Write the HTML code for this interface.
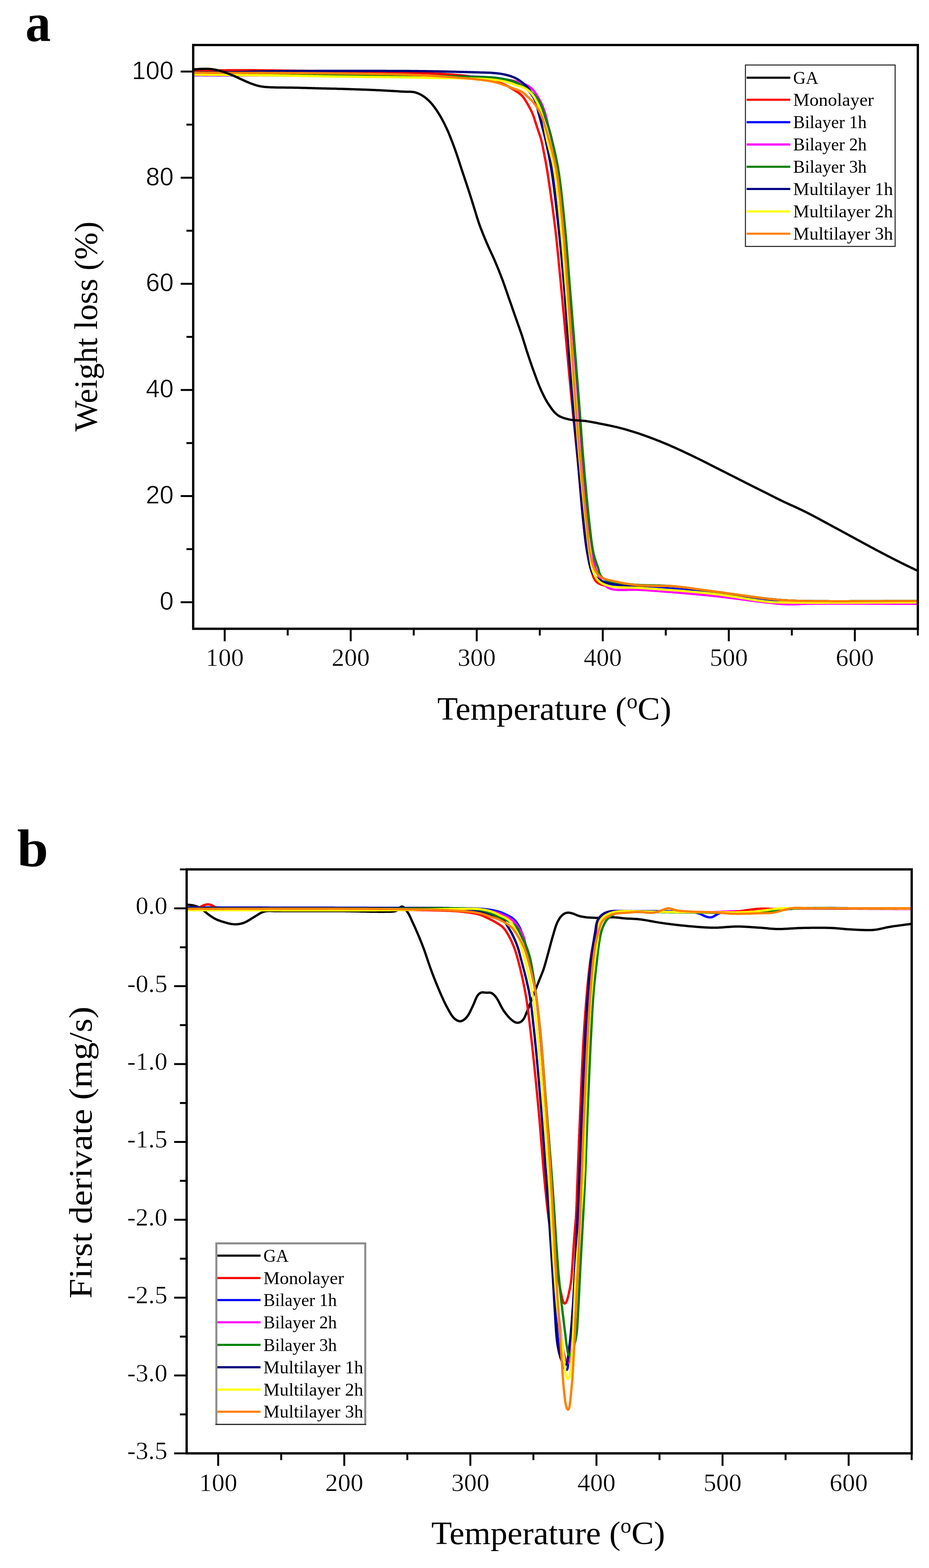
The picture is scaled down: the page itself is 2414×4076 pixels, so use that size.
<!DOCTYPE html>
<html><head><meta charset="utf-8"><title>TGA and DTG curves</title>
<style>
html,body{margin:0;padding:0;background:#fff;}
svg{display:block;}
</style></head>
<body>
<svg width="2414" height="4076" viewBox="0 0 2414 4076">
<rect x="0" y="0" width="2414" height="4076" fill="#fff"/>

<text x="66" y="107" font-family="'Liberation Serif', 'Times New Roman', serif" font-weight="bold" font-size="142" textLength="66" lengthAdjust="spacingAndGlyphs">a</text>
<text x="44.5" y="2252" font-family="'Liberation Serif', 'Times New Roman', serif" font-weight="bold" font-size="138" textLength="81" lengthAdjust="spacingAndGlyphs">b</text>
<defs><clipPath id="ca"><rect x="502.0" y="117.0" width="1883.0" height="1517.5"/></clipPath><clipPath id="cb"><rect x="485.0" y="2260.0" width="1884.0" height="1518.0"/></clipPath></defs>
<g clip-path="url(#ca)">
<path d="M502.0,185.0L505.0,184.9L508.0,184.8L511.0,184.8L514.0,184.7L517.0,184.6L520.0,184.5L523.0,184.4L526.0,184.3L529.0,184.2L532.0,184.1L535.0,184.0L538.0,184.0L541.0,183.9L544.0,183.8L547.0,183.7L550.0,183.6L553.0,183.5L556.0,183.4L559.0,183.3L562.0,183.3L565.0,183.2L568.0,183.1L571.0,183.0L574.0,183.0L577.0,182.9L580.0,182.8L583.0,182.8L586.0,182.7L589.0,182.7L592.0,182.6L595.0,182.6L598.0,182.5L601.0,182.5L604.0,182.5L607.0,182.4L610.0,182.4L613.0,182.4L616.0,182.4L619.0,182.4L622.0,182.4L625.0,182.4L628.0,182.4L631.0,182.4L634.0,182.4L637.0,182.4L640.0,182.4L643.0,182.4L646.0,182.5L649.0,182.5L652.0,182.5L655.0,182.5L658.0,182.6L661.0,182.6L664.0,182.6L667.0,182.7L670.0,182.7L673.0,182.7L676.0,182.7L679.0,182.8L682.0,182.8L685.0,182.8L688.0,182.9L691.0,182.9L694.0,182.9L697.0,183.0L700.0,183.0L703.0,183.0L706.0,183.1L709.0,183.1L712.0,183.1L715.0,183.2L718.0,183.2L721.0,183.2L724.0,183.3L727.0,183.3L730.0,183.3L733.0,183.4L736.0,183.4L739.0,183.5L742.0,183.5L745.0,183.5L748.0,183.6L751.0,183.6L754.0,183.7L757.0,183.7L760.0,183.7L763.0,183.8L766.0,183.8L769.0,183.9L772.0,183.9L775.0,184.0L778.0,184.0L781.0,184.0L784.0,184.1L787.0,184.1L790.0,184.2L793.0,184.2L796.0,184.3L799.0,184.3L802.0,184.4L805.0,184.4L808.0,184.5L811.0,184.5L814.0,184.6L817.0,184.6L820.0,184.7L823.0,184.7L826.0,184.7L829.0,184.8L832.0,184.8L834.9,184.9L837.9,184.9L840.9,185.0L843.9,185.0L846.9,185.1L849.9,185.1L852.9,185.2L855.9,185.2L858.9,185.3L861.9,185.3L864.9,185.4L867.9,185.4L870.9,185.5L873.9,185.5L876.9,185.6L879.9,185.7L882.9,185.7L885.9,185.8L888.9,185.8L891.9,185.9L894.9,185.9L897.9,186.0L900.9,186.0L903.9,186.1L906.9,186.1L909.9,186.2L912.9,186.2L915.9,186.3L918.9,186.3L921.9,186.4L924.9,186.4L927.9,186.5L930.9,186.5L933.9,186.5L936.9,186.6L939.9,186.6L942.9,186.7L945.9,186.7L948.9,186.8L951.9,186.8L954.9,186.9L957.9,186.9L960.9,186.9L963.9,187.0L966.9,187.0L969.9,187.1L972.9,187.1L975.9,187.2L978.9,187.2L981.9,187.3L984.9,187.3L987.9,187.3L990.9,187.4L993.9,187.4L996.9,187.5L999.9,187.5L1002.9,187.6L1005.9,187.6L1008.9,187.7L1011.9,187.7L1014.9,187.8L1017.9,187.8L1020.9,187.9L1023.9,188.0L1026.9,188.0L1029.9,188.1L1032.9,188.1L1035.9,188.2L1038.9,188.3L1041.9,188.3L1044.9,188.4L1047.9,188.4L1050.9,188.5L1053.9,188.6L1056.9,188.7L1059.9,188.7L1062.9,188.8L1065.9,188.9L1068.9,189.0L1071.9,189.1L1074.9,189.1L1077.9,189.2L1080.9,189.3L1083.9,189.4L1086.9,189.5L1089.9,189.6L1092.9,189.7L1095.9,189.8L1098.9,190.0L1101.9,190.1L1104.9,190.2L1107.9,190.3L1110.9,190.4L1113.9,190.6L1116.9,190.7L1119.9,190.8L1122.9,191.0L1125.9,191.1L1128.9,191.2L1131.9,191.4L1134.9,191.5L1137.9,191.7L1140.9,191.8L1143.9,192.0L1146.8,192.1L1149.8,192.3L1152.8,192.5L1155.8,192.6L1158.8,192.8L1161.8,193.0L1164.8,193.2L1167.8,193.4L1170.8,193.6L1173.8,193.8L1176.8,194.0L1179.8,194.2L1182.8,194.5L1185.8,194.7L1188.7,195.0L1191.7,195.2L1194.7,195.5L1197.7,195.8L1200.7,196.1L1203.7,196.4L1206.7,196.7L1209.6,197.0L1212.6,197.4L1215.6,197.7L1218.6,198.1L1221.6,198.5L1224.5,198.9L1227.5,199.3L1230.5,199.8L1233.4,200.2L1236.4,200.7L1239.4,201.2L1242.3,201.7L1245.3,202.2L1248.2,202.7L1251.2,203.2L1254.1,203.8L1257.1,204.3L1260.0,204.9L1263.0,205.5L1265.9,206.1L1268.8,206.7L1271.8,207.3L1274.7,208.0L1277.6,208.7L1280.5,209.4L1283.4,210.2L1286.3,211.0L1289.2,211.8L1292.1,212.7L1294.9,213.6L1297.8,214.6L1300.6,215.6L1303.4,216.6L1306.2,217.7L1309.0,218.9L1311.7,220.1L1314.4,221.3L1317.1,222.7L1319.8,224.1L1322.3,225.6L1324.9,227.1L1327.5,228.7L1330.0,230.3L1332.6,231.9L1335.1,233.4L1337.7,235.0L1340.2,236.6L1342.8,238.2L1345.2,239.9L1347.7,241.6L1350.1,243.3L1352.5,245.2L1354.7,247.2L1356.8,249.4L1358.7,251.6L1360.6,254.0L1362.3,256.4L1364.0,258.9L1365.6,261.4L1367.1,264.0L1368.7,266.6L1370.2,269.2L1371.7,271.8L1373.2,274.4L1374.7,277.0L1376.1,279.6L1377.5,282.3L1378.9,284.9L1380.2,287.6L1381.5,290.3L1382.7,293.1L1383.9,295.8L1385.1,298.6L1386.1,301.4L1387.1,304.2L1388.1,307.1L1389.0,309.9L1389.9,312.8L1390.7,315.7L1391.6,318.5L1392.6,321.4L1393.5,324.2L1394.4,327.1L1395.4,329.9L1396.3,332.8L1397.3,335.6L1398.2,338.5L1399.2,341.3L1400.2,344.1L1401.1,347.0L1402.1,349.8L1403.1,352.7L1404.0,355.5L1404.9,358.4L1405.7,361.3L1406.5,364.2L1407.2,367.1L1407.9,370.0L1408.6,372.9L1409.2,375.8L1409.8,378.8L1410.4,381.7L1411.0,384.7L1411.6,387.6L1412.2,390.5L1412.7,393.5L1413.3,396.4L1413.9,399.4L1414.5,402.3L1415.0,405.3L1415.6,408.2L1416.2,411.2L1416.7,414.1L1417.3,417.1L1417.9,420.0L1418.4,423.0L1418.9,425.9L1419.4,428.9L1419.9,431.8L1420.4,434.8L1420.9,437.7L1421.4,440.7L1421.9,443.7L1422.4,446.6L1422.8,449.6L1423.3,452.6L1423.7,455.5L1424.2,458.5L1424.6,461.4L1425.1,464.4L1425.5,467.4L1426.0,470.3L1426.4,473.3L1426.9,476.3L1427.3,479.3L1427.7,482.2L1428.2,485.2L1428.6,488.2L1429.0,491.1L1429.5,494.1L1429.9,497.1L1430.3,500.0L1430.7,503.0L1431.2,506.0L1431.6,508.9L1432.0,511.9L1432.4,514.9L1432.8,517.9L1433.2,520.8L1433.7,523.8L1434.1,526.8L1434.5,529.7L1434.9,532.7L1435.3,535.7L1435.7,538.7L1436.1,541.6L1436.5,544.6L1436.9,547.6L1437.3,550.6L1437.7,553.5L1438.1,556.5L1438.5,559.5L1438.8,562.5L1439.2,565.4L1439.6,568.4L1440.0,571.4L1440.4,574.4L1440.7,577.3L1441.1,580.3L1441.5,583.3L1441.8,586.3L1442.2,589.2L1442.6,592.2L1442.9,595.2L1443.3,598.2L1443.6,601.2L1444.0,604.1L1444.3,607.1L1444.6,610.1L1445.0,613.1L1445.3,616.1L1445.6,619.0L1446.0,622.0L1446.3,625.0L1446.6,628.0L1446.9,631.0L1447.2,634.0L1447.5,636.9L1447.8,639.9L1448.1,642.9L1448.4,645.9L1448.7,648.9L1449.0,651.9L1449.3,654.9L1449.6,657.8L1449.9,660.8L1450.2,663.8L1450.5,666.8L1450.8,669.8L1451.1,672.8L1451.4,675.8L1451.7,678.7L1451.9,681.7L1452.2,684.7L1452.5,687.7L1452.8,690.7L1453.1,693.7L1453.4,696.7L1453.6,699.6L1453.9,702.6L1454.2,705.6L1454.5,708.6L1454.8,711.6L1455.1,714.6L1455.3,717.6L1455.6,720.6L1455.9,723.5L1456.2,726.5L1456.5,729.5L1456.8,732.5L1457.1,735.5L1457.4,738.5L1457.6,741.5L1457.9,744.4L1458.2,747.4L1458.5,750.4L1458.8,753.4L1459.1,756.4L1459.4,759.4L1459.7,762.4L1459.9,765.3L1460.2,768.3L1460.5,771.3L1460.8,774.3L1461.1,777.3L1461.4,780.3L1461.6,783.3L1461.9,786.3L1462.2,789.2L1462.5,792.2L1462.8,795.2L1463.0,798.2L1463.3,801.2L1463.6,804.2L1463.9,807.2L1464.1,810.2L1464.4,813.1L1464.7,816.1L1465.0,819.1L1465.3,822.1L1465.5,825.1L1465.8,828.1L1466.1,831.1L1466.4,834.0L1466.6,837.0L1466.9,840.0L1467.2,843.0L1467.5,846.0L1467.7,849.0L1468.0,852.0L1468.3,855.0L1468.6,857.9L1468.8,860.9L1469.1,863.9L1469.4,866.9L1469.7,869.9L1469.9,872.9L1470.2,875.9L1470.5,878.9L1470.8,881.8L1471.0,884.8L1471.3,887.8L1471.6,890.8L1471.9,893.8L1472.1,896.8L1472.4,899.8L1472.7,902.8L1473.0,905.7L1473.2,908.7L1473.5,911.7L1473.8,914.7L1474.1,917.7L1474.3,920.7L1474.6,923.7L1474.9,926.7L1475.2,929.6L1475.4,932.6L1475.7,935.6L1476.0,938.6L1476.3,941.6L1476.5,944.6L1476.8,947.6L1477.1,950.6L1477.4,953.5L1477.6,956.5L1477.9,959.5L1478.2,962.5L1478.5,965.5L1478.8,968.5L1479.0,971.5L1479.3,974.5L1479.6,977.4L1479.9,980.4L1480.1,983.4L1480.4,986.4L1480.7,989.4L1481.0,992.4L1481.3,995.4L1481.5,998.3L1481.8,1001.3L1482.1,1004.3L1482.4,1007.3L1482.7,1010.3L1482.9,1013.3L1483.2,1016.3L1483.5,1019.3L1483.8,1022.2L1484.1,1025.2L1484.4,1028.2L1484.7,1031.2L1484.9,1034.2L1485.2,1037.2L1485.5,1040.2L1485.8,1043.1L1486.1,1046.1L1486.4,1049.1L1486.7,1052.1L1487.0,1055.1L1487.3,1058.1L1487.6,1061.1L1487.9,1064.0L1488.2,1067.0L1488.4,1070.0L1488.7,1073.0L1489.0,1076.0L1489.3,1079.0L1489.6,1082.0L1489.9,1084.9L1490.2,1087.9L1490.5,1090.9L1490.8,1093.9L1491.2,1096.9L1491.5,1099.9L1491.8,1102.8L1492.1,1105.8L1492.4,1108.8L1492.7,1111.8L1493.0,1114.8L1493.3,1117.8L1493.6,1120.8L1493.9,1123.7L1494.2,1126.7L1494.5,1129.7L1494.8,1132.7L1495.1,1135.7L1495.4,1138.7L1495.7,1141.6L1496.0,1144.6L1496.3,1147.6L1496.6,1150.6L1496.9,1153.6L1497.2,1156.6L1497.5,1159.6L1497.8,1162.5L1498.1,1165.5L1498.4,1168.5L1498.7,1171.5L1499.0,1174.5L1499.3,1177.5L1499.6,1180.5L1499.9,1183.4L1500.2,1186.4L1500.5,1189.4L1500.8,1192.4L1501.1,1195.4L1501.3,1198.4L1501.6,1201.4L1501.9,1204.3L1502.2,1207.3L1502.5,1210.3L1502.7,1213.3L1503.0,1216.3L1503.3,1219.3L1503.5,1222.3L1503.8,1225.3L1504.1,1228.2L1504.3,1231.2L1504.6,1234.2L1504.9,1237.2L1505.1,1240.2L1505.4,1243.2L1505.6,1246.2L1505.9,1249.2L1506.2,1252.2L1506.4,1255.1L1506.7,1258.1L1506.9,1261.1L1507.2,1264.1L1507.4,1267.1L1507.7,1270.1L1507.9,1273.1L1508.2,1276.1L1508.4,1279.1L1508.7,1282.0L1509.0,1285.0L1509.2,1288.0L1509.5,1291.0L1509.7,1294.0L1510.0,1297.0L1510.2,1300.0L1510.5,1303.0L1510.8,1306.0L1511.0,1308.9L1511.3,1311.9L1511.6,1314.9L1511.8,1317.9L1512.1,1320.9L1512.4,1323.9L1512.7,1326.9L1512.9,1329.9L1513.2,1332.8L1513.5,1335.8L1513.8,1338.8L1514.1,1341.8L1514.4,1344.8L1514.7,1347.8L1515.0,1350.8L1515.3,1353.7L1515.6,1356.7L1516.0,1359.7L1516.3,1362.7L1516.6,1365.7L1517.0,1368.7L1517.3,1371.6L1517.6,1374.6L1518.0,1377.6L1518.3,1380.6L1518.6,1383.6L1519.0,1386.5L1519.3,1389.5L1519.7,1392.5L1520.1,1395.5L1520.4,1398.5L1520.8,1401.4L1521.2,1404.4L1521.5,1407.4L1521.9,1410.4L1522.3,1413.3L1522.7,1416.3L1523.2,1419.3L1523.6,1422.2L1524.1,1425.2L1524.5,1428.2L1525.0,1431.1L1525.5,1434.1L1526.0,1437.0L1526.5,1440.0L1527.1,1443.0L1527.6,1445.9L1528.2,1448.8L1528.7,1451.8L1529.3,1454.7L1530.0,1457.7L1530.6,1460.6L1531.2,1463.5L1531.9,1466.4L1532.6,1469.4L1533.4,1472.3L1534.1,1475.2L1534.9,1478.1L1535.8,1480.9L1536.6,1483.8L1537.5,1486.7L1538.4,1489.5L1539.3,1492.4L1540.3,1495.2L1541.3,1498.1L1542.3,1500.9L1543.6,1503.6L1545.0,1506.2L1546.6,1508.7L1548.5,1511.0L1550.6,1513.1L1552.9,1514.9L1555.5,1516.4L1558.1,1517.8L1560.9,1519.0L1563.7,1520.0L1566.6,1520.9L1569.4,1521.6L1572.4,1522.3L1575.3,1522.8L1578.3,1523.2L1581.3,1523.5L1584.3,1523.7L1587.3,1524.0L1590.3,1524.2L1593.2,1524.4L1596.2,1524.7L1599.2,1524.9L1602.2,1525.2L1605.2,1525.5L1608.2,1525.8L1611.2,1526.1L1614.2,1526.3L1617.1,1526.6L1620.1,1526.8L1623.1,1527.1L1626.1,1527.3L1629.1,1527.5L1632.1,1527.8L1635.1,1528.0L1638.1,1528.2L1641.1,1528.4L1644.1,1528.6L1647.1,1528.8L1650.1,1529.0L1653.1,1529.2L1656.0,1529.4L1659.0,1529.5L1662.0,1529.7L1665.0,1529.8L1668.0,1530.0L1671.0,1530.1L1674.0,1530.2L1677.0,1530.3L1680.0,1530.5L1683.0,1530.6L1686.0,1530.7L1689.0,1530.8L1692.0,1530.9L1695.0,1531.1L1698.0,1531.2L1701.0,1531.3L1704.0,1531.4L1707.0,1531.6L1710.0,1531.7L1713.0,1531.8L1716.0,1532.0L1719.0,1532.1L1722.0,1532.2L1725.0,1532.4L1728.0,1532.6L1731.0,1532.7L1734.0,1532.9L1737.0,1533.1L1740.0,1533.3L1742.9,1533.5L1745.9,1533.7L1748.9,1533.9L1751.9,1534.2L1754.9,1534.4L1757.9,1534.7L1760.9,1534.9L1763.9,1535.2L1766.9,1535.5L1769.8,1535.8L1772.8,1536.0L1775.8,1536.3L1778.8,1536.6L1781.8,1537.0L1784.8,1537.3L1787.8,1537.6L1790.7,1537.9L1793.7,1538.2L1796.7,1538.6L1799.7,1538.9L1802.7,1539.2L1805.6,1539.6L1808.6,1539.9L1811.6,1540.3L1814.6,1540.6L1817.6,1541.0L1820.5,1541.4L1823.5,1541.7L1826.5,1542.1L1829.5,1542.4L1832.5,1542.8L1835.4,1543.2L1838.4,1543.6L1841.4,1543.9L1844.4,1544.3L1847.3,1544.7L1850.3,1545.0L1853.3,1545.4L1856.3,1545.8L1859.2,1546.2L1862.2,1546.6L1865.2,1547.0L1868.2,1547.4L1871.1,1547.8L1874.1,1548.2L1877.1,1548.6L1880.0,1549.0L1883.0,1549.5L1886.0,1549.9L1889.0,1550.3L1891.9,1550.7L1894.9,1551.2L1897.9,1551.6L1900.8,1552.0L1903.8,1552.5L1906.8,1552.9L1909.7,1553.3L1912.7,1553.8L1915.7,1554.2L1918.6,1554.6L1921.6,1555.0L1924.6,1555.5L1927.6,1555.9L1930.5,1556.3L1933.5,1556.7L1936.5,1557.2L1939.4,1557.6L1942.4,1558.0L1945.4,1558.4L1948.4,1558.8L1951.3,1559.2L1954.3,1559.6L1957.3,1560.0L1960.2,1560.4L1963.2,1560.8L1966.2,1561.2L1969.2,1561.5L1972.1,1561.9L1975.1,1562.3L1978.1,1562.7L1981.1,1563.1L1984.1,1563.4L1987.0,1563.7L1990.0,1564.1L1993.0,1564.4L1996.0,1564.6L1999.0,1564.9L2002.0,1565.1L2005.0,1565.4L2008.0,1565.6L2010.9,1565.8L2013.9,1565.9L2016.9,1566.1L2019.9,1566.2L2022.9,1566.3L2025.9,1566.4L2028.9,1566.5L2031.9,1566.6L2034.9,1566.7L2037.9,1566.7L2040.9,1566.8L2043.9,1566.9L2046.9,1566.9L2049.9,1567.0L2052.9,1567.1L2055.9,1567.1L2058.9,1567.1L2061.9,1567.2L2064.9,1567.2L2067.9,1567.3L2070.9,1567.3L2073.9,1567.3L2076.9,1567.3L2079.9,1567.4L2082.9,1567.4L2085.9,1567.4L2088.9,1567.4L2091.9,1567.4L2094.9,1567.5L2097.9,1567.5L2100.9,1567.5L2103.9,1567.5L2106.9,1567.5L2109.9,1567.5L2112.9,1567.5L2115.9,1567.5L2118.9,1567.5L2121.9,1567.5L2124.9,1567.5L2127.9,1567.5L2130.9,1567.5L2133.9,1567.6L2136.9,1567.6L2139.9,1567.6L2142.9,1567.6L2145.9,1567.6L2148.9,1567.5L2151.9,1567.5L2154.9,1567.5L2157.9,1567.5L2160.9,1567.5L2163.9,1567.5L2166.9,1567.5L2169.9,1567.5L2172.9,1567.5L2175.9,1567.5L2178.9,1567.5L2181.9,1567.5L2184.9,1567.5L2187.9,1567.5L2190.9,1567.5L2193.9,1567.5L2196.9,1567.5L2199.9,1567.5L2202.9,1567.5L2205.9,1567.4L2208.9,1567.4L2211.9,1567.4L2214.9,1567.4L2217.9,1567.4L2220.9,1567.4L2223.9,1567.4L2226.9,1567.4L2229.9,1567.4L2232.9,1567.4L2235.9,1567.4L2238.9,1567.3L2241.9,1567.3L2244.9,1567.3L2247.9,1567.3L2250.9,1567.3L2253.9,1567.3L2256.9,1567.3L2259.9,1567.3L2262.9,1567.3L2265.9,1567.3L2268.9,1567.3L2271.9,1567.2L2274.9,1567.2L2277.9,1567.2L2280.9,1567.2L2283.9,1567.2L2286.9,1567.2L2289.9,1567.2L2292.9,1567.2L2295.9,1567.2L2298.9,1567.2L2301.9,1567.1L2304.9,1567.1L2307.9,1567.1L2310.9,1567.1L2313.9,1567.1L2316.9,1567.1L2319.9,1567.1L2322.9,1567.1L2325.9,1567.1L2328.9,1567.1L2331.9,1567.1L2334.9,1567.1L2337.9,1567.1L2340.9,1567.0L2343.9,1567.0L2346.9,1567.0L2349.9,1567.0L2352.9,1567.0L2355.9,1567.0L2358.9,1567.0L2361.9,1567.0L2364.9,1567.0L2367.9,1567.0L2370.9,1567.0L2373.9,1567.0L2376.9,1567.0L2379.9,1567.0L2382.9,1567.0L2383.9,1567.0" fill="none" stroke="#FF0000" stroke-width="6" stroke-linejoin="round" stroke-linecap="butt"/>
<path d="M502.0,195.5L505.0,195.5L508.0,195.5L511.0,195.5L514.0,195.6L517.0,195.6L520.0,195.6L523.0,195.6L526.0,195.6L529.0,195.7L532.0,195.7L535.0,195.7L538.0,195.7L541.0,195.7L544.0,195.7L547.0,195.8L550.0,195.8L553.0,195.8L556.0,195.8L559.0,195.8L562.0,195.8L565.0,195.9L568.0,195.9L571.0,195.9L574.0,195.9L577.0,195.9L580.0,195.9L583.0,195.9L586.0,195.9L589.0,196.0L592.0,196.0L595.0,196.0L598.0,196.0L601.0,196.0L604.0,196.0L607.0,196.0L610.0,196.0L613.0,196.0L616.0,196.0L619.0,196.1L622.0,196.1L625.0,196.1L628.0,196.1L631.0,196.1L634.0,196.1L637.0,196.1L640.0,196.1L643.0,196.1L646.0,196.1L649.0,196.1L652.0,196.1L655.0,196.1L658.0,196.1L661.0,196.1L664.0,196.1L667.0,196.1L670.0,196.1L673.0,196.1L676.0,196.1L679.0,196.1L682.0,196.1L685.0,196.2L688.0,196.2L691.0,196.2L694.0,196.2L697.0,196.2L700.0,196.2L703.0,196.2L706.0,196.2L709.0,196.2L712.0,196.2L715.0,196.2L718.0,196.2L721.0,196.2L724.0,196.2L727.0,196.2L730.0,196.2L733.0,196.2L736.0,196.2L739.0,196.2L742.0,196.2L745.0,196.2L748.0,196.2L751.0,196.2L754.0,196.2L757.0,196.2L760.0,196.2L763.0,196.2L766.0,196.2L769.0,196.2L772.0,196.2L775.0,196.2L778.0,196.2L781.0,196.3L784.0,196.3L787.0,196.3L790.0,196.3L793.0,196.3L796.0,196.3L799.0,196.3L802.0,196.3L805.0,196.3L808.0,196.3L811.0,196.3L814.0,196.3L817.0,196.3L820.0,196.3L823.0,196.3L826.0,196.3L829.0,196.3L832.0,196.3L835.0,196.4L838.0,196.4L841.0,196.4L844.0,196.4L847.0,196.4L850.0,196.4L853.0,196.4L856.0,196.4L859.0,196.4L862.0,196.4L865.0,196.4L868.0,196.5L871.0,196.5L874.0,196.5L877.0,196.5L880.0,196.5L883.0,196.5L886.0,196.5L889.0,196.5L892.0,196.6L895.0,196.6L898.0,196.6L901.0,196.6L904.0,196.6L907.0,196.6L910.0,196.6L913.0,196.7L916.0,196.7L919.0,196.7L922.0,196.7L925.0,196.7L928.0,196.7L931.0,196.7L934.0,196.8L937.0,196.8L940.0,196.8L943.0,196.8L946.0,196.8L949.0,196.8L952.0,196.9L955.0,196.9L958.0,196.9L961.0,196.9L964.0,196.9L967.0,196.9L970.0,197.0L973.0,197.0L976.0,197.0L979.0,197.0L982.0,197.0L985.0,197.1L988.0,197.1L991.0,197.1L994.0,197.1L997.0,197.1L1000.0,197.2L1003.0,197.2L1006.0,197.2L1009.0,197.2L1012.0,197.2L1015.0,197.3L1018.0,197.3L1021.0,197.3L1024.0,197.3L1027.0,197.4L1030.0,197.4L1033.0,197.4L1036.0,197.4L1039.0,197.5L1042.0,197.5L1045.0,197.5L1048.0,197.5L1051.0,197.6L1054.0,197.6L1057.0,197.6L1060.0,197.6L1063.0,197.7L1066.0,197.7L1069.0,197.7L1072.0,197.7L1075.0,197.8L1078.0,197.8L1081.0,197.8L1084.0,197.8L1087.0,197.9L1090.0,197.9L1093.0,197.9L1096.0,198.0L1099.0,198.0L1102.0,198.0L1105.0,198.0L1108.0,198.1L1111.0,198.1L1114.0,198.1L1117.0,198.1L1120.0,198.2L1123.0,198.2L1126.0,198.2L1129.0,198.2L1132.0,198.2L1135.0,198.3L1138.0,198.3L1141.0,198.3L1144.0,198.3L1147.0,198.3L1150.0,198.4L1153.0,198.4L1156.0,198.4L1159.0,198.4L1162.0,198.4L1165.0,198.4L1168.0,198.5L1171.0,198.5L1174.0,198.5L1177.0,198.5L1180.0,198.6L1183.0,198.6L1186.0,198.6L1189.0,198.6L1192.0,198.7L1195.0,198.7L1198.0,198.7L1201.0,198.8L1204.0,198.8L1207.0,198.8L1210.0,198.9L1213.0,198.9L1216.0,199.0L1219.0,199.1L1222.0,199.1L1225.0,199.2L1228.0,199.3L1231.0,199.3L1234.0,199.4L1237.0,199.5L1240.0,199.6L1243.0,199.7L1246.0,199.8L1249.0,200.0L1252.0,200.1L1255.0,200.2L1258.0,200.4L1261.0,200.5L1264.0,200.7L1267.0,200.8L1269.9,201.0L1272.9,201.2L1275.9,201.4L1278.9,201.6L1281.9,201.8L1284.9,202.1L1287.9,202.4L1290.9,202.7L1293.8,203.1L1296.8,203.5L1299.8,204.0L1302.7,204.5L1305.7,205.0L1308.6,205.5L1311.6,206.1L1314.5,206.7L1317.5,207.4L1320.4,208.0L1323.3,208.8L1326.2,209.5L1329.1,210.4L1331.9,211.2L1334.8,212.2L1337.6,213.2L1340.4,214.2L1343.2,215.4L1345.9,216.6L1348.6,217.9L1351.3,219.3L1353.9,220.7L1356.5,222.2L1359.0,223.8L1361.5,225.5L1363.9,227.3L1366.3,229.2L1368.5,231.1L1370.7,233.2L1372.8,235.4L1374.8,237.6L1376.7,239.9L1378.6,242.2L1380.4,244.6L1382.1,247.1L1383.8,249.5L1385.4,252.1L1387.0,254.6L1388.4,257.3L1389.9,259.9L1391.2,262.6L1392.5,265.3L1393.8,268.0L1395.0,270.7L1396.1,273.5L1397.2,276.3L1398.2,279.1L1399.2,282.0L1400.2,284.8L1401.2,287.6L1402.1,290.5L1403.0,293.3L1403.9,296.2L1404.8,299.1L1405.6,301.9L1406.4,304.8L1407.2,307.7L1408.0,310.6L1408.8,313.5L1409.6,316.4L1410.4,319.3L1411.1,322.2L1411.9,325.1L1412.7,328.0L1413.4,330.9L1414.2,333.8L1414.9,336.7L1415.6,339.6L1416.3,342.6L1417.0,345.5L1417.6,348.4L1418.3,351.3L1418.9,354.3L1419.5,357.2L1420.1,360.2L1420.7,363.1L1421.3,366.0L1421.8,369.0L1422.4,371.9L1423.0,374.9L1423.5,377.8L1424.1,380.8L1424.6,383.7L1425.2,386.7L1425.7,389.6L1426.2,392.6L1426.8,395.5L1427.3,398.5L1427.8,401.4L1428.3,404.4L1428.8,407.4L1429.3,410.3L1429.8,413.3L1430.3,416.2L1430.8,419.2L1431.2,422.2L1431.7,425.1L1432.2,428.1L1432.6,431.1L1433.1,434.0L1433.5,437.0L1434.0,440.0L1434.4,442.9L1434.9,445.9L1435.3,448.9L1435.7,451.8L1436.1,454.8L1436.5,457.8L1436.9,460.7L1437.3,463.7L1437.7,466.7L1438.1,469.7L1438.5,472.6L1438.9,475.6L1439.3,478.6L1439.7,481.6L1440.0,484.5L1440.4,487.5L1440.8,490.5L1441.1,493.5L1441.5,496.5L1441.9,499.4L1442.2,502.4L1442.6,505.4L1442.9,508.4L1443.3,511.3L1443.6,514.3L1444.0,517.3L1444.3,520.3L1444.7,523.3L1445.0,526.2L1445.3,529.2L1445.7,532.2L1446.0,535.2L1446.4,538.2L1446.7,541.2L1447.0,544.1L1447.4,547.1L1447.7,550.1L1448.0,553.1L1448.3,556.1L1448.7,559.0L1449.0,562.0L1449.3,565.0L1449.6,568.0L1450.0,571.0L1450.3,574.0L1450.6,576.9L1450.9,579.9L1451.2,582.9L1451.6,585.9L1451.9,588.9L1452.2,591.9L1452.5,594.8L1452.8,597.8L1453.1,600.8L1453.4,603.8L1453.8,606.8L1454.1,609.8L1454.4,612.7L1454.7,615.7L1455.0,618.7L1455.3,621.7L1455.6,624.7L1455.9,627.7L1456.2,630.7L1456.5,633.6L1456.7,636.6L1457.0,639.6L1457.3,642.6L1457.6,645.6L1457.9,648.6L1458.2,651.6L1458.5,654.5L1458.7,657.5L1459.0,660.5L1459.3,663.5L1459.6,666.5L1459.8,669.5L1460.1,672.5L1460.4,675.5L1460.6,678.4L1460.9,681.4L1461.2,684.4L1461.4,687.4L1461.7,690.4L1462.0,693.4L1462.2,696.4L1462.5,699.4L1462.8,702.3L1463.0,705.3L1463.3,708.3L1463.5,711.3L1463.8,714.3L1464.1,717.3L1464.3,720.3L1464.6,723.3L1464.8,726.3L1465.1,729.2L1465.3,732.2L1465.6,735.2L1465.8,738.2L1466.1,741.2L1466.4,744.2L1466.6,747.2L1466.9,750.2L1467.1,753.2L1467.3,756.2L1467.6,759.1L1467.8,762.1L1468.1,765.1L1468.3,768.1L1468.6,771.1L1468.8,774.1L1469.0,777.1L1469.3,780.1L1469.5,783.1L1469.7,786.1L1470.0,789.0L1470.2,792.0L1470.4,795.0L1470.7,798.0L1470.9,801.0L1471.1,804.0L1471.4,807.0L1471.6,810.0L1471.8,813.0L1472.0,816.0L1472.3,819.0L1472.5,822.0L1472.7,824.9L1473.0,827.9L1473.2,830.9L1473.4,833.9L1473.6,836.9L1473.9,839.9L1474.1,842.9L1474.3,845.9L1474.5,848.9L1474.8,851.9L1475.0,854.9L1475.2,857.9L1475.4,860.8L1475.6,863.8L1475.9,866.8L1476.1,869.8L1476.3,872.8L1476.5,875.8L1476.8,878.8L1477.0,881.8L1477.2,884.8L1477.4,887.8L1477.6,890.8L1477.9,893.8L1478.1,896.7L1478.3,899.7L1478.5,902.7L1478.7,905.7L1479.0,908.7L1479.2,911.7L1479.4,914.7L1479.6,917.7L1479.9,920.7L1480.1,923.7L1480.3,926.7L1480.5,929.7L1480.7,932.6L1481.0,935.6L1481.2,938.6L1481.4,941.6L1481.6,944.6L1481.9,947.6L1482.1,950.6L1482.3,953.6L1482.5,956.6L1482.8,959.6L1483.0,962.6L1483.2,965.6L1483.4,968.5L1483.7,971.5L1483.9,974.5L1484.1,977.5L1484.3,980.5L1484.6,983.5L1484.8,986.5L1485.0,989.5L1485.2,992.5L1485.5,995.5L1485.7,998.5L1485.9,1001.4L1486.2,1004.4L1486.4,1007.4L1486.6,1010.4L1486.9,1013.4L1487.1,1016.4L1487.3,1019.4L1487.6,1022.4L1487.8,1025.4L1488.1,1028.4L1488.3,1031.4L1488.5,1034.3L1488.8,1037.3L1489.0,1040.3L1489.3,1043.3L1489.5,1046.3L1489.8,1049.3L1490.0,1052.3L1490.3,1055.3L1490.5,1058.3L1490.8,1061.3L1491.0,1064.2L1491.3,1067.2L1491.5,1070.2L1491.8,1073.2L1492.0,1076.2L1492.3,1079.2L1492.5,1082.2L1492.8,1085.2L1493.0,1088.2L1493.3,1091.1L1493.6,1094.1L1493.8,1097.1L1494.1,1100.1L1494.3,1103.1L1494.6,1106.1L1494.9,1109.1L1495.1,1112.1L1495.4,1115.1L1495.6,1118.0L1495.9,1121.0L1496.2,1124.0L1496.4,1127.0L1496.7,1130.0L1497.0,1133.0L1497.2,1136.0L1497.5,1139.0L1497.8,1142.0L1498.0,1144.9L1498.3,1147.9L1498.6,1150.9L1498.8,1153.9L1499.1,1156.9L1499.4,1159.9L1499.6,1162.9L1499.9,1165.9L1500.2,1168.8L1500.4,1171.8L1500.7,1174.8L1501.0,1177.8L1501.3,1180.8L1501.5,1183.8L1501.8,1186.8L1502.1,1189.8L1502.3,1192.7L1502.6,1195.7L1502.9,1198.7L1503.2,1201.7L1503.4,1204.7L1503.7,1207.7L1504.0,1210.7L1504.2,1213.7L1504.5,1216.6L1504.8,1219.6L1505.0,1222.6L1505.3,1225.6L1505.6,1228.6L1505.8,1231.6L1506.1,1234.6L1506.4,1237.6L1506.6,1240.6L1506.9,1243.5L1507.2,1246.5L1507.4,1249.5L1507.7,1252.5L1508.0,1255.5L1508.2,1258.5L1508.5,1261.5L1508.8,1264.5L1509.1,1267.4L1509.3,1270.4L1509.6,1273.4L1509.9,1276.4L1510.1,1279.4L1510.4,1282.4L1510.7,1285.4L1511.0,1288.4L1511.2,1291.3L1511.5,1294.3L1511.8,1297.3L1512.1,1300.3L1512.3,1303.3L1512.6,1306.3L1512.9,1309.3L1513.2,1312.3L1513.5,1315.2L1513.8,1318.2L1514.0,1321.2L1514.3,1324.2L1514.6,1327.2L1514.9,1330.2L1515.2,1333.2L1515.5,1336.1L1515.8,1339.1L1516.1,1342.1L1516.4,1345.1L1516.7,1348.1L1517.0,1351.1L1517.4,1354.0L1517.7,1357.0L1518.0,1360.0L1518.3,1363.0L1518.6,1366.0L1519.0,1369.0L1519.3,1371.9L1519.6,1374.9L1519.9,1377.9L1520.2,1380.9L1520.5,1383.9L1520.8,1386.9L1521.2,1389.8L1521.5,1392.8L1521.8,1395.8L1522.1,1398.8L1522.5,1401.8L1522.8,1404.8L1523.2,1407.7L1523.5,1410.7L1523.9,1413.7L1524.3,1416.7L1524.7,1419.6L1525.1,1422.6L1525.6,1425.6L1526.0,1428.5L1526.5,1431.5L1527.0,1434.5L1527.5,1437.4L1528.1,1440.4L1528.6,1443.3L1529.2,1446.3L1529.7,1449.2L1530.2,1452.2L1530.8,1455.1L1531.3,1458.1L1531.9,1461.0L1532.5,1463.9L1533.2,1466.9L1533.8,1469.8L1534.6,1472.7L1535.4,1475.6L1536.3,1478.5L1537.2,1481.3L1538.3,1484.1L1539.5,1486.8L1540.9,1489.5L1542.4,1492.1L1543.9,1494.6L1545.7,1497.1L1547.5,1499.4L1549.4,1501.7L1551.5,1503.9L1553.7,1505.9L1556.0,1507.8L1558.4,1509.6L1561.0,1511.2L1563.6,1512.6L1566.3,1513.9L1569.1,1515.0L1571.9,1515.9L1574.8,1516.7L1577.7,1517.4L1580.6,1518.0L1583.6,1518.6L1586.5,1519.1L1589.5,1519.5L1592.5,1519.9L1595.4,1520.4L1598.4,1520.8L1601.4,1521.2L1604.4,1521.5L1607.4,1521.8L1610.3,1522.1L1613.3,1522.3L1616.3,1522.5L1619.3,1522.6L1622.3,1522.8L1625.3,1522.9L1628.3,1523.0L1631.3,1523.1L1634.3,1523.2L1637.3,1523.3L1640.3,1523.4L1643.3,1523.6L1646.3,1523.8L1649.3,1524.0L1652.3,1524.2L1655.3,1524.4L1658.3,1524.6L1661.3,1524.8L1664.3,1525.0L1667.2,1525.2L1670.2,1525.4L1673.2,1525.6L1676.2,1525.8L1679.2,1526.0L1682.2,1526.2L1685.2,1526.5L1688.2,1526.7L1691.2,1526.9L1694.2,1527.1L1697.2,1527.3L1700.2,1527.5L1703.2,1527.7L1706.1,1527.9L1709.1,1528.2L1712.1,1528.4L1715.1,1528.6L1718.1,1528.8L1721.1,1529.0L1724.1,1529.2L1727.1,1529.5L1730.1,1529.7L1733.1,1529.9L1736.1,1530.1L1739.1,1530.4L1742.1,1530.6L1745.0,1530.8L1748.0,1531.0L1751.0,1531.3L1754.0,1531.5L1757.0,1531.7L1760.0,1532.0L1763.0,1532.2L1766.0,1532.4L1769.0,1532.7L1772.0,1532.9L1775.0,1533.2L1777.9,1533.4L1780.9,1533.6L1783.9,1533.9L1786.9,1534.1L1789.9,1534.4L1792.9,1534.6L1795.9,1534.9L1798.9,1535.2L1801.9,1535.4L1804.8,1535.7L1807.8,1535.9L1810.8,1536.2L1813.8,1536.5L1816.8,1536.7L1819.8,1537.0L1822.8,1537.3L1825.8,1537.6L1828.7,1537.9L1831.7,1538.1L1834.7,1538.4L1837.7,1538.7L1840.7,1539.0L1843.7,1539.3L1846.7,1539.7L1849.6,1540.0L1852.6,1540.3L1855.6,1540.6L1858.6,1541.0L1861.6,1541.3L1864.5,1541.6L1867.5,1542.0L1870.5,1542.4L1873.5,1542.7L1876.5,1543.1L1879.4,1543.5L1882.4,1543.9L1885.4,1544.3L1888.4,1544.7L1891.3,1545.0L1894.3,1545.4L1897.3,1545.9L1900.2,1546.3L1903.2,1546.7L1906.2,1547.1L1909.2,1547.5L1912.1,1547.9L1915.1,1548.3L1918.1,1548.8L1921.0,1549.2L1924.0,1549.6L1927.0,1550.0L1930.0,1550.5L1932.9,1550.9L1935.9,1551.3L1938.9,1551.8L1941.8,1552.2L1944.8,1552.6L1947.8,1553.1L1950.7,1553.5L1953.7,1553.9L1956.7,1554.3L1959.6,1554.8L1962.6,1555.2L1965.6,1555.6L1968.6,1556.0L1971.5,1556.4L1974.5,1556.8L1977.5,1557.2L1980.4,1557.6L1983.4,1558.0L1986.4,1558.4L1989.4,1558.8L1992.4,1559.1L1995.3,1559.5L1998.3,1559.8L2001.3,1560.1L2004.3,1560.4L2007.3,1560.8L2010.2,1561.0L2013.2,1561.3L2016.2,1561.6L2019.2,1561.9L2022.2,1562.2L2025.2,1562.4L2028.2,1562.6L2031.2,1562.9L2034.2,1563.1L2037.2,1563.3L2040.1,1563.5L2043.1,1563.6L2046.1,1563.8L2049.1,1563.9L2052.1,1564.1L2055.1,1564.2L2058.1,1564.3L2061.1,1564.4L2064.1,1564.5L2067.1,1564.6L2070.1,1564.7L2073.1,1564.7L2076.1,1564.8L2079.1,1564.8L2082.1,1564.8L2085.1,1564.9L2088.1,1564.9L2091.1,1564.9L2094.1,1564.9L2097.1,1565.0L2100.1,1565.0L2103.1,1565.0L2106.1,1565.1L2109.1,1565.1L2112.1,1565.1L2115.1,1565.1L2118.1,1565.1L2121.1,1565.1L2124.1,1565.2L2127.1,1565.2L2130.1,1565.2L2133.1,1565.2L2136.1,1565.2L2139.1,1565.2L2142.1,1565.2L2145.1,1565.2L2148.1,1565.2L2151.1,1565.2L2154.1,1565.2L2157.1,1565.2L2160.1,1565.2L2163.1,1565.2L2166.1,1565.2L2169.1,1565.2L2172.1,1565.2L2175.1,1565.2L2178.1,1565.2L2181.1,1565.2L2184.1,1565.2L2187.1,1565.2L2190.1,1565.2L2193.1,1565.2L2196.1,1565.2L2199.1,1565.2L2202.1,1565.2L2205.1,1565.2L2208.1,1565.2L2211.1,1565.2L2214.1,1565.2L2217.1,1565.2L2220.1,1565.2L2223.1,1565.2L2226.1,1565.2L2229.1,1565.2L2232.1,1565.2L2235.1,1565.2L2238.1,1565.2L2241.1,1565.2L2244.1,1565.2L2247.1,1565.2L2250.1,1565.2L2253.1,1565.2L2256.1,1565.2L2259.1,1565.2L2262.1,1565.2L2265.1,1565.2L2268.1,1565.1L2271.1,1565.1L2274.1,1565.1L2277.1,1565.1L2280.1,1565.1L2283.1,1565.1L2286.1,1565.1L2289.1,1565.1L2292.1,1565.1L2295.1,1565.1L2298.1,1565.1L2301.1,1565.1L2304.1,1565.1L2307.1,1565.1L2310.1,1565.1L2313.1,1565.1L2316.1,1565.1L2319.1,1565.1L2322.1,1565.1L2325.1,1565.1L2328.1,1565.0L2331.1,1565.0L2334.1,1565.0L2337.1,1565.0L2340.1,1565.0L2343.1,1565.0L2346.1,1565.0L2349.1,1565.0L2352.1,1565.0L2355.1,1565.0L2358.1,1565.0L2361.1,1565.0L2364.1,1565.0L2367.1,1565.0L2370.1,1565.0L2373.1,1565.0L2376.1,1565.0L2379.1,1565.0L2382.1,1565.0L2383.1,1565.0" fill="none" stroke="#0000FF" stroke-width="6" stroke-linejoin="round" stroke-linecap="butt"/>
<path d="M502.0,195.0L505.0,195.0L508.0,195.0L511.0,195.0L514.0,195.1L517.0,195.1L520.0,195.1L523.0,195.1L526.0,195.1L529.0,195.1L532.0,195.2L535.0,195.2L538.0,195.2L541.0,195.2L544.0,195.2L547.0,195.2L550.0,195.2L553.0,195.3L556.0,195.3L559.0,195.3L562.0,195.3L565.0,195.3L568.0,195.3L571.0,195.3L574.0,195.4L577.0,195.4L580.0,195.4L583.0,195.4L586.0,195.4L589.0,195.4L592.0,195.5L595.0,195.5L598.0,195.5L601.0,195.5L604.0,195.5L607.0,195.5L610.0,195.5L613.0,195.6L616.0,195.6L619.0,195.6L622.0,195.6L625.0,195.6L628.0,195.6L631.0,195.6L634.0,195.7L637.0,195.7L640.0,195.7L643.0,195.7L646.0,195.7L649.0,195.7L652.0,195.7L655.0,195.8L658.0,195.8L661.0,195.8L664.0,195.8L667.0,195.8L670.0,195.8L673.0,195.8L676.0,195.9L679.0,195.9L682.0,195.9L685.0,195.9L688.0,195.9L691.0,195.9L694.0,195.9L697.0,196.0L700.0,196.0L703.0,196.0L706.0,196.0L709.0,196.0L712.0,196.0L715.0,196.0L718.0,196.1L721.0,196.1L724.0,196.1L727.0,196.1L730.0,196.1L733.0,196.1L736.0,196.1L739.0,196.2L742.0,196.2L745.0,196.2L748.0,196.2L751.0,196.2L754.0,196.2L757.0,196.3L760.0,196.3L763.0,196.3L766.0,196.3L769.0,196.3L772.0,196.3L775.0,196.4L778.0,196.4L781.0,196.4L784.0,196.4L787.0,196.4L790.0,196.4L793.0,196.5L796.0,196.5L799.0,196.5L802.0,196.5L805.0,196.5L808.0,196.5L811.0,196.6L814.0,196.6L817.0,196.6L820.0,196.6L823.0,196.6L826.0,196.6L829.0,196.7L832.0,196.7L835.0,196.7L838.0,196.7L841.0,196.7L844.0,196.8L847.0,196.8L850.0,196.8L853.0,196.8L856.0,196.8L859.0,196.9L862.0,196.9L865.0,196.9L868.0,196.9L871.0,196.9L874.0,197.0L877.0,197.0L880.0,197.0L883.0,197.0L886.0,197.0L889.0,197.1L892.0,197.1L895.0,197.1L898.0,197.1L901.0,197.1L904.0,197.2L907.0,197.2L910.0,197.2L913.0,197.2L916.0,197.2L919.0,197.3L922.0,197.3L925.0,197.3L928.0,197.3L931.0,197.3L934.0,197.3L937.0,197.4L940.0,197.4L943.0,197.4L946.0,197.4L949.0,197.4L952.0,197.5L955.0,197.5L958.0,197.5L961.0,197.5L964.0,197.5L967.0,197.6L970.0,197.6L973.0,197.6L976.0,197.6L979.0,197.6L982.0,197.7L985.0,197.7L988.0,197.7L991.0,197.7L994.0,197.7L997.0,197.8L1000.0,197.8L1003.0,197.8L1006.0,197.8L1009.0,197.9L1012.0,197.9L1015.0,197.9L1018.0,197.9L1021.0,198.0L1024.0,198.0L1027.0,198.0L1030.0,198.0L1033.0,198.1L1036.0,198.1L1039.0,198.1L1042.0,198.2L1045.0,198.2L1048.0,198.2L1051.0,198.3L1054.0,198.3L1057.0,198.3L1060.0,198.4L1063.0,198.4L1066.0,198.5L1069.0,198.5L1072.0,198.5L1075.0,198.6L1078.0,198.6L1081.0,198.7L1084.0,198.7L1087.0,198.8L1090.0,198.8L1093.0,198.9L1096.0,198.9L1099.0,199.0L1102.0,199.0L1105.0,199.1L1108.0,199.1L1111.0,199.2L1114.0,199.2L1117.0,199.3L1120.0,199.3L1123.0,199.4L1126.0,199.4L1129.0,199.5L1132.0,199.5L1135.0,199.6L1138.0,199.6L1141.0,199.7L1144.0,199.7L1147.0,199.8L1150.0,199.8L1153.0,199.9L1156.0,199.9L1159.0,200.0L1162.0,200.0L1165.0,200.1L1168.0,200.1L1171.0,200.2L1174.0,200.2L1177.0,200.3L1180.0,200.4L1183.0,200.4L1186.0,200.5L1189.0,200.5L1192.0,200.6L1195.0,200.7L1198.0,200.7L1201.0,200.8L1204.0,200.9L1207.0,200.9L1210.0,201.0L1213.0,201.1L1216.0,201.2L1219.0,201.2L1222.0,201.3L1225.0,201.4L1228.0,201.5L1231.0,201.6L1234.0,201.7L1237.0,201.8L1240.0,201.9L1242.9,202.0L1245.9,202.2L1248.9,202.3L1251.9,202.4L1254.9,202.5L1257.9,202.7L1260.9,202.8L1263.9,203.0L1266.9,203.2L1269.9,203.3L1272.9,203.5L1275.9,203.7L1278.9,203.9L1281.9,204.1L1284.9,204.4L1287.9,204.6L1290.9,204.8L1293.9,205.1L1296.8,205.3L1299.8,205.6L1302.8,205.9L1305.8,206.2L1308.8,206.5L1311.8,206.8L1314.8,207.1L1317.7,207.5L1320.7,207.9L1323.7,208.3L1326.6,208.8L1329.6,209.3L1332.5,209.8L1335.5,210.4L1338.4,211.0L1341.3,211.7L1344.3,212.4L1347.2,213.2L1350.0,214.0L1352.9,214.9L1355.7,215.9L1358.6,216.9L1361.3,218.0L1364.1,219.1L1366.8,220.4L1369.5,221.8L1372.1,223.2L1374.6,224.8L1377.1,226.6L1379.4,228.4L1381.6,230.4L1383.7,232.5L1385.8,234.8L1387.7,237.1L1389.5,239.5L1391.2,241.9L1392.9,244.4L1394.6,246.9L1396.1,249.4L1397.7,252.0L1399.2,254.6L1400.7,257.2L1402.1,259.8L1403.5,262.5L1404.9,265.1L1406.2,267.8L1407.5,270.5L1408.8,273.3L1409.9,276.0L1411.0,278.8L1412.1,281.6L1413.1,284.5L1414.0,287.3L1415.0,290.1L1415.9,293.0L1416.8,295.9L1417.6,298.8L1418.4,301.6L1419.2,304.5L1419.9,307.5L1420.6,310.4L1421.3,313.3L1422.0,316.2L1422.6,319.1L1423.3,322.1L1424.0,325.0L1424.7,327.9L1425.5,330.8L1426.3,333.7L1427.1,336.6L1427.9,339.5L1428.7,342.4L1429.5,345.2L1430.4,348.1L1431.2,351.0L1431.9,353.9L1432.7,356.8L1433.4,359.7L1434.1,362.6L1434.8,365.6L1435.5,368.5L1436.2,371.4L1436.9,374.3L1437.6,377.2L1438.2,380.2L1438.9,383.1L1439.6,386.0L1440.2,388.9L1440.9,391.9L1441.5,394.8L1442.1,397.7L1442.7,400.7L1443.3,403.6L1443.9,406.6L1444.5,409.5L1445.1,412.4L1445.7,415.4L1446.2,418.3L1446.8,421.3L1447.3,424.2L1447.8,427.2L1448.4,430.1L1448.9,433.1L1449.4,436.1L1449.8,439.0L1450.3,442.0L1450.8,445.0L1451.2,447.9L1451.6,450.9L1452.1,453.9L1452.5,456.8L1452.9,459.8L1453.3,462.8L1453.7,465.7L1454.1,468.7L1454.5,471.7L1454.9,474.7L1455.2,477.6L1455.6,480.6L1456.0,483.6L1456.3,486.6L1456.7,489.6L1457.0,492.5L1457.4,495.5L1457.7,498.5L1458.0,501.5L1458.4,504.5L1458.7,507.4L1459.0,510.4L1459.3,513.4L1459.7,516.4L1460.0,519.4L1460.3,522.4L1460.6,525.3L1460.9,528.3L1461.2,531.3L1461.5,534.3L1461.8,537.3L1462.1,540.3L1462.4,543.2L1462.7,546.2L1463.0,549.2L1463.3,552.2L1463.6,555.2L1463.9,558.2L1464.2,561.2L1464.5,564.1L1464.8,567.1L1465.1,570.1L1465.4,573.1L1465.7,576.1L1465.9,579.1L1466.2,582.1L1466.5,585.0L1466.8,588.0L1467.1,591.0L1467.4,594.0L1467.7,597.0L1467.9,600.0L1468.2,603.0L1468.5,606.0L1468.8,608.9L1469.0,611.9L1469.3,614.9L1469.5,617.9L1469.8,620.9L1470.1,623.9L1470.3,626.9L1470.6,629.9L1470.8,632.9L1471.0,635.8L1471.3,638.8L1471.5,641.8L1471.8,644.8L1472.0,647.8L1472.2,650.8L1472.5,653.8L1472.7,656.8L1472.9,659.8L1473.1,662.8L1473.4,665.8L1473.6,668.7L1473.8,671.7L1474.0,674.7L1474.3,677.7L1474.5,680.7L1474.7,683.7L1474.9,686.7L1475.2,689.7L1475.4,692.7L1475.6,695.7L1475.8,698.7L1476.1,701.7L1476.3,704.6L1476.5,707.6L1476.7,710.6L1477.0,713.6L1477.2,716.6L1477.4,719.6L1477.6,722.6L1477.9,725.6L1478.1,728.6L1478.3,731.6L1478.6,734.6L1478.8,737.6L1479.0,740.5L1479.3,743.5L1479.5,746.5L1479.8,749.5L1480.0,752.5L1480.2,755.5L1480.5,758.5L1480.7,761.5L1480.9,764.5L1481.2,767.5L1481.4,770.4L1481.6,773.4L1481.9,776.4L1482.1,779.4L1482.4,782.4L1482.6,785.4L1482.8,788.4L1483.1,791.4L1483.3,794.4L1483.5,797.4L1483.8,800.4L1484.0,803.3L1484.2,806.3L1484.5,809.3L1484.7,812.3L1485.0,815.3L1485.2,818.3L1485.4,821.3L1485.7,824.3L1485.9,827.3L1486.1,830.3L1486.4,833.3L1486.6,836.2L1486.8,839.2L1487.1,842.2L1487.3,845.2L1487.5,848.2L1487.8,851.2L1488.0,854.2L1488.2,857.2L1488.5,860.2L1488.7,863.2L1489.0,866.2L1489.2,869.1L1489.4,872.1L1489.7,875.1L1489.9,878.1L1490.1,881.1L1490.4,884.1L1490.6,887.1L1490.8,890.1L1491.1,893.1L1491.3,896.1L1491.5,899.1L1491.8,902.0L1492.0,905.0L1492.2,908.0L1492.5,911.0L1492.7,914.0L1492.9,917.0L1493.2,920.0L1493.4,923.0L1493.6,926.0L1493.9,929.0L1494.1,932.0L1494.3,934.9L1494.6,937.9L1494.8,940.9L1495.1,943.9L1495.3,946.9L1495.5,949.9L1495.8,952.9L1496.0,955.9L1496.2,958.9L1496.5,961.9L1496.7,964.9L1496.9,967.8L1497.2,970.8L1497.4,973.8L1497.6,976.8L1497.8,979.8L1498.1,982.8L1498.3,985.8L1498.5,988.8L1498.8,991.8L1499.0,994.8L1499.2,997.8L1499.5,1000.7L1499.7,1003.7L1499.9,1006.7L1500.2,1009.7L1500.4,1012.7L1500.6,1015.7L1500.9,1018.7L1501.1,1021.7L1501.3,1024.7L1501.6,1027.7L1501.8,1030.7L1502.0,1033.6L1502.2,1036.6L1502.5,1039.6L1502.7,1042.6L1502.9,1045.6L1503.2,1048.6L1503.4,1051.6L1503.6,1054.6L1503.8,1057.6L1504.0,1060.6L1504.3,1063.6L1504.5,1066.6L1504.7,1069.5L1504.9,1072.5L1505.1,1075.5L1505.4,1078.5L1505.6,1081.5L1505.8,1084.5L1506.0,1087.5L1506.2,1090.5L1506.4,1093.5L1506.7,1096.5L1506.9,1099.5L1507.1,1102.5L1507.3,1105.5L1507.5,1108.4L1507.7,1111.4L1507.9,1114.4L1508.1,1117.4L1508.4,1120.4L1508.6,1123.4L1508.8,1126.4L1509.0,1129.4L1509.2,1132.4L1509.4,1135.4L1509.7,1138.4L1509.9,1141.4L1510.1,1144.3L1510.3,1147.3L1510.5,1150.3L1510.8,1153.3L1511.0,1156.3L1511.2,1159.3L1511.4,1162.3L1511.7,1165.3L1511.9,1168.3L1512.1,1171.3L1512.4,1174.3L1512.6,1177.3L1512.9,1180.2L1513.1,1183.2L1513.3,1186.2L1513.6,1189.2L1513.8,1192.2L1514.1,1195.2L1514.3,1198.2L1514.6,1201.2L1514.9,1204.2L1515.1,1207.1L1515.4,1210.1L1515.6,1213.1L1515.9,1216.1L1516.2,1219.1L1516.4,1222.1L1516.7,1225.1L1516.9,1228.1L1517.2,1231.1L1517.5,1234.0L1517.7,1237.0L1518.0,1240.0L1518.3,1243.0L1518.6,1246.0L1518.8,1249.0L1519.1,1252.0L1519.4,1255.0L1519.6,1257.9L1519.9,1260.9L1520.2,1263.9L1520.5,1266.9L1520.8,1269.9L1521.0,1272.9L1521.3,1275.9L1521.6,1278.9L1521.9,1281.8L1522.2,1284.8L1522.4,1287.8L1522.7,1290.8L1523.0,1293.8L1523.3,1296.8L1523.6,1299.8L1523.9,1302.7L1524.2,1305.7L1524.5,1308.7L1524.8,1311.7L1525.1,1314.7L1525.4,1317.7L1525.7,1320.7L1526.0,1323.6L1526.3,1326.6L1526.6,1329.6L1527.0,1332.6L1527.3,1335.6L1527.6,1338.6L1527.9,1341.5L1528.2,1344.5L1528.6,1347.5L1528.9,1350.5L1529.2,1353.5L1529.6,1356.4L1529.9,1359.4L1530.3,1362.4L1530.6,1365.4L1531.0,1368.4L1531.4,1371.3L1531.7,1374.3L1532.1,1377.3L1532.5,1380.3L1532.9,1383.2L1533.3,1386.2L1533.6,1389.2L1534.0,1392.2L1534.4,1395.1L1534.8,1398.1L1535.3,1401.1L1535.7,1404.1L1536.1,1407.0L1536.5,1410.0L1536.9,1413.0L1537.4,1415.9L1537.8,1418.9L1538.2,1421.9L1538.7,1424.8L1539.1,1427.8L1539.6,1430.8L1540.0,1433.7L1540.5,1436.7L1540.9,1439.7L1541.4,1442.6L1541.8,1445.6L1542.2,1448.6L1542.6,1451.5L1543.1,1454.5L1543.5,1457.5L1543.9,1460.5L1544.4,1463.4L1544.8,1466.4L1545.4,1469.3L1546.0,1472.3L1546.7,1475.2L1547.5,1478.1L1548.4,1480.9L1549.4,1483.8L1550.4,1486.6L1551.5,1489.4L1552.8,1492.1L1554.1,1494.8L1555.5,1497.4L1557.0,1500.0L1558.5,1502.6L1560.1,1505.1L1561.7,1507.7L1563.4,1510.2L1565.0,1512.7L1566.7,1515.1L1568.5,1517.5L1570.5,1519.8L1572.5,1522.0L1574.7,1524.0L1577.1,1525.8L1579.6,1527.4L1582.2,1528.8L1585.0,1529.9L1587.8,1530.8L1590.7,1531.6L1593.7,1532.2L1596.6,1532.6L1599.6,1533.0L1602.6,1533.2L1605.6,1533.4L1608.6,1533.5L1611.6,1533.6L1614.6,1533.6L1617.6,1533.6L1620.6,1533.6L1623.6,1533.5L1626.6,1533.5L1629.6,1533.4L1632.6,1533.3L1635.6,1533.3L1638.6,1533.2L1641.6,1533.1L1644.6,1533.1L1647.6,1533.1L1650.6,1533.0L1653.6,1533.1L1656.6,1533.1L1659.6,1533.2L1662.6,1533.2L1665.6,1533.4L1668.6,1533.5L1671.5,1533.7L1674.5,1533.9L1677.5,1534.1L1680.5,1534.3L1683.5,1534.6L1686.5,1534.8L1689.5,1535.0L1692.5,1535.2L1695.5,1535.4L1698.5,1535.6L1701.5,1535.9L1704.5,1536.1L1707.5,1536.3L1710.4,1536.5L1713.4,1536.8L1716.4,1537.0L1719.4,1537.2L1722.4,1537.5L1725.4,1537.7L1728.4,1537.9L1731.4,1538.2L1734.4,1538.4L1737.4,1538.6L1740.4,1538.9L1743.3,1539.1L1746.3,1539.3L1749.3,1539.6L1752.3,1539.8L1755.3,1540.1L1758.3,1540.3L1761.3,1540.6L1764.3,1540.8L1767.3,1541.1L1770.3,1541.3L1773.2,1541.6L1776.2,1541.8L1779.2,1542.1L1782.2,1542.3L1785.2,1542.6L1788.2,1542.9L1791.2,1543.1L1794.2,1543.4L1797.2,1543.7L1800.1,1543.9L1803.1,1544.2L1806.1,1544.5L1809.1,1544.7L1812.1,1545.0L1815.1,1545.3L1818.1,1545.6L1821.1,1545.9L1824.0,1546.1L1827.0,1546.4L1830.0,1546.7L1833.0,1547.0L1836.0,1547.3L1839.0,1547.6L1842.0,1547.9L1844.9,1548.2L1847.9,1548.5L1850.9,1548.8L1853.9,1549.1L1856.9,1549.4L1859.9,1549.8L1862.8,1550.1L1865.8,1550.4L1868.8,1550.7L1871.8,1551.1L1874.8,1551.4L1877.7,1551.8L1880.7,1552.1L1883.7,1552.5L1886.7,1552.9L1889.7,1553.2L1892.6,1553.6L1895.6,1554.0L1898.6,1554.3L1901.6,1554.7L1904.5,1555.1L1907.5,1555.5L1910.5,1555.8L1913.5,1556.2L1916.4,1556.6L1919.4,1557.0L1922.4,1557.4L1925.4,1557.8L1928.3,1558.1L1931.3,1558.5L1934.3,1558.9L1937.3,1559.3L1940.2,1559.7L1943.2,1560.1L1946.2,1560.5L1949.2,1560.8L1952.1,1561.2L1955.1,1561.6L1958.1,1562.0L1961.1,1562.4L1964.0,1562.8L1967.0,1563.1L1970.0,1563.5L1973.0,1563.9L1976.0,1564.2L1978.9,1564.6L1981.9,1565.0L1984.9,1565.3L1987.9,1565.7L1990.9,1566.0L1993.8,1566.3L1996.8,1566.7L1999.8,1567.0L2002.8,1567.3L2005.8,1567.6L2008.7,1567.9L2011.7,1568.2L2014.7,1568.5L2017.7,1568.8L2020.7,1569.1L2023.7,1569.4L2026.7,1569.7L2029.6,1569.9L2032.6,1570.2L2035.6,1570.4L2038.6,1570.6L2041.6,1570.8L2044.6,1570.9L2047.6,1571.0L2050.6,1571.1L2053.6,1571.1L2056.6,1571.1L2059.6,1571.1L2062.6,1571.0L2065.6,1570.9L2068.6,1570.8L2071.6,1570.6L2074.6,1570.5L2077.6,1570.3L2080.6,1570.2L2083.6,1570.0L2086.6,1569.9L2089.6,1569.8L2092.6,1569.7L2095.6,1569.6L2098.6,1569.5L2101.6,1569.5L2104.6,1569.4L2107.6,1569.4L2110.6,1569.4L2113.6,1569.3L2116.6,1569.3L2119.6,1569.3L2122.6,1569.3L2125.6,1569.2L2128.6,1569.2L2131.6,1569.2L2134.6,1569.2L2137.6,1569.2L2140.6,1569.2L2143.6,1569.2L2146.6,1569.1L2149.6,1569.1L2152.6,1569.1L2155.6,1569.1L2158.6,1569.1L2161.6,1569.1L2164.6,1569.1L2167.6,1569.1L2170.6,1569.1L2173.6,1569.1L2176.6,1569.1L2179.6,1569.1L2182.6,1569.1L2185.6,1569.1L2188.6,1569.1L2191.6,1569.1L2194.6,1569.1L2197.6,1569.1L2200.6,1569.1L2203.6,1569.1L2206.6,1569.1L2209.6,1569.1L2212.6,1569.1L2215.6,1569.1L2218.6,1569.1L2221.6,1569.2L2224.6,1569.2L2227.6,1569.2L2230.6,1569.2L2233.6,1569.2L2236.6,1569.2L2239.6,1569.2L2242.6,1569.2L2245.6,1569.2L2248.6,1569.2L2251.6,1569.2L2254.6,1569.2L2257.6,1569.2L2260.6,1569.2L2263.6,1569.3L2266.6,1569.3L2269.6,1569.3L2272.6,1569.3L2275.6,1569.3L2278.6,1569.3L2281.6,1569.3L2284.6,1569.3L2287.6,1569.3L2290.6,1569.3L2293.6,1569.3L2296.6,1569.3L2299.6,1569.4L2302.6,1569.4L2305.6,1569.4L2308.6,1569.4L2311.6,1569.4L2314.6,1569.4L2317.6,1569.4L2320.6,1569.4L2323.6,1569.4L2326.6,1569.4L2329.6,1569.4L2332.6,1569.4L2335.6,1569.4L2338.6,1569.4L2341.6,1569.5L2344.6,1569.5L2347.6,1569.5L2350.6,1569.5L2353.6,1569.5L2356.6,1569.5L2359.6,1569.5L2362.6,1569.5L2365.6,1569.5L2368.6,1569.5L2371.6,1569.5L2374.6,1569.5L2377.6,1569.5L2380.6,1569.5L2383.6,1569.5" fill="none" stroke="#FF00FF" stroke-width="6" stroke-linejoin="round" stroke-linecap="butt"/>
<path d="M502.0,188.0L505.0,188.0L508.0,188.0L511.0,188.0L514.0,188.0L517.0,187.9L520.0,187.9L523.0,187.9L526.0,187.9L529.0,187.9L532.0,187.9L535.0,187.9L538.0,187.9L541.0,187.9L544.0,187.9L547.0,187.9L550.0,187.9L553.0,187.9L556.0,187.8L559.0,187.8L562.0,187.8L565.0,187.8L568.0,187.8L571.0,187.8L574.0,187.8L577.0,187.7L580.0,187.7L583.0,187.7L586.0,187.7L589.0,187.6L592.0,187.6L595.0,187.6L598.0,187.5L601.0,187.5L604.0,187.4L607.0,187.4L610.0,187.3L613.0,187.3L616.0,187.2L619.0,187.2L622.0,187.1L625.0,187.0L628.0,187.0L631.0,186.9L634.0,186.8L637.0,186.7L640.0,186.7L643.0,186.6L646.0,186.5L649.0,186.4L652.0,186.4L655.0,186.3L658.0,186.2L661.0,186.1L664.0,186.1L667.0,186.0L670.0,185.9L673.0,185.8L676.0,185.8L679.0,185.7L682.0,185.6L685.0,185.5L688.0,185.5L691.0,185.4L694.0,185.4L697.0,185.3L700.0,185.2L703.0,185.2L706.0,185.1L709.0,185.1L712.0,185.0L715.0,185.0L718.0,185.0L721.0,184.9L724.0,184.9L727.0,184.9L730.0,184.8L733.0,184.8L736.0,184.8L739.0,184.7L742.0,184.7L745.0,184.7L748.0,184.7L751.0,184.6L754.0,184.6L757.0,184.6L760.0,184.6L763.0,184.6L766.0,184.5L769.0,184.5L772.0,184.5L775.0,184.5L778.0,184.5L781.0,184.5L784.0,184.5L787.0,184.4L790.0,184.4L793.0,184.4L796.0,184.4L799.0,184.4L802.0,184.4L805.0,184.4L808.0,184.4L811.0,184.4L814.0,184.4L817.0,184.4L820.0,184.4L823.0,184.3L826.0,184.3L829.0,184.3L832.0,184.3L835.0,184.3L838.0,184.3L841.0,184.3L844.0,184.3L847.0,184.3L850.0,184.3L853.0,184.3L856.0,184.3L859.0,184.3L862.0,184.3L865.0,184.3L868.0,184.3L871.0,184.3L874.0,184.3L877.0,184.3L880.0,184.3L883.0,184.3L886.0,184.3L889.0,184.3L892.0,184.3L895.0,184.3L898.0,184.3L901.0,184.3L904.0,184.3L907.0,184.3L910.0,184.3L913.0,184.3L916.0,184.3L919.0,184.3L922.0,184.3L925.0,184.3L928.0,184.3L931.0,184.3L934.0,184.3L937.0,184.3L940.0,184.3L943.0,184.3L946.0,184.3L949.0,184.3L952.0,184.3L955.0,184.3L958.0,184.3L961.0,184.3L964.0,184.3L967.0,184.3L970.0,184.3L973.0,184.3L976.0,184.3L979.0,184.3L982.0,184.3L985.0,184.3L988.0,184.3L991.0,184.3L994.0,184.3L997.0,184.3L1000.0,184.3L1003.0,184.3L1006.0,184.4L1009.0,184.4L1012.0,184.4L1015.0,184.4L1018.0,184.4L1021.0,184.4L1024.0,184.4L1027.0,184.4L1030.0,184.4L1033.0,184.4L1036.0,184.5L1039.0,184.5L1042.0,184.5L1045.0,184.5L1048.0,184.5L1051.0,184.5L1054.0,184.6L1057.0,184.6L1060.0,184.6L1063.0,184.6L1066.0,184.7L1069.0,184.7L1072.0,184.7L1075.0,184.7L1078.0,184.8L1081.0,184.8L1084.0,184.8L1087.0,184.8L1090.0,184.9L1093.0,184.9L1096.0,185.0L1099.0,185.0L1102.0,185.0L1105.0,185.1L1108.0,185.1L1111.0,185.2L1114.0,185.2L1117.0,185.2L1120.0,185.3L1123.0,185.3L1126.0,185.4L1129.0,185.4L1132.0,185.5L1135.0,185.6L1138.0,185.6L1141.0,185.7L1144.0,185.7L1147.0,185.8L1150.0,185.8L1153.0,185.9L1156.0,186.0L1159.0,186.0L1162.0,186.1L1165.0,186.2L1168.0,186.2L1171.0,186.3L1174.0,186.4L1177.0,186.4L1180.0,186.5L1182.9,186.6L1185.9,186.7L1188.9,186.7L1191.9,186.8L1194.9,186.9L1197.9,186.9L1200.9,187.0L1203.9,187.1L1206.9,187.2L1209.9,187.3L1212.9,187.3L1215.9,187.4L1218.9,187.5L1221.9,187.6L1224.9,187.7L1227.9,187.7L1230.9,187.8L1233.9,187.9L1236.9,188.0L1239.9,188.1L1242.9,188.2L1245.9,188.3L1248.9,188.4L1251.9,188.5L1254.9,188.5L1257.9,188.6L1260.9,188.7L1263.9,188.8L1266.9,188.9L1269.9,189.0L1272.9,189.1L1275.9,189.3L1278.9,189.5L1281.9,189.8L1284.9,190.0L1287.9,190.3L1290.9,190.6L1293.8,190.9L1296.8,191.2L1299.8,191.6L1302.8,192.1L1305.7,192.6L1308.7,193.1L1311.6,193.8L1314.5,194.5L1317.4,195.2L1320.3,196.0L1323.2,196.8L1326.1,197.7L1328.9,198.6L1331.7,199.7L1334.5,200.8L1337.2,202.0L1339.9,203.3L1342.6,204.7L1345.2,206.2L1347.8,207.7L1350.3,209.4L1352.7,211.1L1355.2,212.8L1357.6,214.6L1359.9,216.5L1362.2,218.4L1364.4,220.4L1366.6,222.5L1368.7,224.6L1370.7,226.9L1372.6,229.2L1374.5,231.5L1376.3,233.9L1378.0,236.4L1379.6,238.9L1381.2,241.4L1382.8,244.0L1384.2,246.6L1385.6,249.3L1386.9,252.0L1388.1,254.7L1389.2,257.5L1390.3,260.3L1391.3,263.1L1392.3,266.0L1393.2,268.8L1394.0,271.7L1394.8,274.6L1395.5,277.5L1396.2,280.4L1396.9,283.4L1397.6,286.3L1398.3,289.2L1399.0,292.1L1399.8,295.0L1400.6,297.9L1401.4,300.8L1402.1,303.7L1402.9,306.6L1403.7,309.5L1404.5,312.4L1405.3,315.3L1406.0,318.2L1406.8,321.1L1407.6,324.0L1408.3,326.9L1409.1,329.8L1409.9,332.7L1410.6,335.6L1411.4,338.5L1412.1,341.4L1412.9,344.3L1413.7,347.2L1414.4,350.1L1415.1,353.0L1415.8,355.9L1416.5,358.8L1417.2,361.8L1417.9,364.7L1418.5,367.6L1419.2,370.6L1419.8,373.5L1420.4,376.4L1421.1,379.3L1421.7,382.3L1422.3,385.2L1422.9,388.1L1423.6,391.1L1424.2,394.0L1424.8,397.0L1425.4,399.9L1426.0,402.8L1426.5,405.8L1427.1,408.7L1427.7,411.7L1428.2,414.6L1428.8,417.6L1429.3,420.5L1429.9,423.5L1430.4,426.4L1430.9,429.4L1431.4,432.3L1431.9,435.3L1432.4,438.3L1432.9,441.2L1433.4,444.2L1433.8,447.1L1434.3,450.1L1434.7,453.1L1435.1,456.0L1435.6,459.0L1436.0,462.0L1436.4,465.0L1436.8,467.9L1437.2,470.9L1437.6,473.9L1438.0,476.8L1438.4,479.8L1438.8,482.8L1439.2,485.8L1439.6,488.7L1440.0,491.7L1440.3,494.7L1440.7,497.7L1441.1,500.7L1441.4,503.6L1441.8,506.6L1442.2,509.6L1442.5,512.6L1442.9,515.5L1443.2,518.5L1443.6,521.5L1443.9,524.5L1444.3,527.5L1444.6,530.4L1444.9,533.4L1445.3,536.4L1445.6,539.4L1446.0,542.4L1446.3,545.3L1446.6,548.3L1447.0,551.3L1447.3,554.3L1447.6,557.3L1448.0,560.3L1448.3,563.2L1448.6,566.2L1448.9,569.2L1449.3,572.2L1449.6,575.2L1449.9,578.2L1450.2,581.1L1450.6,584.1L1450.9,587.1L1451.2,590.1L1451.5,593.1L1451.9,596.0L1452.2,599.0L1452.5,602.0L1452.8,605.0L1453.1,608.0L1453.4,611.0L1453.7,613.9L1454.0,616.9L1454.4,619.9L1454.7,622.9L1455.0,625.9L1455.3,628.9L1455.6,631.9L1455.9,634.8L1456.1,637.8L1456.4,640.8L1456.7,643.8L1457.0,646.8L1457.3,649.8L1457.6,652.8L1457.9,655.7L1458.2,658.7L1458.4,661.7L1458.7,664.7L1459.0,667.7L1459.3,670.7L1459.5,673.7L1459.8,676.7L1460.1,679.6L1460.3,682.6L1460.6,685.6L1460.9,688.6L1461.1,691.6L1461.4,694.6L1461.7,697.6L1461.9,700.6L1462.2,703.5L1462.5,706.5L1462.7,709.5L1463.0,712.5L1463.2,715.5L1463.5,718.5L1463.7,721.5L1464.0,724.5L1464.2,727.5L1464.5,730.4L1464.7,733.4L1465.0,736.4L1465.2,739.4L1465.5,742.4L1465.7,745.4L1466.0,748.4L1466.2,751.4L1466.5,754.4L1466.7,757.4L1467.0,760.3L1467.2,763.3L1467.4,766.3L1467.7,769.3L1467.9,772.3L1468.1,775.3L1468.4,778.3L1468.6,781.3L1468.8,784.3L1469.0,787.3L1469.3,790.3L1469.5,793.3L1469.7,796.2L1469.9,799.2L1470.2,802.2L1470.4,805.2L1470.6,808.2L1470.8,811.2L1471.0,814.2L1471.3,817.2L1471.5,820.2L1471.7,823.2L1471.9,826.2L1472.1,829.2L1472.3,832.1L1472.6,835.1L1472.8,838.1L1473.0,841.1L1473.2,844.1L1473.4,847.1L1473.6,850.1L1473.8,853.1L1474.1,856.1L1474.3,859.1L1474.5,862.1L1474.7,865.1L1474.9,868.1L1475.1,871.0L1475.3,874.0L1475.5,877.0L1475.8,880.0L1476.0,883.0L1476.2,886.0L1476.4,889.0L1476.6,892.0L1476.8,895.0L1477.0,898.0L1477.2,901.0L1477.4,904.0L1477.7,907.0L1477.9,910.0L1478.1,912.9L1478.3,915.9L1478.5,918.9L1478.7,921.9L1478.9,924.9L1479.1,927.9L1479.3,930.9L1479.6,933.9L1479.8,936.9L1480.0,939.9L1480.2,942.9L1480.4,945.9L1480.6,948.9L1480.8,951.8L1481.1,954.8L1481.3,957.8L1481.5,960.8L1481.7,963.8L1481.9,966.8L1482.1,969.8L1482.4,972.8L1482.6,975.8L1482.8,978.8L1483.0,981.8L1483.2,984.8L1483.5,987.7L1483.7,990.7L1483.9,993.7L1484.1,996.7L1484.3,999.7L1484.6,1002.7L1484.8,1005.7L1485.0,1008.7L1485.3,1011.7L1485.5,1014.7L1485.7,1017.7L1486.0,1020.7L1486.2,1023.6L1486.4,1026.6L1486.7,1029.6L1486.9,1032.6L1487.1,1035.6L1487.4,1038.6L1487.6,1041.6L1487.9,1044.6L1488.1,1047.6L1488.4,1050.6L1488.6,1053.5L1488.9,1056.5L1489.1,1059.5L1489.4,1062.5L1489.6,1065.5L1489.9,1068.5L1490.2,1071.5L1490.4,1074.5L1490.7,1077.5L1490.9,1080.4L1491.2,1083.4L1491.5,1086.4L1491.7,1089.4L1492.0,1092.4L1492.3,1095.4L1492.5,1098.4L1492.8,1101.4L1493.1,1104.4L1493.3,1107.3L1493.6,1110.3L1493.9,1113.3L1494.2,1116.3L1494.4,1119.3L1494.7,1122.3L1495.0,1125.3L1495.3,1128.3L1495.5,1131.2L1495.8,1134.2L1496.1,1137.2L1496.4,1140.2L1496.7,1143.2L1496.9,1146.2L1497.2,1149.2L1497.5,1152.1L1497.8,1155.1L1498.1,1158.1L1498.3,1161.1L1498.6,1164.1L1498.9,1167.1L1499.2,1170.1L1499.4,1173.1L1499.7,1176.0L1500.0,1179.0L1500.3,1182.0L1500.5,1185.0L1500.8,1188.0L1501.1,1191.0L1501.4,1194.0L1501.6,1197.0L1501.9,1199.9L1502.2,1202.9L1502.4,1205.9L1502.7,1208.9L1503.0,1211.9L1503.2,1214.9L1503.5,1217.9L1503.7,1220.9L1504.0,1223.9L1504.3,1226.8L1504.5,1229.8L1504.8,1232.8L1505.0,1235.8L1505.3,1238.8L1505.5,1241.8L1505.8,1244.8L1506.0,1247.8L1506.3,1250.8L1506.5,1253.7L1506.8,1256.7L1507.1,1259.7L1507.3,1262.7L1507.6,1265.7L1507.8,1268.7L1508.1,1271.7L1508.3,1274.7L1508.6,1277.7L1508.8,1280.6L1509.1,1283.6L1509.4,1286.6L1509.6,1289.6L1509.9,1292.6L1510.1,1295.6L1510.4,1298.6L1510.7,1301.6L1510.9,1304.6L1511.2,1307.5L1511.5,1310.5L1511.7,1313.5L1512.0,1316.5L1512.3,1319.5L1512.5,1322.5L1512.8,1325.5L1513.1,1328.5L1513.4,1331.4L1513.7,1334.4L1514.0,1337.4L1514.3,1340.4L1514.6,1343.4L1514.9,1346.4L1515.2,1349.4L1515.5,1352.3L1515.8,1355.3L1516.1,1358.3L1516.4,1361.3L1516.8,1364.3L1517.1,1367.3L1517.4,1370.2L1517.7,1373.2L1518.1,1376.2L1518.4,1379.2L1518.7,1382.2L1519.0,1385.1L1519.4,1388.1L1519.7,1391.1L1520.0,1394.1L1520.4,1397.1L1520.7,1400.1L1521.1,1403.0L1521.4,1406.0L1521.8,1409.0L1522.2,1412.0L1522.6,1414.9L1523.0,1417.9L1523.5,1420.9L1523.9,1423.8L1524.4,1426.8L1524.9,1429.8L1525.4,1432.7L1525.9,1435.7L1526.4,1438.6L1527.0,1441.6L1527.6,1444.5L1528.1,1447.5L1528.7,1450.4L1529.2,1453.4L1529.8,1456.3L1530.3,1459.3L1530.9,1462.2L1531.6,1465.1L1532.2,1468.1L1532.9,1471.0L1533.7,1473.9L1534.5,1476.7L1535.5,1479.6L1536.5,1482.4L1537.7,1485.2L1539.0,1487.8L1540.5,1490.4L1542.1,1493.0L1543.9,1495.4L1545.8,1497.7L1547.8,1499.8L1550.0,1501.9L1552.3,1503.8L1554.7,1505.6L1557.2,1507.2L1559.8,1508.7L1562.5,1510.0L1565.2,1511.2L1568.1,1512.2L1570.9,1513.0L1573.8,1513.8L1576.8,1514.4L1579.7,1515.0L1582.7,1515.6L1585.6,1516.2L1588.5,1516.7L1591.5,1517.3L1594.4,1517.9L1597.4,1518.5L1600.3,1519.0L1603.3,1519.5L1606.3,1519.9L1609.2,1520.3L1612.2,1520.6L1615.2,1520.9L1618.2,1521.1L1621.2,1521.3L1624.2,1521.4L1627.2,1521.5L1630.2,1521.6L1633.2,1521.7L1636.2,1521.7L1639.2,1521.8L1642.2,1521.8L1645.2,1521.9L1648.2,1522.0L1651.2,1522.0L1654.2,1522.1L1657.2,1522.2L1660.2,1522.2L1663.2,1522.3L1666.2,1522.4L1669.2,1522.4L1672.2,1522.5L1675.2,1522.5L1678.2,1522.6L1681.2,1522.6L1684.2,1522.6L1687.2,1522.7L1690.2,1522.7L1693.2,1522.8L1696.2,1522.9L1699.2,1522.9L1702.2,1523.0L1705.2,1523.0L1708.2,1523.1L1711.2,1523.2L1714.2,1523.3L1717.2,1523.4L1720.2,1523.5L1723.2,1523.6L1726.2,1523.7L1729.2,1523.8L1732.1,1523.9L1735.1,1524.1L1738.1,1524.3L1741.1,1524.4L1744.1,1524.6L1747.1,1524.8L1750.1,1525.0L1753.1,1525.3L1756.1,1525.5L1759.1,1525.8L1762.1,1526.0L1765.1,1526.3L1768.0,1526.6L1771.0,1526.9L1774.0,1527.2L1777.0,1527.6L1780.0,1527.9L1783.0,1528.2L1785.9,1528.6L1788.9,1529.0L1791.9,1529.3L1794.9,1529.7L1797.8,1530.1L1800.8,1530.5L1803.8,1530.9L1806.8,1531.3L1809.7,1531.6L1812.7,1532.0L1815.7,1532.4L1818.7,1532.8L1821.6,1533.3L1824.6,1533.7L1827.6,1534.1L1830.6,1534.5L1833.5,1534.8L1836.5,1535.2L1839.5,1535.6L1842.4,1536.0L1845.4,1536.4L1848.4,1536.8L1851.4,1537.2L1854.3,1537.6L1857.3,1537.9L1860.3,1538.3L1863.3,1538.7L1866.2,1539.1L1869.2,1539.5L1872.2,1539.9L1875.2,1540.3L1878.1,1540.7L1881.1,1541.1L1884.1,1541.5L1887.1,1542.0L1890.0,1542.4L1893.0,1542.8L1896.0,1543.2L1898.9,1543.6L1901.9,1544.0L1904.9,1544.4L1907.9,1544.8L1910.8,1545.3L1913.8,1545.7L1916.8,1546.1L1919.7,1546.5L1922.7,1546.9L1925.7,1547.3L1928.7,1547.7L1931.6,1548.2L1934.6,1548.6L1937.6,1549.0L1940.5,1549.4L1943.5,1549.8L1946.5,1550.2L1949.5,1550.6L1952.4,1551.0L1955.4,1551.4L1958.4,1551.8L1961.3,1552.2L1964.3,1552.6L1967.3,1553.0L1970.3,1553.4L1973.2,1553.8L1976.2,1554.2L1979.2,1554.5L1982.2,1554.9L1985.2,1555.3L1988.1,1555.6L1991.1,1556.0L1994.1,1556.3L1997.1,1556.7L2000.1,1557.0L2003.0,1557.3L2006.0,1557.6L2009.0,1557.9L2012.0,1558.2L2015.0,1558.5L2018.0,1558.8L2021.0,1559.0L2023.9,1559.3L2026.9,1559.5L2029.9,1559.7L2032.9,1559.9L2035.9,1560.2L2038.9,1560.3L2041.9,1560.5L2044.9,1560.7L2047.9,1560.9L2050.9,1561.0L2053.9,1561.2L2056.9,1561.3L2059.9,1561.5L2062.9,1561.6L2065.9,1561.7L2068.9,1561.8L2071.9,1561.9L2074.9,1562.0L2077.9,1562.1L2080.9,1562.2L2083.9,1562.2L2086.9,1562.3L2089.9,1562.3L2092.9,1562.4L2095.9,1562.4L2098.9,1562.5L2101.9,1562.5L2104.9,1562.6L2107.9,1562.6L2110.9,1562.6L2113.9,1562.7L2116.9,1562.7L2119.9,1562.7L2122.9,1562.7L2125.9,1562.7L2128.9,1562.8L2131.9,1562.8L2134.9,1562.8L2137.9,1562.8L2140.9,1562.8L2143.9,1562.8L2146.9,1562.8L2149.9,1562.8L2152.9,1562.8L2155.9,1562.9L2158.9,1562.9L2161.9,1562.9L2164.9,1562.9L2167.9,1562.9L2170.9,1562.9L2173.9,1562.9L2176.9,1562.9L2179.9,1562.9L2182.9,1562.9L2185.9,1562.9L2188.9,1562.9L2191.9,1562.9L2194.9,1562.9L2197.9,1562.9L2200.9,1562.9L2203.9,1562.9L2206.9,1562.9L2209.9,1562.8L2212.9,1562.8L2215.9,1562.8L2218.9,1562.8L2221.9,1562.8L2224.9,1562.8L2227.9,1562.8L2230.9,1562.8L2233.9,1562.8L2236.9,1562.8L2239.9,1562.8L2242.9,1562.8L2245.9,1562.8L2248.9,1562.8L2251.9,1562.8L2254.9,1562.8L2257.9,1562.7L2260.9,1562.7L2263.9,1562.7L2266.9,1562.7L2269.9,1562.7L2272.9,1562.7L2275.9,1562.7L2278.9,1562.7L2281.9,1562.7L2284.9,1562.7L2287.9,1562.7L2290.9,1562.7L2293.9,1562.7L2296.9,1562.6L2299.9,1562.6L2302.9,1562.6L2305.9,1562.6L2308.9,1562.6L2311.9,1562.6L2314.9,1562.6L2317.9,1562.6L2320.9,1562.6L2323.9,1562.6L2326.9,1562.6L2329.9,1562.6L2332.9,1562.6L2335.9,1562.6L2338.9,1562.5L2341.9,1562.5L2344.9,1562.5L2347.9,1562.5L2350.9,1562.5L2353.9,1562.5L2356.9,1562.5L2359.9,1562.5L2362.9,1562.5L2365.9,1562.5L2368.9,1562.5L2371.9,1562.5L2374.9,1562.5L2377.9,1562.5L2380.9,1562.5L2383.9,1562.5" fill="none" stroke="#000080" stroke-width="6" stroke-linejoin="round" stroke-linecap="butt"/>
<path d="M502.0,192.0L505.0,192.0L508.0,192.0L511.0,192.1L514.0,192.1L517.0,192.1L520.0,192.1L523.0,192.2L526.0,192.2L529.0,192.2L532.0,192.2L535.0,192.3L538.0,192.3L541.0,192.3L544.0,192.3L547.0,192.4L550.0,192.4L553.0,192.4L556.0,192.4L559.0,192.4L562.0,192.5L565.0,192.5L568.0,192.5L571.0,192.5L574.0,192.6L577.0,192.6L580.0,192.6L583.0,192.6L586.0,192.7L589.0,192.7L592.0,192.7L595.0,192.7L598.0,192.8L601.0,192.8L604.0,192.8L607.0,192.8L610.0,192.8L613.0,192.9L616.0,192.9L619.0,192.9L622.0,192.9L625.0,193.0L628.0,193.0L631.0,193.0L634.0,193.0L637.0,193.1L640.0,193.1L643.0,193.1L646.0,193.1L649.0,193.1L652.0,193.2L655.0,193.2L658.0,193.2L661.0,193.2L664.0,193.3L667.0,193.3L670.0,193.3L673.0,193.3L676.0,193.4L679.0,193.4L682.0,193.4L685.0,193.4L688.0,193.5L691.0,193.5L694.0,193.5L697.0,193.5L700.0,193.5L703.0,193.6L706.0,193.6L709.0,193.6L712.0,193.6L715.0,193.7L718.0,193.7L721.0,193.7L724.0,193.7L727.0,193.8L730.0,193.8L733.0,193.8L736.0,193.8L739.0,193.9L742.0,193.9L745.0,193.9L748.0,193.9L751.0,193.9L754.0,194.0L757.0,194.0L760.0,194.0L763.0,194.0L766.0,194.1L769.0,194.1L772.0,194.1L775.0,194.1L778.0,194.2L781.0,194.2L784.0,194.2L787.0,194.2L790.0,194.3L793.0,194.3L796.0,194.3L799.0,194.3L802.0,194.4L805.0,194.4L808.0,194.4L811.0,194.4L814.0,194.5L817.0,194.5L820.0,194.5L823.0,194.5L826.0,194.6L829.0,194.6L832.0,194.6L835.0,194.6L838.0,194.6L841.0,194.7L844.0,194.7L847.0,194.7L850.0,194.7L853.0,194.8L856.0,194.8L859.0,194.8L862.0,194.8L865.0,194.9L868.0,194.9L871.0,194.9L874.0,194.9L877.0,195.0L880.0,195.0L883.0,195.0L886.0,195.1L889.0,195.1L892.0,195.1L895.0,195.1L898.0,195.1L901.0,195.2L904.0,195.2L907.0,195.2L910.0,195.2L913.0,195.3L916.0,195.3L919.0,195.3L922.0,195.3L925.0,195.4L928.0,195.4L931.0,195.4L934.0,195.4L937.0,195.4L940.0,195.5L943.0,195.5L946.0,195.5L949.0,195.5L952.0,195.5L955.0,195.6L958.0,195.6L961.0,195.6L964.0,195.6L967.0,195.6L970.0,195.7L973.0,195.7L976.0,195.7L979.0,195.7L982.0,195.8L985.0,195.8L988.0,195.8L991.0,195.8L994.0,195.8L997.0,195.9L1000.0,195.9L1003.0,195.9L1006.0,195.9L1009.0,196.0L1012.0,196.0L1015.0,196.0L1018.0,196.0L1021.0,196.1L1024.0,196.1L1027.0,196.1L1030.0,196.1L1033.0,196.2L1036.0,196.2L1039.0,196.2L1042.0,196.3L1045.0,196.3L1048.0,196.3L1051.0,196.4L1054.0,196.4L1057.0,196.4L1060.0,196.5L1063.0,196.5L1066.0,196.5L1069.0,196.6L1072.0,196.6L1075.0,196.6L1078.0,196.7L1081.0,196.7L1084.0,196.8L1087.0,196.8L1090.0,196.8L1093.0,196.9L1096.0,196.9L1099.0,197.0L1102.0,197.0L1105.0,197.1L1108.0,197.1L1111.0,197.2L1114.0,197.2L1117.0,197.3L1120.0,197.3L1123.0,197.4L1126.0,197.5L1129.0,197.5L1132.0,197.6L1135.0,197.6L1138.0,197.7L1141.0,197.8L1144.0,197.8L1147.0,197.9L1150.0,197.9L1153.0,198.0L1156.0,198.1L1159.0,198.1L1162.0,198.2L1165.0,198.3L1168.0,198.3L1171.0,198.4L1174.0,198.5L1177.0,198.5L1180.0,198.6L1183.0,198.7L1186.0,198.7L1189.0,198.8L1192.0,198.9L1195.0,199.0L1198.0,199.0L1201.0,199.1L1204.0,199.2L1207.0,199.3L1210.0,199.3L1213.0,199.4L1216.0,199.5L1218.9,199.6L1221.9,199.7L1224.9,199.7L1227.9,199.8L1230.9,199.9L1233.9,200.0L1236.9,200.1L1239.9,200.2L1242.9,200.3L1245.9,200.4L1248.9,200.5L1251.9,200.6L1254.9,200.6L1257.9,200.7L1260.9,200.8L1263.9,200.8L1266.9,200.9L1269.9,201.1L1272.9,201.2L1275.9,201.4L1278.9,201.7L1281.9,202.0L1284.9,202.3L1287.8,202.7L1290.8,203.0L1293.8,203.4L1296.8,203.8L1299.8,204.2L1302.7,204.6L1305.7,205.1L1308.6,205.6L1311.6,206.1L1314.6,206.6L1317.5,207.2L1320.4,207.8L1323.3,208.5L1326.2,209.3L1329.1,210.1L1332.0,211.0L1334.8,212.1L1337.6,213.2L1340.3,214.3L1343.1,215.6L1345.8,216.9L1348.4,218.3L1351.0,219.7L1353.7,221.2L1356.2,222.7L1358.8,224.3L1361.3,225.9L1363.9,227.5L1366.3,229.2L1368.8,230.9L1371.2,232.7L1373.6,234.6L1375.9,236.4L1378.2,238.3L1380.5,240.3L1382.8,242.2L1385.0,244.2L1387.2,246.3L1389.4,248.4L1391.4,250.5L1393.4,252.8L1395.3,255.1L1397.1,257.5L1398.7,260.0L1400.2,262.6L1401.7,265.2L1403.0,267.9L1404.3,270.6L1405.5,273.4L1406.7,276.1L1407.9,278.9L1409.0,281.7L1410.1,284.5L1411.1,287.3L1412.0,290.1L1413.0,293.0L1413.9,295.8L1414.8,298.7L1415.7,301.6L1416.6,304.4L1417.5,307.3L1418.5,310.1L1419.5,312.9L1420.5,315.8L1421.4,318.6L1422.4,321.5L1423.3,324.3L1424.2,327.2L1425.1,330.0L1425.9,332.9L1426.8,335.8L1427.6,338.7L1428.4,341.6L1429.1,344.5L1429.9,347.4L1430.6,350.3L1431.3,353.2L1432.1,356.1L1432.8,359.0L1433.5,362.0L1434.2,364.9L1434.9,367.8L1435.6,370.7L1436.3,373.6L1437.0,376.5L1437.8,379.4L1438.5,382.4L1439.2,385.3L1439.9,388.2L1440.5,391.1L1441.2,394.0L1441.9,397.0L1442.6,399.9L1443.2,402.8L1443.9,405.7L1444.5,408.7L1445.2,411.6L1445.8,414.5L1446.4,417.5L1447.0,420.4L1447.6,423.4L1448.1,426.3L1448.7,429.2L1449.2,432.2L1449.8,435.1L1450.3,438.1L1450.8,441.1L1451.2,444.0L1451.7,447.0L1452.2,450.0L1452.6,452.9L1453.1,455.9L1453.5,458.9L1453.9,461.8L1454.3,464.8L1454.7,467.8L1455.1,470.7L1455.5,473.7L1455.9,476.7L1456.3,479.7L1456.7,482.6L1457.0,485.6L1457.4,488.6L1457.8,491.6L1458.1,494.6L1458.5,497.5L1458.8,500.5L1459.1,503.5L1459.5,506.5L1459.8,509.5L1460.1,512.4L1460.5,515.4L1460.8,518.4L1461.1,521.4L1461.4,524.4L1461.7,527.4L1462.0,530.3L1462.3,533.3L1462.7,536.3L1463.0,539.3L1463.3,542.3L1463.6,545.3L1463.9,548.2L1464.2,551.2L1464.5,554.2L1464.8,557.2L1465.1,560.2L1465.4,563.2L1465.7,566.2L1465.9,569.1L1466.2,572.1L1466.5,575.1L1466.8,578.1L1467.1,581.1L1467.4,584.1L1467.7,587.1L1468.0,590.0L1468.3,593.0L1468.6,596.0L1468.9,599.0L1469.2,602.0L1469.4,605.0L1469.7,608.0L1470.0,610.9L1470.3,613.9L1470.5,616.9L1470.8,619.9L1471.0,622.9L1471.3,625.9L1471.6,628.9L1471.8,631.9L1472.1,634.9L1472.3,637.8L1472.6,640.8L1472.8,643.8L1473.0,646.8L1473.3,649.8L1473.5,652.8L1473.8,655.8L1474.0,658.8L1474.2,661.8L1474.5,664.8L1474.7,667.8L1474.9,670.7L1475.2,673.7L1475.4,676.7L1475.6,679.7L1475.8,682.7L1476.1,685.7L1476.3,688.7L1476.5,691.7L1476.8,694.7L1477.0,697.7L1477.2,700.7L1477.4,703.6L1477.7,706.6L1477.9,709.6L1478.1,712.6L1478.4,715.6L1478.6,718.6L1478.8,721.6L1479.1,724.6L1479.3,727.6L1479.5,730.6L1479.8,733.6L1480.0,736.5L1480.3,739.5L1480.5,742.5L1480.7,745.5L1481.0,748.5L1481.2,751.5L1481.5,754.5L1481.7,757.5L1482.0,760.5L1482.2,763.5L1482.4,766.5L1482.7,769.4L1482.9,772.4L1483.2,775.4L1483.4,778.4L1483.6,781.4L1483.9,784.4L1484.1,787.4L1484.4,790.4L1484.6,793.4L1484.8,796.4L1485.1,799.3L1485.3,802.3L1485.6,805.3L1485.8,808.3L1486.0,811.3L1486.3,814.3L1486.5,817.3L1486.8,820.3L1487.0,823.3L1487.2,826.3L1487.5,829.2L1487.7,832.2L1488.0,835.2L1488.2,838.2L1488.4,841.2L1488.7,844.2L1488.9,847.2L1489.2,850.2L1489.4,853.2L1489.6,856.2L1489.9,859.2L1490.1,862.1L1490.4,865.1L1490.6,868.1L1490.8,871.1L1491.1,874.1L1491.3,877.1L1491.6,880.1L1491.8,883.1L1492.0,886.1L1492.3,889.1L1492.5,892.0L1492.8,895.0L1493.0,898.0L1493.2,901.0L1493.5,904.0L1493.7,907.0L1493.9,910.0L1494.2,913.0L1494.4,916.0L1494.7,919.0L1494.9,922.0L1495.1,924.9L1495.4,927.9L1495.6,930.9L1495.8,933.9L1496.1,936.9L1496.3,939.9L1496.6,942.9L1496.8,945.9L1497.0,948.9L1497.3,951.9L1497.5,954.8L1497.7,957.8L1498.0,960.8L1498.2,963.8L1498.5,966.8L1498.7,969.8L1498.9,972.8L1499.2,975.8L1499.4,978.8L1499.6,981.8L1499.9,984.8L1500.1,987.7L1500.3,990.7L1500.6,993.7L1500.8,996.7L1501.1,999.7L1501.3,1002.7L1501.5,1005.7L1501.8,1008.7L1502.0,1011.7L1502.2,1014.7L1502.5,1017.7L1502.7,1020.6L1502.9,1023.6L1503.2,1026.6L1503.4,1029.6L1503.6,1032.6L1503.9,1035.6L1504.1,1038.6L1504.3,1041.6L1504.6,1044.6L1504.8,1047.6L1505.0,1050.6L1505.2,1053.5L1505.5,1056.5L1505.7,1059.5L1505.9,1062.5L1506.1,1065.5L1506.4,1068.5L1506.6,1071.5L1506.8,1074.5L1507.0,1077.5L1507.2,1080.5L1507.5,1083.5L1507.7,1086.5L1507.9,1089.4L1508.1,1092.4L1508.3,1095.4L1508.6,1098.4L1508.8,1101.4L1509.0,1104.4L1509.2,1107.4L1509.4,1110.4L1509.6,1113.4L1509.9,1116.4L1510.1,1119.4L1510.3,1122.4L1510.5,1125.4L1510.7,1128.3L1510.9,1131.3L1511.2,1134.3L1511.4,1137.3L1511.6,1140.3L1511.8,1143.3L1512.0,1146.3L1512.3,1149.3L1512.5,1152.3L1512.7,1155.3L1512.9,1158.3L1513.2,1161.3L1513.4,1164.2L1513.6,1167.2L1513.9,1170.2L1514.1,1173.2L1514.3,1176.2L1514.6,1179.2L1514.8,1182.2L1515.1,1185.2L1515.3,1188.2L1515.6,1191.2L1515.8,1194.1L1516.1,1197.1L1516.3,1200.1L1516.6,1203.1L1516.8,1206.1L1517.1,1209.1L1517.3,1212.1L1517.6,1215.1L1517.8,1218.1L1518.1,1221.1L1518.4,1224.0L1518.6,1227.0L1518.9,1230.0L1519.1,1233.0L1519.4,1236.0L1519.7,1239.0L1519.9,1242.0L1520.2,1245.0L1520.5,1247.9L1520.7,1250.9L1521.0,1253.9L1521.3,1256.9L1521.5,1259.9L1521.8,1262.9L1522.1,1265.9L1522.3,1268.9L1522.6,1271.9L1522.9,1274.8L1523.2,1277.8L1523.4,1280.8L1523.7,1283.8L1524.0,1286.8L1524.3,1289.8L1524.5,1292.8L1524.8,1295.7L1525.1,1298.7L1525.4,1301.7L1525.7,1304.7L1526.0,1307.7L1526.3,1310.7L1526.6,1313.7L1526.9,1316.7L1527.2,1319.6L1527.5,1322.6L1527.8,1325.6L1528.1,1328.6L1528.4,1331.6L1528.7,1334.6L1529.0,1337.5L1529.3,1340.5L1529.7,1343.5L1530.0,1346.5L1530.3,1349.5L1530.6,1352.5L1531.0,1355.4L1531.3,1358.4L1531.7,1361.4L1532.0,1364.4L1532.3,1367.4L1532.7,1370.3L1533.0,1373.3L1533.4,1376.3L1533.7,1379.3L1534.0,1382.3L1534.4,1385.2L1534.7,1388.2L1535.1,1391.2L1535.4,1394.2L1535.8,1397.2L1536.1,1400.1L1536.5,1403.1L1536.9,1406.1L1537.3,1409.1L1537.7,1412.0L1538.1,1415.0L1538.6,1418.0L1539.0,1420.9L1539.5,1423.9L1540.0,1426.9L1540.5,1429.8L1541.1,1432.8L1541.7,1435.7L1542.3,1438.6L1543.0,1441.5L1543.7,1444.5L1544.5,1447.3L1545.3,1450.2L1546.2,1453.1L1547.1,1456.0L1548.1,1458.8L1549.1,1461.6L1550.0,1464.5L1551.0,1467.3L1552.0,1470.1L1553.0,1473.0L1554.0,1475.8L1554.9,1478.7L1555.7,1481.5L1556.4,1484.5L1557.1,1487.4L1557.9,1490.2L1558.9,1493.0L1560.3,1495.6L1562.0,1498.0L1564.0,1500.2L1566.2,1502.2L1568.6,1504.0L1571.1,1505.7L1573.7,1507.1L1576.4,1508.4L1579.1,1509.5L1582.0,1510.4L1584.9,1511.2L1587.8,1511.8L1590.8,1512.4L1593.7,1512.9L1596.7,1513.4L1599.6,1513.9L1602.6,1514.4L1605.5,1514.9L1608.5,1515.4L1611.5,1515.8L1614.4,1516.2L1617.4,1516.6L1620.4,1517.0L1623.4,1517.4L1626.3,1517.7L1629.3,1518.1L1632.3,1518.4L1635.3,1518.7L1638.3,1519.0L1641.3,1519.2L1644.3,1519.5L1647.2,1519.8L1650.2,1520.0L1653.2,1520.2L1656.2,1520.4L1659.2,1520.6L1662.2,1520.7L1665.2,1520.9L1668.2,1521.0L1671.2,1521.1L1674.2,1521.2L1677.2,1521.3L1680.2,1521.4L1683.2,1521.4L1686.2,1521.5L1689.2,1521.6L1692.2,1521.6L1695.2,1521.7L1698.2,1521.8L1701.2,1521.8L1704.2,1521.9L1707.2,1522.0L1710.2,1522.1L1713.2,1522.1L1716.2,1522.2L1719.2,1522.3L1722.2,1522.4L1725.2,1522.5L1728.2,1522.7L1731.2,1522.8L1734.2,1523.0L1737.2,1523.1L1740.2,1523.3L1743.2,1523.5L1746.2,1523.7L1749.1,1523.9L1752.1,1524.2L1755.1,1524.5L1758.1,1524.8L1761.1,1525.1L1764.1,1525.4L1767.1,1525.7L1770.0,1526.0L1773.0,1526.4L1776.0,1526.7L1779.0,1527.1L1781.9,1527.5L1784.9,1527.9L1787.9,1528.3L1790.9,1528.7L1793.8,1529.1L1796.8,1529.5L1799.8,1529.9L1802.8,1530.3L1805.7,1530.7L1808.7,1531.2L1811.7,1531.6L1814.6,1532.0L1817.6,1532.5L1820.6,1532.9L1823.5,1533.3L1826.5,1533.7L1829.5,1534.2L1832.5,1534.6L1835.4,1535.0L1838.4,1535.4L1841.4,1535.8L1844.3,1536.2L1847.3,1536.6L1850.3,1537.0L1853.3,1537.4L1856.2,1537.8L1859.2,1538.2L1862.2,1538.6L1865.2,1539.0L1868.1,1539.4L1871.1,1539.8L1874.1,1540.3L1877.0,1540.7L1880.0,1541.1L1883.0,1541.5L1886.0,1541.9L1888.9,1542.3L1891.9,1542.7L1894.9,1543.1L1897.8,1543.5L1900.8,1544.0L1903.8,1544.4L1906.8,1544.8L1909.7,1545.2L1912.7,1545.6L1915.7,1546.0L1918.6,1546.4L1921.6,1546.9L1924.6,1547.3L1927.6,1547.7L1930.5,1548.1L1933.5,1548.5L1936.5,1548.9L1939.4,1549.3L1942.4,1549.7L1945.4,1550.1L1948.4,1550.5L1951.3,1550.9L1954.3,1551.3L1957.3,1551.7L1960.3,1552.1L1963.2,1552.5L1966.2,1552.9L1969.2,1553.3L1972.2,1553.7L1975.1,1554.0L1978.1,1554.4L1981.1,1554.8L1984.1,1555.2L1987.0,1555.5L1990.0,1555.9L1993.0,1556.2L1996.0,1556.6L1999.0,1556.9L2001.9,1557.2L2004.9,1557.5L2007.9,1557.8L2010.9,1558.1L2013.9,1558.4L2016.9,1558.7L2019.9,1558.9L2022.8,1559.2L2025.8,1559.4L2028.8,1559.7L2031.8,1559.9L2034.8,1560.1L2037.8,1560.3L2040.8,1560.5L2043.8,1560.6L2046.8,1560.8L2049.8,1561.0L2052.8,1561.1L2055.8,1561.3L2058.8,1561.4L2061.8,1561.6L2064.8,1561.7L2067.8,1561.8L2070.8,1561.9L2073.8,1562.0L2076.8,1562.1L2079.8,1562.1L2082.8,1562.2L2085.8,1562.3L2088.8,1562.3L2091.8,1562.4L2094.8,1562.4L2097.8,1562.5L2100.8,1562.5L2103.8,1562.5L2106.8,1562.6L2109.8,1562.6L2112.8,1562.6L2115.8,1562.7L2118.8,1562.7L2121.8,1562.7L2124.8,1562.7L2127.8,1562.8L2130.8,1562.8L2133.8,1562.8L2136.8,1562.8L2139.8,1562.8L2142.8,1562.8L2145.8,1562.8L2148.8,1562.8L2151.8,1562.8L2154.8,1562.9L2157.8,1562.9L2160.8,1562.9L2163.8,1562.9L2166.8,1562.9L2169.8,1562.9L2172.8,1562.9L2175.8,1562.9L2178.8,1562.9L2181.8,1562.9L2184.8,1562.9L2187.8,1562.9L2190.8,1562.9L2193.8,1562.9L2196.8,1562.9L2199.8,1562.9L2202.8,1562.9L2205.8,1562.9L2208.8,1562.8L2211.8,1562.8L2214.8,1562.8L2217.8,1562.8L2220.8,1562.8L2223.8,1562.8L2226.8,1562.8L2229.8,1562.8L2232.8,1562.8L2235.8,1562.8L2238.8,1562.8L2241.8,1562.8L2244.8,1562.8L2247.8,1562.8L2250.8,1562.8L2253.8,1562.8L2256.8,1562.7L2259.8,1562.7L2262.8,1562.7L2265.8,1562.7L2268.8,1562.7L2271.8,1562.7L2274.8,1562.7L2277.8,1562.7L2280.8,1562.7L2283.8,1562.7L2286.8,1562.7L2289.8,1562.7L2292.8,1562.7L2295.8,1562.6L2298.8,1562.6L2301.8,1562.6L2304.8,1562.6L2307.8,1562.6L2310.8,1562.6L2313.8,1562.6L2316.8,1562.6L2319.8,1562.6L2322.8,1562.6L2325.8,1562.6L2328.8,1562.6L2331.8,1562.6L2334.8,1562.6L2337.8,1562.6L2340.8,1562.5L2343.8,1562.5L2346.8,1562.5L2349.8,1562.5L2352.8,1562.5L2355.8,1562.5L2358.8,1562.5L2361.8,1562.5L2364.8,1562.5L2367.8,1562.5L2370.8,1562.5L2373.8,1562.5L2376.8,1562.5L2379.8,1562.5L2382.8,1562.5L2383.8,1562.5" fill="none" stroke="#008000" stroke-width="6" stroke-linejoin="round" stroke-linecap="butt"/>
<path d="M502.0,194.0L505.0,194.0L508.0,194.1L511.0,194.1L514.0,194.1L517.0,194.1L520.0,194.2L523.0,194.2L526.0,194.2L529.0,194.3L532.0,194.3L535.0,194.3L538.0,194.3L541.0,194.4L544.0,194.4L547.0,194.4L550.0,194.5L553.0,194.5L556.0,194.5L559.0,194.5L562.0,194.6L565.0,194.6L568.0,194.6L571.0,194.6L574.0,194.7L577.0,194.7L580.0,194.7L583.0,194.8L586.0,194.8L589.0,194.8L592.0,194.8L595.0,194.9L598.0,194.9L601.0,194.9L604.0,194.9L607.0,195.0L610.0,195.0L613.0,195.0L616.0,195.1L619.0,195.1L622.0,195.1L625.0,195.2L628.0,195.2L631.0,195.2L634.0,195.2L637.0,195.3L640.0,195.3L643.0,195.3L646.0,195.4L649.0,195.4L652.0,195.4L655.0,195.5L658.0,195.5L661.0,195.5L664.0,195.6L667.0,195.6L670.0,195.6L673.0,195.7L676.0,195.7L679.0,195.7L682.0,195.8L685.0,195.8L688.0,195.8L691.0,195.9L694.0,195.9L697.0,196.0L700.0,196.0L703.0,196.0L706.0,196.1L709.0,196.1L712.0,196.2L715.0,196.2L718.0,196.3L721.0,196.3L724.0,196.3L727.0,196.4L730.0,196.4L733.0,196.5L736.0,196.5L739.0,196.6L742.0,196.6L745.0,196.7L748.0,196.7L751.0,196.8L754.0,196.8L757.0,196.9L760.0,196.9L763.0,197.0L766.0,197.0L769.0,197.1L772.0,197.1L775.0,197.2L778.0,197.2L781.0,197.3L784.0,197.4L787.0,197.4L790.0,197.5L793.0,197.5L796.0,197.6L799.0,197.6L802.0,197.7L805.0,197.7L808.0,197.8L811.0,197.8L814.0,197.9L817.0,197.9L820.0,198.0L823.0,198.1L826.0,198.1L829.0,198.2L832.0,198.2L835.0,198.3L838.0,198.3L841.0,198.4L844.0,198.4L847.0,198.5L850.0,198.5L853.0,198.6L856.0,198.6L859.0,198.7L862.0,198.7L865.0,198.8L868.0,198.8L871.0,198.9L874.0,198.9L877.0,199.0L880.0,199.0L883.0,199.0L886.0,199.1L889.0,199.1L892.0,199.2L895.0,199.2L898.0,199.3L901.0,199.3L904.0,199.3L907.0,199.4L910.0,199.4L913.0,199.5L916.0,199.5L919.0,199.5L922.0,199.6L925.0,199.6L928.0,199.6L931.0,199.7L934.0,199.7L937.0,199.7L940.0,199.8L943.0,199.8L946.0,199.9L949.0,199.9L952.0,199.9L955.0,200.0L958.0,200.0L961.0,200.0L964.0,200.1L967.0,200.1L970.0,200.1L973.0,200.2L976.0,200.2L979.0,200.2L982.0,200.3L985.0,200.3L988.0,200.3L991.0,200.4L994.0,200.4L997.0,200.4L1000.0,200.5L1003.0,200.5L1006.0,200.5L1009.0,200.6L1012.0,200.6L1015.0,200.7L1018.0,200.7L1021.0,200.7L1024.0,200.8L1027.0,200.8L1030.0,200.8L1033.0,200.9L1036.0,200.9L1039.0,201.0L1042.0,201.0L1045.0,201.1L1048.0,201.1L1051.0,201.1L1054.0,201.2L1057.0,201.2L1060.0,201.3L1062.9,201.3L1065.9,201.4L1068.9,201.4L1071.9,201.5L1074.9,201.5L1077.9,201.6L1080.9,201.6L1083.9,201.7L1086.9,201.7L1089.9,201.8L1092.9,201.9L1095.9,201.9L1098.9,202.0L1101.9,202.0L1104.9,202.1L1107.9,202.2L1110.9,202.2L1113.9,202.3L1116.9,202.3L1119.9,202.4L1122.9,202.4L1125.9,202.5L1128.9,202.5L1131.9,202.5L1134.9,202.6L1137.9,202.6L1140.9,202.7L1143.9,202.7L1146.9,202.8L1149.9,202.8L1152.9,202.8L1155.9,202.9L1158.9,202.9L1161.9,203.0L1164.9,203.0L1167.9,203.0L1170.9,203.1L1173.9,203.1L1176.9,203.2L1179.9,203.2L1182.9,203.3L1185.9,203.3L1188.9,203.4L1191.9,203.4L1194.9,203.5L1197.9,203.5L1200.9,203.6L1203.9,203.6L1206.9,203.7L1209.9,203.8L1212.9,203.8L1215.9,203.9L1218.9,204.0L1221.9,204.0L1224.9,204.1L1227.9,204.2L1230.9,204.3L1233.9,204.4L1236.9,204.5L1239.9,204.6L1242.9,204.7L1245.9,204.8L1248.9,205.0L1251.9,205.1L1254.9,205.2L1257.9,205.4L1260.9,205.6L1263.9,205.7L1266.9,205.9L1269.9,206.2L1272.9,206.4L1275.9,206.6L1278.8,206.9L1281.8,207.2L1284.8,207.5L1287.8,207.9L1290.8,208.3L1293.7,208.7L1296.7,209.1L1299.7,209.6L1302.6,210.1L1305.6,210.7L1308.5,211.3L1311.4,211.9L1314.4,212.6L1317.3,213.3L1320.2,214.1L1323.0,215.0L1325.9,215.9L1328.7,216.8L1331.5,217.9L1334.4,218.9L1337.2,219.9L1340.0,220.9L1342.9,221.8L1345.8,222.6L1348.6,223.5L1351.5,224.3L1354.3,225.3L1357.1,226.4L1359.9,227.6L1362.5,228.9L1365.2,230.4L1367.8,231.9L1370.3,233.5L1372.7,235.3L1375.0,237.2L1377.3,239.1L1379.4,241.2L1381.4,243.4L1383.4,245.7L1385.2,248.1L1386.9,250.6L1388.4,253.1L1389.9,255.7L1391.3,258.4L1392.7,261.0L1394.2,263.7L1395.6,266.3L1396.9,269.0L1398.2,271.7L1399.5,274.4L1400.7,277.2L1401.8,279.9L1402.9,282.7L1403.9,285.5L1404.9,288.4L1405.9,291.2L1406.8,294.1L1407.7,296.9L1408.5,299.8L1409.3,302.7L1410.1,305.6L1410.8,308.5L1411.5,311.4L1412.2,314.4L1412.8,317.3L1413.3,320.3L1413.9,323.2L1414.4,326.2L1415.0,329.1L1415.5,332.1L1416.0,335.0L1416.6,338.0L1417.1,340.9L1417.6,343.9L1418.2,346.8L1418.7,349.8L1419.3,352.7L1419.9,355.7L1420.5,358.6L1421.2,361.5L1421.8,364.4L1422.5,367.4L1423.2,370.3L1423.9,373.2L1424.7,376.1L1425.4,379.0L1426.2,381.9L1426.9,384.8L1427.7,387.7L1428.5,390.6L1429.2,393.5L1430.0,396.4L1430.8,399.3L1431.5,402.2L1432.2,405.1L1433.0,408.0L1433.7,410.9L1434.4,413.9L1435.1,416.8L1435.8,419.7L1436.4,422.6L1437.1,425.6L1437.7,428.5L1438.3,431.4L1438.8,434.4L1439.4,437.3L1439.9,440.3L1440.4,443.2L1440.9,446.2L1441.4,449.2L1441.9,452.1L1442.3,455.1L1442.8,458.1L1443.2,461.0L1443.6,464.0L1444.1,467.0L1444.5,469.9L1444.9,472.9L1445.2,475.9L1445.6,478.9L1446.0,481.8L1446.4,484.8L1446.7,487.8L1447.1,490.8L1447.4,493.8L1447.8,496.7L1448.1,499.7L1448.4,502.7L1448.8,505.7L1449.1,508.7L1449.4,511.6L1449.7,514.6L1450.0,517.6L1450.3,520.6L1450.6,523.6L1451.0,526.6L1451.3,529.6L1451.6,532.5L1451.9,535.5L1452.2,538.5L1452.4,541.5L1452.7,544.5L1453.0,547.5L1453.3,550.4L1453.6,553.4L1453.9,556.4L1454.2,559.4L1454.5,562.4L1454.8,565.4L1455.1,568.4L1455.4,571.3L1455.6,574.3L1455.9,577.3L1456.2,580.3L1456.5,583.3L1456.8,586.3L1457.1,589.3L1457.4,592.2L1457.7,595.2L1458.0,598.2L1458.3,601.2L1458.6,604.2L1458.9,607.2L1459.2,610.2L1459.4,613.2L1459.7,616.1L1460.0,619.1L1460.3,622.1L1460.6,625.1L1460.8,628.1L1461.1,631.1L1461.4,634.1L1461.6,637.1L1461.9,640.0L1462.1,643.0L1462.4,646.0L1462.7,649.0L1462.9,652.0L1463.2,655.0L1463.4,658.0L1463.7,661.0L1463.9,664.0L1464.2,666.9L1464.4,669.9L1464.7,672.9L1464.9,675.9L1465.1,678.9L1465.4,681.9L1465.6,684.9L1465.9,687.9L1466.1,690.9L1466.4,693.9L1466.6,696.8L1466.8,699.8L1467.1,702.8L1467.3,705.8L1467.6,708.8L1467.8,711.8L1468.0,714.8L1468.3,717.8L1468.5,720.8L1468.8,723.8L1469.0,726.7L1469.3,729.7L1469.5,732.7L1469.7,735.7L1470.0,738.7L1470.2,741.7L1470.5,744.7L1470.7,747.7L1471.0,750.7L1471.2,753.7L1471.5,756.6L1471.7,759.6L1471.9,762.6L1472.2,765.6L1472.4,768.6L1472.7,771.6L1472.9,774.6L1473.1,777.6L1473.4,780.6L1473.6,783.6L1473.8,786.6L1474.1,789.5L1474.3,792.5L1474.5,795.5L1474.8,798.5L1475.0,801.5L1475.2,804.5L1475.5,807.5L1475.7,810.5L1476.0,813.5L1476.2,816.5L1476.4,819.5L1476.7,822.4L1476.9,825.4L1477.1,828.4L1477.3,831.4L1477.6,834.4L1477.8,837.4L1478.0,840.4L1478.3,843.4L1478.5,846.4L1478.7,849.4L1479.0,852.4L1479.2,855.3L1479.4,858.3L1479.7,861.3L1479.9,864.3L1480.1,867.3L1480.4,870.3L1480.6,873.3L1480.8,876.3L1481.0,879.3L1481.3,882.3L1481.5,885.3L1481.7,888.2L1482.0,891.2L1482.2,894.2L1482.4,897.2L1482.7,900.2L1482.9,903.2L1483.1,906.2L1483.3,909.2L1483.6,912.2L1483.8,915.2L1484.0,918.2L1484.3,921.1L1484.5,924.1L1484.7,927.1L1485.0,930.1L1485.2,933.1L1485.4,936.1L1485.6,939.1L1485.9,942.1L1486.1,945.1L1486.3,948.1L1486.6,951.1L1486.8,954.1L1487.0,957.0L1487.3,960.0L1487.5,963.0L1487.7,966.0L1488.0,969.0L1488.2,972.0L1488.4,975.0L1488.6,978.0L1488.9,981.0L1489.1,984.0L1489.3,987.0L1489.6,989.9L1489.8,992.9L1490.0,995.9L1490.3,998.9L1490.5,1001.9L1490.7,1004.9L1491.0,1007.9L1491.2,1010.9L1491.4,1013.9L1491.7,1016.9L1491.9,1019.9L1492.1,1022.8L1492.4,1025.8L1492.6,1028.8L1492.9,1031.8L1493.1,1034.8L1493.3,1037.8L1493.6,1040.8L1493.8,1043.8L1494.0,1046.8L1494.3,1049.8L1494.5,1052.8L1494.7,1055.7L1495.0,1058.7L1495.2,1061.7L1495.5,1064.7L1495.7,1067.7L1495.9,1070.7L1496.2,1073.7L1496.4,1076.7L1496.6,1079.7L1496.9,1082.7L1497.1,1085.7L1497.3,1088.6L1497.6,1091.6L1497.8,1094.6L1498.0,1097.6L1498.3,1100.6L1498.5,1103.6L1498.7,1106.6L1499.0,1109.6L1499.2,1112.6L1499.4,1115.6L1499.7,1118.5L1499.9,1121.5L1500.1,1124.5L1500.4,1127.5L1500.6,1130.5L1500.9,1133.5L1501.1,1136.5L1501.3,1139.5L1501.6,1142.5L1501.8,1145.5L1502.1,1148.5L1502.3,1151.4L1502.6,1154.4L1502.8,1157.4L1503.1,1160.4L1503.3,1163.4L1503.6,1166.4L1503.8,1169.4L1504.1,1172.4L1504.3,1175.4L1504.6,1178.3L1504.8,1181.3L1505.1,1184.3L1505.4,1187.3L1505.6,1190.3L1505.9,1193.3L1506.2,1196.3L1506.4,1199.3L1506.7,1202.3L1507.0,1205.2L1507.3,1208.2L1507.5,1211.2L1507.8,1214.2L1508.1,1217.2L1508.4,1220.2L1508.6,1223.2L1508.9,1226.2L1509.2,1229.1L1509.5,1232.1L1509.8,1235.1L1510.1,1238.1L1510.3,1241.1L1510.6,1244.1L1510.9,1247.1L1511.2,1250.0L1511.5,1253.0L1511.8,1256.0L1512.1,1259.0L1512.4,1262.0L1512.7,1265.0L1513.0,1268.0L1513.3,1270.9L1513.6,1273.9L1513.8,1276.9L1514.1,1279.9L1514.4,1282.9L1514.7,1285.9L1515.0,1288.9L1515.3,1291.8L1515.7,1294.8L1516.0,1297.8L1516.3,1300.8L1516.6,1303.8L1516.9,1306.8L1517.2,1309.7L1517.5,1312.7L1517.8,1315.7L1518.1,1318.7L1518.4,1321.7L1518.7,1324.7L1519.0,1327.6L1519.4,1330.6L1519.7,1333.6L1520.0,1336.6L1520.3,1339.6L1520.6,1342.6L1520.9,1345.5L1521.3,1348.5L1521.6,1351.5L1521.9,1354.5L1522.2,1357.5L1522.5,1360.5L1522.9,1363.4L1523.2,1366.4L1523.5,1369.4L1523.8,1372.4L1524.2,1375.4L1524.5,1378.4L1524.8,1381.3L1525.1,1384.3L1525.4,1387.3L1525.8,1390.3L1526.1,1393.3L1526.4,1396.3L1526.7,1399.2L1527.1,1402.2L1527.4,1405.2L1527.7,1408.2L1528.1,1411.2L1528.5,1414.1L1528.8,1417.1L1529.2,1420.1L1529.6,1423.1L1530.0,1426.0L1530.4,1429.0L1530.8,1432.0L1531.2,1435.0L1531.7,1437.9L1532.1,1440.9L1532.6,1443.8L1533.0,1446.8L1533.5,1449.8L1533.9,1452.7L1534.4,1455.7L1534.9,1458.7L1535.4,1461.6L1535.9,1464.6L1536.4,1467.5L1537.0,1470.5L1537.7,1473.4L1538.4,1476.3L1539.2,1479.2L1540.1,1482.1L1541.0,1484.9L1542.1,1487.7L1543.2,1490.5L1544.3,1493.3L1545.6,1496.0L1546.9,1498.7L1548.4,1501.3L1550.0,1503.8L1551.8,1506.2L1553.8,1508.4L1555.9,1510.5L1558.2,1512.5L1560.6,1514.2L1563.1,1515.8L1565.7,1517.3L1568.4,1518.6L1571.2,1519.7L1574.0,1520.8L1576.8,1521.7L1579.7,1522.6L1582.6,1523.3L1585.5,1524.0L1588.4,1524.6L1591.4,1525.1L1594.4,1525.5L1597.4,1525.8L1600.3,1526.1L1603.3,1526.3L1606.3,1526.5L1609.3,1526.7L1612.3,1526.8L1615.3,1526.9L1618.3,1527.0L1621.3,1527.1L1624.3,1527.2L1627.3,1527.3L1630.3,1527.3L1633.3,1527.4L1636.3,1527.5L1639.3,1527.5L1642.3,1527.6L1645.3,1527.7L1648.3,1527.8L1651.3,1527.9L1654.3,1528.0L1657.3,1528.1L1660.3,1528.2L1663.3,1528.4L1666.3,1528.6L1669.3,1528.8L1672.3,1529.0L1675.3,1529.2L1678.3,1529.4L1681.2,1529.6L1684.2,1529.8L1687.2,1530.0L1690.2,1530.2L1693.2,1530.4L1696.2,1530.6L1699.2,1530.9L1702.2,1531.1L1705.2,1531.3L1708.2,1531.5L1711.2,1531.7L1714.2,1531.9L1717.2,1532.1L1720.2,1532.3L1723.1,1532.5L1726.1,1532.7L1729.1,1533.0L1732.1,1533.2L1735.1,1533.4L1738.1,1533.6L1741.1,1533.8L1744.1,1534.0L1747.1,1534.3L1750.1,1534.5L1753.1,1534.7L1756.1,1534.9L1759.1,1535.1L1762.0,1535.4L1765.0,1535.6L1768.0,1535.8L1771.0,1536.1L1774.0,1536.3L1777.0,1536.5L1780.0,1536.8L1783.0,1537.0L1786.0,1537.3L1789.0,1537.5L1791.9,1537.8L1794.9,1538.0L1797.9,1538.3L1800.9,1538.5L1803.9,1538.8L1806.9,1539.0L1809.9,1539.3L1812.9,1539.6L1815.9,1539.9L1818.8,1540.1L1821.8,1540.4L1824.8,1540.7L1827.8,1541.0L1830.8,1541.3L1833.8,1541.6L1836.8,1541.9L1839.7,1542.2L1842.7,1542.5L1845.7,1542.8L1848.7,1543.2L1851.7,1543.5L1854.7,1543.8L1857.6,1544.2L1860.6,1544.6L1863.6,1544.9L1866.6,1545.3L1869.5,1545.7L1872.5,1546.1L1875.5,1546.5L1878.4,1546.9L1881.4,1547.4L1884.4,1547.8L1887.4,1548.2L1890.3,1548.7L1893.3,1549.1L1896.3,1549.5L1899.2,1550.0L1902.2,1550.5L1905.2,1550.9L1908.1,1551.4L1911.1,1551.8L1914.0,1552.3L1917.0,1552.8L1920.0,1553.2L1922.9,1553.7L1925.9,1554.2L1928.9,1554.7L1931.8,1555.1L1934.8,1555.6L1937.7,1556.1L1940.7,1556.6L1943.7,1557.0L1946.6,1557.5L1949.6,1558.0L1952.6,1558.4L1955.5,1558.9L1958.5,1559.3L1961.5,1559.8L1964.4,1560.2L1967.4,1560.7L1970.4,1561.1L1973.3,1561.5L1976.3,1561.9L1979.3,1562.3L1982.3,1562.7L1985.2,1563.1L1988.2,1563.5L1991.2,1563.8L1994.2,1564.1L1997.2,1564.4L2000.1,1564.7L2003.1,1564.9L2006.1,1565.2L2009.1,1565.4L2012.1,1565.6L2015.1,1565.7L2018.1,1565.9L2021.1,1566.0L2024.1,1566.0L2027.1,1566.1L2030.1,1566.1L2033.1,1566.1L2036.1,1566.2L2039.1,1566.2L2042.1,1566.2L2045.1,1566.2L2048.1,1566.3L2051.1,1566.3L2054.1,1566.4L2057.1,1566.4L2060.1,1566.4L2063.1,1566.5L2066.1,1566.5L2069.1,1566.5L2072.1,1566.5L2075.1,1566.6L2078.1,1566.6L2081.1,1566.6L2084.1,1566.6L2087.1,1566.6L2090.1,1566.6L2093.1,1566.6L2096.1,1566.6L2099.1,1566.7L2102.1,1566.7L2105.1,1566.7L2108.1,1566.7L2111.1,1566.7L2114.1,1566.7L2117.1,1566.7L2120.1,1566.7L2123.1,1566.7L2126.1,1566.7L2129.1,1566.7L2132.1,1566.7L2135.1,1566.7L2138.1,1566.7L2141.1,1566.7L2144.1,1566.7L2147.1,1566.7L2150.1,1566.7L2153.1,1566.7L2156.1,1566.7L2159.1,1566.6L2162.1,1566.6L2165.1,1566.6L2168.1,1566.6L2171.1,1566.6L2174.1,1566.6L2177.1,1566.6L2180.1,1566.6L2183.1,1566.6L2186.1,1566.6L2189.1,1566.6L2192.1,1566.6L2195.1,1566.6L2198.1,1566.6L2201.1,1566.5L2204.1,1566.5L2207.1,1566.5L2210.1,1566.5L2213.1,1566.5L2216.1,1566.5L2219.1,1566.5L2222.1,1566.5L2225.1,1566.5L2228.1,1566.5L2231.1,1566.4L2234.1,1566.4L2237.1,1566.4L2240.1,1566.4L2243.1,1566.4L2246.1,1566.4L2249.1,1566.4L2252.1,1566.4L2255.1,1566.4L2258.1,1566.3L2261.1,1566.3L2264.1,1566.3L2267.1,1566.3L2270.1,1566.3L2273.1,1566.3L2276.1,1566.3L2279.1,1566.3L2282.1,1566.3L2285.1,1566.3L2288.1,1566.2L2291.1,1566.2L2294.1,1566.2L2297.1,1566.2L2300.1,1566.2L2303.1,1566.2L2306.1,1566.2L2309.1,1566.2L2312.1,1566.2L2315.1,1566.2L2318.1,1566.1L2321.1,1566.1L2324.1,1566.1L2327.1,1566.1L2330.1,1566.1L2333.1,1566.1L2336.1,1566.1L2339.1,1566.1L2342.1,1566.1L2345.1,1566.1L2348.1,1566.1L2351.1,1566.1L2354.1,1566.0L2357.1,1566.0L2360.1,1566.0L2363.1,1566.0L2366.1,1566.0L2369.1,1566.0L2372.1,1566.0L2375.1,1566.0L2378.1,1566.0L2381.1,1566.0L2383.1,1566.0" fill="none" stroke="#FFFF00" stroke-width="6" stroke-linejoin="round" stroke-linecap="butt"/>
<path d="M502.0,189.0L505.0,189.0L508.0,189.0L511.0,189.0L514.0,189.1L517.0,189.1L520.0,189.1L523.0,189.1L526.0,189.1L529.0,189.1L532.0,189.1L535.0,189.2L538.0,189.2L541.0,189.2L544.0,189.2L547.0,189.2L550.0,189.2L553.0,189.2L556.0,189.2L559.0,189.2L562.0,189.3L565.0,189.3L568.0,189.3L571.0,189.3L574.0,189.3L577.0,189.3L580.0,189.3L583.0,189.3L586.0,189.3L589.0,189.3L592.0,189.4L595.0,189.4L598.0,189.4L601.0,189.4L604.0,189.4L607.0,189.4L610.0,189.4L613.0,189.4L616.0,189.4L619.0,189.4L622.0,189.4L625.0,189.5L628.0,189.5L631.0,189.5L634.0,189.5L637.0,189.5L640.0,189.5L643.0,189.5L646.0,189.5L649.0,189.5L652.0,189.5L655.0,189.5L658.0,189.6L661.0,189.6L664.0,189.6L667.0,189.6L670.0,189.6L673.0,189.6L676.0,189.6L679.0,189.6L682.0,189.6L685.0,189.6L688.0,189.6L691.0,189.7L694.0,189.7L697.0,189.7L700.0,189.7L703.0,189.7L706.0,189.7L709.0,189.7L712.0,189.7L715.0,189.7L718.0,189.8L721.0,189.8L724.0,189.8L727.0,189.8L730.0,189.8L733.0,189.8L736.0,189.8L739.0,189.8L742.0,189.9L745.0,189.9L748.0,189.9L751.0,189.9L754.0,189.9L757.0,189.9L760.0,189.9L763.0,190.0L766.0,190.0L769.0,190.0L772.0,190.0L775.0,190.0L778.0,190.0L781.0,190.1L784.0,190.1L787.0,190.1L790.0,190.1L793.0,190.1L796.0,190.2L799.0,190.2L802.0,190.2L805.0,190.2L808.0,190.2L811.0,190.3L814.0,190.3L817.0,190.3L820.0,190.3L823.0,190.4L826.0,190.4L829.0,190.4L832.0,190.4L835.0,190.5L838.0,190.5L841.0,190.5L844.0,190.6L847.0,190.6L850.0,190.6L853.0,190.7L856.0,190.7L859.0,190.7L862.0,190.8L865.0,190.8L868.0,190.8L871.0,190.9L874.0,190.9L877.0,191.0L880.0,191.0L883.0,191.0L886.0,191.1L889.0,191.1L892.0,191.2L895.0,191.2L898.0,191.2L901.0,191.3L904.0,191.3L907.0,191.4L910.0,191.4L913.0,191.4L916.0,191.5L919.0,191.5L922.0,191.6L925.0,191.6L928.0,191.6L931.0,191.7L934.0,191.7L937.0,191.8L940.0,191.8L943.0,191.8L946.0,191.9L949.0,191.9L952.0,192.0L955.0,192.0L958.0,192.1L961.0,192.1L964.0,192.1L967.0,192.2L970.0,192.2L973.0,192.3L976.0,192.3L979.0,192.4L982.0,192.4L985.0,192.5L988.0,192.5L991.0,192.6L994.0,192.7L997.0,192.7L1000.0,192.8L1003.0,192.8L1006.0,192.9L1009.0,192.9L1012.0,193.0L1015.0,193.1L1018.0,193.1L1021.0,193.2L1024.0,193.3L1027.0,193.4L1030.0,193.4L1033.0,193.5L1036.0,193.6L1039.0,193.7L1042.0,193.8L1045.0,193.9L1048.0,193.9L1051.0,194.0L1054.0,194.1L1057.0,194.2L1060.0,194.3L1063.0,194.4L1066.0,194.5L1069.0,194.7L1072.0,194.8L1074.9,194.9L1077.9,195.0L1080.9,195.1L1083.9,195.3L1086.9,195.4L1089.9,195.5L1092.9,195.7L1095.9,195.8L1098.9,195.9L1101.9,196.1L1104.9,196.3L1107.9,196.4L1110.9,196.6L1113.9,196.7L1116.9,196.9L1119.9,197.1L1122.9,197.2L1125.9,197.4L1128.9,197.6L1131.9,197.8L1134.9,197.9L1137.9,198.1L1140.9,198.3L1143.9,198.5L1146.8,198.7L1149.8,198.9L1152.8,199.1L1155.8,199.3L1158.8,199.5L1161.8,199.7L1164.8,199.9L1167.8,200.1L1170.8,200.3L1173.8,200.5L1176.8,200.8L1179.8,201.0L1182.8,201.2L1185.7,201.4L1188.7,201.7L1191.7,201.9L1194.7,202.2L1197.7,202.4L1200.7,202.7L1203.7,202.9L1206.7,203.2L1209.7,203.4L1212.7,203.7L1215.6,204.0L1218.6,204.2L1221.6,204.5L1224.6,204.8L1227.6,205.1L1230.6,205.4L1233.6,205.7L1236.5,206.0L1239.5,206.4L1242.5,206.7L1245.5,207.1L1248.5,207.4L1251.4,207.8L1254.4,208.2L1257.4,208.6L1260.4,209.0L1263.3,209.4L1266.3,209.8L1269.3,210.3L1272.2,210.8L1275.2,211.3L1278.1,211.9L1281.1,212.5L1284.0,213.2L1286.9,213.9L1289.8,214.6L1292.7,215.4L1295.6,216.2L1298.5,217.1L1301.3,218.0L1304.2,218.9L1307.0,219.9L1309.8,220.9L1312.6,221.9L1315.5,223.0L1318.3,224.0L1321.1,225.1L1323.9,226.1L1326.7,227.2L1329.5,228.3L1332.3,229.3L1335.1,230.3L1338.0,231.3L1340.8,232.3L1343.6,233.3L1346.4,234.3L1349.2,235.5L1351.9,236.7L1354.6,238.1L1357.2,239.6L1359.6,241.3L1362.0,243.1L1364.3,245.0L1366.5,247.1L1368.7,249.1L1370.9,251.2L1373.1,253.2L1375.3,255.3L1377.4,257.4L1379.5,259.5L1381.6,261.6L1383.6,263.8L1385.6,266.1L1387.6,268.4L1389.4,270.7L1391.3,273.1L1393.0,275.5L1394.7,278.0L1396.3,280.5L1397.9,283.1L1399.4,285.7L1400.8,288.3L1402.2,291.0L1403.5,293.7L1404.8,296.4L1406.1,299.1L1407.3,301.9L1408.4,304.6L1409.6,307.4L1410.6,310.2L1411.6,313.0L1412.6,315.9L1413.5,318.7L1414.4,321.6L1415.3,324.4L1416.2,327.3L1417.1,330.2L1418.0,333.0L1418.8,335.9L1419.7,338.8L1420.6,341.7L1421.4,344.5L1422.2,347.4L1423.0,350.3L1423.8,353.2L1424.6,356.1L1425.4,359.0L1426.2,361.9L1427.0,364.8L1427.8,367.7L1428.6,370.6L1429.4,373.5L1430.2,376.4L1430.9,379.3L1431.7,382.2L1432.5,385.0L1433.3,387.9L1434.0,390.8L1434.8,393.7L1435.6,396.7L1436.3,399.6L1437.0,402.5L1437.8,405.4L1438.5,408.3L1439.2,411.2L1439.8,414.1L1440.5,417.1L1441.2,420.0L1441.8,422.9L1442.4,425.9L1443.0,428.8L1443.6,431.7L1444.2,434.7L1444.8,437.6L1445.3,440.6L1445.8,443.5L1446.3,446.5L1446.8,449.4L1447.3,452.4L1447.7,455.4L1448.2,458.3L1448.6,461.3L1449.1,464.3L1449.5,467.2L1449.9,470.2L1450.3,473.2L1450.7,476.2L1451.1,479.1L1451.4,482.1L1451.8,485.1L1452.2,488.1L1452.5,491.1L1452.9,494.0L1453.2,497.0L1453.6,500.0L1453.9,503.0L1454.2,506.0L1454.6,508.9L1454.9,511.9L1455.2,514.9L1455.5,517.9L1455.8,520.9L1456.2,523.9L1456.5,526.8L1456.8,529.8L1457.1,532.8L1457.4,535.8L1457.7,538.8L1458.0,541.8L1458.2,544.7L1458.5,547.7L1458.8,550.7L1459.1,553.7L1459.4,556.7L1459.7,559.7L1460.0,562.7L1460.3,565.7L1460.6,568.6L1460.8,571.6L1461.1,574.6L1461.4,577.6L1461.7,580.6L1462.0,583.6L1462.3,586.6L1462.6,589.5L1462.8,592.5L1463.1,595.5L1463.4,598.5L1463.7,601.5L1464.0,604.5L1464.2,607.5L1464.5,610.5L1464.8,613.4L1465.0,616.4L1465.3,619.4L1465.5,622.4L1465.8,625.4L1466.0,628.4L1466.3,631.4L1466.5,634.4L1466.8,637.4L1467.0,640.3L1467.2,643.3L1467.5,646.3L1467.7,649.3L1467.9,652.3L1468.2,655.3L1468.4,658.3L1468.6,661.3L1468.8,664.3L1469.0,667.3L1469.3,670.3L1469.5,673.3L1469.7,676.2L1469.9,679.2L1470.1,682.2L1470.4,685.2L1470.6,688.2L1470.8,691.2L1471.0,694.2L1471.2,697.2L1471.4,700.2L1471.6,703.2L1471.8,706.2L1472.1,709.2L1472.3,712.2L1472.5,715.1L1472.7,718.1L1472.9,721.1L1473.1,724.1L1473.4,727.1L1473.6,730.1L1473.8,733.1L1474.0,736.1L1474.2,739.1L1474.5,742.1L1474.7,745.1L1474.9,748.1L1475.1,751.0L1475.3,754.0L1475.5,757.0L1475.8,760.0L1476.0,763.0L1476.2,766.0L1476.4,769.0L1476.6,772.0L1476.8,775.0L1477.0,778.0L1477.2,781.0L1477.4,784.0L1477.7,787.0L1477.9,790.0L1478.1,792.9L1478.3,795.9L1478.5,798.9L1478.7,801.9L1478.9,804.9L1479.1,807.9L1479.3,810.9L1479.5,813.9L1479.7,816.9L1479.9,819.9L1480.1,822.9L1480.3,825.9L1480.5,828.9L1480.7,831.9L1480.9,834.8L1481.2,837.8L1481.4,840.8L1481.6,843.8L1481.8,846.8L1482.0,849.8L1482.2,852.8L1482.4,855.8L1482.6,858.8L1482.8,861.8L1483.0,864.8L1483.2,867.8L1483.4,870.8L1483.6,873.8L1483.8,876.8L1484.0,879.7L1484.2,882.7L1484.4,885.7L1484.6,888.7L1484.8,891.7L1485.0,894.7L1485.2,897.7L1485.4,900.7L1485.6,903.7L1485.8,906.7L1486.0,909.7L1486.2,912.7L1486.4,915.7L1486.6,918.7L1486.8,921.6L1487.0,924.6L1487.2,927.6L1487.4,930.6L1487.6,933.6L1487.9,936.6L1488.1,939.6L1488.3,942.6L1488.5,945.6L1488.7,948.6L1488.9,951.6L1489.1,954.6L1489.3,957.6L1489.5,960.6L1489.7,963.5L1489.9,966.5L1490.1,969.5L1490.3,972.5L1490.5,975.5L1490.7,978.5L1491.0,981.5L1491.2,984.5L1491.4,987.5L1491.6,990.5L1491.8,993.5L1492.0,996.5L1492.2,999.5L1492.4,1002.5L1492.7,1005.4L1492.9,1008.4L1493.1,1011.4L1493.3,1014.4L1493.5,1017.4L1493.7,1020.4L1494.0,1023.4L1494.2,1026.4L1494.4,1029.4L1494.6,1032.4L1494.9,1035.4L1495.1,1038.4L1495.3,1041.3L1495.5,1044.3L1495.8,1047.3L1496.0,1050.3L1496.2,1053.3L1496.4,1056.3L1496.7,1059.3L1496.9,1062.3L1497.1,1065.3L1497.4,1068.3L1497.6,1071.3L1497.8,1074.3L1498.0,1077.2L1498.3,1080.2L1498.5,1083.2L1498.7,1086.2L1499.0,1089.2L1499.2,1092.2L1499.5,1095.2L1499.7,1098.2L1499.9,1101.2L1500.2,1104.2L1500.4,1107.2L1500.6,1110.1L1500.9,1113.1L1501.1,1116.1L1501.4,1119.1L1501.6,1122.1L1501.8,1125.1L1502.1,1128.1L1502.3,1131.1L1502.6,1134.1L1502.8,1137.1L1503.1,1140.0L1503.3,1143.0L1503.6,1146.0L1503.8,1149.0L1504.1,1152.0L1504.3,1155.0L1504.6,1158.0L1504.8,1161.0L1505.1,1164.0L1505.4,1166.9L1505.6,1169.9L1505.9,1172.9L1506.1,1175.9L1506.4,1178.9L1506.7,1181.9L1506.9,1184.9L1507.2,1187.9L1507.5,1190.9L1507.7,1193.8L1508.0,1196.8L1508.3,1199.8L1508.6,1202.8L1508.8,1205.8L1509.1,1208.8L1509.4,1211.8L1509.7,1214.8L1509.9,1217.7L1510.2,1220.7L1510.5,1223.7L1510.8,1226.7L1511.1,1229.7L1511.3,1232.7L1511.6,1235.7L1511.9,1238.6L1512.2,1241.6L1512.5,1244.6L1512.8,1247.6L1513.1,1250.6L1513.4,1253.6L1513.6,1256.6L1513.9,1259.5L1514.2,1262.5L1514.5,1265.5L1514.8,1268.5L1515.1,1271.5L1515.4,1274.5L1515.7,1277.5L1516.0,1280.4L1516.3,1283.4L1516.6,1286.4L1516.9,1289.4L1517.2,1292.4L1517.5,1295.4L1517.8,1298.4L1518.1,1301.3L1518.4,1304.3L1518.7,1307.3L1519.0,1310.3L1519.3,1313.3L1519.7,1316.3L1520.0,1319.2L1520.3,1322.2L1520.6,1325.2L1520.9,1328.2L1521.2,1331.2L1521.5,1334.2L1521.8,1337.1L1522.2,1340.1L1522.5,1343.1L1522.8,1346.1L1523.1,1349.1L1523.4,1352.1L1523.8,1355.0L1524.1,1358.0L1524.4,1361.0L1524.7,1364.0L1525.0,1367.0L1525.3,1370.0L1525.7,1372.9L1526.0,1375.9L1526.3,1378.9L1526.5,1381.9L1526.8,1384.9L1527.1,1387.9L1527.4,1390.9L1527.7,1393.8L1528.0,1396.8L1528.3,1399.8L1528.6,1402.8L1529.0,1405.8L1529.3,1408.8L1529.6,1411.7L1530.0,1414.7L1530.3,1417.7L1530.7,1420.7L1531.1,1423.6L1531.5,1426.6L1532.0,1429.6L1532.5,1432.5L1533.0,1435.5L1533.5,1438.4L1534.1,1441.4L1534.7,1444.3L1535.3,1447.3L1535.9,1450.2L1536.5,1453.2L1537.2,1456.1L1537.8,1459.0L1538.6,1461.9L1539.4,1464.8L1540.2,1467.7L1541.2,1470.5L1542.2,1473.3L1543.3,1476.1L1544.5,1478.8L1545.9,1481.5L1547.3,1484.1L1548.9,1486.7L1550.5,1489.2L1552.3,1491.6L1554.3,1493.9L1556.4,1496.0L1558.6,1498.0L1561.0,1499.7L1563.5,1501.3L1566.2,1502.7L1568.9,1503.9L1571.7,1504.9L1574.6,1505.8L1577.5,1506.6L1580.4,1507.4L1583.3,1508.1L1586.2,1508.7L1589.2,1509.4L1592.1,1510.0L1595.0,1510.7L1597.9,1511.4L1600.9,1512.0L1603.8,1512.7L1606.7,1513.3L1609.6,1514.0L1612.6,1514.6L1615.5,1515.1L1618.5,1515.7L1621.4,1516.2L1624.4,1516.8L1627.3,1517.3L1630.3,1517.8L1633.3,1518.2L1636.2,1518.7L1639.2,1519.1L1642.2,1519.5L1645.1,1519.9L1648.1,1520.3L1651.1,1520.6L1654.1,1520.9L1657.1,1521.2L1660.1,1521.4L1663.1,1521.6L1666.0,1521.8L1669.0,1522.0L1672.0,1522.1L1675.0,1522.2L1678.0,1522.3L1681.0,1522.4L1684.0,1522.5L1687.0,1522.6L1690.0,1522.7L1693.0,1522.8L1696.0,1522.9L1699.0,1523.0L1702.0,1523.0L1705.0,1523.1L1708.0,1523.2L1711.0,1523.2L1714.0,1523.2L1717.0,1523.2L1720.0,1523.2L1723.0,1523.2L1726.0,1523.2L1729.0,1523.2L1732.0,1523.3L1735.0,1523.3L1738.0,1523.4L1741.0,1523.5L1744.0,1523.7L1747.0,1523.8L1750.0,1524.0L1753.0,1524.3L1756.0,1524.5L1759.0,1524.8L1762.0,1525.1L1764.9,1525.4L1767.9,1525.7L1770.9,1526.0L1773.9,1526.4L1776.9,1526.7L1779.8,1527.1L1782.8,1527.4L1785.8,1527.8L1788.8,1528.2L1791.7,1528.6L1794.7,1529.0L1797.7,1529.4L1800.7,1529.8L1803.6,1530.2L1806.6,1530.6L1809.6,1531.0L1812.6,1531.5L1815.5,1531.9L1818.5,1532.3L1821.5,1532.7L1824.4,1533.1L1827.4,1533.5L1830.4,1533.9L1833.3,1534.4L1836.3,1534.8L1839.3,1535.2L1842.3,1535.6L1845.2,1536.0L1848.2,1536.4L1851.2,1536.8L1854.2,1537.2L1857.1,1537.5L1860.1,1538.0L1863.1,1538.4L1866.1,1538.8L1869.0,1539.2L1872.0,1539.6L1875.0,1540.0L1877.9,1540.4L1880.9,1540.8L1883.9,1541.2L1886.9,1541.7L1889.8,1542.1L1892.8,1542.5L1895.8,1542.9L1898.7,1543.3L1901.7,1543.8L1904.7,1544.2L1907.6,1544.6L1910.6,1545.0L1913.6,1545.5L1916.6,1545.9L1919.5,1546.3L1922.5,1546.7L1925.5,1547.1L1928.4,1547.6L1931.4,1548.0L1934.4,1548.4L1937.3,1548.8L1940.3,1549.2L1943.3,1549.7L1946.3,1550.1L1949.2,1550.5L1952.2,1550.9L1955.2,1551.3L1958.1,1551.7L1961.1,1552.1L1964.1,1552.5L1967.1,1552.9L1970.0,1553.3L1973.0,1553.7L1976.0,1554.1L1979.0,1554.5L1981.9,1554.9L1984.9,1555.2L1987.9,1555.6L1990.9,1556.0L1993.9,1556.3L1996.8,1556.6L1999.8,1557.0L2002.8,1557.3L2005.8,1557.6L2008.8,1557.9L2011.8,1558.2L2014.7,1558.5L2017.7,1558.8L2020.7,1559.0L2023.7,1559.3L2026.7,1559.5L2029.7,1559.7L2032.7,1559.9L2035.7,1560.1L2038.7,1560.3L2041.7,1560.5L2044.7,1560.7L2047.6,1560.9L2050.6,1561.0L2053.6,1561.2L2056.6,1561.3L2059.6,1561.5L2062.6,1561.6L2065.6,1561.7L2068.6,1561.8L2071.6,1561.9L2074.6,1562.0L2077.6,1562.1L2080.6,1562.2L2083.6,1562.2L2086.6,1562.3L2089.6,1562.3L2092.6,1562.4L2095.6,1562.4L2098.6,1562.5L2101.6,1562.5L2104.6,1562.6L2107.6,1562.6L2110.6,1562.6L2113.6,1562.7L2116.6,1562.7L2119.6,1562.7L2122.6,1562.7L2125.6,1562.7L2128.6,1562.8L2131.6,1562.8L2134.6,1562.8L2137.6,1562.8L2140.6,1562.8L2143.6,1562.8L2146.6,1562.8L2149.6,1562.8L2152.6,1562.8L2155.6,1562.9L2158.6,1562.9L2161.6,1562.9L2164.6,1562.9L2167.6,1562.9L2170.6,1562.9L2173.6,1562.9L2176.6,1562.9L2179.6,1562.9L2182.6,1562.9L2185.6,1562.9L2188.6,1562.9L2191.6,1562.9L2194.6,1562.9L2197.6,1562.9L2200.6,1562.9L2203.6,1562.9L2206.6,1562.9L2209.6,1562.8L2212.6,1562.8L2215.6,1562.8L2218.6,1562.8L2221.6,1562.8L2224.6,1562.8L2227.6,1562.8L2230.6,1562.8L2233.6,1562.8L2236.6,1562.8L2239.6,1562.8L2242.6,1562.8L2245.6,1562.8L2248.6,1562.8L2251.6,1562.8L2254.6,1562.8L2257.6,1562.7L2260.6,1562.7L2263.6,1562.7L2266.6,1562.7L2269.6,1562.7L2272.6,1562.7L2275.6,1562.7L2278.6,1562.7L2281.6,1562.7L2284.6,1562.7L2287.6,1562.7L2290.6,1562.7L2293.6,1562.7L2296.6,1562.6L2299.6,1562.6L2302.6,1562.6L2305.6,1562.6L2308.6,1562.6L2311.6,1562.6L2314.6,1562.6L2317.6,1562.6L2320.6,1562.6L2323.6,1562.6L2326.6,1562.6L2329.6,1562.6L2332.6,1562.6L2335.6,1562.6L2338.6,1562.5L2341.6,1562.5L2344.6,1562.5L2347.6,1562.5L2350.6,1562.5L2353.6,1562.5L2356.6,1562.5L2359.6,1562.5L2362.6,1562.5L2365.6,1562.5L2368.6,1562.5L2371.6,1562.5L2374.6,1562.5L2377.6,1562.5L2380.6,1562.5L2383.6,1562.5" fill="none" stroke="#FF8000" stroke-width="6" stroke-linejoin="round" stroke-linecap="butt"/>
<path d="M502.0,180.5L505.0,180.3L508.0,180.1L511.0,179.9L514.0,179.7L517.0,179.5L520.0,179.3L523.0,179.2L526.0,179.1L529.0,179.0L532.0,178.9L535.0,178.9L538.0,179.0L540.9,179.1L543.9,179.2L546.9,179.4L549.9,179.7L552.9,180.1L555.9,180.6L558.8,181.1L561.7,181.7L564.7,182.4L567.6,183.2L570.5,183.9L573.4,184.7L576.2,185.6L579.1,186.4L582.0,187.3L584.8,188.3L587.6,189.3L590.5,190.3L593.3,191.4L596.1,192.4L598.8,193.6L601.6,194.7L604.4,195.9L607.1,197.1L609.9,198.3L612.6,199.5L615.3,200.8L618.1,202.0L620.8,203.3L623.5,204.5L626.2,205.8L629.0,207.0L631.7,208.2L634.4,209.5L637.2,210.7L639.9,211.9L642.7,213.2L645.4,214.3L648.2,215.5L651.0,216.6L653.8,217.6L656.6,218.6L659.4,219.6L662.3,220.6L665.1,221.5L668.0,222.4L670.9,223.1L673.8,223.8L676.8,224.4L679.7,224.9L682.7,225.3L685.7,225.7L688.7,226.0L691.6,226.2L694.6,226.4L697.6,226.6L700.6,226.7L703.6,226.9L706.6,227.0L709.6,227.1L712.6,227.2L715.6,227.3L718.6,227.4L721.6,227.4L724.6,227.5L727.6,227.5L730.6,227.6L733.6,227.6L736.6,227.6L739.6,227.6L742.6,227.7L745.6,227.7L748.6,227.7L751.6,227.7L754.6,227.8L757.6,227.8L760.6,227.8L763.6,227.9L766.6,227.9L769.6,228.0L772.6,228.1L775.6,228.1L778.6,228.2L781.6,228.3L784.6,228.4L787.6,228.5L790.6,228.6L793.6,228.6L796.6,228.7L799.6,228.8L802.6,228.9L805.6,229.0L808.6,229.1L811.6,229.2L814.6,229.3L817.6,229.3L820.6,229.4L823.6,229.5L826.6,229.6L829.6,229.7L832.6,229.7L835.6,229.8L838.6,229.9L841.6,229.9L844.6,230.0L847.6,230.1L850.6,230.2L853.6,230.2L856.6,230.3L859.6,230.4L862.6,230.4L865.6,230.5L868.6,230.6L871.6,230.6L874.6,230.7L877.6,230.8L880.6,230.9L883.6,231.0L886.6,231.0L889.6,231.1L892.6,231.2L895.6,231.3L898.6,231.4L901.6,231.5L904.6,231.6L907.6,231.7L910.6,231.8L913.6,231.9L916.6,232.0L919.6,232.1L922.6,232.2L925.6,232.3L928.6,232.4L931.6,232.5L934.6,232.6L937.5,232.7L940.5,232.8L943.5,232.9L946.5,233.0L949.5,233.1L952.5,233.2L955.5,233.3L958.5,233.5L961.5,233.6L964.5,233.7L967.5,233.8L970.5,234.0L973.5,234.1L976.5,234.2L979.5,234.4L982.5,234.5L985.5,234.6L988.5,234.8L991.5,234.9L994.5,235.1L997.5,235.2L1000.5,235.4L1003.5,235.6L1006.5,235.7L1009.5,235.9L1012.5,236.1L1015.5,236.3L1018.5,236.4L1021.5,236.6L1024.4,236.8L1027.4,237.0L1030.4,237.1L1033.4,237.3L1036.4,237.5L1039.4,237.7L1042.4,237.9L1045.4,238.0L1048.4,238.2L1051.4,238.3L1054.4,238.4L1057.4,238.5L1060.4,238.5L1063.4,238.5L1066.4,238.6L1069.4,238.7L1072.4,239.0L1075.3,239.4L1078.3,240.0L1081.1,240.8L1084.0,241.8L1086.8,242.9L1089.5,244.1L1092.2,245.5L1094.8,246.9L1097.4,248.4L1099.9,250.0L1102.4,251.7L1104.8,253.5L1107.2,255.3L1109.4,257.3L1111.7,259.3L1113.9,261.3L1116.0,263.4L1118.1,265.6L1120.1,267.8L1122.1,270.1L1124.0,272.3L1125.9,274.7L1127.7,277.1L1129.5,279.5L1131.2,281.9L1133.0,284.4L1134.6,286.9L1136.3,289.4L1137.9,291.9L1139.5,294.4L1141.1,297.0L1142.6,299.5L1144.2,302.1L1145.7,304.7L1147.1,307.3L1148.6,310.0L1150.0,312.6L1151.4,315.3L1152.8,317.9L1154.2,320.6L1155.5,323.3L1156.8,326.0L1158.1,328.7L1159.4,331.4L1160.7,334.1L1161.9,336.8L1163.2,339.6L1164.4,342.3L1165.6,345.1L1166.7,347.8L1167.9,350.6L1169.0,353.4L1170.1,356.2L1171.2,358.9L1172.3,361.7L1173.4,364.5L1174.5,367.3L1175.6,370.1L1176.6,372.9L1177.7,375.7L1178.7,378.6L1179.8,381.4L1180.8,384.2L1181.8,387.0L1182.8,389.8L1183.8,392.7L1184.8,395.5L1185.8,398.3L1186.8,401.2L1187.7,404.0L1188.7,406.9L1189.6,409.7L1190.6,412.6L1191.5,415.4L1192.4,418.3L1193.4,421.1L1194.3,424.0L1195.2,426.8L1196.1,429.7L1197.1,432.5L1198.0,435.4L1198.9,438.2L1199.8,441.1L1200.8,443.9L1201.7,446.8L1202.7,449.6L1203.6,452.5L1204.6,455.3L1205.5,458.2L1206.5,461.0L1207.4,463.9L1208.4,466.7L1209.3,469.5L1210.3,472.4L1211.2,475.2L1212.2,478.1L1213.1,480.9L1214.1,483.8L1215.0,486.6L1216.0,489.5L1216.9,492.3L1217.8,495.2L1218.8,498.0L1219.7,500.9L1220.6,503.7L1221.5,506.6L1222.4,509.5L1223.3,512.3L1224.2,515.2L1225.1,518.0L1226.0,520.9L1226.9,523.8L1227.8,526.6L1228.7,529.5L1229.6,532.4L1230.4,535.2L1231.3,538.1L1232.2,541.0L1233.1,543.8L1234.0,546.7L1234.9,549.6L1235.7,552.4L1236.6,555.3L1237.5,558.2L1238.4,561.0L1239.2,563.9L1240.1,566.8L1241.1,569.6L1242.0,572.5L1242.9,575.3L1243.9,578.2L1244.8,581.0L1245.8,583.9L1246.9,586.7L1247.9,589.5L1248.9,592.3L1250.0,595.1L1251.1,597.9L1252.2,600.7L1253.3,603.5L1254.4,606.3L1255.5,609.1L1256.6,611.8L1257.8,614.6L1258.9,617.4L1260.0,620.2L1261.2,622.9L1262.4,625.7L1263.5,628.5L1264.7,631.2L1265.9,634.0L1267.1,636.7L1268.3,639.5L1269.5,642.2L1270.8,644.9L1272.0,647.7L1273.3,650.4L1274.5,653.1L1275.8,655.8L1277.0,658.6L1278.3,661.3L1279.6,664.0L1280.8,666.7L1282.0,669.5L1283.3,672.2L1284.5,675.0L1285.7,677.7L1286.9,680.5L1288.0,683.2L1289.2,686.0L1290.3,688.8L1291.5,691.5L1292.6,694.3L1293.8,697.1L1294.9,699.9L1296.0,702.7L1297.1,705.4L1298.2,708.2L1299.3,711.0L1300.4,713.8L1301.5,716.6L1302.6,719.4L1303.6,722.2L1304.7,725.0L1305.8,727.8L1306.8,730.6L1307.8,733.5L1308.8,736.3L1309.9,739.1L1310.9,741.9L1311.9,744.8L1312.8,747.6L1313.8,750.4L1314.8,753.3L1315.8,756.1L1316.8,758.9L1317.7,761.8L1318.7,764.6L1319.7,767.5L1320.7,770.3L1321.6,773.1L1322.6,776.0L1323.6,778.8L1324.6,781.6L1325.6,784.5L1326.6,787.3L1327.6,790.1L1328.6,793.0L1329.5,795.8L1330.5,798.6L1331.5,801.5L1332.5,804.3L1333.5,807.1L1334.5,810.0L1335.5,812.8L1336.5,815.6L1337.4,818.5L1338.4,821.3L1339.4,824.1L1340.4,826.9L1341.4,829.8L1342.4,832.6L1343.4,835.4L1344.4,838.3L1345.4,841.1L1346.4,843.9L1347.4,846.7L1348.5,849.6L1349.5,852.4L1350.4,855.2L1351.4,858.0L1352.4,860.9L1353.4,863.7L1354.4,866.6L1355.3,869.4L1356.3,872.2L1357.2,875.1L1358.1,878.0L1359.0,880.8L1359.9,883.7L1360.8,886.5L1361.7,889.4L1362.6,892.3L1363.5,895.1L1364.4,898.0L1365.3,900.9L1366.1,903.7L1367.0,906.6L1367.9,909.5L1368.8,912.3L1369.8,915.2L1370.7,918.0L1371.6,920.9L1372.6,923.7L1373.5,926.6L1374.5,929.4L1375.4,932.3L1376.4,935.1L1377.3,937.9L1378.3,940.8L1379.3,943.6L1380.3,946.5L1381.2,949.3L1382.2,952.1L1383.2,955.0L1384.2,957.8L1385.3,960.6L1386.3,963.4L1387.3,966.2L1388.3,969.1L1389.4,971.9L1390.4,974.7L1391.4,977.5L1392.5,980.3L1393.5,983.1L1394.5,986.0L1395.6,988.8L1396.7,991.6L1397.7,994.4L1398.8,997.2L1399.9,1000.0L1401.1,1002.7L1402.2,1005.5L1403.4,1008.3L1404.6,1011.0L1405.8,1013.8L1407.0,1016.5L1408.3,1019.2L1409.6,1021.9L1410.9,1024.6L1412.2,1027.3L1413.5,1030.0L1414.9,1032.7L1416.3,1035.3L1417.7,1038.0L1419.2,1040.6L1420.7,1043.2L1422.2,1045.8L1423.8,1048.3L1425.5,1050.8L1427.1,1053.3L1428.8,1055.8L1430.5,1058.3L1432.2,1060.7L1434.0,1063.2L1435.8,1065.6L1437.6,1067.9L1439.6,1070.2L1441.6,1072.4L1443.7,1074.5L1445.9,1076.5L1448.3,1078.4L1450.7,1080.1L1453.2,1081.7L1455.9,1083.1L1458.6,1084.3L1461.4,1085.4L1464.2,1086.4L1467.1,1087.3L1470.0,1088.2L1472.9,1088.9L1475.8,1089.6L1478.7,1090.3L1481.6,1090.9L1484.6,1091.4L1487.6,1091.8L1490.5,1092.1L1493.5,1092.4L1496.5,1092.6L1499.5,1092.8L1502.5,1093.0L1505.5,1093.1L1508.5,1093.3L1511.5,1093.5L1514.5,1093.7L1517.5,1094.0L1520.5,1094.3L1523.4,1094.7L1526.4,1095.1L1529.4,1095.6L1532.3,1096.1L1535.3,1096.6L1538.2,1097.1L1541.2,1097.7L1544.1,1098.2L1547.1,1098.8L1550.0,1099.4L1553.0,1100.0L1555.9,1100.6L1558.8,1101.2L1561.8,1101.8L1564.7,1102.4L1567.7,1102.9L1570.6,1103.5L1573.5,1104.1L1576.5,1104.7L1579.4,1105.3L1582.4,1105.9L1585.3,1106.5L1588.2,1107.1L1591.2,1107.8L1594.1,1108.4L1597.0,1109.1L1599.9,1109.7L1602.9,1110.4L1605.8,1111.1L1608.7,1111.9L1611.6,1112.6L1614.5,1113.4L1617.4,1114.1L1620.3,1114.9L1623.2,1115.7L1626.1,1116.5L1629.0,1117.4L1631.8,1118.2L1634.7,1119.1L1637.6,1119.9L1640.5,1120.8L1643.3,1121.7L1646.2,1122.6L1649.0,1123.5L1651.9,1124.4L1654.8,1125.3L1657.6,1126.2L1660.5,1127.2L1663.3,1128.2L1666.1,1129.1L1669.0,1130.1L1671.8,1131.1L1674.6,1132.1L1677.5,1133.1L1680.3,1134.1L1683.1,1135.1L1685.9,1136.2L1688.7,1137.2L1691.5,1138.3L1694.4,1139.3L1697.2,1140.4L1700.0,1141.5L1702.8,1142.5L1705.6,1143.6L1708.3,1144.7L1711.1,1145.8L1713.9,1146.9L1716.7,1148.0L1719.5,1149.2L1722.3,1150.3L1725.0,1151.5L1727.8,1152.6L1730.6,1153.8L1733.3,1154.9L1736.1,1156.1L1738.9,1157.3L1741.6,1158.5L1744.4,1159.7L1747.1,1160.9L1749.8,1162.1L1752.6,1163.3L1755.3,1164.6L1758.0,1165.8L1760.8,1167.1L1763.5,1168.3L1766.2,1169.6L1769.0,1170.8L1771.7,1172.1L1774.4,1173.3L1777.1,1174.6L1779.8,1175.9L1782.6,1177.2L1785.3,1178.4L1788.0,1179.7L1790.7,1181.0L1793.4,1182.3L1796.1,1183.6L1798.8,1184.9L1801.5,1186.2L1804.2,1187.5L1806.9,1188.8L1809.6,1190.1L1812.3,1191.4L1815.0,1192.7L1817.7,1194.1L1820.4,1195.4L1823.1,1196.7L1825.8,1198.1L1828.4,1199.4L1831.1,1200.8L1833.8,1202.1L1836.5,1203.5L1839.1,1204.8L1841.8,1206.2L1844.5,1207.6L1847.2,1208.9L1849.8,1210.3L1852.5,1211.7L1855.2,1213.0L1857.8,1214.4L1860.5,1215.7L1863.2,1217.1L1865.9,1218.5L1868.5,1219.8L1871.2,1221.2L1873.9,1222.5L1876.6,1223.9L1879.3,1225.2L1881.9,1226.6L1884.6,1227.9L1887.3,1229.3L1890.0,1230.6L1892.6,1232.0L1895.3,1233.4L1898.0,1234.7L1900.7,1236.1L1903.3,1237.4L1906.0,1238.8L1908.7,1240.1L1911.4,1241.5L1914.0,1242.8L1916.7,1244.2L1919.4,1245.6L1922.1,1246.9L1924.7,1248.3L1927.4,1249.6L1930.1,1251.0L1932.8,1252.4L1935.4,1253.7L1938.1,1255.1L1940.8,1256.4L1943.5,1257.8L1946.2,1259.1L1948.8,1260.5L1951.5,1261.8L1954.2,1263.2L1956.9,1264.5L1959.6,1265.9L1962.2,1267.2L1964.9,1268.5L1967.6,1269.9L1970.3,1271.2L1973.0,1272.6L1975.7,1273.9L1978.4,1275.2L1981.0,1276.6L1983.7,1277.9L1986.4,1279.3L1989.1,1280.6L1991.8,1281.9L1994.4,1283.3L1997.1,1284.6L1999.8,1286.0L2002.5,1287.4L2005.2,1288.7L2007.8,1290.1L2010.5,1291.4L2013.2,1292.8L2015.9,1294.1L2018.5,1295.5L2021.2,1296.8L2023.9,1298.1L2026.6,1299.5L2029.3,1300.8L2032.0,1302.1L2034.7,1303.4L2037.4,1304.7L2040.1,1305.9L2042.9,1307.2L2045.6,1308.4L2048.3,1309.7L2051.1,1310.9L2053.8,1312.2L2056.5,1313.4L2059.3,1314.6L2062.0,1315.9L2064.7,1317.1L2067.4,1318.4L2070.2,1319.6L2072.9,1320.9L2075.6,1322.2L2078.3,1323.5L2081.0,1324.7L2083.7,1326.0L2086.4,1327.3L2089.1,1328.7L2091.8,1330.0L2094.5,1331.3L2097.2,1332.7L2099.9,1334.0L2102.5,1335.4L2105.2,1336.8L2107.8,1338.2L2110.5,1339.6L2113.2,1341.0L2115.8,1342.4L2118.5,1343.8L2121.1,1345.2L2123.7,1346.6L2126.4,1348.0L2129.0,1349.4L2131.7,1350.9L2134.3,1352.3L2137.0,1353.7L2139.6,1355.1L2142.2,1356.6L2144.9,1358.0L2147.5,1359.4L2150.1,1360.9L2152.8,1362.3L2155.4,1363.7L2158.1,1365.1L2160.7,1366.6L2163.3,1368.0L2166.0,1369.4L2168.6,1370.8L2171.3,1372.3L2173.9,1373.7L2176.5,1375.1L2179.2,1376.6L2181.8,1378.0L2184.4,1379.4L2187.1,1380.9L2189.7,1382.3L2192.3,1383.7L2195.0,1385.2L2197.6,1386.6L2200.2,1388.0L2202.9,1389.5L2205.5,1390.9L2208.1,1392.4L2210.8,1393.8L2213.4,1395.2L2216.1,1396.7L2218.7,1398.1L2221.3,1399.5L2224.0,1400.9L2226.6,1402.4L2229.2,1403.8L2231.9,1405.2L2234.5,1406.7L2237.1,1408.1L2239.8,1409.5L2242.4,1411.0L2245.1,1412.4L2247.7,1413.8L2250.3,1415.3L2253.0,1416.7L2255.6,1418.1L2258.2,1419.5L2260.9,1421.0L2263.5,1422.4L2266.2,1423.8L2268.8,1425.2L2271.5,1426.6L2274.1,1428.1L2276.7,1429.5L2279.4,1430.9L2282.1,1432.3L2284.7,1433.7L2287.4,1435.1L2290.0,1436.5L2292.7,1437.9L2295.3,1439.3L2298.0,1440.6L2300.6,1442.0L2303.3,1443.4L2306.0,1444.8L2308.6,1446.2L2311.3,1447.6L2314.0,1448.9L2316.6,1450.3L2319.3,1451.7L2322.0,1453.0L2324.6,1454.4L2327.3,1455.8L2330.0,1457.1L2332.7,1458.5L2335.3,1459.8L2338.0,1461.2L2340.7,1462.5L2343.4,1463.9L2346.1,1465.2L2348.8,1466.5L2351.5,1467.9L2354.1,1469.2L2356.8,1470.5L2359.5,1471.8L2362.3,1473.1L2365.0,1474.4L2367.7,1475.7L2370.4,1477.0L2373.1,1478.3L2375.8,1479.6L2378.5,1480.9L2381.2,1482.2L2383.9,1483.5L2385.7,1484.4" fill="none" stroke="#000000" stroke-width="6" stroke-linejoin="round" stroke-linecap="butt"/>
</g>
<rect x="502.0" y="117.0" width="1883.0" height="1517.5" fill="none" stroke="#000" stroke-width="6"/>
<path d="M583.9,1634.5v32.5M747.6,1634.5v17.5M911.3,1634.5v32.5M1075.1,1634.5v17.5M1238.8,1634.5v32.5M1402.6,1634.5v17.5M1566.3,1634.5v32.5M1730.0,1634.5v17.5M1893.8,1634.5v32.5M2057.5,1634.5v17.5M2221.3,1634.5v32.5M2385.0,1634.5v17.5M502.0,1565.5h-32.5M502.0,1427.6h-17.5M502.0,1289.6h-32.5M502.0,1151.7h-17.5M502.0,1013.7h-32.5M502.0,875.8h-17.5M502.0,737.8h-32.5M502.0,599.8h-17.5M502.0,461.9h-32.5M502.0,323.9h-17.5M502.0,186.0h-32.5" stroke="#000" stroke-width="5" fill="none"/>
<text x="583.9" y="1731" font-family="'Liberation Serif', 'Times New Roman', serif" font-size="66" text-anchor="middle" stroke="#fff" stroke-width="0.6">100</text>
<text x="911.3" y="1731" font-family="'Liberation Serif', 'Times New Roman', serif" font-size="66" text-anchor="middle" stroke="#fff" stroke-width="0.6">200</text>
<text x="1238.8" y="1731" font-family="'Liberation Serif', 'Times New Roman', serif" font-size="66" text-anchor="middle" stroke="#fff" stroke-width="0.6">300</text>
<text x="1566.3" y="1731" font-family="'Liberation Serif', 'Times New Roman', serif" font-size="66" text-anchor="middle" stroke="#fff" stroke-width="0.6">400</text>
<text x="1893.8" y="1731" font-family="'Liberation Serif', 'Times New Roman', serif" font-size="66" text-anchor="middle" stroke="#fff" stroke-width="0.6">500</text>
<text x="2221.3" y="1731" font-family="'Liberation Serif', 'Times New Roman', serif" font-size="66" text-anchor="middle" stroke="#fff" stroke-width="0.6">600</text>
<text x="451" y="1585.1" font-family="'Liberation Sans', Arial, sans-serif" font-size="67" text-anchor="end" stroke="#fff" stroke-width="0.8" textLength="36.1" lengthAdjust="spacingAndGlyphs">0</text>
<text x="451" y="1309.2" font-family="'Liberation Sans', Arial, sans-serif" font-size="67" text-anchor="end" stroke="#fff" stroke-width="0.8" textLength="72.1" lengthAdjust="spacingAndGlyphs">20</text>
<text x="451" y="1033.3" font-family="'Liberation Sans', Arial, sans-serif" font-size="67" text-anchor="end" stroke="#fff" stroke-width="0.8" textLength="72.1" lengthAdjust="spacingAndGlyphs">40</text>
<text x="451" y="757.4" font-family="'Liberation Sans', Arial, sans-serif" font-size="67" text-anchor="end" stroke="#fff" stroke-width="0.8" textLength="72.1" lengthAdjust="spacingAndGlyphs">60</text>
<text x="451" y="481.5" font-family="'Liberation Sans', Arial, sans-serif" font-size="67" text-anchor="end" stroke="#fff" stroke-width="0.8" textLength="72.1" lengthAdjust="spacingAndGlyphs">80</text>
<text x="451" y="205.6" font-family="'Liberation Sans', Arial, sans-serif" font-size="67" text-anchor="end" stroke="#fff" stroke-width="0.8" textLength="108.2" lengthAdjust="spacingAndGlyphs">100</text>
<text x="1440.3" y="1870.7" font-family="'Liberation Serif', 'Times New Roman', serif" font-size="85" text-anchor="middle" textLength="608" lengthAdjust="spacingAndGlyphs">Temperature (<tspan font-size="55" dy="-30">o</tspan><tspan dy="30">C)</tspan></text>
<text transform="translate(251.5,848.7) rotate(-90)" x="0" y="0" font-family="'Liberation Serif', 'Times New Roman', serif" font-size="85" text-anchor="middle" textLength="546" lengthAdjust="spacingAndGlyphs">Weight loss (%)</text>
<rect x="1937.0" y="169.0" width="389.0" height="471.6" fill="#fff" stroke="#1e1e1e" stroke-width="2.6"/><path d="M1940.0,202.0H2053.5" stroke="#000000" stroke-width="5.6"/><text x="2061.0" y="217.5" font-family="'Liberation Serif', 'Times New Roman', serif" font-size="46" textLength="65.5" lengthAdjust="spacingAndGlyphs">GA</text><path d="M1940.0,259.3H2053.5" stroke="#FF0000" stroke-width="5.6"/><text x="2061.0" y="274.8" font-family="'Liberation Serif', 'Times New Roman', serif" font-size="46" textLength="209.5" lengthAdjust="spacingAndGlyphs">Monolayer</text><path d="M1940.0,317.6H2053.5" stroke="#0000FF" stroke-width="5.6"/><text x="2061.0" y="333.1" font-family="'Liberation Serif', 'Times New Roman', serif" font-size="46" textLength="191.0" lengthAdjust="spacingAndGlyphs">Bilayer 1h</text><path d="M1940.0,375.6H2053.5" stroke="#FF00FF" stroke-width="5.6"/><text x="2061.0" y="391.1" font-family="'Liberation Serif', 'Times New Roman', serif" font-size="46" textLength="191.0" lengthAdjust="spacingAndGlyphs">Bilayer 2h</text><path d="M1940.0,433.5H2053.5" stroke="#008000" stroke-width="5.6"/><text x="2061.0" y="449.0" font-family="'Liberation Serif', 'Times New Roman', serif" font-size="46" textLength="191.0" lengthAdjust="spacingAndGlyphs">Bilayer 3h</text><path d="M1940.0,491.2H2053.5" stroke="#000080" stroke-width="5.6"/><text x="2061.0" y="506.7" font-family="'Liberation Serif', 'Times New Roman', serif" font-size="46" textLength="259.5" lengthAdjust="spacingAndGlyphs">Multilayer 1h</text><path d="M1940.0,549.8H2053.5" stroke="#FFFF00" stroke-width="5.6"/><text x="2061.0" y="565.3" font-family="'Liberation Serif', 'Times New Roman', serif" font-size="46" textLength="259.5" lengthAdjust="spacingAndGlyphs">Multilayer 2h</text><path d="M1940.0,607.5H2053.5" stroke="#FF8000" stroke-width="5.6"/><text x="2061.0" y="623.0" font-family="'Liberation Serif', 'Times New Roman', serif" font-size="46" textLength="259.5" lengthAdjust="spacingAndGlyphs">Multilayer 3h</text>
<g clip-path="url(#cb)">
<path d="M485.0,2352.0L488.0,2352.1L491.0,2352.2L494.0,2352.4L497.0,2352.7L499.9,2353.2L502.8,2353.8L505.7,2354.5L508.6,2355.4L511.4,2356.4L514.2,2357.5L516.9,2358.8L519.6,2360.1L522.2,2361.7L524.6,2363.4L527.0,2365.2L529.3,2367.1L531.6,2369.0L533.9,2371.0L536.2,2372.9L538.5,2374.8L540.9,2376.6L543.3,2378.4L545.7,2380.1L548.2,2381.8L550.7,2383.5L553.2,2385.1L555.8,2386.6L558.4,2388.1L561.1,2389.4L563.8,2390.7L566.6,2391.9L569.4,2392.9L572.2,2394.0L575.1,2394.9L577.9,2395.8L580.8,2396.7L583.7,2397.5L586.5,2398.4L589.4,2399.2L592.3,2400.0L595.2,2400.7L598.2,2401.3L601.1,2401.9L604.1,2402.3L607.0,2402.6L610.0,2402.8L613.0,2402.8L616.0,2402.6L619.0,2402.3L622.0,2401.9L624.9,2401.3L627.8,2400.6L630.7,2399.8L633.5,2398.8L636.3,2397.7L639.0,2396.5L641.7,2395.1L644.3,2393.6L646.9,2392.1L649.4,2390.5L652.0,2388.9L654.5,2387.3L657.0,2385.7L659.6,2384.1L662.2,2382.6L664.7,2381.0L667.3,2379.5L669.8,2377.9L672.4,2376.3L674.9,2374.7L677.5,2373.3L680.2,2371.9L683.0,2370.8L685.8,2369.8L688.7,2369.1L691.6,2368.6L694.6,2368.3L697.6,2368.1L700.6,2368.1L703.6,2368.1L706.6,2368.2L709.6,2368.3L712.6,2368.4L715.6,2368.4L718.6,2368.5L721.6,2368.5L724.6,2368.5L727.6,2368.4L730.6,2368.4L733.6,2368.4L736.6,2368.4L739.6,2368.4L742.6,2368.4L745.6,2368.5L748.6,2368.5L751.6,2368.5L754.6,2368.5L757.6,2368.5L760.6,2368.5L763.6,2368.5L766.6,2368.5L769.6,2368.5L772.6,2368.5L775.6,2368.5L778.6,2368.5L781.6,2368.5L784.6,2368.5L787.6,2368.5L790.6,2368.5L793.6,2368.5L796.6,2368.4L799.6,2368.4L802.6,2368.4L805.6,2368.4L808.6,2368.4L811.6,2368.4L814.6,2368.4L817.6,2368.4L820.6,2368.4L823.6,2368.4L826.6,2368.4L829.6,2368.4L832.6,2368.4L835.6,2368.4L838.6,2368.4L841.6,2368.4L844.6,2368.4L847.6,2368.4L850.6,2368.4L853.6,2368.4L856.6,2368.4L859.6,2368.4L862.6,2368.4L865.6,2368.4L868.6,2368.4L871.6,2368.4L874.6,2368.5L877.6,2368.5L880.6,2368.5L883.6,2368.5L886.6,2368.5L889.6,2368.5L892.6,2368.6L895.6,2368.6L898.6,2368.7L901.6,2368.7L904.6,2368.7L907.6,2368.8L910.6,2368.8L913.6,2368.9L916.6,2369.0L919.6,2369.0L922.6,2369.1L925.6,2369.1L928.6,2369.2L931.6,2369.3L934.6,2369.3L937.6,2369.4L940.6,2369.5L943.6,2369.5L946.6,2369.6L949.6,2369.6L952.6,2369.7L955.6,2369.8L958.6,2369.8L961.6,2369.9L964.6,2369.9L967.6,2370.0L970.6,2370.0L973.6,2370.1L976.6,2370.1L979.6,2370.1L982.6,2370.2L985.6,2370.2L988.6,2370.2L991.6,2370.2L994.6,2370.2L997.6,2370.2L1000.6,2370.1L1003.6,2370.1L1006.6,2370.0L1009.6,2370.0L1012.6,2369.9L1015.6,2369.9L1018.6,2369.8L1021.6,2369.6L1024.5,2369.2L1027.4,2368.5L1030.0,2367.4L1032.5,2365.8L1034.7,2363.8L1036.7,2361.7L1038.8,2359.6L1041.1,2357.8L1043.4,2356.7L1045.9,2356.7L1048.1,2357.8L1050.1,2359.7L1052.0,2361.9L1053.9,2364.3L1055.7,2366.7L1057.5,2369.1L1059.2,2371.5L1060.9,2374.0L1062.4,2376.6L1063.8,2379.2L1065.1,2381.9L1066.4,2384.6L1067.6,2387.4L1068.8,2390.1L1070.1,2392.9L1071.3,2395.6L1072.6,2398.3L1073.8,2401.0L1075.1,2403.8L1076.3,2406.5L1077.6,2409.2L1078.8,2411.9L1080.0,2414.7L1081.2,2417.4L1082.4,2420.2L1083.6,2422.9L1084.8,2425.7L1086.0,2428.5L1087.1,2431.2L1088.3,2434.0L1089.5,2436.8L1090.6,2439.5L1091.8,2442.3L1092.9,2445.1L1094.0,2447.9L1095.1,2450.6L1096.2,2453.4L1097.3,2456.2L1098.4,2459.0L1099.5,2461.8L1100.5,2464.6L1101.6,2467.4L1102.6,2470.3L1103.6,2473.1L1104.6,2475.9L1105.6,2478.8L1106.5,2481.6L1107.5,2484.4L1108.4,2487.3L1109.4,2490.1L1110.4,2493.0L1111.3,2495.8L1112.3,2498.7L1113.2,2501.5L1114.2,2504.3L1115.2,2507.2L1116.2,2510.0L1117.1,2512.9L1118.1,2515.7L1119.2,2518.5L1120.2,2521.3L1121.2,2524.1L1122.3,2526.9L1123.3,2529.8L1124.4,2532.6L1125.5,2535.4L1126.5,2538.2L1127.6,2541.0L1128.7,2543.8L1129.8,2546.5L1130.9,2549.3L1132.0,2552.1L1133.1,2554.9L1134.3,2557.7L1135.4,2560.5L1136.5,2563.2L1137.7,2566.0L1138.8,2568.8L1140.0,2571.6L1141.2,2574.3L1142.3,2577.1L1143.5,2579.8L1144.7,2582.6L1145.9,2585.3L1147.1,2588.1L1148.3,2590.8L1149.6,2593.6L1150.8,2596.3L1152.1,2599.0L1153.3,2601.7L1154.6,2604.4L1155.9,2607.1L1157.3,2609.8L1158.6,2612.5L1160.0,2615.2L1161.4,2617.8L1162.8,2620.4L1164.3,2623.1L1165.7,2625.7L1167.1,2628.4L1168.6,2631.0L1170.1,2633.6L1171.6,2636.1L1173.3,2638.7L1175.0,2641.1L1176.9,2643.5L1178.8,2645.7L1181.0,2647.8L1183.3,2649.7L1185.7,2651.4L1188.3,2652.9L1191.0,2654.0L1193.8,2654.7L1196.7,2654.7L1199.5,2654.1L1202.2,2653.0L1204.7,2651.5L1207.1,2649.7L1209.3,2647.7L1211.4,2645.6L1213.4,2643.3L1215.2,2640.9L1216.8,2638.5L1218.4,2635.9L1219.8,2633.3L1221.2,2630.6L1222.5,2627.9L1223.8,2625.2L1225.1,2622.5L1226.4,2619.8L1227.7,2617.1L1228.9,2614.3L1230.2,2611.6L1231.4,2608.9L1232.5,2606.1L1233.6,2603.3L1234.7,2600.5L1235.9,2597.7L1237.1,2595.0L1238.4,2592.3L1239.8,2589.7L1241.5,2587.2L1243.4,2584.9L1245.5,2582.9L1247.9,2581.3L1250.5,2580.1L1253.3,2579.6L1256.2,2579.7L1259.1,2580.1L1262.1,2580.4L1265.0,2580.5L1268.0,2580.4L1270.9,2580.2L1273.8,2580.4L1276.6,2581.2L1279.1,2582.5L1281.5,2584.3L1283.8,2586.2L1285.8,2588.4L1287.8,2590.7L1289.6,2593.0L1291.3,2595.5L1292.8,2598.1L1294.3,2600.7L1295.7,2603.3L1297.1,2606.0L1298.5,2608.6L1299.8,2611.3L1301.2,2614.0L1302.6,2616.7L1304.0,2619.3L1305.5,2621.9L1307.0,2624.5L1308.6,2627.0L1310.3,2629.5L1312.1,2631.9L1313.9,2634.3L1315.8,2636.6L1317.7,2639.0L1319.6,2641.3L1321.6,2643.5L1323.6,2645.7L1325.7,2647.8L1327.9,2649.9L1330.2,2651.8L1332.6,2653.7L1335.0,2655.4L1337.6,2656.8L1340.3,2658.0L1343.1,2658.6L1346.0,2658.7L1348.8,2658.1L1351.5,2657.1L1354.1,2655.6L1356.4,2653.8L1358.5,2651.7L1360.3,2649.4L1361.9,2646.9L1363.3,2644.2L1364.5,2641.5L1365.7,2638.7L1366.8,2635.9L1367.9,2633.2L1369.1,2630.4L1370.3,2627.6L1371.4,2624.9L1372.6,2622.1L1373.7,2619.3L1374.8,2616.5L1375.9,2613.7L1377.0,2610.9L1378.1,2608.1L1379.1,2605.3L1380.2,2602.5L1381.3,2599.7L1382.3,2596.9L1383.4,2594.1L1384.5,2591.3L1385.6,2588.5L1386.7,2585.7L1387.7,2582.9L1388.8,2580.1L1389.9,2577.3L1391.0,2574.5L1392.0,2571.7L1393.1,2568.9L1394.2,2566.1L1395.2,2563.3L1396.3,2560.5L1397.4,2557.7L1398.5,2554.9L1399.6,2552.1L1400.7,2549.3L1401.8,2546.6L1402.9,2543.8L1404.1,2541.0L1405.2,2538.2L1406.4,2535.5L1407.5,2532.7L1408.6,2529.9L1409.7,2527.1L1410.7,2524.3L1411.8,2521.5L1412.7,2518.6L1413.7,2515.8L1414.6,2512.9L1415.4,2510.0L1416.3,2507.2L1417.1,2504.3L1417.9,2501.4L1418.7,2498.5L1419.5,2495.6L1420.3,2492.7L1421.1,2489.8L1421.9,2486.9L1422.7,2484.0L1423.5,2481.1L1424.3,2478.3L1425.1,2475.4L1425.8,2472.5L1426.6,2469.6L1427.4,2466.7L1428.2,2463.8L1428.9,2460.9L1429.7,2458.0L1430.5,2455.1L1431.2,2452.2L1432.0,2449.3L1432.8,2446.4L1433.6,2443.5L1434.4,2440.6L1435.2,2437.7L1436.1,2434.8L1436.9,2432.0L1437.8,2429.1L1438.6,2426.2L1439.4,2423.3L1440.3,2420.4L1441.1,2417.6L1442.0,2414.7L1442.9,2411.8L1443.8,2409.0L1444.8,2406.1L1445.9,2403.3L1447.0,2400.6L1448.2,2397.8L1449.5,2395.1L1450.9,2392.5L1452.4,2389.9L1454.0,2387.3L1455.7,2384.9L1457.6,2382.5L1459.6,2380.3L1461.7,2378.3L1464.1,2376.5L1466.6,2375.0L1469.3,2373.7L1472.1,2372.9L1475.1,2372.5L1478.0,2372.5L1481.0,2372.9L1483.9,2373.5L1486.8,2374.3L1489.6,2375.2L1492.4,2376.2L1495.2,2377.4L1497.9,2378.6L1500.7,2379.7L1503.5,2380.6L1506.4,2381.5L1509.3,2382.2L1512.3,2382.8L1515.2,2383.3L1518.2,2383.8L1521.2,2384.2L1524.1,2384.6L1527.1,2384.9L1530.1,2385.1L1533.1,2385.3L1536.1,2385.5L1539.1,2385.6L1542.1,2385.8L1545.1,2385.8L1548.1,2385.9L1551.1,2385.9L1554.1,2386.0L1557.1,2386.0L1560.1,2386.0L1563.1,2385.9L1566.1,2385.8L1569.1,2385.6L1572.1,2385.5L1575.1,2385.3L1578.1,2385.1L1581.0,2384.9L1584.0,2384.7L1587.0,2384.6L1590.0,2384.5L1593.0,2384.5L1596.0,2384.6L1599.0,2384.8L1602.0,2385.0L1605.0,2385.3L1608.0,2385.6L1611.0,2386.0L1613.9,2386.3L1616.9,2386.7L1619.9,2387.0L1622.9,2387.3L1625.9,2387.5L1628.9,2387.7L1631.9,2387.9L1634.9,2388.0L1637.9,2388.1L1640.9,2388.2L1643.9,2388.4L1646.9,2388.5L1649.8,2388.7L1652.8,2388.9L1655.8,2389.1L1658.8,2389.4L1661.8,2389.7L1664.8,2390.1L1667.7,2390.5L1670.7,2391.0L1673.7,2391.4L1676.6,2391.9L1679.6,2392.4L1682.6,2392.9L1685.5,2393.4L1688.5,2394.0L1691.4,2394.5L1694.4,2395.0L1697.3,2395.5L1700.3,2396.1L1703.2,2396.6L1706.2,2397.1L1709.1,2397.6L1712.1,2398.1L1715.1,2398.6L1718.0,2399.0L1721.0,2399.4L1724.0,2399.9L1726.9,2400.3L1729.9,2400.7L1732.9,2401.1L1735.9,2401.5L1738.8,2401.9L1741.8,2402.3L1744.8,2402.7L1747.8,2403.0L1750.7,2403.4L1753.7,2403.8L1756.7,2404.1L1759.7,2404.4L1762.7,2404.8L1765.6,2405.1L1768.6,2405.4L1771.6,2405.7L1774.6,2406.0L1777.6,2406.3L1780.6,2406.6L1783.5,2406.9L1786.5,2407.2L1789.5,2407.5L1792.5,2407.7L1795.5,2408.0L1798.5,2408.3L1801.5,2408.6L1804.5,2408.8L1807.5,2409.1L1810.4,2409.3L1813.4,2409.6L1816.4,2409.8L1819.4,2410.0L1822.4,2410.2L1825.4,2410.4L1828.4,2410.6L1831.4,2410.8L1834.4,2411.0L1837.4,2411.1L1840.4,2411.2L1843.4,2411.3L1846.4,2411.4L1849.4,2411.5L1852.4,2411.6L1855.4,2411.6L1858.4,2411.6L1861.4,2411.5L1864.4,2411.4L1867.4,2411.3L1870.4,2411.1L1873.4,2410.9L1876.3,2410.7L1879.3,2410.5L1882.3,2410.3L1885.3,2410.1L1888.3,2409.8L1891.3,2409.6L1894.3,2409.4L1897.3,2409.2L1900.3,2409.0L1903.3,2408.8L1906.3,2408.7L1909.3,2408.6L1912.3,2408.6L1915.3,2408.5L1918.3,2408.5L1921.3,2408.6L1924.3,2408.6L1927.3,2408.7L1930.3,2408.8L1933.3,2409.0L1936.3,2409.1L1939.3,2409.3L1942.3,2409.4L1945.2,2409.6L1948.2,2409.8L1951.2,2410.0L1954.2,2410.2L1957.2,2410.4L1960.2,2410.6L1963.2,2410.8L1966.2,2411.0L1969.2,2411.2L1972.2,2411.4L1975.2,2411.6L1978.2,2411.8L1981.2,2412.0L1984.2,2412.3L1987.1,2412.6L1990.1,2412.8L1993.1,2413.1L1996.1,2413.4L1999.1,2413.7L2002.1,2414.0L2005.1,2414.2L2008.1,2414.4L2011.1,2414.6L2014.0,2414.8L2017.0,2414.9L2020.0,2415.0L2023.0,2415.0L2026.0,2415.0L2029.0,2414.9L2032.0,2414.9L2035.0,2414.8L2038.0,2414.6L2041.0,2414.5L2044.0,2414.3L2047.0,2414.2L2050.0,2414.0L2053.0,2413.8L2056.0,2413.6L2059.0,2413.4L2062.0,2413.2L2065.0,2413.1L2068.0,2412.9L2071.0,2412.7L2074.0,2412.6L2077.0,2412.5L2080.0,2412.4L2083.0,2412.3L2086.0,2412.2L2089.0,2412.1L2092.0,2412.1L2095.0,2412.0L2098.0,2412.0L2101.0,2411.9L2104.0,2411.9L2107.0,2411.8L2110.0,2411.8L2113.0,2411.8L2116.0,2411.7L2119.0,2411.7L2122.0,2411.7L2125.0,2411.7L2128.0,2411.7L2131.0,2411.7L2134.0,2411.7L2137.0,2411.7L2140.0,2411.8L2143.0,2411.8L2146.0,2411.8L2149.0,2411.9L2152.0,2412.0L2155.0,2412.1L2158.0,2412.2L2161.0,2412.3L2164.0,2412.4L2166.9,2412.6L2169.9,2412.8L2172.9,2413.0L2175.9,2413.3L2178.9,2413.5L2181.9,2413.8L2184.9,2414.1L2187.9,2414.3L2190.9,2414.6L2193.8,2414.9L2196.8,2415.1L2199.8,2415.4L2202.8,2415.6L2205.8,2415.8L2208.8,2416.0L2211.8,2416.1L2214.8,2416.3L2217.8,2416.4L2220.8,2416.6L2223.8,2416.7L2226.8,2416.9L2229.8,2417.0L2232.8,2417.2L2235.8,2417.3L2238.8,2417.4L2241.8,2417.6L2244.8,2417.6L2247.8,2417.7L2250.8,2417.8L2253.8,2417.8L2256.8,2417.8L2259.8,2417.8L2262.8,2417.7L2265.8,2417.6L2268.8,2417.4L2271.7,2417.1L2274.7,2416.8L2277.7,2416.4L2280.7,2416.0L2283.6,2415.4L2286.5,2414.8L2289.5,2414.1L2292.4,2413.5L2295.3,2412.8L2298.2,2412.1L2301.2,2411.4L2304.1,2410.8L2307.0,2410.2L2310.0,2409.7L2312.9,2409.2L2315.9,2408.7L2318.9,2408.3L2321.8,2407.8L2324.8,2407.4L2327.8,2407.0L2330.8,2406.6L2333.7,2406.2L2336.7,2405.8L2339.7,2405.4L2342.6,2405.0L2345.6,2404.6L2348.6,2404.2L2351.6,2403.8L2354.5,2403.4L2357.5,2403.0L2360.5,2402.7L2363.5,2402.3L2366.4,2401.8L2368.4,2401.6" fill="none" stroke="#000000" stroke-width="6" stroke-linejoin="round" stroke-linecap="butt"/>
<path d="M485.0,2359.0L488.0,2359.0L491.0,2359.0L494.0,2359.0L497.0,2359.0L500.0,2359.0L503.0,2359.0L506.0,2359.0L509.0,2359.0L512.0,2359.1L515.0,2359.1L518.0,2359.1L521.0,2359.1L524.0,2359.1L527.0,2359.1L530.0,2359.1L533.0,2359.1L536.0,2359.1L539.0,2359.1L542.0,2359.1L545.0,2359.1L548.0,2359.1L551.0,2359.1L554.0,2359.1L557.0,2359.1L560.0,2359.1L563.0,2359.1L566.0,2359.1L569.0,2359.1L572.0,2359.2L575.0,2359.2L578.0,2359.2L581.0,2359.2L584.0,2359.2L587.0,2359.2L590.0,2359.2L593.0,2359.2L596.0,2359.2L599.0,2359.2L602.0,2359.2L605.0,2359.2L608.0,2359.2L611.0,2359.2L614.0,2359.2L617.0,2359.2L620.0,2359.2L623.0,2359.2L626.0,2359.2L629.0,2359.2L632.0,2359.2L635.0,2359.3L638.0,2359.3L641.0,2359.3L644.0,2359.3L647.0,2359.3L650.0,2359.3L653.0,2359.3L656.0,2359.3L659.0,2359.3L662.0,2359.3L665.0,2359.3L668.0,2359.3L671.0,2359.3L674.0,2359.3L677.0,2359.3L680.0,2359.3L683.0,2359.3L686.0,2359.3L689.0,2359.3L692.0,2359.3L695.0,2359.3L698.0,2359.3L701.0,2359.4L704.0,2359.4L707.0,2359.4L710.0,2359.4L713.0,2359.4L716.0,2359.4L719.0,2359.4L722.0,2359.4L725.0,2359.4L728.0,2359.4L731.0,2359.4L734.0,2359.4L737.0,2359.4L740.0,2359.4L743.0,2359.4L746.0,2359.4L749.0,2359.4L752.0,2359.4L755.0,2359.4L758.0,2359.4L761.0,2359.4L764.0,2359.5L767.0,2359.5L770.0,2359.5L773.0,2359.5L776.0,2359.5L779.0,2359.5L782.0,2359.5L785.0,2359.5L788.0,2359.5L791.0,2359.5L794.0,2359.5L797.0,2359.5L800.0,2359.5L803.0,2359.5L806.0,2359.5L809.0,2359.5L812.0,2359.5L815.0,2359.5L818.0,2359.5L821.0,2359.6L824.0,2359.6L827.0,2359.6L830.0,2359.6L833.0,2359.6L836.0,2359.6L839.0,2359.6L842.0,2359.6L845.0,2359.6L848.0,2359.6L851.0,2359.6L854.0,2359.6L857.0,2359.6L860.0,2359.6L863.0,2359.6L866.0,2359.6L869.0,2359.6L872.0,2359.7L875.0,2359.7L878.0,2359.7L881.0,2359.7L884.0,2359.7L887.0,2359.7L890.0,2359.7L893.0,2359.7L896.0,2359.7L899.0,2359.7L902.0,2359.7L905.0,2359.7L908.0,2359.7L911.0,2359.7L914.0,2359.7L917.0,2359.8L920.0,2359.8L923.0,2359.8L926.0,2359.8L929.0,2359.8L932.0,2359.8L935.0,2359.8L938.0,2359.8L941.0,2359.8L944.0,2359.8L947.0,2359.8L950.0,2359.8L953.0,2359.8L956.0,2359.9L959.0,2359.9L962.0,2359.9L965.0,2359.9L968.0,2359.9L971.0,2359.9L974.0,2359.9L977.0,2359.9L980.0,2359.9L983.0,2359.9L986.0,2360.0L989.0,2360.0L992.0,2360.0L995.0,2360.0L998.0,2360.0L1001.0,2360.0L1004.0,2360.0L1007.0,2360.0L1010.0,2360.0L1013.0,2360.0L1016.0,2360.1L1019.0,2360.1L1022.0,2360.1L1025.0,2360.1L1028.0,2360.1L1031.0,2360.1L1034.0,2360.1L1037.0,2360.1L1040.0,2360.2L1043.0,2360.2L1046.0,2360.2L1049.0,2360.2L1052.0,2360.2L1055.0,2360.2L1058.0,2360.2L1061.0,2360.2L1064.0,2360.3L1067.0,2360.3L1070.0,2360.3L1073.0,2360.3L1076.0,2360.3L1079.0,2360.3L1082.0,2360.3L1085.0,2360.3L1088.0,2360.4L1091.0,2360.4L1094.0,2360.4L1097.0,2360.4L1100.0,2360.4L1103.0,2360.4L1106.0,2360.5L1109.0,2360.5L1112.0,2360.5L1115.0,2360.5L1118.0,2360.5L1121.0,2360.5L1124.0,2360.6L1127.0,2360.6L1130.0,2360.6L1133.0,2360.6L1136.0,2360.6L1139.0,2360.7L1142.0,2360.7L1145.0,2360.7L1148.0,2360.7L1151.0,2360.7L1154.0,2360.8L1157.0,2360.8L1160.0,2360.8L1163.0,2360.8L1166.0,2360.9L1169.0,2360.9L1172.0,2360.9L1175.0,2360.9L1178.0,2361.0L1181.0,2361.0L1184.0,2361.0L1187.0,2361.1L1190.0,2361.1L1193.0,2361.1L1196.0,2361.1L1199.0,2361.1L1202.0,2361.1L1205.0,2361.1L1208.0,2361.2L1211.0,2361.2L1214.0,2361.2L1217.0,2361.2L1220.0,2361.2L1223.0,2361.3L1226.0,2361.3L1229.0,2361.4L1232.0,2361.5L1235.0,2361.6L1238.0,2361.7L1241.0,2361.8L1244.0,2362.0L1247.0,2362.2L1250.0,2362.4L1253.0,2362.6L1255.9,2362.9L1258.9,2363.1L1261.9,2363.4L1264.9,2363.8L1267.9,2364.1L1270.8,2364.6L1273.8,2365.0L1276.8,2365.5L1279.7,2366.0L1282.7,2366.6L1285.6,2367.2L1288.5,2367.8L1291.5,2368.5L1294.3,2369.3L1297.2,2370.2L1300.1,2371.1L1302.9,2372.1L1305.7,2373.2L1308.4,2374.4L1311.2,2375.6L1313.9,2376.9L1316.6,2378.2L1319.2,2379.6L1321.9,2381.0L1324.5,2382.4L1327.2,2383.9L1329.7,2385.4L1332.2,2387.1L1334.5,2389.0L1336.7,2391.0L1338.8,2393.2L1340.7,2395.5L1342.5,2397.9L1344.2,2400.3L1345.8,2402.9L1347.3,2405.4L1348.8,2408.0L1350.2,2410.7L1351.5,2413.4L1352.7,2416.1L1353.8,2418.9L1354.8,2421.7L1355.8,2424.6L1356.8,2427.4L1357.8,2430.2L1358.7,2433.1L1359.6,2436.0L1360.5,2438.8L1361.3,2441.7L1362.2,2444.6L1363.1,2447.4L1364.0,2450.3L1364.9,2453.2L1365.8,2456.0L1366.7,2458.9L1367.6,2461.7L1368.6,2464.6L1369.6,2467.4L1370.6,2470.2L1371.7,2473.0L1372.7,2475.9L1373.6,2478.7L1374.6,2481.5L1375.4,2484.4L1376.2,2487.3L1377.0,2490.2L1377.7,2493.1L1378.4,2496.0L1379.0,2499.0L1379.6,2501.9L1380.2,2504.9L1380.8,2507.8L1381.4,2510.7L1381.9,2513.7L1382.4,2516.6L1382.9,2519.6L1383.4,2522.6L1383.9,2525.5L1384.4,2528.5L1384.9,2531.4L1385.4,2534.4L1385.8,2537.4L1386.3,2540.3L1386.7,2543.3L1387.2,2546.3L1387.6,2549.2L1388.1,2552.2L1388.5,2555.2L1388.9,2558.1L1389.4,2561.1L1389.8,2564.1L1390.2,2567.1L1390.6,2570.0L1391.0,2573.0L1391.4,2576.0L1391.9,2578.9L1392.3,2581.9L1392.7,2584.9L1393.1,2587.9L1393.5,2590.8L1393.8,2593.8L1394.2,2596.8L1394.6,2599.8L1395.0,2602.7L1395.3,2605.7L1395.7,2608.7L1396.0,2611.7L1396.4,2614.6L1396.7,2617.6L1397.1,2620.6L1397.4,2623.6L1397.7,2626.6L1398.0,2629.6L1398.4,2632.5L1398.7,2635.5L1399.0,2638.5L1399.3,2641.5L1399.6,2644.5L1399.9,2647.5L1400.2,2650.4L1400.5,2653.4L1400.8,2656.4L1401.1,2659.4L1401.3,2662.4L1401.6,2665.4L1401.9,2668.4L1402.2,2671.3L1402.5,2674.3L1402.8,2677.3L1403.0,2680.3L1403.3,2683.3L1403.6,2686.3L1403.8,2689.3L1404.1,2692.3L1404.4,2695.2L1404.6,2698.2L1404.9,2701.2L1405.2,2704.2L1405.4,2707.2L1405.7,2710.2L1405.9,2713.2L1406.2,2716.2L1406.5,2719.2L1406.7,2722.1L1407.0,2725.1L1407.2,2728.1L1407.5,2731.1L1407.7,2734.1L1407.9,2737.1L1408.2,2740.1L1408.4,2743.1L1408.7,2746.1L1408.9,2749.1L1409.1,2752.1L1409.4,2755.0L1409.6,2758.0L1409.8,2761.0L1410.1,2764.0L1410.3,2767.0L1410.5,2770.0L1410.8,2773.0L1411.0,2776.0L1411.2,2779.0L1411.4,2782.0L1411.7,2785.0L1411.9,2787.9L1412.1,2790.9L1412.3,2793.9L1412.5,2796.9L1412.8,2799.9L1413.0,2802.9L1413.2,2805.9L1413.4,2808.9L1413.6,2811.9L1413.8,2814.9L1414.0,2817.9L1414.2,2820.9L1414.4,2823.9L1414.7,2826.8L1414.9,2829.8L1415.1,2832.8L1415.3,2835.8L1415.5,2838.8L1415.6,2841.8L1415.8,2844.8L1416.0,2847.8L1416.2,2850.8L1416.4,2853.8L1416.6,2856.8L1416.8,2859.8L1417.0,2862.8L1417.2,2865.8L1417.3,2868.8L1417.5,2871.8L1417.7,2874.8L1417.9,2877.7L1418.0,2880.7L1418.2,2883.7L1418.4,2886.7L1418.5,2889.7L1418.7,2892.7L1418.9,2895.7L1419.0,2898.7L1419.2,2901.7L1419.3,2904.7L1419.5,2907.7L1419.6,2910.7L1419.7,2913.7L1419.9,2916.7L1420.0,2919.7L1420.1,2922.7L1420.3,2925.7L1420.4,2928.7L1420.5,2931.7L1420.7,2934.7L1420.8,2937.7L1420.9,2940.7L1421.0,2943.7L1421.1,2946.7L1421.3,2949.7L1421.4,2952.7L1421.5,2955.7L1421.6,2958.7L1421.7,2961.7L1421.8,2964.7L1421.9,2967.7L1422.0,2970.7L1422.1,2973.6L1422.2,2976.6L1422.4,2979.6L1422.5,2982.6L1422.6,2985.6L1422.7,2988.6L1422.8,2991.6L1422.9,2994.6L1423.0,2997.6L1423.1,3000.6L1423.2,3003.6L1423.3,3006.6L1423.4,3009.6L1423.5,3012.6L1423.6,3015.6L1423.7,3018.6L1423.8,3021.6L1423.9,3024.6L1424.0,3027.6L1424.1,3030.6L1424.2,3033.6L1424.3,3036.6L1424.4,3039.6L1424.5,3042.6L1424.6,3045.6L1424.8,3048.6L1424.9,3051.6L1425.0,3054.6L1425.1,3057.6L1425.2,3060.6L1425.3,3063.6L1425.4,3066.6L1425.6,3069.6L1425.7,3072.6L1425.8,3075.6L1425.9,3078.6L1426.1,3081.6L1426.2,3084.6L1426.3,3087.6L1426.4,3090.6L1426.6,3093.6L1426.7,3096.6L1426.8,3099.6L1426.9,3102.6L1427.1,3105.6L1427.2,3108.6L1427.3,3111.6L1427.4,3114.5L1427.6,3117.5L1427.7,3120.5L1427.8,3123.5L1427.9,3126.5L1428.0,3129.5L1428.2,3132.5L1428.3,3135.5L1428.4,3138.5L1428.5,3141.5L1428.7,3144.5L1428.8,3147.5L1428.9,3150.5L1429.0,3153.5L1429.1,3156.5L1429.3,3159.5L1429.4,3162.5L1429.5,3165.5L1429.6,3168.5L1429.8,3171.5L1429.9,3174.5L1430.0,3177.5L1430.1,3180.5L1430.3,3183.5L1430.4,3186.5L1430.5,3189.5L1430.6,3192.5L1430.8,3195.5L1430.9,3198.5L1431.0,3201.5L1431.1,3204.5L1431.3,3207.5L1431.4,3210.5L1431.5,3213.5L1431.7,3216.5L1431.8,3219.5L1431.9,3222.5L1432.1,3225.5L1432.2,3228.4L1432.4,3231.4L1432.5,3234.4L1432.6,3237.4L1432.8,3240.4L1432.9,3243.4L1433.1,3246.4L1433.2,3249.4L1433.4,3252.4L1433.5,3255.4L1433.7,3258.4L1433.8,3261.4L1434.0,3264.4L1434.1,3267.4L1434.3,3270.4L1434.4,3273.4L1434.6,3276.4L1434.8,3279.4L1434.9,3282.4L1435.1,3285.4L1435.3,3288.4L1435.5,3291.4L1435.6,3294.4L1435.8,3297.4L1436.0,3300.3L1436.2,3303.3L1436.4,3306.3L1436.6,3309.3L1436.8,3312.3L1437.1,3315.3L1437.3,3318.3L1437.5,3321.3L1437.7,3324.3L1438.0,3327.3L1438.2,3330.3L1438.5,3333.3L1438.7,3336.2L1439.0,3339.2L1439.3,3342.2L1439.5,3345.2L1439.8,3348.2L1440.1,3351.2L1440.3,3354.2L1440.6,3357.2L1440.9,3360.1L1441.1,3363.1L1441.4,3366.1L1441.7,3369.1L1442.0,3372.1L1442.2,3375.1L1442.5,3378.1L1442.8,3381.1L1443.0,3384.1L1443.3,3387.0L1443.5,3390.0L1443.8,3393.0L1444.0,3396.0L1444.2,3399.0L1444.4,3402.0L1444.7,3405.0L1444.9,3408.0L1445.1,3411.0L1445.3,3414.0L1445.4,3417.0L1445.6,3420.0L1445.8,3422.9L1446.0,3425.9L1446.2,3428.9L1446.4,3431.9L1446.5,3434.9L1446.7,3437.9L1446.9,3440.9L1447.1,3443.9L1447.3,3446.9L1447.4,3449.9L1447.6,3452.9L1447.8,3455.9L1448.0,3458.9L1448.3,3461.9L1448.5,3464.9L1448.7,3467.9L1449.0,3470.8L1449.2,3473.8L1449.5,3476.8L1449.8,3479.8L1450.1,3482.8L1450.4,3485.8L1450.7,3488.8L1451.1,3491.7L1451.5,3494.7L1451.9,3497.7L1452.3,3500.6L1452.8,3503.6L1453.2,3506.6L1453.7,3509.5L1454.2,3512.5L1454.7,3515.5L1455.2,3518.4L1455.8,3521.4L1456.3,3524.3L1456.9,3527.2L1457.6,3530.2L1458.3,3533.1L1459.0,3536.0L1459.7,3538.9L1460.6,3541.8L1461.4,3544.7L1462.4,3547.5L1463.4,3550.3L1464.6,3553.1L1465.9,3555.7L1467.5,3558.2L1469.3,3560.2L1471.2,3561.2L1472.9,3560.8L1474.1,3559.0L1474.9,3556.5L1475.4,3553.6L1475.7,3550.6L1476.1,3547.6L1476.4,3544.6L1476.8,3541.7L1477.2,3538.7L1477.7,3535.7L1478.1,3532.8L1478.6,3529.8L1479.0,3526.8L1479.5,3523.9L1479.9,3520.9L1480.3,3517.9L1480.7,3514.9L1481.1,3512.0L1481.4,3509.0L1481.8,3506.0L1482.1,3503.0L1482.4,3500.0L1482.7,3497.1L1483.0,3494.1L1483.2,3491.1L1483.5,3488.1L1483.7,3485.1L1483.9,3482.1L1484.2,3479.1L1484.4,3476.1L1484.6,3473.1L1484.8,3470.1L1485.0,3467.1L1485.2,3464.2L1485.4,3461.2L1485.7,3458.2L1485.9,3455.2L1486.1,3452.2L1486.3,3449.2L1486.5,3446.2L1486.8,3443.2L1487.0,3440.2L1487.2,3437.2L1487.5,3434.2L1487.7,3431.3L1488.0,3428.3L1488.2,3425.3L1488.5,3422.3L1488.8,3419.3L1489.0,3416.3L1489.3,3413.3L1489.5,3410.3L1489.8,3407.3L1490.0,3404.4L1490.3,3401.4L1490.6,3398.4L1490.8,3395.4L1491.0,3392.4L1491.3,3389.4L1491.5,3386.4L1491.7,3383.4L1492.0,3380.4L1492.2,3377.4L1492.4,3374.4L1492.6,3371.5L1492.8,3368.5L1493.0,3365.5L1493.2,3362.5L1493.5,3359.5L1493.7,3356.5L1493.9,3353.5L1494.1,3350.5L1494.3,3347.5L1494.4,3344.5L1494.6,3341.5L1494.8,3338.5L1495.0,3335.5L1495.2,3332.5L1495.4,3329.5L1495.5,3326.5L1495.7,3323.6L1495.9,3320.6L1496.1,3317.6L1496.2,3314.6L1496.4,3311.6L1496.5,3308.6L1496.7,3305.6L1496.9,3302.6L1497.0,3299.6L1497.2,3296.6L1497.3,3293.6L1497.5,3290.6L1497.6,3287.6L1497.8,3284.6L1497.9,3281.6L1498.0,3278.6L1498.2,3275.6L1498.3,3272.6L1498.5,3269.6L1498.6,3266.6L1498.7,3263.6L1498.8,3260.6L1499.0,3257.6L1499.1,3254.6L1499.2,3251.6L1499.4,3248.6L1499.5,3245.6L1499.6,3242.6L1499.7,3239.7L1499.9,3236.7L1500.0,3233.7L1500.1,3230.7L1500.2,3227.7L1500.4,3224.7L1500.5,3221.7L1500.6,3218.7L1500.7,3215.7L1500.8,3212.7L1501.0,3209.7L1501.1,3206.7L1501.2,3203.7L1501.3,3200.7L1501.4,3197.7L1501.5,3194.7L1501.7,3191.7L1501.8,3188.7L1501.9,3185.7L1502.0,3182.7L1502.1,3179.7L1502.2,3176.7L1502.4,3173.7L1502.5,3170.7L1502.6,3167.7L1502.7,3164.7L1502.8,3161.7L1502.9,3158.7L1503.0,3155.7L1503.2,3152.7L1503.3,3149.7L1503.4,3146.7L1503.5,3143.7L1503.6,3140.7L1503.7,3137.7L1503.9,3134.7L1504.0,3131.7L1504.1,3128.7L1504.2,3125.7L1504.3,3122.7L1504.4,3119.7L1504.5,3116.7L1504.7,3113.7L1504.8,3110.7L1504.9,3107.8L1505.0,3104.8L1505.1,3101.8L1505.3,3098.8L1505.4,3095.8L1505.5,3092.8L1505.6,3089.8L1505.7,3086.8L1505.8,3083.8L1506.0,3080.8L1506.1,3077.8L1506.2,3074.8L1506.3,3071.8L1506.5,3068.8L1506.6,3065.8L1506.7,3062.8L1506.8,3059.8L1506.9,3056.8L1507.0,3053.8L1507.2,3050.8L1507.3,3047.8L1507.4,3044.8L1507.5,3041.8L1507.6,3038.8L1507.8,3035.8L1507.9,3032.8L1508.0,3029.8L1508.1,3026.8L1508.2,3023.8L1508.4,3020.8L1508.5,3017.8L1508.6,3014.8L1508.7,3011.8L1508.8,3008.8L1508.9,3005.8L1509.1,3002.8L1509.2,2999.8L1509.3,2996.8L1509.4,2993.8L1509.5,2990.8L1509.6,2987.8L1509.8,2984.8L1509.9,2981.8L1510.0,2978.9L1510.1,2975.9L1510.2,2972.9L1510.3,2969.9L1510.5,2966.9L1510.6,2963.9L1510.7,2960.9L1510.8,2957.9L1510.9,2954.9L1511.1,2951.9L1511.2,2948.9L1511.3,2945.9L1511.4,2942.9L1511.5,2939.9L1511.7,2936.9L1511.8,2933.9L1511.9,2930.9L1512.0,2927.9L1512.1,2924.9L1512.3,2921.9L1512.4,2918.9L1512.5,2915.9L1512.6,2912.9L1512.8,2909.9L1512.9,2906.9L1513.0,2903.9L1513.1,2900.9L1513.2,2897.9L1513.4,2894.9L1513.5,2891.9L1513.6,2888.9L1513.7,2885.9L1513.9,2882.9L1514.0,2879.9L1514.1,2876.9L1514.3,2873.9L1514.4,2870.9L1514.5,2867.9L1514.6,2864.9L1514.8,2861.9L1514.9,2859.0L1515.0,2856.0L1515.1,2853.0L1515.3,2850.0L1515.4,2847.0L1515.5,2844.0L1515.6,2841.0L1515.8,2838.0L1515.9,2835.0L1516.0,2832.0L1516.1,2829.0L1516.3,2826.0L1516.4,2823.0L1516.5,2820.0L1516.6,2817.0L1516.8,2814.0L1516.9,2811.0L1517.0,2808.0L1517.1,2805.0L1517.3,2802.0L1517.4,2799.0L1517.5,2796.0L1517.6,2793.0L1517.8,2790.0L1517.9,2787.0L1518.0,2784.0L1518.1,2781.0L1518.3,2778.0L1518.4,2775.0L1518.5,2772.0L1518.7,2769.0L1518.8,2766.0L1518.9,2763.0L1519.1,2760.0L1519.2,2757.0L1519.3,2754.0L1519.5,2751.0L1519.6,2748.1L1519.7,2745.1L1519.9,2742.1L1520.0,2739.1L1520.1,2736.1L1520.3,2733.1L1520.4,2730.1L1520.6,2727.1L1520.7,2724.1L1520.9,2721.1L1521.0,2718.1L1521.1,2715.1L1521.3,2712.1L1521.4,2709.1L1521.6,2706.1L1521.7,2703.1L1521.9,2700.1L1522.1,2697.1L1522.2,2694.1L1522.4,2691.1L1522.5,2688.1L1522.7,2685.1L1522.9,2682.1L1523.1,2679.1L1523.2,2676.1L1523.4,2673.1L1523.6,2670.2L1523.8,2667.2L1523.9,2664.2L1524.1,2661.2L1524.3,2658.2L1524.5,2655.2L1524.7,2652.2L1524.9,2649.2L1525.1,2646.2L1525.3,2643.2L1525.5,2640.2L1525.7,2637.2L1525.9,2634.2L1526.1,2631.2L1526.3,2628.2L1526.6,2625.3L1526.8,2622.3L1527.0,2619.3L1527.2,2616.3L1527.4,2613.3L1527.7,2610.3L1527.9,2607.3L1528.1,2604.3L1528.3,2601.3L1528.6,2598.3L1528.8,2595.3L1529.0,2592.3L1529.3,2589.4L1529.5,2586.4L1529.7,2583.4L1530.0,2580.4L1530.2,2577.4L1530.4,2574.4L1530.7,2571.4L1530.9,2568.4L1531.1,2565.4L1531.4,2562.4L1531.6,2559.4L1531.8,2556.5L1532.0,2553.5L1532.3,2550.5L1532.5,2547.5L1532.7,2544.5L1533.0,2541.5L1533.2,2538.5L1533.5,2535.5L1533.7,2532.5L1534.0,2529.5L1534.2,2526.6L1534.5,2523.6L1534.8,2520.6L1535.1,2517.6L1535.4,2514.6L1535.7,2511.6L1536.0,2508.6L1536.3,2505.7L1536.7,2502.7L1537.1,2499.7L1537.4,2496.7L1537.8,2493.8L1538.2,2490.8L1538.7,2487.8L1539.1,2484.8L1539.6,2481.9L1540.1,2478.9L1540.5,2476.0L1541.0,2473.0L1541.5,2470.0L1542.0,2467.1L1542.6,2464.1L1543.1,2461.2L1543.6,2458.2L1544.1,2455.3L1544.6,2452.3L1545.1,2449.3L1545.6,2446.4L1546.0,2443.4L1546.5,2440.5L1546.9,2437.5L1547.4,2434.5L1547.8,2431.6L1548.3,2428.6L1548.8,2425.6L1549.3,2422.7L1549.8,2419.7L1550.4,2416.8L1551.1,2413.9L1551.8,2411.0L1552.6,2408.1L1553.5,2405.2L1554.4,2402.3L1555.4,2399.5L1556.5,2396.7L1557.8,2394.1L1559.3,2391.5L1561.0,2389.0L1562.8,2386.6L1564.8,2384.4L1567.0,2382.3L1569.2,2380.4L1571.6,2378.5L1574.0,2376.8L1576.6,2375.3L1579.2,2373.9L1581.9,2372.6L1584.7,2371.6L1587.6,2370.7L1590.5,2370.1L1593.5,2369.6L1596.4,2369.3L1599.4,2369.1L1602.4,2369.1L1605.4,2369.0L1608.4,2369.0L1611.4,2369.0L1614.4,2368.9L1617.4,2368.9L1620.4,2368.8L1623.4,2368.8L1626.4,2368.8L1629.4,2368.7L1632.4,2368.7L1635.4,2368.7L1638.4,2368.6L1641.4,2368.6L1644.4,2368.6L1647.4,2368.6L1650.4,2368.6L1653.4,2368.5L1656.4,2368.5L1659.4,2368.5L1662.4,2368.5L1665.4,2368.5L1668.4,2368.5L1671.4,2368.5L1674.4,2368.5L1677.4,2368.5L1680.4,2368.4L1683.4,2368.4L1686.4,2368.4L1689.4,2368.4L1692.4,2368.4L1695.4,2368.5L1698.4,2368.5L1701.4,2368.5L1704.4,2368.5L1707.4,2368.5L1710.4,2368.5L1713.4,2368.5L1716.4,2368.5L1719.4,2368.5L1722.4,2368.6L1725.4,2368.6L1728.4,2368.6L1731.4,2368.7L1734.4,2368.7L1737.4,2368.7L1740.4,2368.8L1743.4,2368.8L1746.4,2368.8L1749.4,2368.9L1752.4,2368.9L1755.4,2369.0L1758.4,2369.1L1761.4,2369.1L1764.4,2369.2L1767.4,2369.3L1770.4,2369.4L1773.4,2369.5L1776.4,2369.6L1779.4,2369.7L1782.4,2369.8L1785.4,2370.0L1788.4,2370.1L1791.4,2370.3L1794.4,2370.5L1797.4,2370.8L1800.4,2371.1L1803.3,2371.5L1806.3,2372.0L1809.2,2372.6L1812.1,2373.3L1815.0,2374.2L1817.8,2375.2L1820.6,2376.3L1823.3,2377.6L1826.0,2378.9L1828.7,2380.2L1831.4,2381.4L1834.2,2382.5L1837.0,2383.4L1839.9,2384.1L1842.9,2384.6L1845.8,2384.7L1848.7,2384.4L1851.5,2383.6L1854.2,2382.4L1856.8,2380.9L1859.3,2379.3L1861.9,2377.8L1864.5,2376.4L1867.2,2375.0L1870.0,2373.8L1872.8,2372.9L1875.7,2372.2L1878.6,2371.8L1881.6,2371.6L1884.6,2371.7L1887.6,2371.8L1890.6,2372.0L1893.6,2372.2L1896.5,2372.4L1899.5,2372.5L1902.5,2372.5L1905.5,2372.6L1908.5,2372.6L1911.5,2372.6L1914.5,2372.7L1917.5,2372.7L1920.5,2372.7L1923.5,2372.8L1926.5,2372.8L1929.5,2372.8L1932.5,2372.8L1935.5,2372.8L1938.5,2372.8L1941.5,2372.9L1944.5,2372.9L1947.5,2372.8L1950.5,2372.8L1953.5,2372.8L1956.5,2372.8L1959.5,2372.7L1962.5,2372.7L1965.5,2372.6L1968.5,2372.5L1971.5,2372.4L1974.5,2372.3L1977.5,2372.1L1980.5,2371.9L1983.5,2371.7L1986.5,2371.5L1989.5,2371.2L1992.5,2370.9L1995.5,2370.6L1998.4,2370.3L2001.4,2369.9L2004.4,2369.5L2007.4,2369.1L2010.3,2368.7L2013.3,2368.3L2016.3,2367.9L2019.3,2367.5L2022.2,2367.1L2025.2,2366.6L2028.2,2366.2L2031.1,2365.8L2034.1,2365.4L2037.1,2364.9L2040.0,2364.4L2043.0,2364.0L2046.0,2363.5L2048.9,2363.1L2051.9,2362.7L2054.9,2362.4L2057.9,2362.2L2060.9,2362.0L2063.9,2361.8L2066.9,2361.6L2069.9,2361.5L2072.9,2361.4L2075.9,2361.3L2078.9,2361.2L2081.9,2361.1L2084.9,2361.0L2087.9,2361.0L2090.9,2360.9L2093.9,2360.9L2096.9,2360.8L2099.9,2360.8L2102.9,2360.7L2105.9,2360.7L2108.9,2360.7L2111.9,2360.7L2114.9,2360.6L2117.9,2360.6L2120.9,2360.6L2123.9,2360.6L2126.9,2360.6L2129.9,2360.6L2132.9,2360.6L2135.9,2360.6L2138.9,2360.6L2141.9,2360.6L2144.9,2360.6L2147.9,2360.6L2150.9,2360.6L2153.9,2360.6L2156.9,2360.6L2159.9,2360.6L2162.9,2360.6L2165.9,2360.6L2168.9,2360.6L2171.9,2360.6L2174.9,2360.7L2177.9,2360.7L2180.8,2360.7L2183.8,2360.7L2186.8,2360.7L2189.8,2360.8L2192.8,2360.8L2195.8,2360.8L2198.8,2360.8L2201.8,2360.8L2204.8,2360.9L2207.8,2360.9L2210.8,2360.9L2213.8,2360.9L2216.8,2361.0L2219.8,2361.0L2222.8,2361.0L2225.8,2361.0L2228.8,2361.1L2231.8,2361.1L2234.8,2361.1L2237.8,2361.1L2240.8,2361.2L2243.8,2361.2L2246.8,2361.2L2249.8,2361.2L2252.8,2361.3L2255.8,2361.3L2258.8,2361.3L2261.8,2361.3L2264.8,2361.4L2267.8,2361.4L2270.8,2361.4L2273.8,2361.5L2276.8,2361.5L2279.8,2361.5L2282.8,2361.5L2285.8,2361.6L2288.8,2361.6L2291.8,2361.6L2294.8,2361.6L2297.8,2361.7L2300.8,2361.7L2303.8,2361.7L2306.8,2361.7L2309.8,2361.7L2312.8,2361.8L2315.8,2361.8L2318.8,2361.8L2321.8,2361.8L2324.8,2361.8L2327.8,2361.9L2330.8,2361.9L2333.8,2361.9L2336.8,2361.9L2339.8,2361.9L2342.8,2361.9L2345.8,2362.0L2348.8,2362.0L2351.8,2362.0L2354.8,2362.0L2357.8,2362.0L2360.8,2362.0L2363.8,2362.0L2366.8,2362.0L2368.8,2362.0" fill="none" stroke="#0000FF" stroke-width="6" stroke-linejoin="round" stroke-linecap="butt"/>
<path d="M485.0,2363.0L488.0,2363.0L491.0,2363.0L494.0,2363.0L497.0,2363.0L500.0,2363.0L503.0,2363.0L506.0,2363.0L509.0,2363.0L512.0,2363.0L515.0,2363.0L518.0,2363.0L521.0,2363.0L524.0,2363.0L527.0,2363.0L530.0,2363.0L533.0,2363.0L536.0,2363.0L539.0,2363.0L542.0,2363.0L545.0,2363.0L548.0,2363.0L551.0,2363.0L554.0,2363.0L557.0,2363.0L560.0,2363.0L563.0,2363.0L566.0,2363.0L569.0,2363.0L572.0,2363.0L575.0,2363.0L578.0,2363.0L581.0,2363.0L584.0,2363.0L587.0,2363.0L590.0,2363.0L593.0,2363.0L596.0,2363.0L599.0,2363.0L602.0,2363.0L605.0,2363.0L608.0,2363.0L611.0,2363.0L614.0,2363.0L617.0,2363.0L620.0,2363.0L623.0,2363.0L626.0,2362.9L629.0,2362.9L632.0,2362.9L635.0,2362.9L638.0,2362.9L641.0,2362.9L644.0,2362.9L647.0,2362.9L650.0,2362.9L653.0,2362.9L656.0,2362.9L659.0,2362.9L662.0,2362.9L665.0,2362.9L668.0,2362.9L671.0,2362.9L674.0,2362.9L677.0,2362.9L680.0,2362.9L683.0,2362.9L686.0,2362.9L689.0,2362.9L692.0,2362.9L695.0,2362.9L698.0,2362.9L701.0,2362.9L704.0,2362.9L707.0,2362.9L710.0,2362.9L713.0,2362.9L716.0,2362.9L719.0,2362.9L722.0,2362.9L725.0,2362.9L728.0,2362.9L731.0,2362.9L734.0,2362.9L737.0,2362.9L740.0,2362.9L743.0,2362.9L746.0,2362.9L749.0,2362.9L752.0,2362.9L755.0,2362.9L758.0,2362.9L761.0,2362.9L764.0,2362.9L767.0,2362.9L770.0,2362.9L773.0,2362.9L776.0,2362.9L779.0,2362.9L782.0,2362.9L785.0,2362.9L788.0,2362.9L791.0,2362.9L794.0,2362.9L797.0,2362.9L800.0,2362.9L803.0,2362.9L806.0,2362.9L809.0,2362.9L812.0,2362.9L815.0,2362.9L818.0,2362.9L821.0,2362.9L824.0,2362.9L827.0,2362.9L830.0,2362.9L833.0,2362.9L836.0,2362.9L839.0,2362.9L842.0,2362.9L845.0,2362.9L848.0,2362.9L851.0,2362.9L854.0,2362.9L857.0,2362.9L860.0,2362.9L863.0,2362.9L866.0,2362.9L869.0,2362.9L872.0,2362.9L875.0,2362.9L878.0,2362.9L881.0,2362.9L884.0,2362.9L887.0,2362.9L890.0,2362.9L893.0,2362.9L896.0,2362.9L899.0,2362.9L902.0,2362.9L905.0,2362.9L908.0,2362.9L911.0,2362.9L914.0,2362.9L917.0,2362.9L920.0,2362.9L923.0,2362.9L926.0,2362.9L929.0,2362.9L932.0,2362.9L935.0,2362.9L938.0,2362.9L941.0,2362.9L944.0,2362.9L947.0,2362.9L950.0,2362.9L953.0,2362.9L956.0,2362.9L959.0,2362.9L962.0,2362.9L965.0,2362.9L968.0,2362.9L971.0,2362.9L974.0,2362.9L977.0,2363.0L980.0,2363.0L983.0,2363.0L986.0,2363.0L989.0,2363.0L992.0,2363.0L995.0,2363.0L998.0,2363.0L1001.0,2363.0L1004.0,2363.0L1007.0,2363.0L1010.0,2363.0L1013.0,2363.0L1016.0,2363.0L1019.0,2363.0L1022.0,2363.0L1025.0,2363.0L1028.0,2363.0L1031.0,2363.0L1034.0,2363.1L1037.0,2363.1L1040.0,2363.1L1043.0,2363.1L1046.0,2363.1L1049.0,2363.1L1052.0,2363.1L1055.0,2363.1L1058.0,2363.1L1061.0,2363.1L1064.0,2363.1L1067.0,2363.1L1070.0,2363.1L1073.0,2363.1L1076.0,2363.1L1079.0,2363.1L1082.0,2363.1L1085.0,2363.1L1088.0,2363.1L1091.0,2363.1L1094.0,2363.1L1097.0,2363.1L1100.0,2363.1L1103.0,2363.1L1106.0,2363.1L1109.0,2363.1L1112.0,2363.1L1115.0,2363.1L1118.0,2363.1L1121.0,2363.1L1124.0,2363.1L1127.0,2363.1L1130.0,2363.1L1133.0,2363.1L1136.0,2363.2L1139.0,2363.2L1142.0,2363.2L1145.0,2363.2L1148.0,2363.2L1151.0,2363.2L1154.0,2363.3L1157.0,2363.3L1160.0,2363.3L1163.0,2363.4L1166.0,2363.4L1169.0,2363.4L1172.0,2363.5L1175.0,2363.5L1178.0,2363.5L1181.0,2363.6L1184.0,2363.6L1187.0,2363.7L1190.0,2363.8L1193.0,2363.8L1196.0,2363.9L1199.0,2364.0L1202.0,2364.1L1205.0,2364.1L1208.0,2364.2L1211.0,2364.3L1214.0,2364.4L1217.0,2364.5L1220.0,2364.6L1223.0,2364.7L1226.0,2364.8L1229.0,2364.9L1232.0,2365.0L1235.0,2365.2L1238.0,2365.3L1241.0,2365.5L1244.0,2365.7L1247.0,2365.9L1249.9,2366.1L1252.9,2366.3L1255.9,2366.6L1258.9,2366.9L1261.9,2367.2L1264.9,2367.6L1267.8,2367.9L1270.8,2368.3L1273.8,2368.7L1276.8,2369.2L1279.7,2369.7L1282.7,2370.3L1285.6,2370.9L1288.5,2371.7L1291.4,2372.5L1294.2,2373.4L1297.0,2374.4L1299.8,2375.5L1302.6,2376.7L1305.3,2377.9L1308.1,2379.1L1310.8,2380.3L1313.6,2381.6L1316.3,2382.8L1319.0,2384.0L1321.7,2385.4L1324.3,2386.8L1326.9,2388.4L1329.3,2390.2L1331.6,2392.1L1333.7,2394.1L1335.8,2396.3L1337.8,2398.5L1339.7,2400.9L1341.5,2403.2L1343.4,2405.6L1345.1,2408.0L1346.9,2410.4L1348.6,2412.9L1350.3,2415.4L1352.0,2417.9L1353.6,2420.4L1355.1,2423.0L1356.5,2425.6L1357.8,2428.3L1359.0,2431.1L1360.1,2433.9L1361.0,2436.7L1361.8,2439.6L1362.6,2442.5L1363.3,2445.4L1364.0,2448.3L1364.7,2451.2L1365.4,2454.2L1366.2,2457.1L1367.1,2459.9L1368.0,2462.8L1368.9,2465.6L1369.9,2468.5L1371.0,2471.3L1372.0,2474.1L1373.0,2476.9L1374.0,2479.8L1374.9,2482.6L1375.7,2485.5L1376.5,2488.4L1377.3,2491.3L1378.0,2494.2L1378.6,2497.1L1379.3,2500.1L1379.9,2503.0L1380.4,2505.9L1381.0,2508.9L1381.6,2511.8L1382.1,2514.8L1382.6,2517.7L1383.1,2520.7L1383.6,2523.7L1384.1,2526.6L1384.6,2529.6L1385.1,2532.5L1385.5,2535.5L1386.0,2538.5L1386.5,2541.4L1386.9,2544.4L1387.4,2547.4L1387.8,2550.3L1388.2,2553.3L1388.7,2556.3L1389.1,2559.2L1389.5,2562.2L1389.9,2565.2L1390.3,2568.1L1390.8,2571.1L1391.2,2574.1L1391.6,2577.1L1392.0,2580.0L1392.4,2583.0L1392.8,2586.0L1393.2,2589.0L1393.6,2591.9L1394.0,2594.9L1394.4,2597.9L1394.7,2600.9L1395.1,2603.8L1395.4,2606.8L1395.8,2609.8L1396.1,2612.8L1396.5,2615.8L1396.8,2618.7L1397.2,2621.7L1397.5,2624.7L1397.8,2627.7L1398.1,2630.7L1398.4,2633.6L1398.7,2636.6L1399.1,2639.6L1399.4,2642.6L1399.7,2645.6L1400.0,2648.6L1400.3,2651.6L1400.5,2654.5L1400.8,2657.5L1401.1,2660.5L1401.4,2663.5L1401.7,2666.5L1402.0,2669.5L1402.3,2672.5L1402.6,2675.4L1402.8,2678.4L1403.1,2681.4L1403.4,2684.4L1403.7,2687.4L1404.0,2690.4L1404.2,2693.4L1404.5,2696.4L1404.8,2699.3L1405.1,2702.3L1405.3,2705.3L1405.6,2708.3L1405.9,2711.3L1406.1,2714.3L1406.4,2717.3L1406.7,2720.3L1406.9,2723.2L1407.2,2726.2L1407.4,2729.2L1407.7,2732.2L1407.9,2735.2L1408.2,2738.2L1408.4,2741.2L1408.7,2744.2L1408.9,2747.2L1409.2,2750.1L1409.4,2753.1L1409.7,2756.1L1409.9,2759.1L1410.2,2762.1L1410.4,2765.1L1410.7,2768.1L1410.9,2771.1L1411.1,2774.1L1411.4,2777.1L1411.6,2780.1L1411.9,2783.0L1412.1,2786.0L1412.3,2789.0L1412.6,2792.0L1412.8,2795.0L1413.0,2798.0L1413.3,2801.0L1413.5,2804.0L1413.7,2807.0L1414.0,2810.0L1414.2,2813.0L1414.4,2815.9L1414.6,2818.9L1414.9,2821.9L1415.1,2824.9L1415.3,2827.9L1415.5,2830.9L1415.7,2833.9L1416.0,2836.9L1416.2,2839.9L1416.4,2842.9L1416.6,2845.9L1416.8,2848.9L1417.0,2851.8L1417.3,2854.8L1417.5,2857.8L1417.7,2860.8L1417.9,2863.8L1418.1,2866.8L1418.3,2869.8L1418.5,2872.8L1418.7,2875.8L1418.9,2878.8L1419.1,2881.8L1419.3,2884.8L1419.5,2887.8L1419.7,2890.8L1419.9,2893.7L1420.1,2896.7L1420.3,2899.7L1420.5,2902.7L1420.7,2905.7L1420.8,2908.7L1421.0,2911.7L1421.2,2914.7L1421.4,2917.7L1421.5,2920.7L1421.7,2923.7L1421.9,2926.7L1422.1,2929.7L1422.2,2932.7L1422.4,2935.7L1422.6,2938.7L1422.7,2941.7L1422.9,2944.7L1423.1,2947.7L1423.2,2950.7L1423.4,2953.6L1423.5,2956.6L1423.7,2959.6L1423.9,2962.6L1424.0,2965.6L1424.2,2968.6L1424.3,2971.6L1424.5,2974.6L1424.6,2977.6L1424.8,2980.6L1424.9,2983.6L1425.1,2986.6L1425.2,2989.6L1425.4,2992.6L1425.6,2995.6L1425.7,2998.6L1425.9,3001.6L1426.0,3004.6L1426.2,3007.6L1426.3,3010.6L1426.5,3013.6L1426.6,3016.6L1426.8,3019.6L1426.9,3022.6L1427.1,3025.6L1427.2,3028.5L1427.4,3031.5L1427.5,3034.5L1427.7,3037.5L1427.9,3040.5L1428.0,3043.5L1428.2,3046.5L1428.3,3049.5L1428.5,3052.5L1428.6,3055.5L1428.8,3058.5L1429.0,3061.5L1429.1,3064.5L1429.3,3067.5L1429.5,3070.5L1429.6,3073.5L1429.8,3076.5L1430.0,3079.5L1430.1,3082.5L1430.3,3085.5L1430.5,3088.5L1430.7,3091.5L1430.8,3094.5L1431.0,3097.4L1431.2,3100.4L1431.3,3103.4L1431.5,3106.4L1431.7,3109.4L1431.8,3112.4L1432.0,3115.4L1432.2,3118.4L1432.4,3121.4L1432.5,3124.4L1432.7,3127.4L1432.9,3130.4L1433.0,3133.4L1433.2,3136.4L1433.4,3139.4L1433.5,3142.4L1433.7,3145.4L1433.9,3148.4L1434.0,3151.4L1434.2,3154.4L1434.4,3157.3L1434.6,3160.3L1434.7,3163.3L1434.9,3166.3L1435.1,3169.3L1435.2,3172.3L1435.4,3175.3L1435.6,3178.3L1435.8,3181.3L1435.9,3184.3L1436.1,3187.3L1436.3,3190.3L1436.5,3193.3L1436.6,3196.3L1436.8,3199.3L1437.0,3202.3L1437.2,3205.3L1437.3,3208.3L1437.5,3211.3L1437.7,3214.3L1437.9,3217.2L1438.0,3220.2L1438.2,3223.2L1438.4,3226.2L1438.6,3229.2L1438.7,3232.2L1438.9,3235.2L1439.1,3238.2L1439.3,3241.2L1439.5,3244.2L1439.6,3247.2L1439.8,3250.2L1440.0,3253.2L1440.2,3256.2L1440.4,3259.2L1440.6,3262.2L1440.8,3265.2L1440.9,3268.2L1441.1,3271.2L1441.3,3274.1L1441.5,3277.1L1441.7,3280.1L1441.9,3283.1L1442.1,3286.1L1442.3,3289.1L1442.5,3292.1L1442.7,3295.1L1442.9,3298.1L1443.1,3301.1L1443.3,3304.1L1443.5,3307.1L1443.7,3310.1L1443.9,3313.1L1444.1,3316.1L1444.3,3319.0L1444.5,3322.0L1444.7,3325.0L1444.9,3328.0L1445.1,3331.0L1445.3,3334.0L1445.5,3337.0L1445.7,3340.0L1445.9,3343.0L1446.1,3346.0L1446.3,3349.0L1446.5,3352.0L1446.7,3355.0L1446.9,3358.0L1447.1,3361.0L1447.3,3363.9L1447.5,3366.9L1447.8,3369.9L1448.0,3372.9L1448.2,3375.9L1448.4,3378.9L1448.7,3381.9L1448.9,3384.9L1449.1,3387.9L1449.4,3390.9L1449.6,3393.9L1449.9,3396.8L1450.1,3399.8L1450.4,3402.8L1450.7,3405.8L1450.9,3408.8L1451.2,3411.8L1451.5,3414.8L1451.8,3417.8L1452.1,3420.7L1452.4,3423.7L1452.7,3426.7L1453.0,3429.7L1453.3,3432.7L1453.6,3435.7L1453.9,3438.6L1454.2,3441.6L1454.6,3444.6L1454.9,3447.6L1455.2,3450.6L1455.6,3453.6L1455.9,3456.5L1456.3,3459.5L1456.6,3462.5L1457.0,3465.5L1457.4,3468.4L1457.8,3471.4L1458.1,3474.4L1458.5,3477.4L1459.0,3480.3L1459.4,3483.3L1459.8,3486.3L1460.3,3489.2L1460.7,3492.2L1461.2,3495.2L1461.7,3498.1L1462.2,3501.1L1462.7,3504.0L1463.2,3507.0L1463.8,3510.0L1464.3,3512.9L1464.9,3515.9L1465.4,3518.8L1466.1,3521.7L1466.8,3524.6L1467.5,3527.5L1468.4,3530.4L1469.4,3533.2L1470.6,3536.0L1472.0,3538.6L1473.5,3540.9L1475.2,3542.4L1476.9,3542.6L1478.2,3541.2L1479.2,3538.9L1479.9,3536.1L1480.4,3533.1L1481.0,3530.2L1481.5,3527.2L1482.1,3524.3L1482.6,3521.3L1483.0,3518.4L1483.5,3515.4L1483.9,3512.4L1484.3,3509.4L1484.7,3506.5L1485.0,3503.5L1485.3,3500.5L1485.6,3497.5L1485.8,3494.5L1486.0,3491.5L1486.2,3488.5L1486.4,3485.5L1486.5,3482.5L1486.6,3479.5L1486.7,3476.6L1486.9,3473.6L1487.0,3470.6L1487.1,3467.6L1487.3,3464.6L1487.4,3461.6L1487.6,3458.6L1487.8,3455.6L1488.0,3452.6L1488.1,3449.6L1488.3,3446.6L1488.5,3443.6L1488.7,3440.6L1488.9,3437.6L1489.1,3434.6L1489.3,3431.6L1489.5,3428.6L1489.7,3425.6L1489.9,3422.6L1490.1,3419.7L1490.3,3416.7L1490.5,3413.7L1490.7,3410.7L1490.9,3407.7L1491.2,3404.7L1491.4,3401.7L1491.6,3398.7L1491.8,3395.7L1492.0,3392.7L1492.3,3389.7L1492.5,3386.7L1492.7,3383.7L1492.9,3380.8L1493.2,3377.8L1493.4,3374.8L1493.7,3371.8L1493.9,3368.8L1494.2,3365.8L1494.5,3362.8L1494.8,3359.8L1495.1,3356.8L1495.3,3353.9L1495.6,3350.9L1495.9,3347.9L1496.2,3344.9L1496.5,3341.9L1496.8,3338.9L1497.1,3335.9L1497.4,3333.0L1497.6,3330.0L1497.9,3327.0L1498.2,3324.0L1498.4,3321.0L1498.7,3318.0L1498.9,3315.0L1499.1,3312.0L1499.4,3309.0L1499.6,3306.1L1499.8,3303.1L1500.0,3300.1L1500.2,3297.1L1500.4,3294.1L1500.6,3291.1L1500.7,3288.1L1500.9,3285.1L1501.1,3282.1L1501.3,3279.1L1501.4,3276.1L1501.6,3273.1L1501.8,3270.1L1501.9,3267.1L1502.1,3264.1L1502.2,3261.1L1502.4,3258.1L1502.5,3255.1L1502.7,3252.1L1502.8,3249.1L1503.0,3246.2L1503.1,3243.2L1503.3,3240.2L1503.4,3237.2L1503.5,3234.2L1503.7,3231.2L1503.8,3228.2L1504.0,3225.2L1504.1,3222.2L1504.2,3219.2L1504.4,3216.2L1504.5,3213.2L1504.6,3210.2L1504.8,3207.2L1504.9,3204.2L1505.0,3201.2L1505.1,3198.2L1505.3,3195.2L1505.4,3192.2L1505.5,3189.2L1505.6,3186.2L1505.8,3183.2L1505.9,3180.2L1506.0,3177.2L1506.1,3174.2L1506.3,3171.2L1506.4,3168.2L1506.5,3165.2L1506.6,3162.2L1506.8,3159.2L1506.9,3156.2L1507.0,3153.2L1507.1,3150.2L1507.2,3147.2L1507.4,3144.2L1507.5,3141.2L1507.6,3138.2L1507.7,3135.3L1507.8,3132.3L1508.0,3129.3L1508.1,3126.3L1508.2,3123.3L1508.3,3120.3L1508.5,3117.3L1508.6,3114.3L1508.7,3111.3L1508.8,3108.3L1508.9,3105.3L1509.1,3102.3L1509.2,3099.3L1509.3,3096.3L1509.4,3093.3L1509.6,3090.3L1509.7,3087.3L1509.8,3084.3L1509.9,3081.3L1510.1,3078.3L1510.2,3075.3L1510.3,3072.3L1510.5,3069.3L1510.6,3066.3L1510.7,3063.3L1510.8,3060.3L1511.0,3057.3L1511.1,3054.3L1511.2,3051.3L1511.3,3048.3L1511.4,3045.3L1511.6,3042.3L1511.7,3039.3L1511.8,3036.3L1511.9,3033.3L1512.0,3030.3L1512.2,3027.3L1512.3,3024.3L1512.4,3021.3L1512.5,3018.4L1512.6,3015.4L1512.8,3012.4L1512.9,3009.4L1513.0,3006.4L1513.1,3003.4L1513.2,3000.4L1513.3,2997.4L1513.5,2994.4L1513.6,2991.4L1513.7,2988.4L1513.8,2985.4L1513.9,2982.4L1514.0,2979.4L1514.1,2976.4L1514.3,2973.4L1514.4,2970.4L1514.5,2967.4L1514.6,2964.4L1514.7,2961.4L1514.8,2958.4L1515.0,2955.4L1515.1,2952.4L1515.2,2949.4L1515.3,2946.4L1515.4,2943.4L1515.5,2940.4L1515.7,2937.4L1515.8,2934.4L1515.9,2931.4L1516.0,2928.4L1516.1,2925.4L1516.3,2922.4L1516.4,2919.4L1516.5,2916.4L1516.6,2913.4L1516.7,2910.4L1516.9,2907.4L1517.0,2904.4L1517.1,2901.4L1517.2,2898.4L1517.4,2895.4L1517.5,2892.4L1517.6,2889.5L1517.7,2886.5L1517.9,2883.5L1518.0,2880.5L1518.1,2877.5L1518.2,2874.5L1518.4,2871.5L1518.5,2868.5L1518.6,2865.5L1518.7,2862.5L1518.9,2859.5L1519.0,2856.5L1519.1,2853.5L1519.2,2850.5L1519.3,2847.5L1519.5,2844.5L1519.6,2841.5L1519.7,2838.5L1519.8,2835.5L1519.9,2832.5L1520.1,2829.5L1520.2,2826.5L1520.3,2823.5L1520.4,2820.5L1520.5,2817.5L1520.6,2814.5L1520.8,2811.5L1520.9,2808.5L1521.0,2805.5L1521.1,2802.5L1521.2,2799.5L1521.4,2796.5L1521.5,2793.5L1521.6,2790.5L1521.7,2787.5L1521.9,2784.5L1522.0,2781.5L1522.1,2778.5L1522.2,2775.5L1522.4,2772.5L1522.5,2769.5L1522.6,2766.6L1522.7,2763.6L1522.9,2760.6L1523.0,2757.6L1523.1,2754.6L1523.3,2751.6L1523.4,2748.6L1523.5,2745.6L1523.7,2742.6L1523.8,2739.6L1524.0,2736.6L1524.1,2733.6L1524.2,2730.6L1524.4,2727.6L1524.5,2724.6L1524.7,2721.6L1524.8,2718.6L1525.0,2715.6L1525.2,2712.6L1525.3,2709.6L1525.5,2706.6L1525.6,2703.6L1525.8,2700.6L1526.0,2697.6L1526.1,2694.6L1526.3,2691.6L1526.5,2688.6L1526.7,2685.7L1526.8,2682.7L1527.0,2679.7L1527.2,2676.7L1527.4,2673.7L1527.6,2670.7L1527.8,2667.7L1528.0,2664.7L1528.1,2661.7L1528.3,2658.7L1528.5,2655.7L1528.7,2652.7L1528.9,2649.7L1529.1,2646.7L1529.3,2643.7L1529.5,2640.7L1529.7,2637.8L1529.9,2634.8L1530.1,2631.8L1530.3,2628.8L1530.5,2625.8L1530.7,2622.8L1530.9,2619.8L1531.1,2616.8L1531.3,2613.8L1531.5,2610.8L1531.7,2607.8L1531.9,2604.8L1532.2,2601.8L1532.4,2598.8L1532.6,2595.9L1532.8,2592.9L1533.0,2589.9L1533.2,2586.9L1533.5,2583.9L1533.7,2580.9L1533.9,2577.9L1534.1,2574.9L1534.4,2571.9L1534.6,2568.9L1534.8,2565.9L1535.1,2562.9L1535.3,2560.0L1535.6,2557.0L1535.8,2554.0L1536.1,2551.0L1536.3,2548.0L1536.6,2545.0L1536.8,2542.0L1537.1,2539.0L1537.4,2536.0L1537.6,2533.1L1537.9,2530.1L1538.2,2527.1L1538.5,2524.1L1538.8,2521.1L1539.0,2518.1L1539.3,2515.1L1539.7,2512.2L1540.0,2509.2L1540.3,2506.2L1540.6,2503.2L1541.0,2500.2L1541.3,2497.2L1541.7,2494.3L1542.1,2491.3L1542.5,2488.3L1542.9,2485.4L1543.4,2482.4L1543.8,2479.4L1544.3,2476.5L1544.8,2473.5L1545.3,2470.5L1545.8,2467.6L1546.3,2464.6L1546.9,2461.7L1547.4,2458.7L1547.9,2455.8L1548.5,2452.8L1549.0,2449.9L1549.5,2446.9L1550.1,2444.0L1550.6,2441.0L1551.1,2438.1L1551.6,2435.1L1552.1,2432.1L1552.7,2429.2L1553.3,2426.3L1553.9,2423.3L1554.6,2420.4L1555.4,2417.5L1556.1,2414.6L1557.0,2411.7L1557.8,2408.9L1558.8,2406.0L1559.7,2403.2L1560.8,2400.4L1562.0,2397.6L1563.4,2395.0L1565.0,2392.4L1566.7,2390.0L1568.6,2387.7L1570.7,2385.6L1572.9,2383.5L1575.2,2381.6L1577.6,2379.8L1580.0,2378.1L1582.6,2376.5L1585.2,2375.0L1587.9,2373.7L1590.6,2372.6L1593.5,2371.6L1596.3,2370.9L1599.3,2370.5L1602.3,2370.2L1605.3,2370.1L1608.3,2370.0L1611.3,2370.0L1614.3,2370.0L1617.3,2370.0L1620.3,2369.9L1623.3,2369.9L1626.3,2369.8L1629.3,2369.8L1632.3,2369.8L1635.3,2369.8L1638.3,2369.8L1641.3,2369.8L1644.3,2369.8L1647.3,2369.8L1650.3,2369.8L1653.3,2369.8L1656.3,2369.8L1659.3,2369.8L1662.3,2369.8L1665.3,2369.8L1668.3,2369.9L1671.3,2369.9L1674.3,2369.9L1677.3,2369.9L1680.3,2369.9L1683.3,2369.9L1686.3,2369.9L1689.3,2370.0L1692.3,2370.0L1695.3,2370.0L1698.3,2370.0L1701.3,2370.0L1704.3,2370.0L1707.3,2370.0L1710.3,2370.1L1713.3,2370.1L1716.3,2370.1L1719.3,2370.1L1722.3,2370.2L1725.3,2370.2L1728.3,2370.2L1731.3,2370.2L1734.3,2370.3L1737.3,2370.3L1740.3,2370.3L1743.3,2370.4L1746.3,2370.4L1749.3,2370.5L1752.3,2370.5L1755.3,2370.5L1758.3,2370.6L1761.3,2370.6L1764.3,2370.6L1767.3,2370.7L1770.3,2370.7L1773.3,2370.7L1776.3,2370.8L1779.3,2370.8L1782.3,2370.8L1785.3,2370.9L1788.3,2370.9L1791.3,2370.9L1794.3,2371.0L1797.3,2371.0L1800.3,2371.0L1803.3,2371.0L1806.3,2371.1L1809.3,2371.1L1812.3,2371.1L1815.3,2371.1L1818.3,2371.1L1821.3,2371.1L1824.3,2371.1L1827.3,2371.1L1830.3,2371.1L1833.3,2371.1L1836.3,2371.1L1839.3,2371.1L1842.3,2371.1L1845.3,2371.1L1848.3,2371.0L1851.2,2371.0L1854.2,2370.9L1857.2,2370.8L1860.2,2370.7L1863.2,2370.6L1866.2,2370.5L1869.2,2370.4L1872.2,2370.3L1875.2,2370.1L1878.2,2370.0L1881.2,2369.8L1884.2,2369.7L1887.2,2369.5L1890.2,2369.4L1893.2,2369.2L1896.2,2369.1L1899.2,2369.0L1902.2,2369.0L1905.2,2368.9L1908.2,2368.9L1911.2,2368.8L1914.2,2368.8L1917.2,2368.8L1920.2,2368.8L1923.2,2368.8L1926.2,2368.8L1929.2,2368.8L1932.2,2368.8L1935.2,2368.7L1938.2,2368.7L1941.2,2368.7L1944.2,2368.6L1947.2,2368.6L1950.2,2368.5L1953.2,2368.4L1956.2,2368.2L1959.2,2368.0L1962.2,2367.8L1965.2,2367.5L1968.1,2367.1L1971.1,2366.7L1974.1,2366.2L1977.0,2365.7L1980.0,2365.3L1983.0,2364.8L1985.9,2364.4L1988.9,2364.0L1991.9,2363.7L1994.9,2363.4L1997.9,2363.2L2000.9,2363.0L2003.9,2362.8L2006.8,2362.6L2009.8,2362.5L2012.8,2362.4L2015.8,2362.3L2018.8,2362.2L2021.8,2362.1L2024.8,2362.0L2027.8,2361.9L2030.8,2361.9L2033.8,2361.8L2036.8,2361.7L2039.8,2361.7L2042.8,2361.6L2045.8,2361.6L2048.8,2361.6L2051.8,2361.5L2054.8,2361.5L2057.8,2361.5L2060.8,2361.4L2063.8,2361.4L2066.8,2361.4L2069.8,2361.4L2072.8,2361.4L2075.8,2361.4L2078.8,2361.3L2081.8,2361.3L2084.8,2361.3L2087.8,2361.3L2090.8,2361.3L2093.8,2361.3L2096.8,2361.3L2099.8,2361.3L2102.8,2361.3L2105.8,2361.3L2108.8,2361.3L2111.8,2361.3L2114.8,2361.3L2117.8,2361.4L2120.8,2361.4L2123.8,2361.4L2126.8,2361.4L2129.8,2361.4L2132.8,2361.4L2135.8,2361.4L2138.8,2361.4L2141.8,2361.5L2144.8,2361.5L2147.8,2361.5L2150.8,2361.5L2153.8,2361.5L2156.8,2361.5L2159.8,2361.6L2162.8,2361.6L2165.8,2361.6L2168.8,2361.6L2171.8,2361.7L2174.8,2361.7L2177.8,2361.7L2180.8,2361.7L2183.8,2361.7L2186.8,2361.8L2189.8,2361.8L2192.8,2361.8L2195.8,2361.8L2198.8,2361.9L2201.8,2361.9L2204.8,2361.9L2207.8,2361.9L2210.8,2362.0L2213.8,2362.0L2216.8,2362.0L2219.8,2362.0L2222.8,2362.1L2225.8,2362.1L2228.8,2362.1L2231.8,2362.2L2234.8,2362.2L2237.8,2362.2L2240.8,2362.2L2243.8,2362.3L2246.8,2362.3L2249.8,2362.3L2252.8,2362.3L2255.8,2362.4L2258.8,2362.4L2261.8,2362.4L2264.8,2362.4L2267.8,2362.5L2270.8,2362.5L2273.8,2362.5L2276.8,2362.5L2279.8,2362.6L2282.8,2362.6L2285.8,2362.6L2288.8,2362.6L2291.8,2362.7L2294.8,2362.7L2297.8,2362.7L2300.8,2362.7L2303.8,2362.7L2306.8,2362.8L2309.8,2362.8L2312.8,2362.8L2315.8,2362.8L2318.8,2362.8L2321.8,2362.9L2324.8,2362.9L2327.8,2362.9L2330.8,2362.9L2333.8,2362.9L2336.8,2362.9L2339.8,2362.9L2342.8,2362.9L2345.8,2363.0L2348.8,2363.0L2351.8,2363.0L2354.8,2363.0L2357.8,2363.0L2360.8,2363.0L2363.8,2363.0L2366.8,2363.0L2368.8,2363.0" fill="none" stroke="#FF00FF" stroke-width="6" stroke-linejoin="round" stroke-linecap="butt"/>
<path d="M485.0,2362.0L488.0,2362.1L491.0,2362.2L494.0,2362.4L497.0,2362.5L500.0,2362.6L503.0,2362.7L506.0,2362.6L508.9,2362.3L511.8,2361.6L514.6,2360.7L517.3,2359.4L519.9,2358.0L522.5,2356.5L525.2,2355.1L527.9,2353.9L530.7,2352.8L533.5,2351.9L536.4,2351.3L539.4,2350.9L542.3,2351.0L545.2,2351.5L548.1,2352.3L550.9,2353.3L553.5,2354.7L556.0,2356.3L558.4,2358.0L560.9,2359.7L563.5,2361.0L566.3,2362.1L569.1,2362.8L572.1,2363.4L575.0,2363.8L578.0,2364.1L581.0,2364.4L584.0,2364.6L587.0,2364.7L590.0,2364.8L593.0,2364.9L596.0,2364.9L599.0,2364.9L602.0,2364.9L605.0,2364.9L608.0,2364.9L611.0,2364.9L614.0,2364.8L617.0,2364.8L620.0,2364.7L623.0,2364.6L626.0,2364.5L629.0,2364.5L632.0,2364.4L635.0,2364.3L638.0,2364.2L641.0,2364.1L644.0,2364.0L647.0,2363.9L650.0,2363.8L653.0,2363.7L656.0,2363.6L659.0,2363.6L662.0,2363.5L665.0,2363.4L668.0,2363.3L671.0,2363.3L674.0,2363.2L677.0,2363.2L680.0,2363.1L683.0,2363.1L686.0,2363.0L689.0,2363.0L692.0,2363.0L695.0,2363.0L698.0,2363.0L701.0,2363.0L704.0,2363.0L707.0,2363.0L710.0,2363.1L713.0,2363.1L716.0,2363.1L719.0,2363.1L722.0,2363.1L725.0,2363.2L728.0,2363.2L731.0,2363.2L734.0,2363.2L737.0,2363.2L740.0,2363.3L743.0,2363.3L746.0,2363.3L749.0,2363.3L752.0,2363.3L755.0,2363.4L758.0,2363.4L761.0,2363.4L764.0,2363.4L767.0,2363.4L770.0,2363.4L773.0,2363.5L776.0,2363.5L779.0,2363.5L782.0,2363.5L785.0,2363.5L788.0,2363.5L791.0,2363.6L794.0,2363.6L797.0,2363.6L800.0,2363.6L803.0,2363.6L806.0,2363.6L809.0,2363.7L812.0,2363.7L815.0,2363.7L818.0,2363.7L821.0,2363.7L824.0,2363.8L827.0,2363.8L830.0,2363.8L833.0,2363.8L836.0,2363.8L839.0,2363.8L842.0,2363.9L845.0,2363.9L848.0,2363.9L851.0,2363.9L854.0,2363.9L857.0,2363.9L860.0,2364.0L863.0,2364.0L866.0,2364.0L869.0,2364.0L872.0,2364.0L875.0,2364.1L878.0,2364.1L881.0,2364.1L884.0,2364.1L887.0,2364.1L890.0,2364.2L893.0,2364.2L896.0,2364.2L899.0,2364.2L902.0,2364.2L905.0,2364.3L908.0,2364.3L911.0,2364.3L914.0,2364.3L917.0,2364.3L920.0,2364.4L923.0,2364.4L926.0,2364.4L929.0,2364.4L932.0,2364.4L935.0,2364.5L938.0,2364.5L941.0,2364.5L944.0,2364.5L947.0,2364.5L950.0,2364.6L953.0,2364.6L956.0,2364.6L959.0,2364.6L962.0,2364.7L965.0,2364.7L968.0,2364.7L971.0,2364.7L974.0,2364.8L977.0,2364.8L980.0,2364.8L983.0,2364.8L986.0,2364.9L989.0,2364.9L992.0,2364.9L995.0,2365.0L998.0,2365.0L1001.0,2365.0L1004.0,2365.0L1007.0,2365.1L1010.0,2365.1L1013.0,2365.1L1016.0,2365.1L1019.0,2365.2L1022.0,2365.2L1025.0,2365.2L1028.0,2365.3L1031.0,2365.3L1034.0,2365.3L1037.0,2365.3L1040.0,2365.3L1043.0,2365.4L1046.0,2365.4L1049.0,2365.4L1052.0,2365.4L1055.0,2365.5L1058.0,2365.5L1061.0,2365.5L1064.0,2365.5L1067.0,2365.6L1070.0,2365.6L1073.0,2365.6L1076.0,2365.6L1079.0,2365.7L1082.0,2365.7L1085.0,2365.7L1088.0,2365.8L1091.0,2365.8L1094.0,2365.8L1097.0,2365.9L1100.0,2365.9L1103.0,2365.9L1106.0,2366.0L1109.0,2366.0L1112.0,2366.1L1115.0,2366.1L1118.0,2366.2L1121.0,2366.2L1124.0,2366.3L1127.0,2366.4L1130.0,2366.4L1133.0,2366.5L1136.0,2366.6L1139.0,2366.7L1142.0,2366.7L1145.0,2366.8L1147.9,2366.9L1150.9,2367.0L1153.9,2367.1L1156.9,2367.3L1159.9,2367.4L1162.9,2367.5L1165.9,2367.6L1168.9,2367.7L1171.9,2367.9L1174.9,2368.0L1177.9,2368.2L1180.9,2368.4L1183.9,2368.6L1186.9,2368.8L1189.9,2369.0L1192.9,2369.3L1195.9,2369.6L1198.9,2369.9L1201.8,2370.2L1204.8,2370.5L1207.8,2370.9L1210.8,2371.2L1213.8,2371.6L1216.7,2371.9L1219.7,2372.3L1222.7,2372.8L1225.6,2373.2L1228.6,2373.7L1231.6,2374.2L1234.5,2374.8L1237.4,2375.4L1240.3,2376.1L1243.2,2376.9L1246.1,2377.7L1249.0,2378.7L1251.8,2379.7L1254.6,2380.8L1257.3,2382.0L1260.1,2383.2L1262.8,2384.5L1265.5,2385.8L1268.2,2387.1L1270.9,2388.4L1273.5,2389.8L1276.2,2391.1L1278.9,2392.5L1281.5,2393.9L1284.2,2395.4L1286.8,2396.8L1289.4,2398.3L1291.9,2399.9L1294.5,2401.4L1297.1,2403.0L1299.6,2404.7L1302.0,2406.4L1304.3,2408.3L1306.5,2410.3L1308.6,2412.5L1310.5,2414.8L1312.3,2417.1L1314.1,2419.6L1315.7,2422.1L1317.3,2424.6L1318.9,2427.2L1320.4,2429.8L1321.9,2432.4L1323.3,2435.0L1324.7,2437.7L1326.1,2440.3L1327.4,2443.0L1328.7,2445.7L1329.9,2448.5L1331.1,2451.2L1332.3,2454.0L1333.5,2456.7L1334.6,2459.5L1335.7,2462.3L1336.7,2465.1L1337.8,2467.9L1338.8,2470.8L1339.7,2473.6L1340.6,2476.5L1341.5,2479.3L1342.4,2482.2L1343.2,2485.1L1344.0,2488.0L1344.8,2490.9L1345.6,2493.8L1346.4,2496.7L1347.1,2499.6L1347.9,2502.5L1348.6,2505.4L1349.4,2508.3L1350.1,2511.2L1350.8,2514.1L1351.5,2517.0L1352.2,2519.9L1352.9,2522.9L1353.6,2525.8L1354.3,2528.7L1355.0,2531.6L1355.6,2534.5L1356.3,2537.5L1356.9,2540.4L1357.6,2543.3L1358.2,2546.3L1358.9,2549.2L1359.5,2552.1L1360.1,2555.1L1360.7,2558.0L1361.3,2560.9L1361.9,2563.9L1362.5,2566.8L1363.1,2569.8L1363.6,2572.7L1364.2,2575.7L1364.7,2578.6L1365.3,2581.6L1365.8,2584.5L1366.3,2587.5L1366.8,2590.4L1367.3,2593.4L1367.8,2596.4L1368.2,2599.3L1368.7,2602.3L1369.1,2605.2L1369.6,2608.2L1370.0,2611.2L1370.4,2614.2L1370.8,2617.1L1371.2,2620.1L1371.6,2623.1L1372.0,2626.0L1372.4,2629.0L1372.8,2632.0L1373.1,2635.0L1373.5,2638.0L1373.9,2640.9L1374.2,2643.9L1374.6,2646.9L1374.9,2649.9L1375.3,2652.8L1375.7,2655.8L1376.0,2658.8L1376.4,2661.8L1376.7,2664.8L1377.1,2667.7L1377.4,2670.7L1377.8,2673.7L1378.1,2676.7L1378.5,2679.7L1378.8,2682.6L1379.2,2685.6L1379.5,2688.6L1379.9,2691.6L1380.2,2694.6L1380.5,2697.5L1380.9,2700.5L1381.2,2703.5L1381.5,2706.5L1381.9,2709.5L1382.2,2712.4L1382.5,2715.4L1382.9,2718.4L1383.2,2721.4L1383.5,2724.4L1383.8,2727.4L1384.1,2730.3L1384.5,2733.3L1384.8,2736.3L1385.1,2739.3L1385.4,2742.3L1385.7,2745.3L1386.0,2748.2L1386.3,2751.2L1386.7,2754.2L1387.0,2757.2L1387.3,2760.2L1387.6,2763.2L1387.9,2766.1L1388.2,2769.1L1388.5,2772.1L1388.8,2775.1L1389.1,2778.1L1389.4,2781.1L1389.7,2784.1L1390.0,2787.0L1390.3,2790.0L1390.6,2793.0L1390.9,2796.0L1391.2,2799.0L1391.5,2802.0L1391.8,2805.0L1392.1,2807.9L1392.4,2810.9L1392.7,2813.9L1393.0,2816.9L1393.3,2819.9L1393.5,2822.9L1393.8,2825.9L1394.1,2828.8L1394.4,2831.8L1394.7,2834.8L1395.0,2837.8L1395.3,2840.8L1395.6,2843.8L1395.9,2846.8L1396.1,2849.7L1396.4,2852.7L1396.7,2855.7L1397.0,2858.7L1397.3,2861.7L1397.6,2864.7L1397.8,2867.7L1398.1,2870.6L1398.4,2873.6L1398.7,2876.6L1399.0,2879.6L1399.2,2882.6L1399.5,2885.6L1399.8,2888.6L1400.1,2891.6L1400.3,2894.5L1400.6,2897.5L1400.9,2900.5L1401.1,2903.5L1401.4,2906.5L1401.7,2909.5L1401.9,2912.5L1402.2,2915.5L1402.4,2918.5L1402.7,2921.4L1402.9,2924.4L1403.2,2927.4L1403.4,2930.4L1403.7,2933.4L1403.9,2936.4L1404.2,2939.4L1404.4,2942.4L1404.7,2945.4L1404.9,2948.3L1405.2,2951.3L1405.4,2954.3L1405.6,2957.3L1405.9,2960.3L1406.1,2963.3L1406.4,2966.3L1406.6,2969.3L1406.9,2972.3L1407.1,2975.3L1407.3,2978.3L1407.6,2981.2L1407.8,2984.2L1408.1,2987.2L1408.3,2990.2L1408.5,2993.2L1408.8,2996.2L1409.0,2999.2L1409.3,3002.2L1409.5,3005.2L1409.8,3008.2L1410.0,3011.1L1410.2,3014.1L1410.5,3017.1L1410.7,3020.1L1411.0,3023.1L1411.2,3026.1L1411.5,3029.1L1411.7,3032.1L1412.0,3035.1L1412.2,3038.1L1412.5,3041.0L1412.7,3044.0L1413.0,3047.0L1413.2,3050.0L1413.5,3053.0L1413.8,3056.0L1414.0,3059.0L1414.3,3062.0L1414.6,3064.9L1414.9,3067.9L1415.1,3070.9L1415.4,3073.9L1415.7,3076.9L1416.0,3079.9L1416.3,3082.9L1416.6,3085.9L1416.9,3088.8L1417.2,3091.8L1417.5,3094.8L1417.8,3097.8L1418.1,3100.8L1418.4,3103.8L1418.7,3106.7L1419.0,3109.7L1419.3,3112.7L1419.6,3115.7L1419.9,3118.7L1420.3,3121.7L1420.6,3124.6L1420.9,3127.6L1421.2,3130.6L1421.6,3133.6L1421.9,3136.6L1422.3,3139.6L1422.6,3142.5L1423.0,3145.5L1423.3,3148.5L1423.7,3151.5L1424.0,3154.4L1424.4,3157.4L1424.8,3160.4L1425.1,3163.4L1425.5,3166.4L1425.9,3169.3L1426.3,3172.3L1426.7,3175.3L1427.1,3178.3L1427.5,3181.2L1427.9,3184.2L1428.3,3187.2L1428.8,3190.1L1429.2,3193.1L1429.6,3196.1L1430.1,3199.0L1430.5,3202.0L1430.9,3205.0L1431.4,3207.9L1431.8,3210.9L1432.3,3213.9L1432.7,3216.8L1433.2,3219.8L1433.7,3222.8L1434.1,3225.7L1434.6,3228.7L1435.1,3231.7L1435.5,3234.6L1436.0,3237.6L1436.5,3240.5L1437.0,3243.5L1437.4,3246.5L1437.9,3249.4L1438.4,3252.4L1438.9,3255.4L1439.4,3258.3L1439.8,3261.3L1440.3,3264.2L1440.8,3267.2L1441.3,3270.2L1441.8,3273.1L1442.3,3276.1L1442.8,3279.0L1443.3,3282.0L1443.8,3284.9L1444.3,3287.9L1444.8,3290.9L1445.4,3293.8L1445.9,3296.8L1446.4,3299.7L1446.9,3302.7L1447.4,3305.6L1448.0,3308.6L1448.5,3311.5L1449.0,3314.5L1449.5,3317.4L1450.1,3320.4L1450.6,3323.3L1451.1,3326.3L1451.7,3329.3L1452.2,3332.2L1452.7,3335.2L1453.3,3338.1L1453.8,3341.1L1454.4,3344.0L1454.9,3347.0L1455.5,3349.9L1456.1,3352.8L1456.7,3355.8L1457.2,3358.7L1457.9,3361.7L1458.5,3364.6L1459.1,3367.5L1459.7,3370.5L1460.4,3373.4L1461.1,3376.3L1461.9,3379.2L1462.8,3382.0L1463.9,3384.8L1465.2,3387.1L1466.8,3388.4L1468.5,3388.4L1470.1,3386.9L1471.5,3384.6L1472.7,3381.9L1473.7,3379.1L1474.6,3376.2L1475.4,3373.4L1476.2,3370.5L1476.9,3367.5L1477.6,3364.6L1478.3,3361.7L1478.9,3358.8L1479.5,3355.8L1480.1,3352.9L1480.7,3349.9L1481.3,3347.0L1481.8,3344.0L1482.3,3341.1L1482.8,3338.1L1483.3,3335.2L1483.7,3332.2L1484.1,3329.2L1484.5,3326.3L1484.8,3323.3L1485.1,3320.3L1485.3,3317.3L1485.5,3314.3L1485.7,3311.3L1485.9,3308.3L1486.1,3305.3L1486.3,3302.3L1486.6,3299.3L1486.8,3296.3L1487.0,3293.4L1487.2,3290.4L1487.4,3287.4L1487.6,3284.4L1487.8,3281.4L1488.0,3278.4L1488.2,3275.4L1488.4,3272.4L1488.6,3269.4L1488.8,3266.4L1489.0,3263.4L1489.2,3260.4L1489.4,3257.4L1489.6,3254.4L1489.8,3251.4L1490.0,3248.5L1490.2,3245.5L1490.4,3242.5L1490.6,3239.5L1490.8,3236.5L1491.0,3233.5L1491.3,3230.5L1491.5,3227.5L1491.7,3224.5L1491.9,3221.5L1492.1,3218.5L1492.3,3215.5L1492.6,3212.5L1492.8,3209.6L1493.1,3206.6L1493.3,3203.6L1493.6,3200.6L1493.8,3197.6L1494.1,3194.6L1494.3,3191.6L1494.6,3188.6L1494.8,3185.6L1495.1,3182.7L1495.3,3179.7L1495.6,3176.7L1495.8,3173.7L1496.0,3170.7L1496.3,3167.7L1496.5,3164.7L1496.7,3161.7L1496.9,3158.7L1497.0,3155.7L1497.2,3152.7L1497.4,3149.7L1497.5,3146.7L1497.7,3143.7L1497.8,3140.7L1497.9,3137.7L1498.1,3134.7L1498.2,3131.7L1498.3,3128.8L1498.4,3125.8L1498.5,3122.8L1498.6,3119.8L1498.7,3116.8L1498.8,3113.8L1498.9,3110.8L1499.0,3107.8L1499.1,3104.8L1499.2,3101.8L1499.3,3098.8L1499.4,3095.8L1499.5,3092.8L1499.6,3089.8L1499.7,3086.8L1499.9,3083.8L1500.0,3080.8L1500.1,3077.8L1500.2,3074.8L1500.3,3071.8L1500.4,3068.8L1500.6,3065.8L1500.7,3062.8L1500.8,3059.8L1500.9,3056.8L1501.0,3053.8L1501.1,3050.8L1501.3,3047.8L1501.4,3044.8L1501.5,3041.8L1501.6,3038.8L1501.7,3035.8L1501.8,3032.8L1502.0,3029.8L1502.1,3026.8L1502.2,3023.8L1502.3,3020.8L1502.4,3017.8L1502.5,3014.8L1502.7,3011.8L1502.8,3008.8L1502.9,3005.8L1503.0,3002.8L1503.1,2999.8L1503.2,2996.8L1503.4,2993.8L1503.5,2990.8L1503.6,2987.9L1503.7,2984.9L1503.8,2981.9L1503.9,2978.9L1504.1,2975.9L1504.2,2972.9L1504.3,2969.9L1504.4,2966.9L1504.5,2963.9L1504.7,2960.9L1504.8,2957.9L1504.9,2954.9L1505.0,2951.9L1505.1,2948.9L1505.3,2945.9L1505.4,2942.9L1505.5,2939.9L1505.6,2936.9L1505.7,2933.9L1505.9,2930.9L1506.0,2927.9L1506.1,2924.9L1506.2,2921.9L1506.4,2918.9L1506.5,2915.9L1506.6,2912.9L1506.7,2909.9L1506.9,2906.9L1507.0,2903.9L1507.1,2900.9L1507.2,2897.9L1507.4,2894.9L1507.5,2891.9L1507.6,2888.9L1507.7,2885.9L1507.9,2882.9L1508.0,2879.9L1508.1,2876.9L1508.3,2873.9L1508.4,2871.0L1508.5,2868.0L1508.7,2865.0L1508.8,2862.0L1508.9,2859.0L1509.0,2856.0L1509.2,2853.0L1509.3,2850.0L1509.4,2847.0L1509.5,2844.0L1509.7,2841.0L1509.8,2838.0L1509.9,2835.0L1510.1,2832.0L1510.2,2829.0L1510.3,2826.0L1510.4,2823.0L1510.6,2820.0L1510.7,2817.0L1510.8,2814.0L1511.0,2811.0L1511.1,2808.0L1511.2,2805.0L1511.3,2802.0L1511.5,2799.0L1511.6,2796.0L1511.7,2793.0L1511.9,2790.0L1512.0,2787.0L1512.1,2784.0L1512.3,2781.0L1512.4,2778.0L1512.6,2775.0L1512.7,2772.0L1512.8,2769.0L1513.0,2766.1L1513.1,2763.1L1513.2,2760.1L1513.4,2757.1L1513.5,2754.1L1513.7,2751.1L1513.8,2748.1L1514.0,2745.1L1514.1,2742.1L1514.3,2739.1L1514.4,2736.1L1514.6,2733.1L1514.7,2730.1L1514.9,2727.1L1515.0,2724.1L1515.2,2721.1L1515.4,2718.1L1515.5,2715.1L1515.7,2712.1L1515.9,2709.1L1516.0,2706.1L1516.2,2703.1L1516.4,2700.1L1516.6,2697.1L1516.7,2694.2L1516.9,2691.2L1517.1,2688.2L1517.3,2685.2L1517.5,2682.2L1517.7,2679.2L1517.9,2676.2L1518.1,2673.2L1518.3,2670.2L1518.5,2667.2L1518.7,2664.2L1518.9,2661.2L1519.1,2658.2L1519.3,2655.2L1519.5,2652.2L1519.7,2649.2L1519.9,2646.3L1520.1,2643.3L1520.3,2640.3L1520.6,2637.3L1520.8,2634.3L1521.0,2631.3L1521.2,2628.3L1521.5,2625.3L1521.7,2622.3L1521.9,2619.3L1522.2,2616.3L1522.4,2613.3L1522.6,2610.4L1522.9,2607.4L1523.1,2604.4L1523.3,2601.4L1523.6,2598.4L1523.8,2595.4L1524.1,2592.4L1524.3,2589.4L1524.6,2586.4L1524.9,2583.5L1525.1,2580.5L1525.4,2577.5L1525.7,2574.5L1525.9,2571.5L1526.2,2568.5L1526.5,2565.5L1526.8,2562.5L1527.0,2559.5L1527.3,2556.6L1527.6,2553.6L1527.9,2550.6L1528.2,2547.6L1528.5,2544.6L1528.8,2541.6L1529.1,2538.7L1529.4,2535.7L1529.8,2532.7L1530.1,2529.7L1530.4,2526.7L1530.7,2523.7L1531.1,2520.8L1531.4,2517.8L1531.8,2514.8L1532.1,2511.8L1532.5,2508.8L1532.9,2505.9L1533.2,2502.9L1533.6,2499.9L1534.0,2496.9L1534.4,2494.0L1534.9,2491.0L1535.3,2488.0L1535.8,2485.1L1536.2,2482.1L1536.7,2479.1L1537.2,2476.2L1537.7,2473.2L1538.2,2470.3L1538.8,2467.3L1539.3,2464.4L1539.8,2461.4L1540.4,2458.5L1541.0,2455.5L1541.5,2452.6L1542.1,2449.6L1542.7,2446.7L1543.2,2443.7L1543.8,2440.8L1544.4,2437.9L1545.0,2434.9L1545.6,2432.0L1546.2,2429.0L1546.8,2426.1L1547.4,2423.2L1547.9,2420.2L1548.4,2417.2L1548.8,2414.3L1549.2,2411.3L1549.6,2408.3L1550.0,2405.4L1550.6,2402.4L1551.3,2399.5L1552.2,2396.7L1553.3,2393.9L1554.6,2391.2L1556.2,2388.7L1557.9,2386.2L1559.7,2383.8L1561.5,2381.5L1563.4,2379.3L1565.7,2377.4L1568.2,2375.9L1570.9,2374.6L1573.7,2373.5L1576.5,2372.5L1579.3,2371.6L1582.2,2370.8L1585.1,2370.1L1588.1,2369.6L1591.0,2369.1L1594.0,2368.8L1597.0,2368.6L1600.0,2368.5L1603.0,2368.4L1606.0,2368.4L1609.0,2368.4L1612.0,2368.4L1615.0,2368.5L1618.0,2368.5L1621.0,2368.5L1624.0,2368.5L1627.0,2368.6L1630.0,2368.6L1633.0,2368.7L1636.0,2368.7L1639.0,2368.8L1642.0,2368.9L1645.0,2368.9L1648.0,2369.0L1651.0,2369.0L1654.0,2369.1L1657.0,2369.1L1660.0,2369.2L1663.0,2369.2L1666.0,2369.3L1669.0,2369.3L1672.0,2369.4L1675.0,2369.4L1678.0,2369.5L1681.0,2369.5L1684.0,2369.6L1687.0,2369.7L1690.0,2369.7L1693.0,2369.8L1696.0,2369.8L1699.0,2369.9L1702.0,2370.0L1705.0,2370.0L1708.0,2370.1L1711.0,2370.1L1714.0,2370.2L1717.0,2370.2L1720.0,2370.3L1723.0,2370.4L1726.0,2370.4L1729.0,2370.5L1732.0,2370.5L1735.0,2370.6L1738.0,2370.6L1741.0,2370.7L1744.0,2370.8L1747.0,2370.8L1750.0,2370.9L1753.0,2370.9L1756.0,2371.0L1759.0,2371.0L1762.0,2371.1L1765.0,2371.1L1768.0,2371.2L1771.0,2371.2L1774.0,2371.2L1777.0,2371.3L1780.0,2371.3L1783.0,2371.4L1786.0,2371.4L1789.0,2371.5L1792.0,2371.5L1795.0,2371.5L1798.0,2371.6L1801.0,2371.6L1804.0,2371.6L1807.0,2371.7L1810.0,2371.7L1813.0,2371.7L1816.0,2371.8L1819.0,2371.8L1822.0,2371.8L1825.0,2371.8L1828.0,2371.9L1831.0,2371.9L1834.0,2371.9L1837.0,2371.9L1840.0,2371.9L1843.0,2371.9L1846.0,2371.9L1849.0,2371.9L1852.0,2371.9L1855.0,2371.9L1858.0,2371.9L1861.0,2371.9L1864.0,2371.9L1867.0,2371.9L1870.0,2371.8L1873.0,2371.8L1876.0,2371.7L1879.0,2371.7L1882.0,2371.6L1885.0,2371.6L1888.0,2371.5L1891.0,2371.4L1894.0,2371.3L1897.0,2371.1L1900.0,2371.0L1903.0,2370.8L1905.9,2370.6L1908.9,2370.3L1911.9,2370.0L1914.9,2369.7L1917.9,2369.3L1920.8,2368.9L1923.8,2368.5L1926.8,2368.0L1929.7,2367.5L1932.7,2367.1L1935.7,2366.6L1938.6,2366.2L1941.6,2365.8L1944.6,2365.4L1947.6,2365.0L1950.5,2364.6L1953.5,2364.2L1956.5,2363.8L1959.5,2363.4L1962.4,2363.1L1965.4,2362.8L1968.4,2362.6L1971.4,2362.4L1974.4,2362.2L1977.4,2362.1L1980.4,2362.0L1983.4,2361.9L1986.4,2361.9L1989.4,2361.9L1992.4,2362.0L1995.4,2362.2L1998.4,2362.4L2001.4,2362.6L2004.4,2362.7L2007.4,2362.9L2010.4,2362.9L2013.4,2362.9L2016.4,2362.9L2019.4,2362.8L2022.4,2362.6L2025.4,2362.5L2028.3,2362.4L2031.3,2362.3L2034.3,2362.2L2037.3,2362.1L2040.3,2362.0L2043.3,2362.0L2046.3,2361.9L2049.3,2361.9L2052.3,2361.8L2055.3,2361.8L2058.3,2361.8L2061.3,2361.8L2064.3,2361.8L2067.3,2361.7L2070.3,2361.7L2073.3,2361.7L2076.3,2361.7L2079.3,2361.7L2082.3,2361.7L2085.3,2361.7L2088.3,2361.7L2091.3,2361.7L2094.3,2361.6L2097.3,2361.6L2100.3,2361.6L2103.3,2361.6L2106.3,2361.6L2109.3,2361.6L2112.3,2361.6L2115.3,2361.6L2118.3,2361.6L2121.3,2361.6L2124.3,2361.6L2127.3,2361.6L2130.3,2361.6L2133.3,2361.6L2136.3,2361.6L2139.3,2361.6L2142.3,2361.6L2145.3,2361.6L2148.3,2361.6L2151.3,2361.6L2154.3,2361.6L2157.3,2361.6L2160.3,2361.6L2163.3,2361.7L2166.3,2361.7L2169.3,2361.7L2172.3,2361.7L2175.3,2361.7L2178.3,2361.7L2181.3,2361.7L2184.3,2361.7L2187.3,2361.7L2190.3,2361.7L2193.3,2361.7L2196.3,2361.7L2199.3,2361.7L2202.3,2361.7L2205.3,2361.7L2208.3,2361.7L2211.3,2361.7L2214.3,2361.7L2217.3,2361.7L2220.3,2361.8L2223.3,2361.8L2226.3,2361.8L2229.3,2361.8L2232.3,2361.8L2235.3,2361.8L2238.3,2361.8L2241.3,2361.8L2244.3,2361.8L2247.3,2361.8L2250.3,2361.8L2253.3,2361.8L2256.3,2361.8L2259.3,2361.8L2262.3,2361.8L2265.3,2361.9L2268.3,2361.9L2271.3,2361.9L2274.3,2361.9L2277.3,2361.9L2280.3,2361.9L2283.3,2361.9L2286.3,2361.9L2289.3,2361.9L2292.3,2361.9L2295.3,2361.9L2298.3,2361.9L2301.3,2361.9L2304.3,2361.9L2307.3,2361.9L2310.3,2361.9L2313.3,2361.9L2316.3,2362.0L2319.3,2362.0L2322.3,2362.0L2325.3,2362.0L2328.3,2362.0L2331.3,2362.0L2334.3,2362.0L2337.3,2362.0L2340.3,2362.0L2343.3,2362.0L2346.3,2362.0L2349.3,2362.0L2352.3,2362.0L2355.3,2362.0L2358.3,2362.0L2361.3,2362.0L2364.3,2362.0L2367.3,2362.0L2368.3,2362.0" fill="none" stroke="#FF0000" stroke-width="6" stroke-linejoin="round" stroke-linecap="butt"/>
<path d="M485.0,2360.0L488.0,2360.0L491.0,2360.0L494.0,2360.0L497.0,2360.0L500.0,2360.0L503.0,2360.0L506.0,2360.0L509.0,2360.0L512.0,2360.0L515.0,2360.0L518.0,2360.0L521.0,2360.0L524.0,2360.0L527.0,2360.0L530.0,2360.0L533.0,2360.0L536.0,2360.0L539.0,2360.0L542.0,2360.1L545.0,2360.1L548.0,2360.1L551.0,2360.1L554.0,2360.1L557.0,2360.1L560.0,2360.1L563.0,2360.1L566.0,2360.1L569.0,2360.1L572.0,2360.1L575.0,2360.1L578.0,2360.1L581.0,2360.1L584.0,2360.1L587.0,2360.1L590.0,2360.1L593.0,2360.1L596.0,2360.1L599.0,2360.1L602.0,2360.1L605.0,2360.1L608.0,2360.1L611.0,2360.1L614.0,2360.1L617.0,2360.1L620.0,2360.1L623.0,2360.1L626.0,2360.1L629.0,2360.1L632.0,2360.1L635.0,2360.1L638.0,2360.1L641.0,2360.1L644.0,2360.1L647.0,2360.1L650.0,2360.1L653.0,2360.1L656.0,2360.1L659.0,2360.1L662.0,2360.1L665.0,2360.1L668.0,2360.2L671.0,2360.2L674.0,2360.2L677.0,2360.2L680.0,2360.2L683.0,2360.2L686.0,2360.2L689.0,2360.2L692.0,2360.2L695.0,2360.2L698.0,2360.2L701.0,2360.2L704.0,2360.2L707.0,2360.2L710.0,2360.2L713.0,2360.2L716.0,2360.2L719.0,2360.2L722.0,2360.2L725.0,2360.2L728.0,2360.2L731.0,2360.2L734.0,2360.2L737.0,2360.2L740.0,2360.2L743.0,2360.2L746.0,2360.2L749.0,2360.2L752.0,2360.2L755.0,2360.2L758.0,2360.2L761.0,2360.2L764.0,2360.2L767.0,2360.2L770.0,2360.2L773.0,2360.2L776.0,2360.2L779.0,2360.2L782.0,2360.2L785.0,2360.2L788.0,2360.2L791.0,2360.2L794.0,2360.3L797.0,2360.3L800.0,2360.3L803.0,2360.3L806.0,2360.3L809.0,2360.3L812.0,2360.3L815.0,2360.3L818.0,2360.3L821.0,2360.3L824.0,2360.3L827.0,2360.3L830.0,2360.3L833.0,2360.3L836.0,2360.3L839.0,2360.3L842.0,2360.3L845.0,2360.3L848.0,2360.3L851.0,2360.3L854.0,2360.3L857.0,2360.3L860.0,2360.3L863.0,2360.3L866.0,2360.3L869.0,2360.3L872.0,2360.3L875.0,2360.3L878.0,2360.3L881.0,2360.3L884.0,2360.3L887.0,2360.3L890.0,2360.3L893.0,2360.3L896.0,2360.4L899.0,2360.4L902.0,2360.4L905.0,2360.4L908.0,2360.4L911.0,2360.4L914.0,2360.4L917.0,2360.4L920.0,2360.4L923.0,2360.4L926.0,2360.4L929.0,2360.4L932.0,2360.4L935.0,2360.4L938.0,2360.4L941.0,2360.4L944.0,2360.4L947.0,2360.4L950.0,2360.4L953.0,2360.4L956.0,2360.4L959.0,2360.4L962.0,2360.4L965.0,2360.4L968.0,2360.4L971.0,2360.5L974.0,2360.5L977.0,2360.5L980.0,2360.5L983.0,2360.5L986.0,2360.5L989.0,2360.5L992.0,2360.5L995.0,2360.5L998.0,2360.5L1001.0,2360.5L1004.0,2360.5L1007.0,2360.5L1010.0,2360.5L1013.0,2360.5L1016.0,2360.5L1019.0,2360.5L1022.0,2360.5L1025.0,2360.5L1028.0,2360.5L1031.0,2360.5L1034.0,2360.5L1037.0,2360.5L1040.0,2360.5L1043.0,2360.5L1046.0,2360.5L1049.0,2360.4L1052.0,2360.4L1055.0,2360.4L1058.0,2360.4L1061.0,2360.4L1064.0,2360.4L1067.0,2360.4L1070.0,2360.4L1073.0,2360.4L1076.0,2360.3L1079.0,2360.3L1082.0,2360.3L1085.0,2360.3L1088.0,2360.3L1091.0,2360.3L1094.0,2360.3L1097.0,2360.3L1100.0,2360.3L1103.0,2360.2L1106.0,2360.2L1109.0,2360.2L1112.0,2360.2L1115.0,2360.2L1118.0,2360.2L1121.0,2360.2L1124.0,2360.2L1127.0,2360.2L1130.0,2360.2L1133.0,2360.2L1136.0,2360.3L1139.0,2360.3L1142.0,2360.3L1145.0,2360.3L1148.0,2360.3L1151.0,2360.4L1154.0,2360.4L1157.0,2360.4L1160.0,2360.5L1163.0,2360.5L1166.0,2360.6L1169.0,2360.7L1172.0,2360.7L1175.0,2360.8L1178.0,2360.9L1181.0,2361.0L1184.0,2361.2L1187.0,2361.3L1190.0,2361.4L1193.0,2361.6L1196.0,2361.7L1199.0,2361.9L1202.0,2362.1L1205.0,2362.4L1207.9,2362.6L1210.9,2362.9L1213.9,2363.3L1216.9,2363.6L1219.9,2364.0L1222.8,2364.4L1225.8,2364.8L1228.8,2365.3L1231.7,2365.8L1234.7,2366.3L1237.6,2366.8L1240.6,2367.3L1243.5,2367.9L1246.5,2368.5L1249.4,2369.1L1252.3,2369.8L1255.2,2370.5L1258.1,2371.3L1261.0,2372.1L1263.9,2373.0L1266.8,2373.9L1269.6,2374.9L1272.4,2375.9L1275.2,2377.0L1278.0,2378.1L1280.8,2379.2L1283.5,2380.3L1286.3,2381.5L1289.1,2382.6L1291.9,2383.6L1294.7,2384.6L1297.6,2385.7L1300.3,2386.8L1303.0,2388.1L1305.5,2389.7L1307.8,2391.6L1309.8,2393.7L1311.7,2396.1L1313.4,2398.5L1315.0,2401.1L1316.5,2403.6L1318.0,2406.2L1319.6,2408.8L1321.1,2411.3L1322.7,2413.9L1324.3,2416.5L1325.8,2419.0L1327.3,2421.6L1328.8,2424.3L1330.2,2426.9L1331.5,2429.6L1332.9,2432.3L1334.2,2435.0L1335.4,2437.7L1336.7,2440.4L1337.9,2443.2L1339.1,2445.9L1340.2,2448.7L1341.4,2451.5L1342.4,2454.3L1343.5,2457.1L1344.5,2459.9L1345.5,2462.7L1346.4,2465.6L1347.3,2468.5L1348.1,2471.3L1348.9,2474.2L1349.7,2477.1L1350.4,2480.0L1351.2,2482.9L1351.9,2485.8L1352.7,2488.7L1353.4,2491.6L1354.2,2494.5L1355.0,2497.4L1355.7,2500.3L1356.5,2503.2L1357.3,2506.1L1358.1,2509.0L1358.8,2511.9L1359.6,2514.8L1360.4,2517.7L1361.1,2520.6L1361.9,2523.5L1362.7,2526.4L1363.4,2529.3L1364.2,2532.3L1364.9,2535.2L1365.6,2538.1L1366.4,2541.0L1367.1,2543.9L1367.8,2546.8L1368.5,2549.7L1369.2,2552.6L1369.8,2555.6L1370.5,2558.5L1371.2,2561.4L1371.8,2564.4L1372.4,2567.3L1373.1,2570.2L1373.7,2573.2L1374.2,2576.1L1374.8,2579.0L1375.4,2582.0L1375.9,2585.0L1376.4,2587.9L1376.9,2590.9L1377.4,2593.8L1377.9,2596.8L1378.3,2599.8L1378.8,2602.7L1379.2,2605.7L1379.6,2608.7L1380.0,2611.6L1380.4,2614.6L1380.8,2617.6L1381.2,2620.6L1381.6,2623.5L1381.9,2626.5L1382.3,2629.5L1382.6,2632.5L1383.0,2635.4L1383.3,2638.4L1383.6,2641.4L1384.0,2644.4L1384.3,2647.4L1384.6,2650.4L1384.9,2653.3L1385.3,2656.3L1385.6,2659.3L1385.9,2662.3L1386.2,2665.3L1386.5,2668.3L1386.9,2671.2L1387.2,2674.2L1387.5,2677.2L1387.8,2680.2L1388.1,2683.2L1388.5,2686.2L1388.8,2689.1L1389.1,2692.1L1389.4,2695.1L1389.7,2698.1L1390.0,2701.1L1390.3,2704.1L1390.6,2707.0L1390.9,2710.0L1391.2,2713.0L1391.5,2716.0L1391.8,2719.0L1392.1,2722.0L1392.4,2725.0L1392.7,2727.9L1393.0,2730.9L1393.3,2733.9L1393.6,2736.9L1393.8,2739.9L1394.1,2742.9L1394.4,2745.9L1394.7,2748.8L1394.9,2751.8L1395.2,2754.8L1395.5,2757.8L1395.8,2760.8L1396.0,2763.8L1396.3,2766.8L1396.6,2769.8L1396.9,2772.7L1397.1,2775.7L1397.4,2778.7L1397.7,2781.7L1397.9,2784.7L1398.2,2787.7L1398.5,2790.7L1398.7,2793.7L1399.0,2796.7L1399.2,2799.6L1399.5,2802.6L1399.8,2805.6L1400.0,2808.6L1400.3,2811.6L1400.5,2814.6L1400.8,2817.6L1401.0,2820.6L1401.3,2823.6L1401.5,2826.5L1401.8,2829.5L1402.1,2832.5L1402.3,2835.5L1402.6,2838.5L1402.8,2841.5L1403.1,2844.5L1403.3,2847.5L1403.6,2850.5L1403.8,2853.4L1404.1,2856.4L1404.3,2859.4L1404.6,2862.4L1404.8,2865.4L1405.0,2868.4L1405.3,2871.4L1405.5,2874.4L1405.8,2877.4L1406.0,2880.4L1406.3,2883.3L1406.5,2886.3L1406.8,2889.3L1407.0,2892.3L1407.2,2895.3L1407.5,2898.3L1407.7,2901.3L1407.9,2904.3L1408.2,2907.3L1408.4,2910.3L1408.6,2913.3L1408.9,2916.2L1409.1,2919.2L1409.3,2922.2L1409.5,2925.2L1409.8,2928.2L1410.0,2931.2L1410.2,2934.2L1410.4,2937.2L1410.7,2940.2L1410.9,2943.2L1411.1,2946.2L1411.3,2949.1L1411.5,2952.1L1411.8,2955.1L1412.0,2958.1L1412.2,2961.1L1412.4,2964.1L1412.6,2967.1L1412.8,2970.1L1413.1,2973.1L1413.3,2976.1L1413.5,2979.1L1413.7,2982.1L1413.9,2985.1L1414.1,2988.0L1414.3,2991.0L1414.5,2994.0L1414.7,2997.0L1415.0,3000.0L1415.2,3003.0L1415.4,3006.0L1415.6,3009.0L1415.8,3012.0L1416.0,3015.0L1416.2,3018.0L1416.4,3021.0L1416.6,3024.0L1416.8,3027.0L1417.0,3029.9L1417.2,3032.9L1417.4,3035.9L1417.7,3038.9L1417.9,3041.9L1418.1,3044.9L1418.3,3047.9L1418.5,3050.9L1418.7,3053.9L1418.9,3056.9L1419.1,3059.9L1419.3,3062.9L1419.5,3065.9L1419.7,3068.9L1419.9,3071.8L1420.1,3074.8L1420.3,3077.8L1420.6,3080.8L1420.8,3083.8L1421.0,3086.8L1421.2,3089.8L1421.4,3092.8L1421.6,3095.8L1421.8,3098.8L1422.0,3101.8L1422.2,3104.8L1422.4,3107.8L1422.6,3110.8L1422.8,3113.7L1423.1,3116.7L1423.3,3119.7L1423.5,3122.7L1423.7,3125.7L1423.9,3128.7L1424.1,3131.7L1424.3,3134.7L1424.5,3137.7L1424.7,3140.7L1424.9,3143.7L1425.1,3146.7L1425.3,3149.7L1425.5,3152.7L1425.7,3155.6L1425.9,3158.6L1426.1,3161.6L1426.3,3164.6L1426.5,3167.6L1426.7,3170.6L1426.9,3173.6L1427.1,3176.6L1427.4,3179.6L1427.6,3182.6L1427.8,3185.6L1428.0,3188.6L1428.2,3191.6L1428.4,3194.6L1428.6,3197.6L1428.8,3200.5L1429.0,3203.5L1429.2,3206.5L1429.4,3209.5L1429.6,3212.5L1429.8,3215.5L1430.0,3218.5L1430.2,3221.5L1430.4,3224.5L1430.6,3227.5L1430.8,3230.5L1431.0,3233.5L1431.2,3236.5L1431.4,3239.5L1431.6,3242.5L1431.8,3245.4L1432.0,3248.4L1432.2,3251.4L1432.4,3254.4L1432.5,3257.4L1432.7,3260.4L1432.9,3263.4L1433.1,3266.4L1433.3,3269.4L1433.5,3272.4L1433.7,3275.4L1433.9,3278.4L1434.1,3281.4L1434.3,3284.4L1434.5,3287.4L1434.7,3290.4L1434.9,3293.3L1435.1,3296.3L1435.3,3299.3L1435.4,3302.3L1435.6,3305.3L1435.8,3308.3L1436.0,3311.3L1436.2,3314.3L1436.4,3317.3L1436.5,3320.3L1436.7,3323.3L1436.9,3326.3L1437.1,3329.3L1437.2,3332.3L1437.4,3335.3L1437.6,3338.3L1437.7,3341.3L1437.9,3344.3L1438.1,3347.2L1438.3,3350.2L1438.4,3353.2L1438.6,3356.2L1438.8,3359.2L1438.9,3362.2L1439.1,3365.2L1439.3,3368.2L1439.5,3371.2L1439.6,3374.2L1439.8,3377.2L1440.0,3380.2L1440.2,3383.2L1440.4,3386.2L1440.6,3389.2L1440.8,3392.2L1440.9,3395.2L1441.1,3398.2L1441.3,3401.2L1441.5,3404.1L1441.7,3407.1L1441.9,3410.1L1442.1,3413.1L1442.2,3416.1L1442.4,3419.1L1442.6,3422.1L1442.7,3425.1L1442.9,3428.1L1443.1,3431.1L1443.3,3434.1L1443.4,3437.1L1443.6,3440.1L1443.8,3443.1L1444.0,3446.1L1444.2,3449.1L1444.4,3452.1L1444.6,3455.1L1444.8,3458.0L1445.0,3461.0L1445.2,3464.0L1445.5,3467.0L1445.7,3470.0L1446.0,3473.0L1446.3,3476.0L1446.6,3479.0L1446.9,3482.0L1447.2,3484.9L1447.6,3487.9L1448.0,3490.9L1448.4,3493.8L1448.9,3496.8L1449.4,3499.8L1449.9,3502.7L1450.5,3505.7L1451.0,3508.6L1451.7,3511.6L1452.3,3514.5L1453.0,3517.4L1453.8,3520.3L1454.6,3523.2L1455.4,3526.1L1456.3,3528.9L1457.3,3531.8L1458.3,3534.6L1459.5,3537.4L1460.7,3540.1L1462.1,3542.7L1463.8,3545.1L1465.8,3547.0L1467.9,3548.1L1469.9,3547.9L1471.6,3546.4L1472.7,3544.0L1473.6,3541.2L1474.3,3538.3L1474.9,3535.3L1475.4,3532.4L1475.8,3529.4L1476.2,3526.4L1476.5,3523.5L1476.9,3520.5L1477.2,3517.5L1477.6,3514.5L1478.0,3511.5L1478.3,3508.6L1478.7,3505.6L1479.1,3502.6L1479.5,3499.6L1479.8,3496.7L1480.2,3493.7L1480.6,3490.7L1480.9,3487.7L1481.2,3484.7L1481.6,3481.8L1481.9,3478.8L1482.2,3475.8L1482.5,3472.8L1482.8,3469.8L1483.0,3466.8L1483.3,3463.8L1483.6,3460.9L1483.8,3457.9L1484.1,3454.9L1484.4,3451.9L1484.6,3448.9L1484.9,3445.9L1485.1,3442.9L1485.4,3439.9L1485.6,3436.9L1485.8,3434.0L1486.1,3431.0L1486.3,3428.0L1486.5,3425.0L1486.7,3422.0L1487.0,3419.0L1487.2,3416.0L1487.4,3413.0L1487.6,3410.0L1487.8,3407.0L1488.0,3404.0L1488.3,3401.0L1488.5,3398.0L1488.7,3395.1L1488.9,3392.1L1489.1,3389.1L1489.3,3386.1L1489.4,3383.1L1489.6,3380.1L1489.8,3377.1L1490.0,3374.1L1490.2,3371.1L1490.4,3368.1L1490.5,3365.1L1490.7,3362.1L1490.9,3359.1L1491.0,3356.1L1491.2,3353.1L1491.4,3350.1L1491.5,3347.1L1491.7,3344.1L1491.9,3341.1L1492.0,3338.2L1492.2,3335.2L1492.3,3332.2L1492.5,3329.2L1492.6,3326.2L1492.8,3323.2L1493.0,3320.2L1493.1,3317.2L1493.3,3314.2L1493.4,3311.2L1493.6,3308.2L1493.7,3305.2L1493.9,3302.2L1494.0,3299.2L1494.2,3296.2L1494.4,3293.2L1494.5,3290.2L1494.7,3287.2L1494.8,3284.2L1495.0,3281.2L1495.1,3278.2L1495.3,3275.2L1495.4,3272.2L1495.6,3269.2L1495.7,3266.2L1495.9,3263.3L1496.0,3260.3L1496.2,3257.3L1496.3,3254.3L1496.5,3251.3L1496.6,3248.3L1496.8,3245.3L1496.9,3242.3L1497.1,3239.3L1497.2,3236.3L1497.4,3233.3L1497.5,3230.3L1497.7,3227.3L1497.8,3224.3L1497.9,3221.3L1498.1,3218.3L1498.2,3215.3L1498.4,3212.3L1498.5,3209.3L1498.7,3206.3L1498.8,3203.3L1499.0,3200.3L1499.1,3197.3L1499.3,3194.3L1499.4,3191.3L1499.5,3188.3L1499.7,3185.3L1499.8,3182.3L1500.0,3179.4L1500.1,3176.4L1500.3,3173.4L1500.4,3170.4L1500.5,3167.4L1500.7,3164.4L1500.8,3161.4L1501.0,3158.4L1501.1,3155.4L1501.2,3152.4L1501.4,3149.4L1501.5,3146.4L1501.7,3143.4L1501.8,3140.4L1501.9,3137.4L1502.1,3134.4L1502.2,3131.4L1502.3,3128.4L1502.5,3125.4L1502.6,3122.4L1502.7,3119.4L1502.9,3116.4L1503.0,3113.4L1503.2,3110.4L1503.3,3107.4L1503.4,3104.4L1503.6,3101.4L1503.7,3098.4L1503.8,3095.4L1504.0,3092.4L1504.1,3089.4L1504.2,3086.5L1504.3,3083.5L1504.5,3080.5L1504.6,3077.5L1504.7,3074.5L1504.9,3071.5L1505.0,3068.5L1505.1,3065.5L1505.2,3062.5L1505.4,3059.5L1505.5,3056.5L1505.6,3053.5L1505.7,3050.5L1505.9,3047.5L1506.0,3044.5L1506.1,3041.5L1506.2,3038.5L1506.3,3035.5L1506.4,3032.5L1506.6,3029.5L1506.7,3026.5L1506.8,3023.5L1506.9,3020.5L1507.0,3017.5L1507.1,3014.5L1507.2,3011.5L1507.4,3008.5L1507.5,3005.5L1507.6,3002.5L1507.7,2999.5L1507.8,2996.5L1507.9,2993.5L1508.0,2990.5L1508.1,2987.5L1508.3,2984.5L1508.4,2981.5L1508.5,2978.5L1508.6,2975.5L1508.7,2972.5L1508.8,2969.5L1508.9,2966.5L1509.0,2963.5L1509.1,2960.5L1509.3,2957.5L1509.4,2954.6L1509.5,2951.6L1509.6,2948.6L1509.7,2945.6L1509.8,2942.6L1509.9,2939.6L1510.0,2936.6L1510.2,2933.6L1510.3,2930.6L1510.4,2927.6L1510.5,2924.6L1510.6,2921.6L1510.7,2918.6L1510.9,2915.6L1511.0,2912.6L1511.1,2909.6L1511.2,2906.6L1511.3,2903.6L1511.4,2900.6L1511.6,2897.6L1511.7,2894.6L1511.8,2891.6L1511.9,2888.6L1512.1,2885.6L1512.2,2882.6L1512.3,2879.6L1512.4,2876.6L1512.6,2873.6L1512.7,2870.6L1512.8,2867.6L1513.0,2864.6L1513.1,2861.6L1513.2,2858.6L1513.3,2855.6L1513.5,2852.6L1513.6,2849.6L1513.7,2846.6L1513.9,2843.6L1514.0,2840.6L1514.1,2837.6L1514.2,2834.7L1514.4,2831.7L1514.5,2828.7L1514.6,2825.7L1514.8,2822.7L1514.9,2819.7L1515.0,2816.7L1515.1,2813.7L1515.3,2810.7L1515.4,2807.7L1515.5,2804.7L1515.7,2801.7L1515.8,2798.7L1515.9,2795.7L1516.1,2792.7L1516.2,2789.7L1516.3,2786.7L1516.5,2783.7L1516.6,2780.7L1516.7,2777.7L1516.9,2774.7L1517.0,2771.7L1517.2,2768.7L1517.3,2765.7L1517.4,2762.7L1517.6,2759.7L1517.7,2756.7L1517.8,2753.7L1518.0,2750.7L1518.1,2747.7L1518.3,2744.7L1518.4,2741.7L1518.5,2738.7L1518.7,2735.8L1518.8,2732.8L1519.0,2729.8L1519.1,2726.8L1519.3,2723.8L1519.4,2720.8L1519.6,2717.8L1519.7,2714.8L1519.9,2711.8L1520.0,2708.8L1520.2,2705.8L1520.3,2702.8L1520.5,2699.8L1520.6,2696.8L1520.8,2693.8L1520.9,2690.8L1521.1,2687.8L1521.2,2684.8L1521.4,2681.8L1521.6,2678.8L1521.7,2675.8L1521.9,2672.8L1522.1,2669.8L1522.2,2666.8L1522.4,2663.8L1522.6,2660.9L1522.7,2657.9L1522.9,2654.9L1523.1,2651.9L1523.2,2648.9L1523.4,2645.9L1523.6,2642.9L1523.8,2639.9L1524.0,2636.9L1524.1,2633.9L1524.3,2630.9L1524.5,2627.9L1524.7,2624.9L1524.9,2621.9L1525.1,2618.9L1525.3,2615.9L1525.5,2612.9L1525.7,2609.9L1525.9,2607.0L1526.1,2604.0L1526.3,2601.0L1526.5,2598.0L1526.7,2595.0L1526.9,2592.0L1527.1,2589.0L1527.3,2586.0L1527.6,2583.0L1527.8,2580.0L1528.0,2577.0L1528.3,2574.0L1528.5,2571.0L1528.7,2568.1L1529.0,2565.1L1529.2,2562.1L1529.4,2559.1L1529.7,2556.1L1529.9,2553.1L1530.2,2550.1L1530.4,2547.1L1530.7,2544.1L1530.9,2541.1L1531.2,2538.2L1531.5,2535.2L1531.7,2532.2L1532.0,2529.2L1532.3,2526.2L1532.6,2523.2L1532.9,2520.2L1533.2,2517.3L1533.5,2514.3L1533.8,2511.3L1534.1,2508.3L1534.4,2505.3L1534.7,2502.3L1535.1,2499.4L1535.4,2496.4L1535.8,2493.4L1536.2,2490.4L1536.6,2487.4L1536.9,2484.5L1537.3,2481.5L1537.8,2478.5L1538.2,2475.6L1538.6,2472.6L1539.0,2469.6L1539.5,2466.6L1539.9,2463.7L1540.4,2460.7L1540.8,2457.8L1541.3,2454.8L1541.7,2451.8L1542.2,2448.9L1542.7,2445.9L1543.1,2442.9L1543.6,2440.0L1544.1,2437.0L1544.6,2434.1L1545.1,2431.1L1545.6,2428.1L1546.1,2425.2L1546.6,2422.2L1547.1,2419.3L1547.5,2416.3L1547.9,2413.3L1548.3,2410.3L1548.7,2407.4L1549.2,2404.4L1549.8,2401.5L1550.6,2398.6L1551.5,2395.8L1552.7,2393.0L1554.0,2390.3L1555.6,2387.8L1557.3,2385.3L1559.2,2383.0L1561.2,2380.8L1563.4,2378.8L1565.7,2376.9L1568.1,2375.2L1570.7,2373.8L1573.5,2372.5L1576.2,2371.5L1579.1,2370.5L1582.0,2369.8L1584.9,2369.2L1587.9,2368.7L1590.8,2368.4L1593.8,2368.2L1596.8,2368.0L1599.8,2368.0L1602.8,2368.0L1605.8,2368.0L1608.8,2368.0L1611.8,2368.0L1614.8,2368.0L1617.8,2368.1L1620.8,2368.1L1623.8,2368.2L1626.8,2368.3L1629.8,2368.4L1632.8,2368.5L1635.8,2368.6L1638.8,2368.7L1641.8,2368.8L1644.8,2368.9L1647.8,2368.9L1650.8,2369.0L1653.8,2369.1L1656.8,2369.1L1659.8,2369.2L1662.8,2369.2L1665.8,2369.3L1668.8,2369.3L1671.8,2369.4L1674.8,2369.4L1677.8,2369.4L1680.8,2369.5L1683.8,2369.5L1686.8,2369.6L1689.8,2369.6L1692.8,2369.6L1695.8,2369.7L1698.8,2369.7L1701.8,2369.7L1704.8,2369.8L1707.8,2369.8L1710.8,2369.8L1713.8,2369.9L1716.8,2369.9L1719.8,2370.0L1722.8,2370.0L1725.8,2370.0L1728.8,2370.1L1731.8,2370.1L1734.8,2370.1L1737.8,2370.2L1740.8,2370.2L1743.8,2370.2L1746.8,2370.3L1749.8,2370.3L1752.8,2370.3L1755.8,2370.4L1758.8,2370.4L1761.8,2370.5L1764.8,2370.5L1767.8,2370.5L1770.8,2370.6L1773.8,2370.6L1776.8,2370.7L1779.8,2370.7L1782.8,2370.7L1785.8,2370.8L1788.8,2370.8L1791.8,2370.9L1794.8,2370.9L1797.8,2371.0L1800.8,2371.0L1803.8,2371.1L1806.8,2371.1L1809.8,2371.2L1812.8,2371.2L1815.8,2371.3L1818.8,2371.4L1821.8,2371.4L1824.8,2371.5L1827.8,2371.6L1830.8,2371.7L1833.8,2371.7L1836.8,2371.8L1839.8,2371.9L1842.8,2372.0L1845.8,2372.0L1848.8,2372.1L1851.8,2372.2L1854.8,2372.3L1857.8,2372.3L1860.8,2372.4L1863.8,2372.5L1866.8,2372.5L1869.8,2372.6L1872.8,2372.7L1875.8,2372.7L1878.8,2372.8L1881.8,2372.8L1884.8,2372.9L1887.8,2372.9L1890.8,2372.9L1893.8,2373.0L1896.8,2373.0L1899.8,2373.0L1902.8,2373.0L1905.8,2373.0L1908.8,2373.0L1911.8,2373.1L1914.8,2373.1L1917.8,2373.1L1920.8,2373.1L1923.8,2373.1L1926.8,2373.1L1929.8,2373.1L1932.8,2373.1L1935.8,2373.1L1938.8,2373.1L1941.8,2373.1L1944.8,2373.1L1947.8,2373.1L1950.8,2373.0L1953.8,2373.0L1956.8,2372.9L1959.8,2372.9L1962.8,2372.8L1965.8,2372.7L1968.8,2372.6L1971.8,2372.4L1974.8,2372.3L1977.8,2372.1L1980.8,2371.9L1983.7,2371.7L1986.7,2371.5L1989.7,2371.2L1992.7,2370.9L1995.7,2370.6L1998.7,2370.2L2001.6,2369.8L2004.6,2369.5L2007.6,2369.1L2010.6,2368.7L2013.5,2368.3L2016.5,2367.8L2019.5,2367.4L2022.5,2367.0L2025.4,2366.6L2028.4,2366.2L2031.4,2365.8L2034.3,2365.4L2037.3,2364.9L2040.3,2364.5L2043.2,2364.0L2046.2,2363.6L2049.2,2363.1L2052.2,2362.8L2055.1,2362.5L2058.1,2362.2L2061.1,2362.0L2064.1,2361.8L2067.1,2361.6L2070.1,2361.5L2073.1,2361.4L2076.1,2361.4L2079.1,2361.3L2082.1,2361.3L2085.1,2361.2L2088.1,2361.2L2091.1,2361.2L2094.1,2361.2L2097.1,2361.2L2100.1,2361.2L2103.1,2361.2L2106.1,2361.3L2109.1,2361.3L2112.1,2361.3L2115.1,2361.3L2118.1,2361.4L2121.1,2361.4L2124.1,2361.4L2127.1,2361.4L2130.1,2361.5L2133.1,2361.5L2136.1,2361.5L2139.1,2361.5L2142.1,2361.5L2145.1,2361.5L2148.1,2361.5L2151.1,2361.5L2154.1,2361.5L2157.1,2361.5L2160.1,2361.5L2163.1,2361.5L2166.1,2361.5L2169.1,2361.5L2172.1,2361.5L2175.1,2361.5L2178.1,2361.4L2181.1,2361.4L2184.1,2361.4L2187.1,2361.4L2190.1,2361.4L2193.1,2361.4L2196.1,2361.4L2199.1,2361.4L2202.1,2361.4L2205.1,2361.4L2208.1,2361.4L2211.1,2361.4L2214.1,2361.4L2217.1,2361.4L2220.1,2361.4L2223.1,2361.4L2226.1,2361.4L2229.1,2361.4L2232.1,2361.4L2235.1,2361.4L2238.1,2361.4L2241.1,2361.4L2244.1,2361.4L2247.1,2361.4L2250.1,2361.4L2253.1,2361.4L2256.1,2361.4L2259.1,2361.4L2262.1,2361.4L2265.1,2361.4L2268.1,2361.4L2271.1,2361.5L2274.1,2361.5L2277.1,2361.5L2280.1,2361.5L2283.1,2361.5L2286.1,2361.5L2289.1,2361.5L2292.1,2361.5L2295.1,2361.5L2298.1,2361.5L2301.1,2361.5L2304.1,2361.5L2307.1,2361.5L2310.1,2361.5L2313.1,2361.5L2316.1,2361.5L2319.1,2361.5L2322.1,2361.5L2325.1,2361.5L2328.1,2361.5L2331.1,2361.5L2334.1,2361.5L2337.1,2361.5L2340.1,2361.5L2343.1,2361.5L2346.1,2361.5L2349.1,2361.5L2352.1,2361.5L2355.1,2361.5L2358.1,2361.5L2361.1,2361.5L2364.1,2361.5L2367.1,2361.5L2368.1,2361.5" fill="none" stroke="#000080" stroke-width="6" stroke-linejoin="round" stroke-linecap="butt"/>
<path d="M485.0,2362.0L488.0,2362.0L491.0,2362.0L494.0,2362.0L497.0,2362.0L500.0,2362.0L503.0,2362.0L506.0,2362.0L509.0,2362.0L512.0,2362.0L515.0,2362.0L518.0,2362.0L521.0,2362.0L524.0,2362.0L527.0,2362.0L530.0,2362.0L533.0,2362.0L536.0,2362.0L539.0,2362.0L542.0,2362.0L545.0,2362.0L548.0,2362.0L551.0,2362.0L554.0,2362.0L557.0,2362.0L560.0,2362.0L563.0,2362.0L566.0,2362.0L569.0,2362.0L572.0,2362.0L575.0,2362.0L578.0,2362.0L581.0,2362.0L584.0,2362.0L587.0,2361.9L590.0,2361.9L593.0,2361.9L596.0,2361.9L599.0,2361.9L602.0,2361.9L605.0,2361.9L608.0,2361.9L611.0,2361.9L614.0,2361.9L617.0,2361.9L620.0,2361.9L623.0,2361.9L626.0,2361.9L629.0,2361.9L632.0,2361.9L635.0,2361.9L638.0,2361.9L641.0,2361.9L644.0,2361.9L647.0,2361.9L650.0,2361.9L653.0,2361.9L656.0,2361.9L659.0,2361.9L662.0,2361.9L665.0,2361.9L668.0,2361.9L671.0,2361.9L674.0,2361.9L677.0,2361.9L680.0,2361.9L683.0,2361.9L686.0,2361.8L689.0,2361.8L692.0,2361.8L695.0,2361.8L698.0,2361.8L701.0,2361.8L704.0,2361.8L707.0,2361.8L710.0,2361.8L713.0,2361.8L716.0,2361.8L719.0,2361.8L722.0,2361.8L725.0,2361.8L728.0,2361.8L731.0,2361.8L734.0,2361.8L737.0,2361.8L740.0,2361.8L743.0,2361.8L746.0,2361.8L749.0,2361.8L752.0,2361.8L755.0,2361.8L758.0,2361.8L761.0,2361.8L764.0,2361.8L767.0,2361.8L770.0,2361.8L773.0,2361.8L776.0,2361.8L779.0,2361.8L782.0,2361.8L785.0,2361.8L788.0,2361.8L791.0,2361.8L794.0,2361.8L797.0,2361.8L800.0,2361.8L803.0,2361.8L806.0,2361.8L809.0,2361.7L812.0,2361.7L815.0,2361.7L818.0,2361.7L821.0,2361.7L824.0,2361.7L827.0,2361.7L830.0,2361.7L833.0,2361.7L836.0,2361.7L839.0,2361.7L842.0,2361.7L845.0,2361.7L848.0,2361.7L851.0,2361.7L854.0,2361.7L857.0,2361.7L860.0,2361.7L863.0,2361.7L866.0,2361.7L869.0,2361.7L872.0,2361.7L875.0,2361.7L878.0,2361.8L881.0,2361.8L884.0,2361.8L887.0,2361.8L890.0,2361.8L893.0,2361.8L896.0,2361.8L899.0,2361.8L902.0,2361.8L905.0,2361.8L908.0,2361.8L911.0,2361.8L914.0,2361.8L917.0,2361.8L920.0,2361.8L923.0,2361.8L926.0,2361.8L929.0,2361.8L932.0,2361.8L935.0,2361.8L938.0,2361.8L941.0,2361.8L944.0,2361.8L947.0,2361.8L950.0,2361.8L953.0,2361.9L956.0,2361.9L959.0,2361.9L962.0,2361.9L965.0,2361.9L968.0,2361.9L971.0,2361.9L974.0,2361.9L977.0,2361.9L980.0,2361.9L983.0,2361.9L986.0,2361.9L989.0,2362.0L992.0,2362.0L995.0,2362.0L998.0,2362.0L1001.0,2362.0L1004.0,2362.0L1007.0,2362.0L1010.0,2362.0L1013.0,2362.0L1016.0,2362.0L1019.0,2362.0L1022.0,2362.0L1025.0,2362.0L1028.0,2362.0L1031.0,2362.0L1034.0,2362.0L1037.0,2362.0L1040.0,2361.9L1043.0,2361.9L1046.0,2361.9L1049.0,2361.9L1052.0,2361.9L1055.0,2361.8L1058.0,2361.8L1061.0,2361.8L1064.0,2361.8L1067.0,2361.7L1070.0,2361.7L1073.0,2361.7L1076.0,2361.6L1079.0,2361.6L1082.0,2361.6L1085.0,2361.6L1088.0,2361.5L1091.0,2361.5L1094.0,2361.5L1097.0,2361.4L1100.0,2361.4L1103.0,2361.4L1106.0,2361.3L1109.0,2361.3L1112.0,2361.3L1115.0,2361.2L1118.0,2361.2L1121.0,2361.2L1124.0,2361.2L1127.0,2361.1L1130.0,2361.1L1133.0,2361.1L1136.0,2361.1L1139.0,2361.0L1142.0,2361.0L1145.0,2361.0L1148.0,2361.0L1151.0,2361.0L1154.0,2361.0L1157.0,2361.0L1160.0,2361.0L1163.0,2361.0L1166.0,2361.0L1169.0,2361.0L1172.0,2361.0L1175.0,2361.0L1178.0,2361.0L1181.0,2361.1L1184.0,2361.1L1187.0,2361.2L1190.0,2361.2L1193.0,2361.3L1196.0,2361.3L1199.0,2361.4L1202.0,2361.5L1205.0,2361.6L1208.0,2361.7L1211.0,2361.8L1214.0,2361.9L1217.0,2362.1L1220.0,2362.2L1223.0,2362.4L1226.0,2362.6L1229.0,2362.9L1231.9,2363.1L1234.9,2363.4L1237.9,2363.8L1240.9,2364.2L1243.8,2364.6L1246.8,2365.1L1249.7,2365.7L1252.7,2366.4L1255.6,2367.2L1258.4,2368.0L1261.3,2368.9L1264.1,2369.9L1266.9,2370.9L1269.8,2371.9L1272.6,2373.0L1275.3,2374.1L1278.1,2375.3L1280.8,2376.5L1283.6,2377.8L1286.3,2379.0L1289.0,2380.3L1291.7,2381.5L1294.5,2382.7L1297.3,2383.8L1300.1,2384.9L1302.9,2385.9L1305.7,2386.9L1308.5,2388.0L1311.3,2389.3L1313.9,2390.6L1316.6,2392.0L1319.2,2393.5L1321.8,2395.0L1324.4,2396.5L1326.9,2398.1L1329.4,2399.8L1331.9,2401.5L1334.3,2403.3L1336.6,2405.1L1338.9,2407.1L1341.0,2409.2L1342.9,2411.5L1344.7,2413.9L1346.3,2416.4L1347.8,2419.0L1349.1,2421.7L1350.4,2424.4L1351.6,2427.1L1353.0,2429.8L1354.3,2432.5L1355.7,2435.2L1357.0,2437.8L1358.4,2440.5L1359.8,2443.2L1361.1,2445.9L1362.4,2448.6L1363.7,2451.3L1364.9,2454.0L1366.1,2456.8L1367.3,2459.5L1368.4,2462.3L1369.4,2465.1L1370.5,2467.9L1371.5,2470.8L1372.4,2473.6L1373.3,2476.5L1374.2,2479.3L1375.0,2482.2L1375.8,2485.1L1376.5,2488.0L1377.2,2490.9L1377.9,2493.9L1378.5,2496.8L1379.1,2499.7L1379.7,2502.7L1380.3,2505.6L1380.9,2508.6L1381.4,2511.5L1381.9,2514.5L1382.4,2517.4L1383.0,2520.4L1383.5,2523.3L1383.9,2526.3L1384.4,2529.3L1384.9,2532.2L1385.4,2535.2L1385.8,2538.2L1386.3,2541.1L1386.7,2544.1L1387.2,2547.0L1387.6,2550.0L1388.1,2553.0L1388.5,2556.0L1389.0,2558.9L1389.4,2561.9L1389.8,2564.9L1390.3,2567.8L1390.7,2570.8L1391.1,2573.8L1391.5,2576.7L1392.0,2579.7L1392.4,2582.7L1392.8,2585.6L1393.2,2588.6L1393.6,2591.6L1394.0,2594.6L1394.4,2597.5L1394.8,2600.5L1395.2,2603.5L1395.6,2606.5L1396.0,2609.4L1396.4,2612.4L1396.8,2615.4L1397.2,2618.4L1397.5,2621.3L1397.9,2624.3L1398.2,2627.3L1398.6,2630.3L1399.0,2633.2L1399.3,2636.2L1399.6,2639.2L1400.0,2642.2L1400.3,2645.2L1400.7,2648.1L1401.0,2651.1L1401.3,2654.1L1401.6,2657.1L1401.9,2660.1L1402.3,2663.1L1402.6,2666.0L1402.9,2669.0L1403.2,2672.0L1403.5,2675.0L1403.8,2678.0L1404.1,2681.0L1404.4,2684.0L1404.7,2686.9L1405.0,2689.9L1405.2,2692.9L1405.5,2695.9L1405.8,2698.9L1406.1,2701.9L1406.3,2704.9L1406.6,2707.9L1406.9,2710.8L1407.1,2713.8L1407.4,2716.8L1407.6,2719.8L1407.9,2722.8L1408.1,2725.8L1408.4,2728.8L1408.6,2731.8L1408.9,2734.8L1409.1,2737.7L1409.4,2740.7L1409.6,2743.7L1409.8,2746.7L1410.1,2749.7L1410.3,2752.7L1410.6,2755.7L1410.8,2758.7L1411.0,2761.7L1411.3,2764.7L1411.5,2767.7L1411.7,2770.6L1411.9,2773.6L1412.2,2776.6L1412.4,2779.6L1412.6,2782.6L1412.9,2785.6L1413.1,2788.6L1413.3,2791.6L1413.5,2794.6L1413.8,2797.6L1414.0,2800.6L1414.2,2803.6L1414.4,2806.5L1414.7,2809.5L1414.9,2812.5L1415.1,2815.5L1415.3,2818.5L1415.5,2821.5L1415.8,2824.5L1416.0,2827.5L1416.2,2830.5L1416.4,2833.5L1416.7,2836.5L1416.9,2839.5L1417.1,2842.4L1417.3,2845.4L1417.6,2848.4L1417.8,2851.4L1418.0,2854.4L1418.3,2857.4L1418.5,2860.4L1418.7,2863.4L1418.9,2866.4L1419.2,2869.4L1419.4,2872.4L1419.6,2875.3L1419.9,2878.3L1420.1,2881.3L1420.3,2884.3L1420.6,2887.3L1420.8,2890.3L1421.0,2893.3L1421.3,2896.3L1421.5,2899.3L1421.8,2902.3L1422.0,2905.3L1422.2,2908.2L1422.5,2911.2L1422.7,2914.2L1422.9,2917.2L1423.2,2920.2L1423.4,2923.2L1423.7,2926.2L1423.9,2929.2L1424.1,2932.2L1424.4,2935.2L1424.6,2938.1L1424.8,2941.1L1425.1,2944.1L1425.3,2947.1L1425.5,2950.1L1425.8,2953.1L1426.0,2956.1L1426.3,2959.1L1426.5,2962.1L1426.7,2965.1L1427.0,2968.1L1427.2,2971.0L1427.4,2974.0L1427.7,2977.0L1427.9,2980.0L1428.1,2983.0L1428.4,2986.0L1428.6,2989.0L1428.8,2992.0L1429.1,2995.0L1429.3,2998.0L1429.5,3001.0L1429.8,3003.9L1430.0,3006.9L1430.2,3009.9L1430.5,3012.9L1430.7,3015.9L1430.9,3018.9L1431.2,3021.9L1431.4,3024.9L1431.6,3027.9L1431.8,3030.9L1432.1,3033.9L1432.3,3036.9L1432.5,3039.8L1432.7,3042.8L1433.0,3045.8L1433.2,3048.8L1433.4,3051.8L1433.6,3054.8L1433.9,3057.8L1434.1,3060.8L1434.3,3063.8L1434.5,3066.8L1434.7,3069.8L1435.0,3072.8L1435.2,3075.7L1435.4,3078.7L1435.6,3081.7L1435.8,3084.7L1436.1,3087.7L1436.3,3090.7L1436.5,3093.7L1436.7,3096.7L1436.9,3099.7L1437.1,3102.7L1437.3,3105.7L1437.5,3108.7L1437.7,3111.7L1437.9,3114.6L1438.1,3117.6L1438.3,3120.6L1438.5,3123.6L1438.7,3126.6L1438.9,3129.6L1439.1,3132.6L1439.3,3135.6L1439.5,3138.6L1439.7,3141.6L1439.9,3144.6L1440.1,3147.6L1440.3,3150.6L1440.5,3153.6L1440.7,3156.6L1440.9,3159.5L1441.1,3162.5L1441.3,3165.5L1441.5,3168.5L1441.7,3171.5L1441.8,3174.5L1442.0,3177.5L1442.2,3180.5L1442.4,3183.5L1442.6,3186.5L1442.8,3189.5L1443.0,3192.5L1443.2,3195.5L1443.4,3198.5L1443.6,3201.5L1443.8,3204.5L1444.0,3207.4L1444.2,3210.4L1444.4,3213.4L1444.6,3216.4L1444.8,3219.4L1445.0,3222.4L1445.1,3225.4L1445.3,3228.4L1445.5,3231.4L1445.7,3234.4L1445.9,3237.4L1446.1,3240.4L1446.3,3243.4L1446.5,3246.4L1446.8,3249.4L1447.0,3252.4L1447.2,3255.3L1447.4,3258.3L1447.6,3261.3L1447.8,3264.3L1448.0,3267.3L1448.2,3270.3L1448.4,3273.3L1448.7,3276.3L1448.9,3279.3L1449.1,3282.3L1449.3,3285.3L1449.6,3288.3L1449.8,3291.2L1450.0,3294.2L1450.3,3297.2L1450.5,3300.2L1450.8,3303.2L1451.0,3306.2L1451.3,3309.2L1451.5,3312.2L1451.8,3315.2L1452.1,3318.2L1452.3,3321.1L1452.6,3324.1L1452.9,3327.1L1453.2,3330.1L1453.4,3333.1L1453.7,3336.1L1454.0,3339.1L1454.3,3342.0L1454.6,3345.0L1454.9,3348.0L1455.2,3351.0L1455.5,3354.0L1455.8,3357.0L1456.1,3360.0L1456.5,3362.9L1456.8,3365.9L1457.1,3368.9L1457.4,3371.9L1457.7,3374.9L1458.1,3377.8L1458.4,3380.8L1458.7,3383.8L1459.1,3386.8L1459.4,3389.8L1459.7,3392.8L1460.1,3395.7L1460.4,3398.7L1460.8,3401.7L1461.1,3404.7L1461.5,3407.7L1461.8,3410.6L1462.2,3413.6L1462.5,3416.6L1462.9,3419.6L1463.3,3422.5L1463.6,3425.5L1464.0,3428.5L1464.4,3431.5L1464.7,3434.5L1465.1,3437.4L1465.5,3440.4L1465.8,3443.4L1466.2,3446.4L1466.6,3449.3L1466.9,3452.3L1467.3,3455.3L1467.7,3458.3L1468.0,3461.3L1468.4,3464.2L1468.8,3467.2L1469.1,3470.2L1469.4,3473.2L1469.8,3476.2L1470.1,3479.1L1470.5,3482.1L1470.8,3485.1L1471.2,3488.1L1471.6,3491.0L1472.0,3494.0L1472.4,3497.0L1472.9,3500.0L1473.3,3502.9L1473.9,3505.9L1474.3,3508.8L1474.8,3511.8L1475.4,3514.7L1476.0,3517.7L1476.7,3520.4L1477.8,3522.6L1479.3,3523.7L1481.0,3523.2L1482.7,3521.5L1484.2,3519.1L1485.6,3516.5L1486.8,3513.7L1487.9,3511.0L1488.9,3508.1L1489.8,3505.3L1490.7,3502.4L1491.5,3499.5L1492.3,3496.6L1493.1,3493.7L1493.8,3490.8L1494.5,3487.9L1495.2,3485.0L1495.8,3482.0L1496.3,3479.1L1496.9,3476.1L1497.4,3473.2L1497.8,3470.2L1498.2,3467.2L1498.6,3464.3L1498.9,3461.3L1499.2,3458.3L1499.5,3455.3L1499.8,3452.3L1500.0,3449.3L1500.2,3446.3L1500.4,3443.4L1500.6,3440.4L1500.8,3437.4L1501.0,3434.4L1501.1,3431.4L1501.3,3428.4L1501.5,3425.4L1501.6,3422.4L1501.8,3419.4L1501.9,3416.4L1502.1,3413.4L1502.2,3410.4L1502.4,3407.4L1502.5,3404.4L1502.7,3401.4L1502.9,3398.4L1503.0,3395.4L1503.2,3392.4L1503.4,3389.4L1503.5,3386.4L1503.7,3383.4L1503.9,3380.4L1504.0,3377.5L1504.2,3374.5L1504.3,3371.5L1504.5,3368.5L1504.6,3365.5L1504.8,3362.5L1504.9,3359.5L1505.1,3356.5L1505.2,3353.5L1505.3,3350.5L1505.5,3347.5L1505.6,3344.5L1505.8,3341.5L1505.9,3338.5L1506.1,3335.5L1506.2,3332.5L1506.3,3329.5L1506.5,3326.5L1506.6,3323.5L1506.8,3320.5L1506.9,3317.5L1507.1,3314.5L1507.2,3311.5L1507.4,3308.5L1507.5,3305.5L1507.7,3302.5L1507.8,3299.5L1508.0,3296.5L1508.1,3293.6L1508.3,3290.6L1508.5,3287.6L1508.6,3284.6L1508.8,3281.6L1508.9,3278.6L1509.1,3275.6L1509.3,3272.6L1509.4,3269.6L1509.6,3266.6L1509.7,3263.6L1509.9,3260.6L1510.1,3257.6L1510.2,3254.6L1510.4,3251.6L1510.6,3248.6L1510.7,3245.6L1510.9,3242.6L1511.1,3239.6L1511.2,3236.6L1511.4,3233.6L1511.6,3230.6L1511.7,3227.6L1511.9,3224.7L1512.1,3221.7L1512.2,3218.7L1512.4,3215.7L1512.6,3212.7L1512.7,3209.7L1512.9,3206.7L1513.1,3203.7L1513.2,3200.7L1513.4,3197.7L1513.5,3194.7L1513.7,3191.7L1513.9,3188.7L1514.0,3185.7L1514.2,3182.7L1514.4,3179.7L1514.5,3176.7L1514.7,3173.7L1514.9,3170.7L1515.0,3167.7L1515.2,3164.7L1515.3,3161.7L1515.5,3158.8L1515.7,3155.8L1515.8,3152.8L1516.0,3149.8L1516.1,3146.8L1516.3,3143.8L1516.5,3140.8L1516.6,3137.8L1516.8,3134.8L1516.9,3131.8L1517.1,3128.8L1517.2,3125.8L1517.4,3122.8L1517.6,3119.8L1517.7,3116.8L1517.9,3113.8L1518.0,3110.8L1518.2,3107.8L1518.3,3104.8L1518.5,3101.8L1518.6,3098.8L1518.7,3095.8L1518.9,3092.8L1519.0,3089.8L1519.2,3086.8L1519.3,3083.9L1519.5,3080.9L1519.6,3077.9L1519.7,3074.9L1519.9,3071.9L1520.0,3068.9L1520.1,3065.9L1520.3,3062.9L1520.4,3059.9L1520.5,3056.9L1520.7,3053.9L1520.8,3050.9L1520.9,3047.9L1521.0,3044.9L1521.2,3041.9L1521.3,3038.9L1521.4,3035.9L1521.5,3032.9L1521.6,3029.9L1521.8,3026.9L1521.9,3023.9L1522.0,3020.9L1522.1,3017.9L1522.2,3014.9L1522.4,3011.9L1522.5,3008.9L1522.6,3005.9L1522.7,3002.9L1522.8,2999.9L1522.9,2996.9L1523.0,2993.9L1523.2,2990.9L1523.3,2987.9L1523.4,2984.9L1523.5,2981.9L1523.6,2978.9L1523.7,2975.9L1523.8,2972.9L1523.9,2969.9L1524.0,2966.9L1524.2,2963.9L1524.3,2961.0L1524.4,2958.0L1524.5,2955.0L1524.6,2952.0L1524.7,2949.0L1524.8,2946.0L1524.9,2943.0L1525.0,2940.0L1525.2,2937.0L1525.3,2934.0L1525.4,2931.0L1525.5,2928.0L1525.6,2925.0L1525.7,2922.0L1525.8,2919.0L1526.0,2916.0L1526.1,2913.0L1526.2,2910.0L1526.3,2907.0L1526.4,2904.0L1526.5,2901.0L1526.7,2898.0L1526.8,2895.0L1526.9,2892.0L1527.0,2889.0L1527.1,2886.0L1527.3,2883.0L1527.4,2880.0L1527.5,2877.0L1527.7,2874.0L1527.8,2871.0L1527.9,2868.0L1528.0,2865.0L1528.2,2862.0L1528.3,2859.0L1528.4,2856.0L1528.5,2853.0L1528.7,2850.0L1528.8,2847.0L1528.9,2844.0L1529.0,2841.0L1529.2,2838.0L1529.3,2835.1L1529.4,2832.1L1529.6,2829.1L1529.7,2826.1L1529.8,2823.1L1529.9,2820.1L1530.1,2817.1L1530.2,2814.1L1530.3,2811.1L1530.5,2808.1L1530.6,2805.1L1530.7,2802.1L1530.8,2799.1L1531.0,2796.1L1531.1,2793.1L1531.2,2790.1L1531.4,2787.1L1531.5,2784.1L1531.6,2781.1L1531.8,2778.1L1531.9,2775.1L1532.0,2772.1L1532.2,2769.1L1532.3,2766.1L1532.4,2763.1L1532.6,2760.1L1532.7,2757.1L1532.8,2754.1L1533.0,2751.1L1533.1,2748.1L1533.2,2745.1L1533.4,2742.1L1533.5,2739.1L1533.6,2736.1L1533.8,2733.1L1533.9,2730.2L1534.1,2727.2L1534.2,2724.2L1534.3,2721.2L1534.5,2718.2L1534.6,2715.2L1534.8,2712.2L1534.9,2709.2L1535.1,2706.2L1535.2,2703.2L1535.4,2700.2L1535.5,2697.2L1535.7,2694.2L1535.8,2691.2L1536.0,2688.2L1536.1,2685.2L1536.3,2682.2L1536.4,2679.2L1536.6,2676.2L1536.8,2673.2L1536.9,2670.2L1537.1,2667.2L1537.2,2664.2L1537.4,2661.2L1537.5,2658.2L1537.7,2655.2L1537.9,2652.3L1538.0,2649.3L1538.2,2646.3L1538.4,2643.3L1538.5,2640.3L1538.7,2637.3L1538.8,2634.3L1539.0,2631.3L1539.2,2628.3L1539.4,2625.3L1539.5,2622.3L1539.7,2619.3L1539.9,2616.3L1540.1,2613.3L1540.3,2610.3L1540.5,2607.3L1540.7,2604.3L1540.9,2601.3L1541.1,2598.4L1541.3,2595.4L1541.5,2592.4L1541.8,2589.4L1542.0,2586.4L1542.2,2583.4L1542.5,2580.4L1542.7,2577.4L1543.0,2574.4L1543.2,2571.4L1543.5,2568.4L1543.8,2565.5L1544.1,2562.5L1544.3,2559.5L1544.6,2556.5L1544.9,2553.5L1545.2,2550.5L1545.5,2547.5L1545.9,2544.6L1546.2,2541.6L1546.5,2538.6L1546.8,2535.6L1547.1,2532.6L1547.5,2529.6L1547.8,2526.7L1548.1,2523.7L1548.4,2520.7L1548.8,2517.7L1549.1,2514.7L1549.5,2511.8L1549.8,2508.8L1550.1,2505.8L1550.5,2502.8L1550.8,2499.8L1551.2,2496.9L1551.5,2493.9L1551.8,2490.9L1552.2,2487.9L1552.5,2484.9L1552.8,2482.0L1553.2,2479.0L1553.5,2476.0L1553.9,2473.0L1554.2,2470.0L1554.6,2467.1L1555.0,2464.1L1555.4,2461.1L1555.8,2458.1L1556.2,2455.2L1556.7,2452.2L1557.1,2449.2L1557.6,2446.3L1558.1,2443.3L1558.6,2440.4L1559.1,2437.4L1559.7,2434.5L1560.2,2431.5L1560.9,2428.6L1561.6,2425.7L1562.3,2422.8L1563.1,2419.9L1564.0,2417.0L1565.0,2414.2L1566.0,2411.4L1567.1,2408.6L1568.3,2405.8L1569.6,2403.1L1570.9,2400.4L1572.3,2397.8L1573.9,2395.2L1575.6,2392.8L1577.5,2390.4L1579.5,2388.3L1581.7,2386.2L1583.9,2384.2L1586.2,2382.3L1588.6,2380.5L1591.1,2378.8L1593.7,2377.3L1596.3,2376.0L1599.1,2374.9L1601.9,2374.0L1604.8,2373.2L1607.8,2372.6L1610.7,2372.2L1613.7,2371.8L1616.7,2371.6L1619.7,2371.4L1622.7,2371.3L1625.7,2371.2L1628.7,2371.1L1631.7,2371.0L1634.7,2370.9L1637.7,2370.8L1640.7,2370.7L1643.7,2370.7L1646.7,2370.7L1649.7,2370.7L1652.7,2370.7L1655.7,2370.7L1658.7,2370.7L1661.7,2370.7L1664.7,2370.7L1667.7,2370.7L1670.7,2370.8L1673.7,2370.8L1676.7,2370.8L1679.7,2370.8L1682.7,2370.9L1685.7,2370.9L1688.7,2370.9L1691.7,2370.9L1694.7,2371.0L1697.7,2371.0L1700.7,2371.0L1703.7,2371.0L1706.7,2371.0L1709.7,2371.1L1712.7,2371.1L1715.7,2371.1L1718.7,2371.1L1721.7,2371.2L1724.7,2371.2L1727.7,2371.2L1730.7,2371.3L1733.7,2371.3L1736.7,2371.3L1739.7,2371.4L1742.7,2371.4L1745.7,2371.4L1748.7,2371.5L1751.7,2371.5L1754.7,2371.5L1757.7,2371.6L1760.7,2371.6L1763.7,2371.7L1766.7,2371.7L1769.7,2371.7L1772.7,2371.8L1775.7,2371.8L1778.7,2371.9L1781.7,2371.9L1784.7,2371.9L1787.7,2372.0L1790.7,2372.0L1793.7,2372.0L1796.7,2372.1L1799.7,2372.1L1802.7,2372.2L1805.7,2372.2L1808.7,2372.2L1811.7,2372.3L1814.7,2372.3L1817.7,2372.3L1820.7,2372.4L1823.7,2372.4L1826.7,2372.5L1829.7,2372.5L1832.7,2372.5L1835.7,2372.6L1838.7,2372.6L1841.7,2372.6L1844.7,2372.7L1847.7,2372.7L1850.7,2372.7L1853.7,2372.7L1856.7,2372.8L1859.7,2372.8L1862.7,2372.8L1865.7,2372.9L1868.7,2372.9L1871.7,2372.9L1874.7,2372.9L1877.7,2372.9L1880.7,2373.0L1883.7,2373.0L1886.7,2373.0L1889.7,2373.0L1892.7,2373.0L1895.7,2373.0L1898.7,2373.0L1901.7,2373.0L1904.7,2373.0L1907.7,2373.0L1910.7,2373.0L1913.7,2373.0L1916.7,2373.0L1919.7,2373.0L1922.7,2373.0L1925.7,2373.1L1928.7,2373.1L1931.7,2373.1L1934.7,2373.1L1937.7,2373.1L1940.7,2373.1L1943.7,2373.1L1946.7,2373.0L1949.7,2373.0L1952.7,2373.0L1955.7,2372.9L1958.7,2372.9L1961.7,2372.8L1964.7,2372.7L1967.7,2372.6L1970.7,2372.5L1973.7,2372.3L1976.6,2372.2L1979.6,2372.0L1982.6,2371.8L1985.6,2371.5L1988.6,2371.3L1991.6,2371.0L1994.6,2370.7L1997.6,2370.3L2000.5,2370.0L2003.5,2369.6L2006.5,2369.2L2009.5,2368.8L2012.4,2368.4L2015.4,2368.0L2018.4,2367.6L2021.4,2367.2L2024.3,2366.8L2027.3,2366.4L2030.3,2365.9L2033.2,2365.5L2036.2,2365.1L2039.2,2364.6L2042.1,2364.1L2045.1,2363.6L2048.1,2363.2L2051.0,2362.8L2054.0,2362.5L2057.0,2362.3L2060.0,2362.0L2063.0,2361.8L2066.0,2361.7L2069.0,2361.5L2072.0,2361.4L2075.0,2361.3L2078.0,2361.2L2081.0,2361.1L2084.0,2361.1L2087.0,2361.0L2090.0,2360.9L2093.0,2360.9L2096.0,2360.8L2099.0,2360.8L2102.0,2360.7L2105.0,2360.7L2108.0,2360.7L2111.0,2360.7L2114.0,2360.6L2117.0,2360.6L2120.0,2360.6L2123.0,2360.6L2126.0,2360.6L2129.0,2360.6L2132.0,2360.6L2135.0,2360.6L2138.0,2360.6L2141.0,2360.6L2144.0,2360.6L2147.0,2360.6L2150.0,2360.6L2153.0,2360.6L2156.0,2360.6L2159.0,2360.6L2162.0,2360.6L2165.0,2360.6L2168.0,2360.6L2171.0,2360.6L2174.0,2360.7L2177.0,2360.7L2180.0,2360.7L2183.0,2360.7L2186.0,2360.7L2189.0,2360.7L2192.0,2360.8L2195.0,2360.8L2198.0,2360.8L2201.0,2360.8L2204.0,2360.9L2207.0,2360.9L2210.0,2360.9L2213.0,2360.9L2216.0,2360.9L2219.0,2361.0L2222.0,2361.0L2225.0,2361.0L2228.0,2361.0L2231.0,2361.1L2234.0,2361.1L2237.0,2361.1L2240.0,2361.2L2243.0,2361.2L2246.0,2361.2L2249.0,2361.2L2252.0,2361.3L2255.0,2361.3L2258.0,2361.3L2261.0,2361.3L2264.0,2361.4L2267.0,2361.4L2270.0,2361.4L2273.0,2361.4L2276.0,2361.5L2279.0,2361.5L2282.0,2361.5L2285.0,2361.6L2288.0,2361.6L2291.0,2361.6L2294.0,2361.6L2297.0,2361.6L2300.0,2361.7L2303.0,2361.7L2306.0,2361.7L2309.0,2361.7L2312.0,2361.8L2315.0,2361.8L2318.0,2361.8L2321.0,2361.8L2324.0,2361.8L2327.0,2361.9L2330.0,2361.9L2333.0,2361.9L2336.0,2361.9L2339.0,2361.9L2342.0,2361.9L2345.0,2361.9L2348.0,2362.0L2351.0,2362.0L2354.0,2362.0L2357.0,2362.0L2360.0,2362.0L2363.0,2362.0L2366.0,2362.0L2369.0,2362.0" fill="none" stroke="#008000" stroke-width="6" stroke-linejoin="round" stroke-linecap="butt"/>
<path d="M485.0,2366.0L488.0,2366.0L491.0,2366.0L494.0,2366.0L497.0,2366.0L500.0,2366.0L503.0,2366.0L506.0,2366.0L509.0,2366.0L512.0,2366.0L515.0,2366.0L518.0,2366.0L521.0,2366.0L524.0,2366.0L527.0,2366.0L530.0,2366.0L533.0,2366.0L536.0,2366.0L539.0,2366.0L542.0,2366.0L545.0,2366.0L548.0,2366.0L551.0,2366.0L554.0,2366.0L557.0,2366.1L560.0,2366.1L563.0,2366.1L566.0,2366.1L569.0,2366.1L572.0,2366.1L575.0,2366.1L578.0,2366.1L581.0,2366.1L584.0,2366.1L587.0,2366.1L590.0,2366.1L593.0,2366.1L596.0,2366.1L599.0,2366.1L602.0,2366.1L605.0,2366.1L608.0,2366.1L611.0,2366.1L614.0,2366.1L617.0,2366.1L620.0,2366.1L623.0,2366.2L626.0,2366.2L629.0,2366.2L632.0,2366.2L635.0,2366.2L638.0,2366.2L641.0,2366.2L644.0,2366.2L647.0,2366.2L650.0,2366.2L653.0,2366.2L656.0,2366.2L659.0,2366.2L662.0,2366.2L665.0,2366.2L668.0,2366.2L671.0,2366.2L674.0,2366.3L677.0,2366.3L680.0,2366.3L683.0,2366.3L686.0,2366.3L689.0,2366.3L692.0,2366.3L695.0,2366.3L698.0,2366.3L701.0,2366.3L704.0,2366.3L707.0,2366.3L710.0,2366.3L713.0,2366.3L716.0,2366.3L719.0,2366.3L722.0,2366.3L725.0,2366.3L728.0,2366.3L731.0,2366.4L734.0,2366.4L737.0,2366.4L740.0,2366.4L743.0,2366.4L746.0,2366.4L749.0,2366.4L752.0,2366.4L755.0,2366.4L758.0,2366.4L761.0,2366.4L764.0,2366.4L767.0,2366.4L770.0,2366.4L773.0,2366.4L776.0,2366.4L779.0,2366.4L782.0,2366.4L785.0,2366.4L788.0,2366.4L791.0,2366.4L794.0,2366.4L797.0,2366.4L800.0,2366.4L803.0,2366.5L806.0,2366.5L809.0,2366.5L812.0,2366.5L815.0,2366.5L818.0,2366.5L821.0,2366.5L824.0,2366.5L827.0,2366.5L830.0,2366.5L833.0,2366.5L836.0,2366.5L839.0,2366.5L842.0,2366.5L845.0,2366.5L848.0,2366.5L851.0,2366.5L854.0,2366.5L857.0,2366.5L860.0,2366.5L863.0,2366.5L866.0,2366.5L869.0,2366.5L872.0,2366.5L875.0,2366.5L878.0,2366.5L881.0,2366.5L884.0,2366.5L887.0,2366.5L890.0,2366.4L893.0,2366.4L896.0,2366.4L899.0,2366.4L902.0,2366.4L905.0,2366.4L908.0,2366.4L911.0,2366.4L914.0,2366.4L917.0,2366.4L920.0,2366.4L923.0,2366.4L926.0,2366.4L929.0,2366.4L932.0,2366.4L935.0,2366.4L938.0,2366.3L941.0,2366.3L944.0,2366.3L947.0,2366.3L950.0,2366.3L953.0,2366.3L956.0,2366.3L959.0,2366.3L962.0,2366.2L965.0,2366.2L968.0,2366.2L971.0,2366.2L974.0,2366.2L977.0,2366.2L980.0,2366.1L983.0,2366.1L986.0,2366.1L989.0,2366.1L992.0,2366.1L995.0,2366.0L998.0,2366.0L1001.0,2366.0L1004.0,2366.0L1007.0,2365.9L1010.0,2365.9L1013.0,2365.9L1016.0,2365.8L1019.0,2365.8L1022.0,2365.8L1025.0,2365.7L1028.0,2365.7L1031.0,2365.7L1034.0,2365.6L1037.0,2365.6L1040.0,2365.5L1043.0,2365.5L1046.0,2365.4L1049.0,2365.4L1052.0,2365.3L1055.0,2365.3L1058.0,2365.2L1061.0,2365.2L1064.0,2365.1L1067.0,2365.1L1070.0,2365.0L1073.0,2365.0L1076.0,2364.9L1079.0,2364.9L1082.0,2364.8L1085.0,2364.7L1088.0,2364.7L1091.0,2364.6L1094.0,2364.6L1097.0,2364.5L1100.0,2364.4L1103.0,2364.4L1106.0,2364.3L1109.0,2364.2L1112.0,2364.2L1115.0,2364.1L1118.0,2364.1L1121.0,2364.0L1124.0,2363.9L1127.0,2363.9L1130.0,2363.8L1133.0,2363.7L1136.0,2363.7L1139.0,2363.6L1142.0,2363.6L1145.0,2363.5L1148.0,2363.5L1151.0,2363.4L1154.0,2363.3L1157.0,2363.3L1160.0,2363.3L1163.0,2363.2L1166.0,2363.2L1169.0,2363.1L1172.0,2363.1L1175.0,2363.1L1178.0,2363.0L1181.0,2363.0L1184.0,2362.9L1187.0,2362.9L1190.0,2362.9L1193.0,2362.8L1196.0,2362.7L1199.0,2362.6L1202.0,2362.6L1205.0,2362.5L1208.0,2362.4L1211.0,2362.4L1214.0,2362.3L1217.0,2362.2L1220.0,2362.2L1223.0,2362.2L1226.0,2362.2L1229.0,2362.2L1232.0,2362.3L1235.0,2362.4L1238.0,2362.5L1240.9,2362.7L1243.9,2363.0L1246.9,2363.3L1249.9,2363.6L1252.9,2364.1L1255.8,2364.5L1258.8,2365.0L1261.7,2365.6L1264.7,2366.2L1267.6,2366.9L1270.5,2367.7L1273.4,2368.5L1276.2,2369.4L1279.1,2370.4L1281.9,2371.5L1284.6,2372.6L1287.4,2373.8L1290.1,2375.1L1292.8,2376.4L1295.5,2377.8L1298.2,2379.1L1300.9,2380.3L1303.6,2381.6L1306.4,2382.8L1309.1,2384.0L1311.8,2385.2L1314.5,2386.6L1317.0,2388.1L1319.5,2389.9L1321.8,2391.8L1323.9,2393.9L1325.9,2396.1L1327.9,2398.4L1329.7,2400.7L1331.4,2403.2L1333.1,2405.7L1334.6,2408.2L1336.1,2410.8L1337.5,2413.5L1338.8,2416.2L1339.9,2419.0L1341.0,2421.8L1342.1,2424.6L1343.1,2427.4L1344.1,2430.2L1345.1,2433.1L1346.0,2435.9L1347.0,2438.7L1347.9,2441.6L1348.8,2444.5L1349.7,2447.3L1350.6,2450.2L1351.5,2453.1L1352.3,2455.9L1353.2,2458.8L1354.1,2461.7L1355.0,2464.5L1355.9,2467.4L1356.9,2470.2L1357.8,2473.1L1358.7,2476.0L1359.5,2478.8L1360.4,2481.7L1361.2,2484.6L1362.0,2487.5L1362.8,2490.4L1363.5,2493.3L1364.3,2496.2L1365.1,2499.1L1365.8,2502.0L1366.5,2504.9L1367.2,2507.8L1368.0,2510.7L1368.7,2513.6L1369.4,2516.5L1370.1,2519.5L1370.8,2522.4L1371.5,2525.3L1372.2,2528.2L1372.8,2531.1L1373.5,2534.1L1374.2,2537.0L1374.8,2539.9L1375.5,2542.8L1376.1,2545.8L1376.8,2548.7L1377.4,2551.6L1378.0,2554.6L1378.6,2557.5L1379.2,2560.5L1379.8,2563.4L1380.4,2566.3L1381.0,2569.3L1381.6,2572.2L1382.1,2575.2L1382.7,2578.1L1383.2,2581.1L1383.7,2584.0L1384.2,2587.0L1384.7,2590.0L1385.2,2592.9L1385.6,2595.9L1386.1,2598.8L1386.6,2601.8L1387.0,2604.8L1387.4,2607.7L1387.9,2610.7L1388.3,2613.7L1388.7,2616.7L1389.1,2619.6L1389.5,2622.6L1389.8,2625.6L1390.2,2628.6L1390.6,2631.5L1390.9,2634.5L1391.3,2637.5L1391.6,2640.5L1392.0,2643.5L1392.3,2646.4L1392.7,2649.4L1393.0,2652.4L1393.3,2655.4L1393.7,2658.4L1394.0,2661.3L1394.3,2664.3L1394.6,2667.3L1395.0,2670.3L1395.3,2673.3L1395.6,2676.3L1395.9,2679.2L1396.2,2682.2L1396.5,2685.2L1396.9,2688.2L1397.2,2691.2L1397.5,2694.2L1397.8,2697.1L1398.1,2700.1L1398.4,2703.1L1398.6,2706.1L1398.9,2709.1L1399.2,2712.1L1399.5,2715.1L1399.8,2718.0L1400.1,2721.0L1400.3,2724.0L1400.6,2727.0L1400.9,2730.0L1401.1,2733.0L1401.4,2736.0L1401.7,2739.0L1401.9,2741.9L1402.2,2744.9L1402.4,2747.9L1402.7,2750.9L1403.0,2753.9L1403.2,2756.9L1403.5,2759.9L1403.7,2762.9L1404.0,2765.9L1404.2,2768.9L1404.5,2771.8L1404.7,2774.8L1405.0,2777.8L1405.2,2780.8L1405.4,2783.8L1405.7,2786.8L1405.9,2789.8L1406.2,2792.8L1406.4,2795.8L1406.7,2798.8L1406.9,2801.7L1407.1,2804.7L1407.4,2807.7L1407.6,2810.7L1407.8,2813.7L1408.1,2816.7L1408.3,2819.7L1408.6,2822.7L1408.8,2825.7L1409.0,2828.7L1409.3,2831.6L1409.5,2834.6L1409.7,2837.6L1410.0,2840.6L1410.2,2843.6L1410.4,2846.6L1410.6,2849.6L1410.9,2852.6L1411.1,2855.6L1411.3,2858.6L1411.6,2861.6L1411.8,2864.6L1412.0,2867.5L1412.3,2870.5L1412.5,2873.5L1412.7,2876.5L1413.0,2879.5L1413.2,2882.5L1413.4,2885.5L1413.7,2888.5L1413.9,2891.5L1414.1,2894.5L1414.3,2897.5L1414.6,2900.4L1414.8,2903.4L1415.0,2906.4L1415.2,2909.4L1415.5,2912.4L1415.7,2915.4L1415.9,2918.4L1416.1,2921.4L1416.4,2924.4L1416.6,2927.4L1416.8,2930.4L1417.0,2933.4L1417.2,2936.3L1417.4,2939.3L1417.7,2942.3L1417.9,2945.3L1418.1,2948.3L1418.3,2951.3L1418.5,2954.3L1418.7,2957.3L1418.9,2960.3L1419.2,2963.3L1419.4,2966.3L1419.6,2969.3L1419.8,2972.3L1420.0,2975.2L1420.2,2978.2L1420.4,2981.2L1420.6,2984.2L1420.8,2987.2L1421.0,2990.2L1421.2,2993.2L1421.4,2996.2L1421.6,2999.2L1421.9,3002.2L1422.1,3005.2L1422.3,3008.2L1422.5,3011.2L1422.7,3014.2L1422.9,3017.1L1423.1,3020.1L1423.3,3023.1L1423.5,3026.1L1423.7,3029.1L1423.9,3032.1L1424.1,3035.1L1424.3,3038.1L1424.5,3041.1L1424.7,3044.1L1424.9,3047.1L1425.1,3050.1L1425.2,3053.1L1425.4,3056.1L1425.6,3059.1L1425.8,3062.1L1426.0,3065.0L1426.2,3068.0L1426.4,3071.0L1426.6,3074.0L1426.8,3077.0L1427.0,3080.0L1427.2,3083.0L1427.4,3086.0L1427.6,3089.0L1427.8,3092.0L1427.9,3095.0L1428.1,3098.0L1428.3,3101.0L1428.5,3104.0L1428.7,3107.0L1428.9,3110.0L1429.0,3113.0L1429.2,3115.9L1429.4,3118.9L1429.6,3121.9L1429.7,3124.9L1429.9,3127.9L1430.1,3130.9L1430.2,3133.9L1430.4,3136.9L1430.6,3139.9L1430.8,3142.9L1430.9,3145.9L1431.1,3148.9L1431.3,3151.9L1431.4,3154.9L1431.6,3157.9L1431.8,3160.9L1431.9,3163.9L1432.1,3166.9L1432.3,3169.9L1432.4,3172.9L1432.6,3175.8L1432.8,3178.8L1432.9,3181.8L1433.1,3184.8L1433.3,3187.8L1433.4,3190.8L1433.6,3193.8L1433.8,3196.8L1433.9,3199.8L1434.1,3202.8L1434.3,3205.8L1434.4,3208.8L1434.6,3211.8L1434.8,3214.8L1434.9,3217.8L1435.1,3220.8L1435.3,3223.8L1435.4,3226.8L1435.6,3229.8L1435.8,3232.8L1435.9,3235.8L1436.1,3238.8L1436.3,3241.7L1436.5,3244.7L1436.6,3247.7L1436.8,3250.7L1437.0,3253.7L1437.2,3256.7L1437.4,3259.7L1437.6,3262.7L1437.7,3265.7L1437.9,3268.7L1438.1,3271.7L1438.3,3274.7L1438.5,3277.7L1438.7,3280.7L1438.9,3283.7L1439.1,3286.7L1439.3,3289.7L1439.5,3292.6L1439.7,3295.6L1439.9,3298.6L1440.1,3301.6L1440.3,3304.6L1440.5,3307.6L1440.8,3310.6L1441.0,3313.6L1441.2,3316.6L1441.4,3319.6L1441.6,3322.6L1441.9,3325.6L1442.1,3328.6L1442.3,3331.5L1442.5,3334.5L1442.8,3337.5L1443.0,3340.5L1443.2,3343.5L1443.4,3346.5L1443.7,3349.5L1443.9,3352.5L1444.1,3355.5L1444.4,3358.5L1444.6,3361.5L1444.9,3364.4L1445.1,3367.4L1445.4,3370.4L1445.6,3373.4L1445.9,3376.4L1446.1,3379.4L1446.4,3382.4L1446.6,3385.4L1446.9,3388.4L1447.2,3391.3L1447.5,3394.3L1447.7,3397.3L1448.0,3400.3L1448.3,3403.3L1448.6,3406.3L1448.9,3409.3L1449.2,3412.2L1449.5,3415.2L1449.8,3418.2L1450.1,3421.2L1450.5,3424.2L1450.8,3427.2L1451.2,3430.1L1451.5,3433.1L1451.9,3436.1L1452.3,3439.1L1452.7,3442.0L1453.1,3445.0L1453.5,3448.0L1453.9,3451.0L1454.3,3453.9L1454.8,3456.9L1455.2,3459.9L1455.6,3462.8L1456.1,3465.8L1456.5,3468.8L1457.0,3471.7L1457.5,3474.7L1457.9,3477.7L1458.5,3480.6L1459.0,3483.6L1459.5,3486.5L1460.0,3489.5L1460.5,3492.4L1461.0,3495.4L1461.5,3498.4L1461.9,3501.3L1462.3,3504.3L1462.7,3507.3L1463.1,3510.2L1463.4,3513.2L1463.7,3516.2L1464.0,3519.2L1464.2,3522.2L1464.5,3525.2L1464.8,3528.2L1465.1,3531.2L1465.3,3534.1L1465.6,3537.1L1465.9,3540.1L1466.2,3543.1L1466.5,3546.1L1466.9,3549.1L1467.2,3552.0L1467.6,3555.0L1467.9,3558.0L1468.2,3561.0L1468.6,3564.0L1469.0,3566.9L1469.5,3569.9L1470.1,3572.8L1470.8,3575.7L1471.6,3578.6L1472.7,3581.3L1473.9,3583.6L1475.4,3584.8L1476.9,3584.4L1478.3,3582.7L1479.4,3580.2L1480.2,3577.4L1480.9,3574.5L1481.5,3571.5L1481.9,3568.6L1482.2,3565.6L1482.5,3562.6L1482.7,3559.6L1483.0,3556.6L1483.2,3553.6L1483.4,3550.6L1483.7,3547.6L1483.9,3544.6L1484.2,3541.7L1484.4,3538.7L1484.7,3535.7L1484.9,3532.7L1485.1,3529.7L1485.4,3526.7L1485.6,3523.7L1485.8,3520.7L1486.0,3517.7L1486.2,3514.7L1486.4,3511.7L1486.6,3508.7L1486.8,3505.8L1487.0,3502.8L1487.2,3499.8L1487.4,3496.8L1487.6,3493.8L1487.8,3490.8L1488.0,3487.8L1488.2,3484.8L1488.3,3481.8L1488.5,3478.8L1488.7,3475.8L1488.8,3472.8L1489.0,3469.8L1489.2,3466.8L1489.3,3463.8L1489.5,3460.8L1489.6,3457.8L1489.8,3454.8L1489.9,3451.8L1490.0,3448.8L1490.2,3445.8L1490.3,3442.9L1490.4,3439.9L1490.6,3436.9L1490.7,3433.9L1490.8,3430.9L1490.9,3427.9L1491.1,3424.9L1491.2,3421.9L1491.3,3418.9L1491.4,3415.9L1491.5,3412.9L1491.7,3409.9L1491.8,3406.9L1491.9,3403.9L1492.0,3400.9L1492.2,3397.9L1492.3,3394.9L1492.4,3391.9L1492.5,3388.9L1492.7,3385.9L1492.8,3382.9L1492.9,3379.9L1493.0,3376.9L1493.2,3373.9L1493.3,3370.9L1493.4,3367.9L1493.6,3364.9L1493.7,3361.9L1493.8,3358.9L1494.0,3355.9L1494.1,3352.9L1494.3,3349.9L1494.4,3346.9L1494.5,3343.9L1494.7,3340.9L1494.8,3338.0L1495.0,3335.0L1495.2,3332.0L1495.3,3329.0L1495.5,3326.0L1495.6,3323.0L1495.8,3320.0L1496.0,3317.0L1496.1,3314.0L1496.3,3311.0L1496.5,3308.0L1496.7,3305.0L1496.9,3302.0L1497.1,3299.0L1497.3,3296.0L1497.5,3293.0L1497.7,3290.0L1497.9,3287.0L1498.1,3284.1L1498.3,3281.1L1498.5,3278.1L1498.8,3275.1L1499.0,3272.1L1499.2,3269.1L1499.5,3266.1L1499.7,3263.1L1500.0,3260.1L1500.2,3257.1L1500.5,3254.1L1500.7,3251.2L1501.0,3248.2L1501.2,3245.2L1501.5,3242.2L1501.7,3239.2L1502.0,3236.2L1502.3,3233.2L1502.5,3230.2L1502.8,3227.2L1503.1,3224.3L1503.3,3221.3L1503.6,3218.3L1503.9,3215.3L1504.2,3212.3L1504.4,3209.3L1504.7,3206.3L1505.0,3203.3L1505.2,3200.4L1505.5,3197.4L1505.8,3194.4L1506.1,3191.4L1506.3,3188.4L1506.6,3185.4L1506.9,3182.4L1507.2,3179.4L1507.4,3176.5L1507.7,3173.5L1508.0,3170.5L1508.2,3167.5L1508.5,3164.5L1508.8,3161.5L1509.0,3158.5L1509.3,3155.5L1509.5,3152.5L1509.8,3149.6L1510.1,3146.6L1510.3,3143.6L1510.6,3140.6L1510.8,3137.6L1511.1,3134.6L1511.3,3131.6L1511.6,3128.6L1511.8,3125.6L1512.0,3122.7L1512.3,3119.7L1512.5,3116.7L1512.7,3113.7L1512.9,3110.7L1513.2,3107.7L1513.4,3104.7L1513.6,3101.7L1513.8,3098.7L1514.0,3095.7L1514.2,3092.7L1514.4,3089.7L1514.6,3086.7L1514.8,3083.7L1515.0,3080.8L1515.1,3077.8L1515.3,3074.8L1515.5,3071.8L1515.6,3068.8L1515.8,3065.8L1515.9,3062.8L1516.1,3059.8L1516.2,3056.8L1516.4,3053.8L1516.5,3050.8L1516.7,3047.8L1516.8,3044.8L1516.9,3041.8L1517.0,3038.8L1517.2,3035.8L1517.3,3032.8L1517.4,3029.8L1517.5,3026.8L1517.6,3023.8L1517.7,3020.8L1517.8,3017.8L1518.0,3014.8L1518.1,3011.8L1518.2,3008.8L1518.3,3005.8L1518.4,3002.8L1518.4,2999.8L1518.5,2996.8L1518.6,2993.8L1518.7,2990.8L1518.8,2987.8L1518.9,2984.8L1519.0,2981.8L1519.1,2978.8L1519.2,2975.8L1519.2,2972.8L1519.3,2969.8L1519.4,2966.8L1519.5,2963.8L1519.6,2960.8L1519.6,2957.9L1519.7,2954.9L1519.8,2951.9L1519.9,2948.9L1520.0,2945.9L1520.1,2942.9L1520.1,2939.9L1520.2,2936.9L1520.3,2933.9L1520.4,2930.9L1520.5,2927.9L1520.6,2924.9L1520.6,2921.9L1520.7,2918.9L1520.8,2915.9L1520.9,2912.9L1521.0,2909.9L1521.1,2906.9L1521.2,2903.9L1521.3,2900.9L1521.4,2897.9L1521.5,2894.9L1521.6,2891.9L1521.7,2888.9L1521.8,2885.9L1521.9,2882.9L1522.0,2879.9L1522.1,2876.9L1522.2,2873.9L1522.3,2870.9L1522.4,2867.9L1522.6,2864.9L1522.7,2861.9L1522.8,2858.9L1522.9,2855.9L1523.0,2852.9L1523.1,2849.9L1523.2,2846.9L1523.3,2843.9L1523.4,2840.9L1523.5,2837.9L1523.6,2834.9L1523.8,2831.9L1523.9,2828.9L1524.0,2825.9L1524.1,2822.9L1524.2,2819.9L1524.3,2816.9L1524.4,2813.9L1524.5,2810.9L1524.6,2807.9L1524.7,2804.9L1524.8,2801.9L1524.9,2798.9L1525.0,2795.9L1525.2,2792.9L1525.3,2789.9L1525.4,2786.9L1525.5,2783.9L1525.6,2781.0L1525.7,2778.0L1525.8,2775.0L1525.9,2772.0L1526.1,2769.0L1526.2,2766.0L1526.3,2763.0L1526.4,2760.0L1526.5,2757.0L1526.6,2754.0L1526.8,2751.0L1526.9,2748.0L1527.0,2745.0L1527.1,2742.0L1527.2,2739.0L1527.4,2736.0L1527.5,2733.0L1527.6,2730.0L1527.7,2727.0L1527.9,2724.0L1528.0,2721.0L1528.1,2718.0L1528.3,2715.0L1528.4,2712.0L1528.5,2709.0L1528.7,2706.0L1528.8,2703.0L1529.0,2700.0L1529.1,2697.0L1529.3,2694.0L1529.4,2691.0L1529.6,2688.0L1529.7,2685.0L1529.9,2682.0L1530.1,2679.1L1530.2,2676.1L1530.4,2673.1L1530.6,2670.1L1530.7,2667.1L1530.9,2664.1L1531.1,2661.1L1531.3,2658.1L1531.5,2655.1L1531.6,2652.1L1531.8,2649.1L1532.0,2646.1L1532.2,2643.1L1532.4,2640.1L1532.6,2637.1L1532.8,2634.1L1533.0,2631.1L1533.2,2628.2L1533.4,2625.2L1533.7,2622.2L1533.9,2619.2L1534.1,2616.2L1534.3,2613.2L1534.6,2610.2L1534.8,2607.2L1535.0,2604.2L1535.3,2601.2L1535.5,2598.2L1535.7,2595.2L1536.0,2592.3L1536.2,2589.3L1536.5,2586.3L1536.7,2583.3L1537.0,2580.3L1537.2,2577.3L1537.5,2574.3L1537.8,2571.3L1538.0,2568.3L1538.3,2565.4L1538.6,2562.4L1538.8,2559.4L1539.1,2556.4L1539.4,2553.4L1539.7,2550.4L1539.9,2547.4L1540.2,2544.4L1540.5,2541.5L1540.8,2538.5L1541.1,2535.5L1541.4,2532.5L1541.7,2529.5L1542.0,2526.5L1542.4,2523.6L1542.7,2520.6L1543.0,2517.6L1543.3,2514.6L1543.7,2511.6L1544.0,2508.6L1544.3,2505.7L1544.7,2502.7L1545.0,2499.7L1545.4,2496.7L1545.8,2493.8L1546.2,2490.8L1546.6,2487.8L1547.0,2484.8L1547.4,2481.9L1547.9,2478.9L1548.3,2475.9L1548.8,2473.0L1549.2,2470.0L1549.6,2467.0L1550.1,2464.1L1550.5,2461.1L1550.9,2458.1L1551.3,2455.1L1551.7,2452.2L1552.1,2449.2L1552.4,2446.2L1552.8,2443.2L1553.1,2440.2L1553.4,2437.3L1553.7,2434.3L1553.9,2431.3L1554.2,2428.3L1554.5,2425.3L1554.8,2422.3L1555.0,2419.3L1555.3,2416.4L1555.5,2413.4L1555.7,2410.4L1556.0,2407.4L1556.3,2404.4L1556.9,2401.5L1557.7,2398.6L1558.7,2395.8L1560.0,2393.1L1561.5,2390.6L1563.3,2388.2L1565.3,2386.0L1567.5,2384.0L1569.8,2382.1L1572.3,2380.4L1574.8,2378.8L1577.4,2377.4L1580.1,2376.0L1582.8,2374.7L1585.6,2373.6L1588.4,2372.6L1591.3,2371.8L1594.2,2371.1L1597.1,2370.5L1600.1,2370.0L1603.0,2369.6L1606.0,2369.3L1609.0,2369.1L1612.0,2368.9L1615.0,2368.8L1618.0,2368.7L1621.0,2368.6L1624.0,2368.6L1627.0,2368.6L1630.0,2368.6L1633.0,2368.6L1636.0,2368.6L1639.0,2368.7L1642.0,2368.7L1645.0,2368.8L1648.0,2368.8L1651.0,2368.9L1654.0,2369.0L1657.0,2369.1L1660.0,2369.1L1663.0,2369.2L1666.0,2369.3L1669.0,2369.4L1672.0,2369.4L1675.0,2369.5L1678.0,2369.6L1681.0,2369.7L1684.0,2369.7L1687.0,2369.8L1690.0,2369.8L1693.0,2369.9L1696.0,2369.9L1699.0,2370.0L1702.0,2370.0L1705.0,2370.1L1708.0,2370.1L1711.0,2370.1L1714.0,2370.2L1717.0,2370.2L1720.0,2370.2L1723.0,2370.3L1726.0,2370.3L1729.0,2370.3L1732.0,2370.4L1735.0,2370.4L1738.0,2370.4L1741.0,2370.5L1744.0,2370.5L1747.0,2370.6L1750.0,2370.6L1753.0,2370.6L1756.0,2370.7L1759.0,2370.7L1762.0,2370.7L1765.0,2370.8L1768.0,2370.8L1771.0,2370.8L1774.0,2370.9L1777.0,2370.9L1780.0,2370.9L1783.0,2371.0L1786.0,2371.0L1789.0,2371.0L1792.0,2371.1L1795.0,2371.1L1798.0,2371.1L1801.0,2371.2L1804.0,2371.2L1807.0,2371.2L1810.0,2371.3L1813.0,2371.3L1816.0,2371.3L1819.0,2371.3L1822.0,2371.4L1825.0,2371.4L1828.0,2371.4L1831.0,2371.4L1834.0,2371.4L1837.0,2371.4L1840.0,2371.5L1843.0,2371.5L1846.0,2371.5L1849.0,2371.5L1852.0,2371.5L1855.0,2371.5L1858.0,2371.5L1861.0,2371.5L1864.0,2371.6L1867.0,2371.6L1870.0,2371.6L1873.0,2371.6L1876.0,2371.7L1879.0,2371.7L1882.0,2371.7L1885.0,2371.7L1888.0,2371.7L1891.0,2371.8L1894.0,2371.8L1897.0,2371.8L1900.0,2371.8L1903.0,2371.8L1906.0,2371.8L1909.0,2371.8L1912.0,2371.7L1915.0,2371.7L1918.0,2371.7L1921.0,2371.6L1924.0,2371.6L1927.0,2371.5L1930.0,2371.4L1933.0,2371.3L1936.0,2371.2L1939.0,2371.0L1942.0,2370.9L1945.0,2370.7L1948.0,2370.5L1950.9,2370.3L1953.9,2370.0L1956.9,2369.7L1959.9,2369.5L1962.9,2369.2L1965.9,2368.8L1968.9,2368.5L1971.8,2368.2L1974.8,2367.8L1977.8,2367.5L1980.8,2367.1L1983.8,2366.7L1986.7,2366.4L1989.7,2366.0L1992.7,2365.7L1995.7,2365.3L1998.6,2364.9L2001.6,2364.4L2004.6,2364.0L2007.5,2363.6L2010.5,2363.2L2013.5,2362.8L2016.5,2362.4L2019.4,2362.1L2022.4,2361.8L2025.4,2361.6L2028.4,2361.4L2031.4,2361.3L2034.4,2361.2L2037.4,2361.1L2040.4,2361.0L2043.4,2360.9L2046.4,2360.9L2049.4,2360.8L2052.4,2360.8L2055.4,2360.8L2058.4,2360.8L2061.4,2360.7L2064.4,2360.7L2067.4,2360.7L2070.4,2360.7L2073.4,2360.7L2076.4,2360.7L2079.4,2360.7L2082.4,2360.7L2085.4,2360.7L2088.4,2360.7L2091.4,2360.7L2094.4,2360.7L2097.4,2360.7L2100.4,2360.7L2103.4,2360.7L2106.4,2360.7L2109.4,2360.7L2112.4,2360.7L2115.4,2360.7L2118.4,2360.7L2121.4,2360.7L2124.4,2360.7L2127.4,2360.8L2130.4,2360.8L2133.4,2360.8L2136.4,2360.8L2139.4,2360.8L2142.4,2360.8L2145.4,2360.8L2148.4,2360.8L2151.4,2360.9L2154.4,2360.9L2157.4,2360.9L2160.4,2360.9L2163.4,2360.9L2166.4,2360.9L2169.4,2360.9L2172.4,2361.0L2175.4,2361.0L2178.4,2361.0L2181.4,2361.0L2184.4,2361.0L2187.4,2361.0L2190.4,2361.1L2193.4,2361.1L2196.4,2361.1L2199.4,2361.1L2202.4,2361.1L2205.4,2361.1L2208.4,2361.2L2211.4,2361.2L2214.4,2361.2L2217.4,2361.2L2220.4,2361.2L2223.4,2361.2L2226.4,2361.3L2229.4,2361.3L2232.4,2361.3L2235.4,2361.3L2238.4,2361.3L2241.4,2361.3L2244.4,2361.4L2247.4,2361.4L2250.4,2361.4L2253.4,2361.4L2256.4,2361.4L2259.4,2361.5L2262.4,2361.5L2265.4,2361.5L2268.4,2361.5L2271.4,2361.5L2274.4,2361.5L2277.4,2361.6L2280.4,2361.6L2283.4,2361.6L2286.4,2361.6L2289.4,2361.6L2292.4,2361.6L2295.4,2361.7L2298.4,2361.7L2301.4,2361.7L2304.4,2361.7L2307.4,2361.7L2310.4,2361.7L2313.4,2361.8L2316.4,2361.8L2319.4,2361.8L2322.4,2361.8L2325.4,2361.8L2328.4,2361.8L2331.4,2361.8L2334.4,2361.9L2337.4,2361.9L2340.4,2361.9L2343.4,2361.9L2346.4,2361.9L2349.4,2361.9L2352.4,2361.9L2355.4,2362.0L2358.4,2362.0L2361.4,2362.0L2364.4,2362.0L2367.4,2362.0L2368.4,2362.0" fill="none" stroke="#FFFF00" stroke-width="6" stroke-linejoin="round" stroke-linecap="butt"/>
<path d="M485.0,2362.5L488.0,2362.5L491.0,2362.5L494.0,2362.5L497.0,2362.5L500.0,2362.5L503.0,2362.5L506.0,2362.5L509.0,2362.5L512.0,2362.5L515.0,2362.5L518.0,2362.5L521.0,2362.5L524.0,2362.5L527.0,2362.5L530.0,2362.5L533.0,2362.5L536.0,2362.5L539.0,2362.5L542.0,2362.5L545.0,2362.5L548.0,2362.5L551.0,2362.5L554.0,2362.5L557.0,2362.5L560.0,2362.5L563.0,2362.5L566.0,2362.5L569.0,2362.5L572.0,2362.5L575.0,2362.5L578.0,2362.5L581.0,2362.5L584.0,2362.5L587.0,2362.5L590.0,2362.5L593.0,2362.5L596.0,2362.5L599.0,2362.5L602.0,2362.5L605.0,2362.5L608.0,2362.5L611.0,2362.5L614.0,2362.4L617.0,2362.4L620.0,2362.4L623.0,2362.4L626.0,2362.4L629.0,2362.4L632.0,2362.4L635.0,2362.4L638.0,2362.4L641.0,2362.4L644.0,2362.4L647.0,2362.4L650.0,2362.4L653.0,2362.4L656.0,2362.4L659.0,2362.4L662.0,2362.4L665.0,2362.4L668.0,2362.4L671.0,2362.4L674.0,2362.4L677.0,2362.4L680.0,2362.4L683.0,2362.4L686.0,2362.3L689.0,2362.3L692.0,2362.3L695.0,2362.3L698.0,2362.3L701.0,2362.3L704.0,2362.3L707.0,2362.3L710.0,2362.3L713.0,2362.3L716.0,2362.3L719.0,2362.3L722.0,2362.3L725.0,2362.3L728.0,2362.3L731.0,2362.3L734.0,2362.3L737.0,2362.3L740.0,2362.3L743.0,2362.3L746.0,2362.3L749.0,2362.3L752.0,2362.3L755.0,2362.3L758.0,2362.3L761.0,2362.3L764.0,2362.3L767.0,2362.3L770.0,2362.2L773.0,2362.2L776.0,2362.2L779.0,2362.2L782.0,2362.2L785.0,2362.2L788.0,2362.2L791.0,2362.2L794.0,2362.2L797.0,2362.2L800.0,2362.2L803.0,2362.2L806.0,2362.2L809.0,2362.2L812.0,2362.2L815.0,2362.2L818.0,2362.2L821.0,2362.2L824.0,2362.2L827.0,2362.2L830.0,2362.2L833.0,2362.2L836.0,2362.2L839.0,2362.2L842.0,2362.2L845.0,2362.2L848.0,2362.3L851.0,2362.3L854.0,2362.3L857.0,2362.3L860.0,2362.3L863.0,2362.3L866.0,2362.3L869.0,2362.3L872.0,2362.3L875.0,2362.3L878.0,2362.3L881.0,2362.3L884.0,2362.3L887.0,2362.3L890.0,2362.3L893.0,2362.3L896.0,2362.3L899.0,2362.3L902.0,2362.4L905.0,2362.4L908.0,2362.4L911.0,2362.4L914.0,2362.4L917.0,2362.4L920.0,2362.4L923.0,2362.4L926.0,2362.4L929.0,2362.5L932.0,2362.5L935.0,2362.5L938.0,2362.5L941.0,2362.5L944.0,2362.5L947.0,2362.6L950.0,2362.6L953.0,2362.6L956.0,2362.6L959.0,2362.6L962.0,2362.7L965.0,2362.7L968.0,2362.7L971.0,2362.7L974.0,2362.7L977.0,2362.8L980.0,2362.8L983.0,2362.8L986.0,2362.9L989.0,2362.9L992.0,2362.9L995.0,2362.9L998.0,2363.0L1001.0,2363.0L1004.0,2363.0L1007.0,2363.1L1010.0,2363.1L1013.0,2363.1L1016.0,2363.2L1019.0,2363.2L1022.0,2363.2L1025.0,2363.3L1028.0,2363.3L1031.0,2363.3L1034.0,2363.4L1037.0,2363.4L1040.0,2363.4L1043.0,2363.5L1046.0,2363.5L1049.0,2363.5L1052.0,2363.6L1055.0,2363.6L1058.0,2363.7L1061.0,2363.7L1064.0,2363.7L1067.0,2363.8L1070.0,2363.8L1073.0,2363.8L1076.0,2363.9L1079.0,2363.9L1082.0,2364.0L1085.0,2364.0L1088.0,2364.1L1091.0,2364.1L1094.0,2364.2L1097.0,2364.2L1100.0,2364.3L1103.0,2364.3L1106.0,2364.4L1109.0,2364.4L1112.0,2364.5L1115.0,2364.6L1118.0,2364.6L1121.0,2364.7L1124.0,2364.8L1127.0,2364.8L1130.0,2364.9L1133.0,2365.0L1136.0,2365.1L1139.0,2365.2L1142.0,2365.3L1145.0,2365.4L1148.0,2365.5L1151.0,2365.6L1154.0,2365.7L1157.0,2365.8L1160.0,2366.0L1163.0,2366.1L1166.0,2366.2L1169.0,2366.4L1171.9,2366.5L1174.9,2366.7L1177.9,2366.9L1180.9,2367.1L1183.9,2367.2L1186.9,2367.4L1189.9,2367.6L1192.9,2367.8L1195.9,2368.0L1198.9,2368.2L1201.9,2368.5L1204.9,2368.7L1207.9,2368.9L1210.9,2369.2L1213.8,2369.4L1216.8,2369.7L1219.8,2370.0L1222.8,2370.3L1225.8,2370.7L1228.8,2371.0L1231.7,2371.4L1234.7,2371.9L1237.7,2372.3L1240.6,2372.9L1243.6,2373.4L1246.5,2374.1L1249.4,2374.7L1252.3,2375.5L1255.2,2376.3L1258.1,2377.2L1260.9,2378.1L1263.8,2379.1L1266.6,2380.1L1269.4,2381.1L1272.3,2382.0L1275.1,2383.0L1278.0,2383.9L1280.8,2384.7L1283.7,2385.6L1286.6,2386.5L1289.4,2387.5L1292.2,2388.5L1295.0,2389.6L1297.7,2390.9L1300.4,2392.2L1303.1,2393.5L1305.8,2394.9L1308.4,2396.3L1311.0,2397.8L1313.6,2399.3L1316.2,2400.9L1318.7,2402.5L1321.2,2404.2L1323.6,2406.0L1325.9,2407.8L1328.2,2409.8L1330.4,2411.8L1332.4,2414.0L1334.3,2416.3L1336.2,2418.7L1337.9,2421.1L1339.5,2423.6L1341.2,2426.2L1342.8,2428.7L1344.4,2431.2L1346.0,2433.8L1347.5,2436.3L1349.1,2438.9L1350.6,2441.5L1352.1,2444.1L1353.6,2446.7L1355.0,2449.3L1356.4,2452.0L1357.7,2454.7L1359.0,2457.4L1360.3,2460.1L1361.5,2462.9L1362.6,2465.6L1363.7,2468.4L1364.7,2471.2L1365.7,2474.1L1366.6,2476.9L1367.5,2479.8L1368.4,2482.7L1369.2,2485.6L1370.0,2488.4L1370.9,2491.3L1371.7,2494.2L1372.5,2497.1L1373.3,2500.0L1374.0,2502.9L1374.8,2505.8L1375.6,2508.7L1376.3,2511.6L1377.1,2514.5L1377.8,2517.4L1378.5,2520.3L1379.3,2523.2L1380.0,2526.1L1380.7,2529.1L1381.4,2532.0L1382.1,2534.9L1382.7,2537.8L1383.4,2540.7L1384.1,2543.7L1384.7,2546.6L1385.4,2549.5L1386.0,2552.5L1386.7,2555.4L1387.3,2558.3L1387.9,2561.3L1388.5,2564.2L1389.1,2567.1L1389.6,2570.1L1390.2,2573.0L1390.8,2576.0L1391.3,2578.9L1391.8,2581.9L1392.3,2584.8L1392.8,2587.8L1393.3,2590.8L1393.8,2593.7L1394.2,2596.7L1394.7,2599.7L1395.1,2602.6L1395.5,2605.6L1395.9,2608.6L1396.3,2611.5L1396.7,2614.5L1397.1,2617.5L1397.5,2620.5L1397.8,2623.5L1398.2,2626.4L1398.5,2629.4L1398.8,2632.4L1399.2,2635.4L1399.5,2638.4L1399.8,2641.3L1400.1,2644.3L1400.4,2647.3L1400.7,2650.3L1401.0,2653.3L1401.3,2656.3L1401.6,2659.3L1401.9,2662.2L1402.2,2665.2L1402.5,2668.2L1402.8,2671.2L1403.1,2674.2L1403.4,2677.2L1403.7,2680.1L1404.0,2683.1L1404.3,2686.1L1404.6,2689.1L1404.9,2692.1L1405.1,2695.1L1405.4,2698.1L1405.7,2701.1L1405.9,2704.0L1406.2,2707.0L1406.5,2710.0L1406.7,2713.0L1407.0,2716.0L1407.2,2719.0L1407.5,2722.0L1407.7,2725.0L1408.0,2728.0L1408.2,2731.0L1408.4,2733.9L1408.7,2736.9L1408.9,2739.9L1409.1,2742.9L1409.4,2745.9L1409.6,2748.9L1409.8,2751.9L1410.1,2754.9L1410.3,2757.9L1410.5,2760.9L1410.7,2763.9L1411.0,2766.8L1411.2,2769.8L1411.4,2772.8L1411.6,2775.8L1411.8,2778.8L1412.0,2781.8L1412.3,2784.8L1412.5,2787.8L1412.7,2790.8L1412.9,2793.8L1413.1,2796.8L1413.3,2799.8L1413.5,2802.8L1413.8,2805.7L1414.0,2808.7L1414.2,2811.7L1414.4,2814.7L1414.6,2817.7L1414.8,2820.7L1415.0,2823.7L1415.2,2826.7L1415.4,2829.7L1415.7,2832.7L1415.9,2835.7L1416.1,2838.7L1416.3,2841.7L1416.5,2844.6L1416.7,2847.6L1416.9,2850.6L1417.1,2853.6L1417.3,2856.6L1417.5,2859.6L1417.8,2862.6L1418.0,2865.6L1418.2,2868.6L1418.4,2871.6L1418.6,2874.6L1418.8,2877.6L1419.0,2880.6L1419.3,2883.6L1419.5,2886.5L1419.7,2889.5L1419.9,2892.5L1420.1,2895.5L1420.3,2898.5L1420.5,2901.5L1420.8,2904.5L1421.0,2907.5L1421.2,2910.5L1421.4,2913.5L1421.6,2916.5L1421.8,2919.5L1422.0,2922.5L1422.2,2925.4L1422.5,2928.4L1422.7,2931.4L1422.9,2934.4L1423.1,2937.4L1423.3,2940.4L1423.5,2943.4L1423.7,2946.4L1423.9,2949.4L1424.1,2952.4L1424.3,2955.4L1424.6,2958.4L1424.8,2961.4L1425.0,2964.3L1425.2,2967.3L1425.4,2970.3L1425.6,2973.3L1425.8,2976.3L1426.0,2979.3L1426.2,2982.3L1426.4,2985.3L1426.6,2988.3L1426.8,2991.3L1427.0,2994.3L1427.2,2997.3L1427.4,3000.3L1427.6,3003.3L1427.8,3006.3L1428.0,3009.2L1428.2,3012.2L1428.4,3015.2L1428.6,3018.2L1428.8,3021.2L1429.0,3024.2L1429.2,3027.2L1429.4,3030.2L1429.6,3033.2L1429.8,3036.2L1430.0,3039.2L1430.1,3042.2L1430.3,3045.2L1430.5,3048.2L1430.7,3051.2L1430.9,3054.2L1431.1,3057.1L1431.3,3060.1L1431.5,3063.1L1431.7,3066.1L1431.8,3069.1L1432.0,3072.1L1432.2,3075.1L1432.4,3078.1L1432.6,3081.1L1432.7,3084.1L1432.9,3087.1L1433.1,3090.1L1433.3,3093.1L1433.5,3096.1L1433.6,3099.1L1433.8,3102.1L1434.0,3105.1L1434.1,3108.1L1434.3,3111.1L1434.5,3114.0L1434.6,3117.0L1434.8,3120.0L1435.0,3123.0L1435.1,3126.0L1435.3,3129.0L1435.5,3132.0L1435.6,3135.0L1435.8,3138.0L1435.9,3141.0L1436.1,3144.0L1436.3,3147.0L1436.4,3150.0L1436.6,3153.0L1436.7,3156.0L1436.9,3159.0L1437.1,3162.0L1437.2,3165.0L1437.4,3168.0L1437.5,3171.0L1437.7,3174.0L1437.8,3177.0L1438.0,3180.0L1438.1,3182.9L1438.3,3185.9L1438.4,3188.9L1438.6,3191.9L1438.8,3194.9L1438.9,3197.9L1439.1,3200.9L1439.2,3203.9L1439.4,3206.9L1439.5,3209.9L1439.7,3212.9L1439.8,3215.9L1440.0,3218.9L1440.1,3221.9L1440.3,3224.9L1440.4,3227.9L1440.6,3230.9L1440.7,3233.9L1440.9,3236.9L1441.1,3239.9L1441.2,3242.9L1441.4,3245.9L1441.5,3248.9L1441.7,3251.9L1441.8,3254.9L1442.0,3257.8L1442.1,3260.8L1442.3,3263.8L1442.5,3266.8L1442.6,3269.8L1442.8,3272.8L1442.9,3275.8L1443.1,3278.8L1443.3,3281.8L1443.4,3284.8L1443.6,3287.8L1443.8,3290.8L1443.9,3293.8L1444.1,3296.8L1444.3,3299.8L1444.5,3302.8L1444.6,3305.8L1444.8,3308.8L1445.0,3311.8L1445.2,3314.8L1445.3,3317.8L1445.5,3320.8L1445.7,3323.7L1445.9,3326.7L1446.1,3329.7L1446.3,3332.7L1446.4,3335.7L1446.6,3338.7L1446.8,3341.7L1447.0,3344.7L1447.2,3347.7L1447.4,3350.7L1447.6,3353.7L1447.8,3356.7L1448.0,3359.7L1448.1,3362.7L1448.3,3365.7L1448.5,3368.7L1448.7,3371.7L1448.9,3374.6L1449.1,3377.6L1449.3,3380.6L1449.5,3383.6L1449.7,3386.6L1449.9,3389.6L1450.1,3392.6L1450.3,3395.6L1450.5,3398.6L1450.7,3401.6L1450.9,3404.6L1451.1,3407.6L1451.3,3410.6L1451.5,3413.6L1451.6,3416.6L1451.8,3419.5L1452.0,3422.5L1452.2,3425.5L1452.4,3428.5L1452.7,3431.5L1452.9,3434.5L1453.1,3437.5L1453.3,3440.5L1453.5,3443.5L1453.7,3446.5L1453.9,3449.5L1454.1,3452.5L1454.3,3455.5L1454.5,3458.5L1454.7,3461.5L1454.9,3464.4L1455.1,3467.4L1455.3,3470.4L1455.5,3473.4L1455.7,3476.4L1455.9,3479.4L1456.1,3482.4L1456.3,3485.4L1456.5,3488.4L1456.7,3491.4L1456.9,3494.4L1457.1,3497.4L1457.3,3500.4L1457.5,3503.4L1457.7,3506.4L1457.9,3509.3L1458.1,3512.3L1458.3,3515.3L1458.5,3518.3L1458.6,3521.3L1458.8,3524.3L1459.0,3527.3L1459.2,3530.3L1459.4,3533.3L1459.6,3536.3L1459.8,3539.3L1460.0,3542.3L1460.2,3545.3L1460.4,3548.3L1460.6,3551.3L1460.8,3554.3L1461.0,3557.2L1461.2,3560.2L1461.4,3563.2L1461.6,3566.2L1461.8,3569.2L1462.0,3572.2L1462.2,3575.2L1462.4,3578.2L1462.6,3581.2L1462.9,3584.2L1463.1,3587.2L1463.3,3590.2L1463.6,3593.2L1463.8,3596.1L1464.1,3599.1L1464.3,3602.1L1464.6,3605.1L1464.8,3608.1L1465.1,3611.1L1465.4,3614.1L1465.7,3617.1L1466.0,3620.0L1466.3,3623.0L1466.6,3626.0L1466.9,3629.0L1467.3,3632.0L1467.6,3635.0L1468.0,3637.9L1468.4,3640.9L1468.9,3643.9L1469.4,3646.8L1469.9,3649.8L1470.6,3652.7L1471.3,3655.6L1472.1,3658.5L1473.1,3661.1L1474.3,3663.3L1475.7,3664.3L1477.1,3663.8L1478.3,3661.9L1479.2,3659.3L1479.9,3656.4L1480.4,3653.4L1480.8,3650.5L1481.2,3647.5L1481.6,3644.5L1481.9,3641.5L1482.2,3638.5L1482.5,3635.6L1482.8,3632.6L1483.1,3629.6L1483.4,3626.6L1483.7,3623.6L1483.9,3620.6L1484.2,3617.6L1484.5,3614.7L1484.8,3611.7L1485.1,3608.7L1485.4,3605.7L1485.7,3602.7L1486.0,3599.7L1486.2,3596.7L1486.5,3593.8L1486.7,3590.8L1487.0,3587.8L1487.2,3584.8L1487.4,3581.8L1487.6,3578.8L1487.8,3575.8L1488.0,3572.8L1488.2,3569.8L1488.4,3566.8L1488.6,3563.8L1488.8,3560.8L1489.0,3557.8L1489.1,3554.8L1489.3,3551.8L1489.5,3548.9L1489.7,3545.9L1489.8,3542.9L1490.0,3539.9L1490.2,3536.9L1490.4,3533.9L1490.5,3530.9L1490.7,3527.9L1490.8,3524.9L1491.0,3521.9L1491.2,3518.9L1491.3,3515.9L1491.5,3512.9L1491.7,3509.9L1491.8,3506.9L1492.0,3503.9L1492.1,3500.9L1492.3,3497.9L1492.4,3494.9L1492.6,3491.9L1492.7,3488.9L1492.9,3485.9L1493.0,3482.9L1493.1,3480.0L1493.3,3477.0L1493.4,3474.0L1493.5,3471.0L1493.7,3468.0L1493.8,3465.0L1493.9,3462.0L1494.0,3459.0L1494.2,3456.0L1494.3,3453.0L1494.4,3450.0L1494.5,3447.0L1494.6,3444.0L1494.8,3441.0L1494.9,3438.0L1495.0,3435.0L1495.1,3432.0L1495.2,3429.0L1495.3,3426.0L1495.5,3423.0L1495.6,3420.0L1495.7,3417.0L1495.8,3414.0L1495.9,3411.0L1496.1,3408.0L1496.2,3405.0L1496.3,3402.0L1496.5,3399.0L1496.6,3396.0L1496.7,3393.0L1496.9,3390.0L1497.0,3387.0L1497.2,3384.0L1497.3,3381.0L1497.5,3378.0L1497.6,3375.0L1497.8,3372.1L1497.9,3369.1L1498.1,3366.1L1498.3,3363.1L1498.4,3360.1L1498.6,3357.1L1498.7,3354.1L1498.9,3351.1L1499.1,3348.1L1499.2,3345.1L1499.4,3342.1L1499.5,3339.1L1499.7,3336.1L1499.9,3333.1L1500.0,3330.1L1500.2,3327.1L1500.3,3324.1L1500.5,3321.1L1500.6,3318.1L1500.8,3315.1L1500.9,3312.1L1501.1,3309.1L1501.2,3306.1L1501.4,3303.1L1501.5,3300.1L1501.6,3297.2L1501.8,3294.2L1501.9,3291.2L1502.0,3288.2L1502.2,3285.2L1502.3,3282.2L1502.4,3279.2L1502.6,3276.2L1502.7,3273.2L1502.8,3270.2L1503.0,3267.2L1503.1,3264.2L1503.2,3261.2L1503.3,3258.2L1503.5,3255.2L1503.6,3252.2L1503.7,3249.2L1503.9,3246.2L1504.0,3243.2L1504.1,3240.2L1504.2,3237.2L1504.4,3234.2L1504.5,3231.2L1504.6,3228.2L1504.7,3225.2L1504.9,3222.2L1505.0,3219.2L1505.1,3216.2L1505.2,3213.2L1505.4,3210.2L1505.5,3207.2L1505.6,3204.2L1505.7,3201.2L1505.8,3198.2L1506.0,3195.2L1506.1,3192.2L1506.2,3189.2L1506.3,3186.2L1506.5,3183.3L1506.6,3180.3L1506.7,3177.3L1506.8,3174.3L1506.9,3171.3L1507.1,3168.3L1507.2,3165.3L1507.3,3162.3L1507.4,3159.3L1507.5,3156.3L1507.7,3153.3L1507.8,3150.3L1507.9,3147.3L1508.0,3144.3L1508.1,3141.3L1508.3,3138.3L1508.4,3135.3L1508.5,3132.3L1508.6,3129.3L1508.7,3126.3L1508.9,3123.3L1509.0,3120.3L1509.1,3117.3L1509.2,3114.3L1509.3,3111.3L1509.5,3108.3L1509.6,3105.3L1509.7,3102.3L1509.8,3099.3L1509.9,3096.3L1510.1,3093.3L1510.2,3090.3L1510.3,3087.3L1510.4,3084.3L1510.5,3081.3L1510.7,3078.3L1510.8,3075.3L1510.9,3072.3L1511.0,3069.3L1511.1,3066.3L1511.3,3063.3L1511.4,3060.4L1511.5,3057.4L1511.6,3054.4L1511.7,3051.4L1511.9,3048.4L1512.0,3045.4L1512.1,3042.4L1512.2,3039.4L1512.3,3036.4L1512.4,3033.4L1512.6,3030.4L1512.7,3027.4L1512.8,3024.4L1512.9,3021.4L1513.0,3018.4L1513.1,3015.4L1513.2,3012.4L1513.4,3009.4L1513.5,3006.4L1513.6,3003.4L1513.7,3000.4L1513.8,2997.4L1513.9,2994.4L1514.0,2991.4L1514.2,2988.4L1514.3,2985.4L1514.4,2982.4L1514.5,2979.4L1514.6,2976.4L1514.7,2973.4L1514.8,2970.4L1515.0,2967.4L1515.1,2964.4L1515.2,2961.4L1515.3,2958.4L1515.4,2955.4L1515.5,2952.4L1515.7,2949.4L1515.8,2946.4L1515.9,2943.4L1516.0,2940.4L1516.1,2937.4L1516.2,2934.4L1516.4,2931.4L1516.5,2928.4L1516.6,2925.5L1516.7,2922.5L1516.8,2919.5L1517.0,2916.5L1517.1,2913.5L1517.2,2910.5L1517.3,2907.5L1517.5,2904.5L1517.6,2901.5L1517.7,2898.5L1517.8,2895.5L1518.0,2892.5L1518.1,2889.5L1518.2,2886.5L1518.3,2883.5L1518.5,2880.5L1518.6,2877.5L1518.7,2874.5L1518.9,2871.5L1519.0,2868.5L1519.1,2865.5L1519.3,2862.5L1519.4,2859.5L1519.5,2856.5L1519.7,2853.5L1519.8,2850.5L1519.9,2847.5L1520.1,2844.5L1520.2,2841.5L1520.3,2838.5L1520.5,2835.5L1520.6,2832.5L1520.7,2829.5L1520.9,2826.5L1521.0,2823.5L1521.1,2820.5L1521.3,2817.6L1521.4,2814.6L1521.5,2811.6L1521.7,2808.6L1521.8,2805.6L1521.9,2802.6L1522.1,2799.6L1522.2,2796.6L1522.4,2793.6L1522.5,2790.6L1522.6,2787.6L1522.8,2784.6L1522.9,2781.6L1523.1,2778.6L1523.2,2775.6L1523.3,2772.6L1523.5,2769.6L1523.6,2766.6L1523.8,2763.6L1523.9,2760.6L1524.1,2757.6L1524.2,2754.6L1524.3,2751.6L1524.5,2748.6L1524.6,2745.6L1524.8,2742.6L1524.9,2739.6L1525.1,2736.6L1525.2,2733.6L1525.4,2730.6L1525.5,2727.7L1525.7,2724.7L1525.8,2721.7L1526.0,2718.7L1526.1,2715.7L1526.3,2712.7L1526.4,2709.7L1526.6,2706.7L1526.7,2703.7L1526.9,2700.7L1527.0,2697.7L1527.2,2694.7L1527.4,2691.7L1527.5,2688.7L1527.7,2685.7L1527.9,2682.7L1528.0,2679.7L1528.2,2676.7L1528.3,2673.7L1528.5,2670.7L1528.7,2667.7L1528.9,2664.7L1529.0,2661.7L1529.2,2658.8L1529.4,2655.8L1529.5,2652.8L1529.7,2649.8L1529.9,2646.8L1530.1,2643.8L1530.3,2640.8L1530.4,2637.8L1530.6,2634.8L1530.8,2631.8L1531.0,2628.8L1531.2,2625.8L1531.4,2622.8L1531.6,2619.8L1531.8,2616.8L1532.0,2613.8L1532.1,2610.8L1532.3,2607.8L1532.5,2604.9L1532.8,2601.9L1533.0,2598.9L1533.2,2595.9L1533.4,2592.9L1533.6,2589.9L1533.8,2586.9L1534.0,2583.9L1534.2,2580.9L1534.5,2577.9L1534.7,2574.9L1534.9,2571.9L1535.1,2568.9L1535.3,2566.0L1535.6,2563.0L1535.8,2560.0L1536.0,2557.0L1536.2,2554.0L1536.4,2551.0L1536.7,2548.0L1536.9,2545.0L1537.1,2542.0L1537.4,2539.0L1537.6,2536.0L1537.9,2533.1L1538.1,2530.1L1538.4,2527.1L1538.6,2524.1L1538.9,2521.1L1539.2,2518.1L1539.5,2515.1L1539.7,2512.1L1540.0,2509.2L1540.3,2506.2L1540.7,2503.2L1541.0,2500.2L1541.3,2497.2L1541.7,2494.2L1542.0,2491.3L1542.3,2488.3L1542.7,2485.3L1543.1,2482.3L1543.4,2479.3L1543.8,2476.4L1544.2,2473.4L1544.6,2470.4L1545.1,2467.5L1545.5,2464.5L1546.0,2461.5L1546.5,2458.6L1547.0,2455.6L1547.5,2452.7L1548.1,2449.7L1548.7,2446.8L1549.4,2443.9L1550.1,2440.9L1550.8,2438.0L1551.5,2435.1L1552.3,2432.2L1553.1,2429.3L1553.9,2426.5L1554.8,2423.6L1555.6,2420.7L1556.4,2417.8L1557.2,2414.9L1558.0,2412.0L1558.8,2409.1L1559.7,2406.3L1560.7,2403.4L1561.9,2400.7L1563.3,2398.0L1564.8,2395.5L1566.6,2393.1L1568.6,2390.9L1570.7,2388.9L1573.1,2387.0L1575.5,2385.3L1578.0,2383.7L1580.6,2382.1L1583.2,2380.6L1585.8,2379.2L1588.6,2378.0L1591.4,2377.0L1594.2,2376.2L1597.2,2375.5L1600.1,2374.9L1603.0,2374.4L1606.0,2373.9L1609.0,2373.6L1612.0,2373.4L1615.0,2373.2L1618.0,2373.0L1621.0,2372.9L1624.0,2372.8L1627.0,2372.6L1630.0,2372.5L1633.0,2372.3L1635.9,2372.0L1638.9,2371.8L1641.9,2371.5L1644.9,2371.3L1647.9,2371.0L1650.9,2370.9L1653.9,2370.7L1656.9,2370.6L1659.9,2370.6L1662.9,2370.7L1665.9,2370.8L1668.9,2371.0L1671.8,2371.3L1674.8,2371.7L1677.8,2372.0L1680.8,2372.3L1683.8,2372.6L1686.8,2372.8L1689.8,2372.9L1692.8,2372.9L1695.7,2372.7L1698.7,2372.3L1701.6,2371.8L1704.6,2371.0L1707.4,2370.2L1710.3,2369.3L1713.1,2368.3L1716.0,2367.3L1718.8,2366.4L1721.6,2365.4L1724.4,2364.4L1727.3,2363.3L1730.1,2362.4L1733.0,2361.6L1735.9,2361.2L1738.8,2361.2L1741.7,2361.6L1744.5,2362.4L1747.4,2363.4L1750.2,2364.4L1753.0,2365.3L1755.9,2366.0L1758.9,2366.6L1761.8,2367.0L1764.8,2367.4L1767.8,2367.8L1770.8,2368.0L1773.8,2368.3L1776.8,2368.5L1779.8,2368.8L1782.7,2369.0L1785.7,2369.2L1788.7,2369.3L1791.7,2369.5L1794.7,2369.7L1797.7,2369.9L1800.7,2370.0L1803.7,2370.2L1806.7,2370.3L1809.7,2370.4L1812.7,2370.5L1815.7,2370.6L1818.7,2370.6L1821.7,2370.7L1824.7,2370.7L1827.7,2370.8L1830.7,2370.8L1833.7,2370.9L1836.7,2370.9L1839.7,2371.0L1842.7,2371.1L1845.7,2371.2L1848.7,2371.3L1851.7,2371.4L1854.7,2371.6L1857.7,2371.7L1860.7,2371.9L1863.7,2372.2L1866.7,2372.4L1869.6,2372.7L1872.6,2373.0L1875.6,2373.3L1878.6,2373.5L1881.6,2373.8L1884.6,2374.1L1887.6,2374.3L1890.6,2374.5L1893.6,2374.7L1896.6,2374.9L1899.5,2375.1L1902.5,2375.2L1905.5,2375.3L1908.5,2375.3L1911.5,2375.3L1914.5,2375.4L1917.5,2375.4L1920.5,2375.4L1923.5,2375.3L1926.5,2375.3L1929.5,2375.3L1932.5,2375.2L1935.5,2375.2L1938.5,2375.1L1941.5,2375.0L1944.5,2375.0L1947.5,2374.9L1950.5,2374.8L1953.5,2374.7L1956.5,2374.6L1959.5,2374.5L1962.5,2374.4L1965.5,2374.3L1968.5,2374.2L1971.5,2374.1L1974.5,2374.0L1977.5,2374.0L1980.5,2373.9L1983.5,2373.8L1986.5,2373.8L1989.5,2373.7L1992.5,2373.6L1995.5,2373.5L1998.5,2373.4L2001.5,2373.2L2004.5,2373.0L2007.5,2372.7L2010.4,2372.2L2013.4,2371.7L2016.3,2371.1L2019.2,2370.4L2022.1,2369.6L2025.0,2368.8L2027.9,2368.0L2030.8,2367.2L2033.7,2366.4L2036.6,2365.7L2039.5,2364.9L2042.4,2364.2L2045.3,2363.4L2048.2,2362.7L2051.1,2362.0L2054.1,2361.4L2057.0,2361.0L2060.0,2360.6L2063.0,2360.3L2066.0,2360.1L2069.0,2360.0L2072.0,2360.0L2075.0,2360.0L2078.0,2360.1L2081.0,2360.2L2084.0,2360.3L2087.0,2360.5L2090.0,2360.6L2093.0,2360.7L2096.0,2360.8L2099.0,2360.9L2102.0,2361.0L2105.0,2361.0L2108.0,2361.1L2111.0,2361.1L2114.0,2361.1L2117.0,2361.1L2120.0,2361.1L2123.0,2361.2L2126.0,2361.2L2129.0,2361.2L2132.0,2361.2L2135.0,2361.2L2138.0,2361.2L2141.0,2361.2L2144.0,2361.2L2147.0,2361.2L2150.0,2361.2L2153.0,2361.2L2156.0,2361.2L2159.0,2361.2L2162.0,2361.2L2165.0,2361.2L2168.0,2361.2L2171.0,2361.2L2174.0,2361.2L2177.0,2361.2L2180.0,2361.2L2183.0,2361.2L2186.0,2361.2L2189.0,2361.2L2192.0,2361.2L2195.0,2361.2L2198.0,2361.2L2201.0,2361.2L2204.0,2361.2L2207.0,2361.2L2210.0,2361.2L2213.0,2361.2L2216.0,2361.2L2219.0,2361.2L2222.0,2361.2L2225.0,2361.2L2228.0,2361.2L2231.0,2361.2L2234.0,2361.2L2237.0,2361.2L2240.0,2361.2L2243.0,2361.2L2246.0,2361.2L2249.0,2361.2L2252.0,2361.2L2255.0,2361.2L2258.0,2361.2L2261.0,2361.2L2264.0,2361.2L2267.0,2361.2L2270.0,2361.2L2273.0,2361.2L2276.0,2361.2L2279.0,2361.2L2282.0,2361.2L2285.0,2361.2L2288.0,2361.2L2291.0,2361.2L2294.0,2361.2L2297.0,2361.1L2300.0,2361.1L2303.0,2361.1L2306.0,2361.1L2309.0,2361.1L2312.0,2361.1L2315.0,2361.1L2318.0,2361.1L2321.0,2361.1L2324.0,2361.1L2327.0,2361.1L2330.0,2361.1L2333.0,2361.1L2336.0,2361.1L2339.0,2361.1L2342.0,2361.1L2345.0,2361.1L2348.0,2361.1L2351.0,2361.1L2354.0,2361.1L2357.0,2361.1L2360.0,2361.1L2363.0,2361.1L2366.0,2361.1L2369.0,2361.1" fill="none" stroke="#FF8000" stroke-width="6" stroke-linejoin="round" stroke-linecap="butt"/>
</g>
<rect x="485.0" y="2260.0" width="1884.0" height="1518.0" fill="none" stroke="#000" stroke-width="6"/>
<path d="M566.9,3778.0v32.5M730.7,3778.0v17.5M894.6,3778.0v32.5M1058.4,3778.0v17.5M1222.2,3778.0v32.5M1386.0,3778.0v17.5M1549.9,3778.0v32.5M1713.7,3778.0v17.5M1877.5,3778.0v32.5M2041.3,3778.0v17.5M2205.2,3778.0v32.5M2369.0,3778.0v17.5M485.0,2260.0h-17.5M485.0,2361.2h-32.5M485.0,2462.4h-17.5M485.0,2563.6h-32.5M485.0,2664.8h-17.5M485.0,2766.0h-32.5M485.0,2867.2h-17.5M485.0,2968.4h-32.5M485.0,3069.6h-17.5M485.0,3170.8h-32.5M485.0,3272.0h-17.5M485.0,3373.2h-32.5M485.0,3474.4h-17.5M485.0,3575.6h-32.5M485.0,3676.8h-17.5M485.0,3778.0h-32.5" stroke="#000" stroke-width="5" fill="none"/>
<text x="566.9" y="3875.5" font-family="'Liberation Serif', 'Times New Roman', serif" font-size="66" text-anchor="middle" stroke="#fff" stroke-width="0.6">100</text>
<text x="894.6" y="3875.5" font-family="'Liberation Serif', 'Times New Roman', serif" font-size="66" text-anchor="middle" stroke="#fff" stroke-width="0.6">200</text>
<text x="1222.2" y="3875.5" font-family="'Liberation Serif', 'Times New Roman', serif" font-size="66" text-anchor="middle" stroke="#fff" stroke-width="0.6">300</text>
<text x="1549.9" y="3875.5" font-family="'Liberation Serif', 'Times New Roman', serif" font-size="66" text-anchor="middle" stroke="#fff" stroke-width="0.6">400</text>
<text x="1877.5" y="3875.5" font-family="'Liberation Serif', 'Times New Roman', serif" font-size="66" text-anchor="middle" stroke="#fff" stroke-width="0.6">500</text>
<text x="2205.2" y="3875.5" font-family="'Liberation Serif', 'Times New Roman', serif" font-size="66" text-anchor="middle" stroke="#fff" stroke-width="0.6">600</text>
<text x="435" y="2376.2" font-family="'Liberation Serif', 'Times New Roman', serif" font-size="66" text-anchor="end" stroke="#fff" stroke-width="0.6">0.0</text>
<text x="435" y="2578.6" font-family="'Liberation Serif', 'Times New Roman', serif" font-size="66" text-anchor="end" stroke="#fff" stroke-width="0.6">-0.5</text>
<text x="435" y="2781.0" font-family="'Liberation Serif', 'Times New Roman', serif" font-size="66" text-anchor="end" stroke="#fff" stroke-width="0.6">-1.0</text>
<text x="435" y="2983.4" font-family="'Liberation Serif', 'Times New Roman', serif" font-size="66" text-anchor="end" stroke="#fff" stroke-width="0.6">-1.5</text>
<text x="435" y="3185.8" font-family="'Liberation Serif', 'Times New Roman', serif" font-size="66" text-anchor="end" stroke="#fff" stroke-width="0.6">-2.0</text>
<text x="435" y="3388.2" font-family="'Liberation Serif', 'Times New Roman', serif" font-size="66" text-anchor="end" stroke="#fff" stroke-width="0.6">-2.5</text>
<text x="435" y="3590.6" font-family="'Liberation Serif', 'Times New Roman', serif" font-size="66" text-anchor="end" stroke="#fff" stroke-width="0.6">-3.0</text>
<text x="435" y="3793.0" font-family="'Liberation Serif', 'Times New Roman', serif" font-size="66" text-anchor="end" stroke="#fff" stroke-width="0.6">-3.5</text>
<text x="1424.4" y="4014.3" font-family="'Liberation Serif', 'Times New Roman', serif" font-size="85" text-anchor="middle" textLength="607.5" lengthAdjust="spacingAndGlyphs">Temperature (<tspan font-size="55" dy="-30">o</tspan><tspan dy="30">C)</tspan></text>
<text transform="translate(237.7,2996) rotate(-90)" x="0" y="0" font-family="'Liberation Serif', 'Times New Roman', serif" font-size="85" text-anchor="middle" textLength="759" lengthAdjust="spacingAndGlyphs">First derivate (mg/s)</text>
<rect x="562.2" y="3232.2" width="386.9" height="470.5" fill="#fff"/><path d="M559.6,3232.2H951.7M562.2,3232.2V3702.7M949.1,3232.2V3702.7" stroke="#8c8c8c" stroke-width="5.2" fill="none"/><path d="M559.7,3702.7H951.6" stroke="#1e1e1e" stroke-width="3" fill="none"/><path d="M565.0,3264.0H677.0" stroke="#000000" stroke-width="5.6"/><text x="684.4" y="3279.5" font-family="'Liberation Serif', 'Times New Roman', serif" font-size="46" textLength="65.5" lengthAdjust="spacingAndGlyphs">GA</text><path d="M565.0,3322.3H677.0" stroke="#FF0000" stroke-width="5.6"/><text x="684.4" y="3337.8" font-family="'Liberation Serif', 'Times New Roman', serif" font-size="46" textLength="209.5" lengthAdjust="spacingAndGlyphs">Monolayer</text><path d="M565.0,3379.5H677.0" stroke="#0000FF" stroke-width="5.6"/><text x="684.4" y="3395.0" font-family="'Liberation Serif', 'Times New Roman', serif" font-size="46" textLength="191.0" lengthAdjust="spacingAndGlyphs">Bilayer 1h</text><path d="M565.0,3437.3H677.0" stroke="#FF00FF" stroke-width="5.6"/><text x="684.4" y="3452.8" font-family="'Liberation Serif', 'Times New Roman', serif" font-size="46" textLength="191.0" lengthAdjust="spacingAndGlyphs">Bilayer 2h</text><path d="M565.0,3496.0H677.0" stroke="#008000" stroke-width="5.6"/><text x="684.4" y="3511.5" font-family="'Liberation Serif', 'Times New Roman', serif" font-size="46" textLength="191.0" lengthAdjust="spacingAndGlyphs">Bilayer 3h</text><path d="M565.0,3554.1H677.0" stroke="#000080" stroke-width="5.6"/><text x="684.4" y="3569.6" font-family="'Liberation Serif', 'Times New Roman', serif" font-size="46" textLength="259.5" lengthAdjust="spacingAndGlyphs">Multilayer 1h</text><path d="M565.0,3612.3H677.0" stroke="#FFFF00" stroke-width="5.6"/><text x="684.4" y="3627.8" font-family="'Liberation Serif', 'Times New Roman', serif" font-size="46" textLength="259.5" lengthAdjust="spacingAndGlyphs">Multilayer 2h</text><path d="M565.0,3669.8H677.0" stroke="#FF8000" stroke-width="5.6"/><text x="684.4" y="3685.3" font-family="'Liberation Serif', 'Times New Roman', serif" font-size="46" textLength="259.5" lengthAdjust="spacingAndGlyphs">Multilayer 3h</text>
</svg>
</body></html>
